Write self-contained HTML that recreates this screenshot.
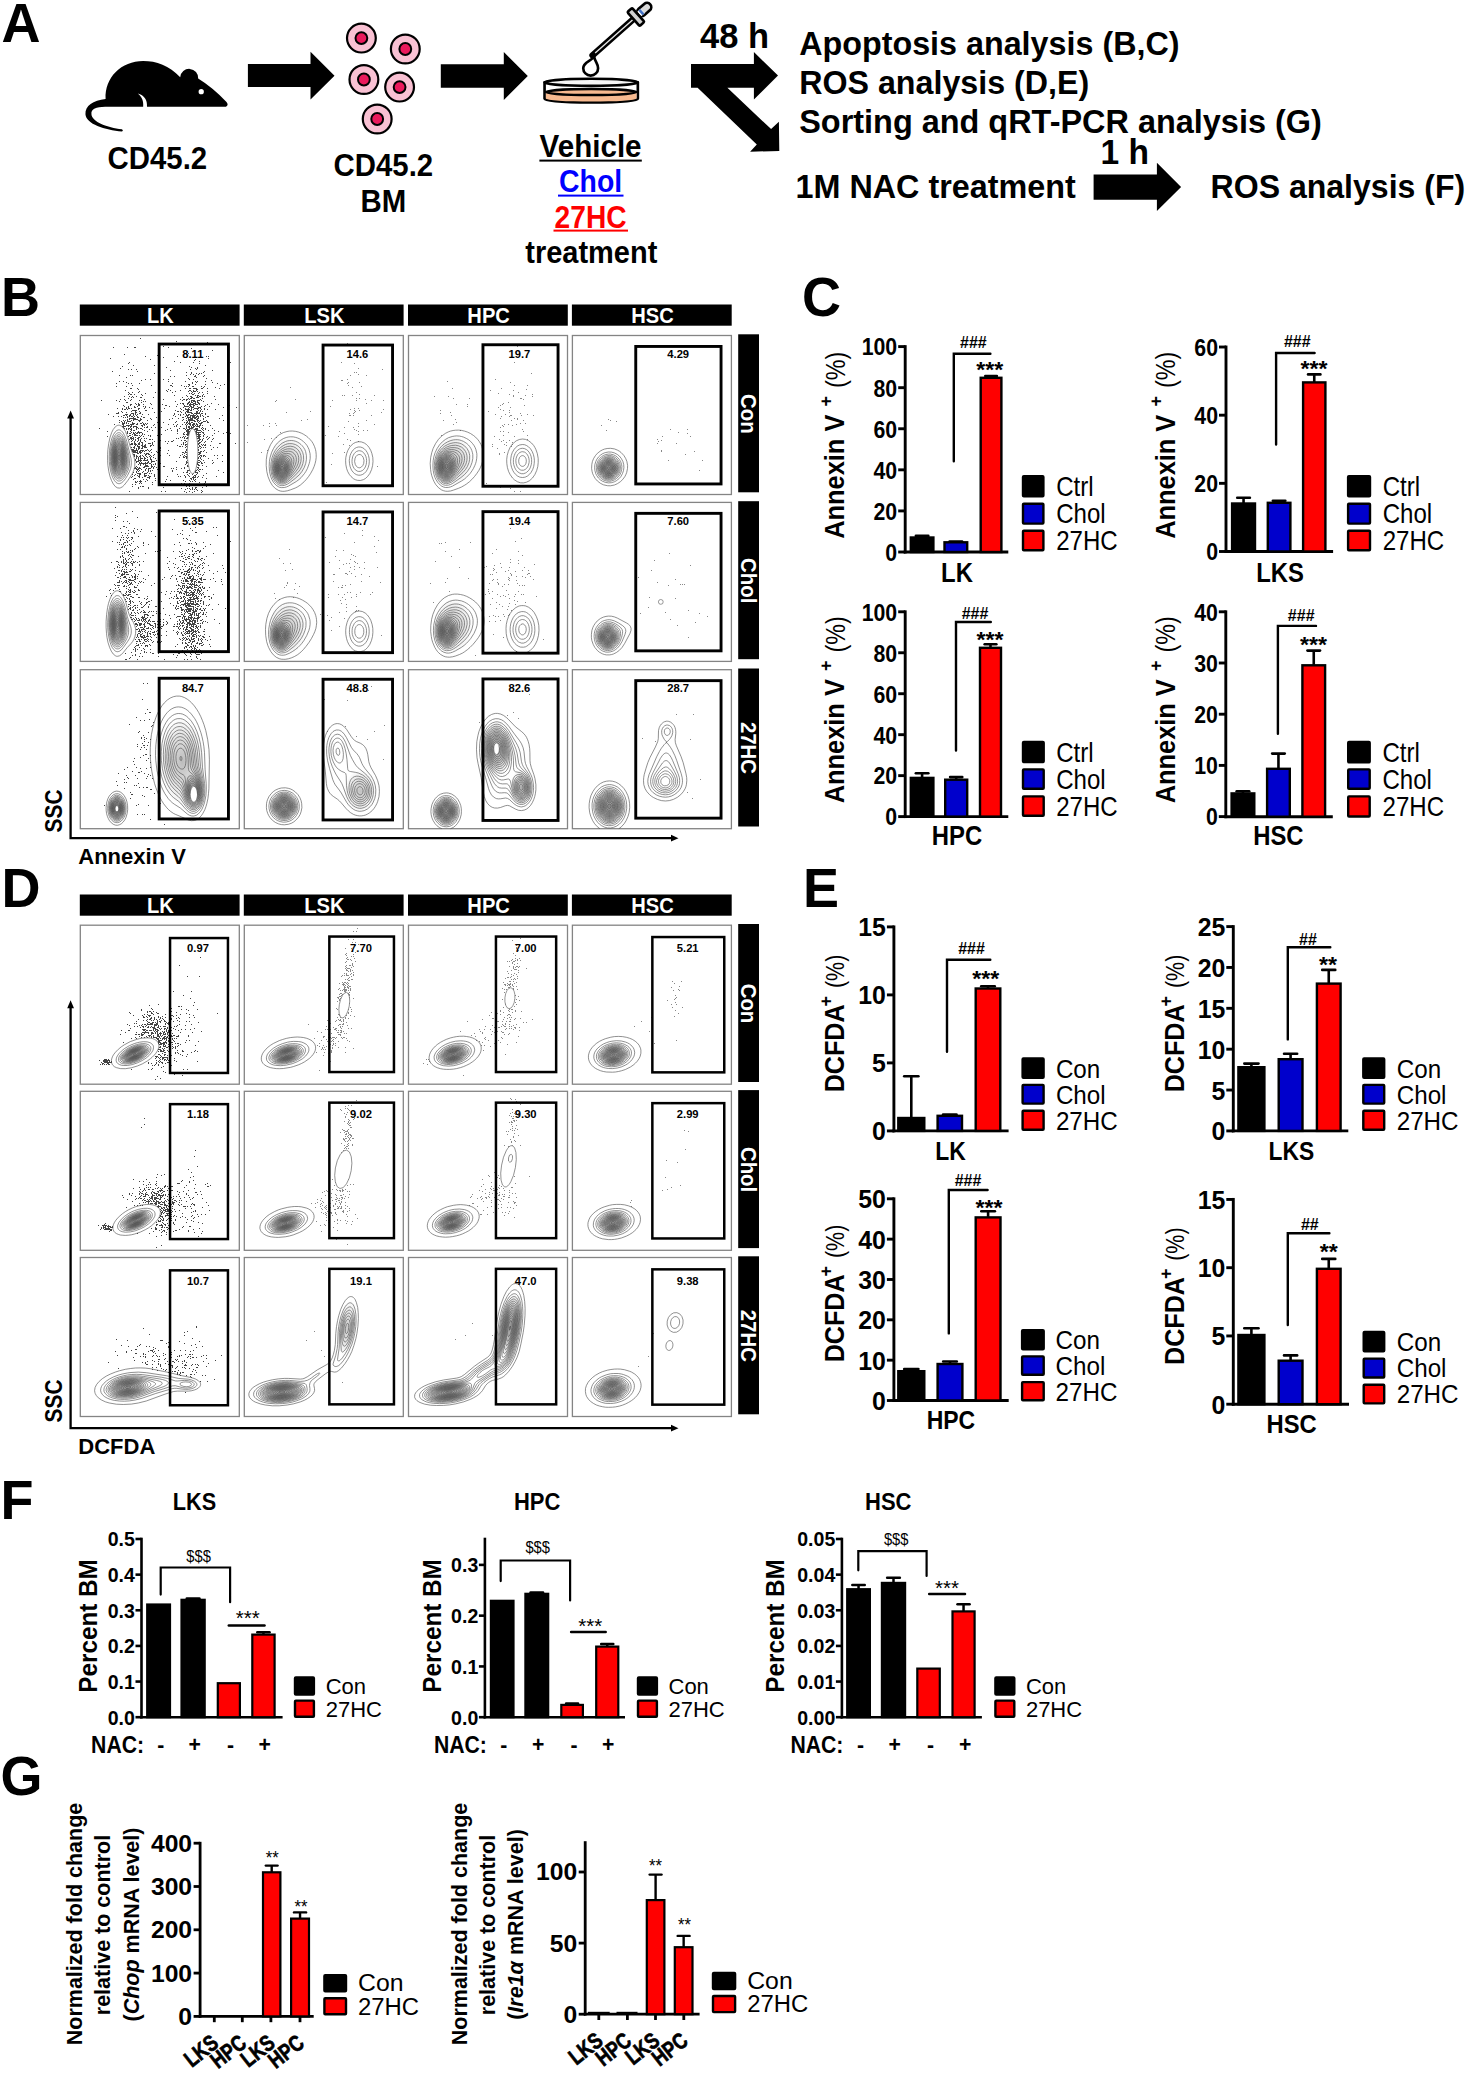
<!DOCTYPE html>
<html><head><meta charset="utf-8"><title>Figure</title>
<style>html,body{margin:0;padding:0;background:#fff}svg{display:block}text{font-family:"Liberation Sans",sans-serif}</style></head>
<body><svg width="1469" height="2074" viewBox="0 0 1469 2074">
<defs><radialGradient id="cg"><stop offset="0" stop-color="#333" stop-opacity=".6"/><stop offset=".55" stop-color="#444" stop-opacity=".32"/><stop offset="1" stop-color="#555" stop-opacity="0"/></radialGradient></defs>
<rect width="1469" height="2074" fill="#fff"/>
<text x="1.4" y="41.7" font-size="56.16" font-weight="bold" textLength="39" lengthAdjust="spacingAndGlyphs">A</text>
<g transform="translate(80 50) scale(0.10892)"><path d="M1340 522 Q1368 505 1345 478 Q1220 345 1085 262 A80 80 0 1 0 920 250 C820 140 700 100 580 100 C380 100 225 250 235 450 C120 465 45 510 50 590 C55 680 230 735 385 748 Q402 740 385 728 C250 712 110 660 105 590 C100 540 150 524 230 522 L580 522 C585 470 570 430 530 400 C590 415 620 460 615 522 Z" fill="#000"/><circle cx="1113" cy="383" r="24" fill="#fff"/></g>
<text x="157.4" y="169.4" font-size="31.1" font-weight="bold" text-anchor="middle" textLength="99.6" lengthAdjust="spacingAndGlyphs">CD45.2</text>
<polygon points="247.9,64 310.5,64 310.5,51.7 334.5,75.7 310.5,99.4 310.5,87.1 247.9,87.1" fill="#000"/>
<circle cx="361.4" cy="38.1" r="14.4" fill="#f9c1d3" stroke="#000" stroke-width="2.2"/>
<circle cx="361.4" cy="38.1" r="5.9" fill="#ea1a5c" stroke="#000" stroke-width="2"/>
<circle cx="405.3" cy="49" r="14.4" fill="#f9c1d3" stroke="#000" stroke-width="2.2"/>
<circle cx="405.3" cy="49" r="5.9" fill="#ea1a5c" stroke="#000" stroke-width="2"/>
<circle cx="363.9" cy="79.5" r="14.4" fill="#f9c1d3" stroke="#000" stroke-width="2.2"/>
<circle cx="363.9" cy="79.5" r="5.9" fill="#ea1a5c" stroke="#000" stroke-width="2"/>
<circle cx="399.6" cy="87.1" r="14.4" fill="#f9c1d3" stroke="#000" stroke-width="2.2"/>
<circle cx="399.6" cy="87.1" r="5.9" fill="#ea1a5c" stroke="#000" stroke-width="2"/>
<circle cx="377.2" cy="119" r="14.4" fill="#f9c1d3" stroke="#000" stroke-width="2.2"/>
<circle cx="377.2" cy="119" r="5.9" fill="#ea1a5c" stroke="#000" stroke-width="2"/>
<text x="383.4" y="176.2" font-size="31.1" font-weight="bold" text-anchor="middle" textLength="99.6" lengthAdjust="spacingAndGlyphs">CD45.2</text>
<text x="383.4" y="211.6" font-size="31.1" font-weight="bold" text-anchor="middle" textLength="45.7" lengthAdjust="spacingAndGlyphs">BM</text>
<polygon points="440.8,64.2 503.8,64.2 503.8,52 527.8,76 503.8,100 503.8,87.7 440.8,87.7" fill="#000"/>
<g transform="translate(535 0) scale(0.0885)"><g transform="translate(650 625) rotate(-41.5)"><rect x="690" y="-48" width="180" height="96" rx="48" fill="#d9d9d9" stroke="#000" stroke-width="30"/><rect x="705" y="-34" width="52" height="68" fill="#fff"/><rect x="722" y="-34" width="30" height="68" fill="#4472c4"/><line x1="0" y1="0" x2="620" y2="0" stroke="#000" stroke-width="72" stroke-linecap="round"/><line x1="40" y1="0" x2="620" y2="0" stroke="#e6e6e6" stroke-width="16"/><rect x="618" y="-105" width="72" height="210" rx="14" fill="#d0d0d0" stroke="#000" stroke-width="30"/></g><path d="M668 640 C640 690 545 700 545 770 A84 84 0 0 0 713 770 C713 720 680 700 668 640 Z" fill="#fff" stroke="#000" stroke-width="30" stroke-linejoin="round"/><path d="M108 930 L108 1115 A527 42 0 0 0 1162 1115 L1162 930 Z" fill="#fff" stroke="#000" stroke-width="30" stroke-linejoin="round"/><path d="M123 1040 L123 1113 A512 34 0 0 0 1147 1113 L1147 1040 Z" fill="#f7b98f"/><ellipse cx="635" cy="1040" rx="512" ry="34" fill="#f7b98f" stroke="#000" stroke-width="28"/><ellipse cx="635" cy="930" rx="527" ry="40" fill="#f6f6f6" stroke="#000" stroke-width="30"/></g>
<text x="590.6" y="157.3" font-size="31.1" font-weight="bold" text-anchor="middle" textLength="102" lengthAdjust="spacingAndGlyphs">Vehicle</text>
<rect x="539.4" y="159.6" width="102.4" height="2" fill="#000"/>
<text x="590.6" y="191.7" font-size="31.1" font-weight="bold" text-anchor="middle" fill="#0000ff" textLength="63" lengthAdjust="spacingAndGlyphs">Chol</text>
<rect x="558" y="194.6" width="65.5" height="2" fill="#0000ff"/>
<text x="590.6" y="227.8" font-size="31.1" font-weight="bold" text-anchor="middle" fill="#ff0000" textLength="72" lengthAdjust="spacingAndGlyphs">27HC</text>
<rect x="553.5" y="229.6" width="74.5" height="2" fill="#ff0000"/>
<text x="591.3" y="263.4" font-size="31.1" font-weight="bold" text-anchor="middle" textLength="132" lengthAdjust="spacingAndGlyphs">treatment</text>
<text x="700.1" y="47.6" font-size="34.94" font-weight="bold" textLength="69" lengthAdjust="spacingAndGlyphs">48 h</text>
<polygon points="691,64.1 753.9,64.1 753.9,52.1 778,75.5 753.9,99.6 753.9,87.8 727.4,87.8 771.1,129.1 778.9,121.7 779.3,150.9 750.1,151.8 756.8,144.4 697.6,87.8 691,87.8" fill="#000"/>
<text x="799.2" y="55.3" font-size="33.9" font-weight="bold" textLength="380.3" lengthAdjust="spacingAndGlyphs">Apoptosis analysis (B,C)</text>
<text x="799.2" y="94" font-size="33.9" font-weight="bold" textLength="290" lengthAdjust="spacingAndGlyphs">ROS analysis (D,E)</text>
<text x="799.2" y="132.7" font-size="33.9" font-weight="bold" textLength="522.6" lengthAdjust="spacingAndGlyphs">Sorting and qRT-PCR analysis (G)</text>
<text x="795.5" y="197.6" font-size="33.9" font-weight="bold" textLength="280.3" lengthAdjust="spacingAndGlyphs">1M NAC treatment</text>
<text x="1100.5" y="164.1" font-size="34.94" font-weight="bold" textLength="48.5" lengthAdjust="spacingAndGlyphs">1 h</text>
<polygon points="1093.6,174.6 1156.9,174.6 1156.9,162.7 1181.1,186.9 1156.9,211 1156.9,199.8 1093.6,199.8" fill="#000"/>
<text x="1210.6" y="197.6" font-size="33.9" font-weight="bold" textLength="254.6" lengthAdjust="spacingAndGlyphs">ROS analysis (F)</text>
<text x="1" y="315.9" font-size="56.16" font-weight="bold" textLength="39" lengthAdjust="spacingAndGlyphs">B</text>
<rect x="79.8" y="304.5" width="159.8" height="21.2" fill="#000"/>
<text x="160.4" y="323.05" font-size="22.1" font-weight="bold" text-anchor="middle" fill="#fff" textLength="26.81" lengthAdjust="spacingAndGlyphs">LK</text>
<rect x="243.8" y="304.5" width="159.8" height="21.2" fill="#000"/>
<text x="324.4" y="323.05" font-size="22.1" font-weight="bold" text-anchor="middle" fill="#fff" textLength="40.22" lengthAdjust="spacingAndGlyphs">LSK</text>
<rect x="408" y="304.5" width="159.8" height="21.2" fill="#000"/>
<text x="488.6" y="323.05" font-size="22.1" font-weight="bold" text-anchor="middle" fill="#fff" textLength="42.46" lengthAdjust="spacingAndGlyphs">HPC</text>
<rect x="571.9" y="304.5" width="159.8" height="21.2" fill="#000"/>
<text x="652.5" y="323.05" font-size="22.1" font-weight="bold" text-anchor="middle" fill="#fff" textLength="42.46" lengthAdjust="spacingAndGlyphs">HSC</text>
<rect x="738.2" y="334.3" width="20.8" height="158" fill="#000"/>
<text x="741.1" y="413.8" font-size="21.74" font-weight="bold" text-anchor="middle" fill="#fff" transform="rotate(90 741.1 413.8)" textLength="39.65" lengthAdjust="spacingAndGlyphs">Con</text>
<rect x="738.2" y="501.2" width="20.8" height="158" fill="#000"/>
<text x="741.1" y="580.7" font-size="21.74" font-weight="bold" text-anchor="middle" fill="#fff" transform="rotate(90 741.1 580.7)" textLength="45.32" lengthAdjust="spacingAndGlyphs">Chol</text>
<rect x="738.2" y="668.5" width="20.8" height="158" fill="#000"/>
<text x="741.1" y="748" font-size="21.74" font-weight="bold" text-anchor="middle" fill="#fff" transform="rotate(90 741.1 748)" textLength="52.15" lengthAdjust="spacingAndGlyphs">27HC</text>
<rect x="80.3" y="335.5" width="159" height="159" fill="#fff" stroke="#848484" stroke-width="1.3"/>
<rect x="244.3" y="335.5" width="159" height="159" fill="#fff" stroke="#848484" stroke-width="1.3"/>
<rect x="408.5" y="335.5" width="159" height="159" fill="#fff" stroke="#848484" stroke-width="1.3"/>
<rect x="572.4" y="335.5" width="159" height="159" fill="#fff" stroke="#848484" stroke-width="1.3"/>
<rect x="80.3" y="502.4" width="159" height="159" fill="#fff" stroke="#848484" stroke-width="1.3"/>
<rect x="244.3" y="502.4" width="159" height="159" fill="#fff" stroke="#848484" stroke-width="1.3"/>
<rect x="408.5" y="502.4" width="159" height="159" fill="#fff" stroke="#848484" stroke-width="1.3"/>
<rect x="572.4" y="502.4" width="159" height="159" fill="#fff" stroke="#848484" stroke-width="1.3"/>
<rect x="80.3" y="669.7" width="159" height="159" fill="#fff" stroke="#848484" stroke-width="1.3"/>
<rect x="244.3" y="669.7" width="159" height="159" fill="#fff" stroke="#848484" stroke-width="1.3"/>
<rect x="408.5" y="669.7" width="159" height="159" fill="#fff" stroke="#848484" stroke-width="1.3"/>
<rect x="572.4" y="669.7" width="159" height="159" fill="#fff" stroke="#848484" stroke-width="1.3"/>
<ellipse cx="118.8" cy="456.5" rx="8.36" ry="23.75" fill="url(#cg)" opacity="1" transform="rotate(0 118.8 456.5)"/><ellipse cx="281.3" cy="469.5" rx="9.5" ry="15.2" fill="url(#cg)" opacity="1" transform="rotate(0 281.3 469.5)"/><ellipse cx="288.3" cy="461.5" rx="19" ry="24.7" fill="url(#cg)" opacity="0.5" transform="rotate(0 288.3 461.5)"/><ellipse cx="445.5" cy="467.5" rx="10.45" ry="17.1" fill="url(#cg)" opacity="1" transform="rotate(0 445.5 467.5)"/><ellipse cx="453.5" cy="460.5" rx="19" ry="24.7" fill="url(#cg)" opacity="0.5" transform="rotate(0 453.5 460.5)"/><ellipse cx="608.4" cy="468.5" rx="10.45" ry="11.4" fill="url(#cg)" opacity="1" transform="rotate(0 608.4 468.5)"/><ellipse cx="117.3" cy="623.4" rx="8.36" ry="24.7" fill="url(#cg)" opacity="1" transform="rotate(0 117.3 623.4)"/><ellipse cx="280.8" cy="636.4" rx="9.5" ry="15.2" fill="url(#cg)" opacity="1" transform="rotate(0 280.8 636.4)"/><ellipse cx="287.3" cy="628.4" rx="19" ry="26.6" fill="url(#cg)" opacity="0.5" transform="rotate(0 287.3 628.4)"/><ellipse cx="446.2" cy="632.4" rx="10.45" ry="17.1" fill="url(#cg)" opacity="1" transform="rotate(0 446.2 632.4)"/><ellipse cx="453.5" cy="625.4" rx="19" ry="26.6" fill="url(#cg)" opacity="0.5" transform="rotate(0 453.5 625.4)"/><ellipse cx="607.4" cy="637.4" rx="10.45" ry="12.35" fill="url(#cg)" opacity="1" transform="rotate(0 607.4 637.4)"/><ellipse cx="116.9" cy="808.2" rx="8.17" ry="12.92" fill="url(#cg)" opacity="1" transform="rotate(0 116.9 808.2)"/><ellipse cx="193.8" cy="791.7" rx="10.45" ry="20.9" fill="url(#cg)" opacity="0.9" transform="rotate(0 193.8 791.7)"/><ellipse cx="182.3" cy="761.7" rx="21.85" ry="43.7" fill="url(#cg)" opacity="0.55" transform="rotate(0 182.3 761.7)"/><ellipse cx="284.1" cy="806.3" rx="13.3" ry="13.87" fill="url(#cg)" opacity="1" transform="rotate(0 284.1 806.3)"/><ellipse cx="360.3" cy="791.2" rx="16.15" ry="20.9" fill="url(#cg)" opacity="0.5" transform="rotate(0 360.3 791.2)"/><ellipse cx="446.2" cy="811.2" rx="11.4" ry="13.68" fill="url(#cg)" opacity="1" transform="rotate(0 446.2 811.2)"/><ellipse cx="496.5" cy="748.4" rx="15.2" ry="26.6" fill="url(#cg)" opacity="0.9" transform="rotate(0 496.5 748.4)"/><ellipse cx="521.5" cy="787.7" rx="11.4" ry="18.05" fill="url(#cg)" opacity="0.7" transform="rotate(0 521.5 787.7)"/><ellipse cx="609.4" cy="806.3" rx="15.2" ry="19" fill="url(#cg)" opacity="1" transform="rotate(0 609.4 806.3)"/>
<path transform="translate(0 .5)" d="m140 338h1m35 3h1m30 1h1m-45 4h1m-51 1h1m13 0h1m6 0h1m0 0h1m32 0h1m22 1h1m20 2h1m-25 3h1m-65 1h1m32 1h1m-13 1h1m31 0h1m28 0h1m1 0h1m-46 1h1m-54 1h1m97 0h1m-59 1h1m44 0h1m-2 1h1m-21 1h1m24 0h1m-71 1h1m50 0h1m12 0h1m36 0h1m-103 1h1m70 0h1m-67 2h1m20 0h1m50 0h1m-84 1h1m66 0h1m-24 1h1m24 0h1m5 0h1m-78 1h1m74 0h1m1 0h1m-70 1h1m2 0h1m4 0h1m53 0h1m5 0h1m-27 1h1m41 0h1m-101 1h1m24 0h1m66 0h1m-19 1h1m4 0h1m11 0h1m25 0h1m-76 1h1m36 0h1m4 0h1m2 0h1m1 0h1m-12 1h1m2 0h1m4 0h1m-80 1h1m10 0h1m1 0h1m53 0h1m8 0h1m8 0h1m-35 1h1m3 0h1m19 0h1m0 0h1m7 0h1m-78 1h1m69 0h1m-9 1h1m17 0h1m-62 1h1m4 0h1m7 0h1m4 0h1m4 0h1m20 0h1m3 0h1m-53 1h1m69 0h1m-93 1h1m3 0h1m44 0h1m16 0h1m9 0h1m1 0h1m7 0h1m-80 1h1m65 0h1m3 0h1m15 0h1m-97 1h1m11 0h1m2 0h1m7 0h1m32 0h1m19 0h1m24 0h1m-30 1h1m0 0h1m5 0h1m9 0h1m18 0h1m-93 1h1m18 0h1m18 0h1m0 0h1m9 0h1m7 0h1m30 0h1m-105 1h1m9 0h1m45 0h1m11 0h1m1 0h1m1 0h1m3 0h1m0 0h1m7 0h1m2 0h1m-2 1h1m11 0h1m-86 1h1m0 0h1m5 0h1m47 0h1m3 0h1m0 0h1m2 0h1m0 0h1m0 0h1m0 0h1m4 0h1m0 0h1m4 0h1m11 0h1m-82 1h1m29 0h1m27 0h1m0 0h1m-73 1h1m40 0h1m3 0h1m9 0h1m8 0h1m0 0h1m2 0h1m2 0h1m31 0h1m-90 1h1m27 0h1m7 0h1m12 0h1m2 0h1m1 0h1m0 0h1m0 0h1m1 0h1m9 0h1m-80 1h1m3 0h1m5 0h1m16 0h1m16 0h1m19 0h1m6 0h1m2 0h1m-74 1h1m15 0h1m43 0h1m1 0h1m2 0h1m3 0h1m8 0h1m-80 1h1m1 0h1m0 0h1m2 0h1m6 0h1m50 0h1m0 0h1m9 0h1m-62 1h1m31 0h1m11 0h1m8 0h1m1 0h1m0 0h1m3 0h1m-79 1h1m4 0h1m2 0h1m3 0h1m50 0h1m2 0h1m0 0h1m5 0h1m1 0h1m0 0h1m1 0h1m1 0h1m9 0h1m-84 1h1m1 0h1m6 0h1m0 0h1m11 0h1m28 0h1m8 0h1m0 0h1m3 0h1m0 0h1m0 0h1m-71 1h1m59 0h1m1 0h1m0 0h1m1 0h1m0 0h1m7 0h1m-83 1h1m3 0h1m6 0h1m12 0h1m18 0h1m16 0h1m2 0h1m0 0h1m1 0h1m0 0h1m1 0h1m10 0h1m14 0h1m-115 1h1m14 0h1m8 0h1m4 0h1m8 0h1m1 0h1m40 0h1m3 0h1m4 0h1m0 0h1m0 0h1m0 0h1m2 0h1m0 0h1m0 0h1m1 0h1m-83 1h1m23 0h1m1 0h1m29 0h1m13 0h1m1 0h1m1 0h1m0 0h1m0 0h1m1 0h1m5 0h1m-78 1h1m0 0h1m13 0h1m46 0h1m0 0h1m1 0h1m0 0h1m2 0h1m1 0h1m0 0h1m-64 1h1m2 0h1m11 0h1m29 0h1m1 0h1m0 0h1m3 0h1m0 0h1m1 0h1m2 0h1m0 0h1m0 0h1m2 0h1m0 0h1m11 0h1m-82 1h1m0 0h1m4 0h1m1 0h1m0 0h1m3 0h1m7 0h1m10 0h1m14 0h1m5 0h1m3 0h1m1 0h1m0 0h1m0 0h1m0 0h1m0 0h1m1 0h1m0 0h1m0 0h1m1 0h1m7 0h1m10 0h1m-96 1h1m6 0h1m7 0h1m0 0h1m25 0h1m0 0h1m17 0h1m4 0h1m0 0h1m2 0h1m0 0h1m10 0h1m23 0h1m-106 1h1m3 0h1m5 0h1m2 0h1m5 0h1m1 0h1m12 0h1m10 0h1m6 0h1m7 0h1m0 0h1m0 0h1m0 0h1m0 0h1m1 0h1m0 0h1m1 0h1m3 0h1m3 0h1m2 0h1m4 0h1m-84 1h1m1 0h1m5 0h1m0 0h1m9 0h1m3 0h1m33 0h1m5 0h1m1 0h1m0 0h1m0 0h1m4 0h1m0 0h1m0 0h1m22 0h1m12 0h1m-120 1h1m4 0h1m3 0h1m1 0h1m0 0h1m1 0h1m6 0h1m0 0h1m4 0h1m7 0h1m11 0h1m15 0h1m4 0h1m2 0h1m2 0h1m2 0h1m0 0h1m0 0h1m0 0h1m0 0h1m1 0h1m3 0h1m-83 1h1m1 0h1m0 0h1m1 0h1m10 0h1m42 0h1m3 0h1m0 0h1m0 0h1m0 0h1m0 0h1m1 0h1m1 0h1m3 0h1m3 0h1m2 0h1m2 0h1m7 0h1m-84 1h1m0 0h1m0 0h1m0 0h1m0 0h1m8 0h1m0 0h1m28 0h1m7 0h1m3 0h1m0 0h1m1 0h1m0 0h1m6 0h1m1 0h1m-80 1h1m9 0h1m3 0h1m3 0h1m21 0h1m15 0h1m0 0h1m1 0h1m5 0h1m0 0h1m0 0h1m7 0h1m0 0h1m2 0h1m1 0h1m-85 1h1m3 0h1m3 0h1m8 0h1m0 0h1m3 0h1m13 0h1m26 0h1m3 0h1m1 0h1m0 0h1m0 0h1m0 0h1m0 0h1m4 0h1m0 0h1m1 0h1m-84 1h1m0 0h1m0 0h1m12 0h1m0 0h1m0 0h1m1 0h1m3 0h1m0 0h1m33 0h1m10 0h1m5 0h1m0 0h1m1 0h1m0 0h1m0 0h1m0 0h1m0 0h1m0 0h1m1 0h1m0 0h1m2 0h1m-98 1h1m16 0h1m0 0h1m0 0h1m2 0h1m2 0h1m1 0h1m1 0h1m4 0h1m5 0h1m25 0h1m3 0h1m1 0h1m2 0h1m2 0h1m1 0h1m0 0h1m3 0h1m2 0h1m3 0h1m4 0h1m-83 1h1m0 0h1m1 0h1m2 0h1m0 0h1m2 0h1m2 0h1m36 0h1m6 0h1m5 0h1m0 0h1m0 0h1m1 0h1m0 0h1m0 0h1m0 0h1m0 0h1m0 0h1m1 0h1m2 0h1m1 0h1m19 0h1m4 0h1m-115 1h1m4 0h1m2 0h1m5 0h1m1 0h1m1 0h1m0 0h1m1 0h1m2 0h1m3 0h1m33 0h1m9 0h1m1 0h1m2 0h1m1 0h1m0 0h1m0 0h1m1 0h1m0 0h1m0 0h1m1 0h1m2 0h1m3 0h1m0 0h1m-86 1h1m1 0h1m1 0h1m5 0h1m3 0h1m0 0h1m4 0h1m0 0h1m11 0h1m25 0h1m0 0h1m3 0h1m0 0h1m0 0h1m0 0h1m1 0h1m0 0h1m0 0h1m0 0h1m0 0h1m1 0h1m6 0h1m-77 1h1m0 0h1m0 0h1m0 0h1m0 0h1m0 0h1m0 0h1m4 0h1m9 0h1m21 0h1m5 0h1m7 0h1m1 0h1m1 0h1m0 0h1m0 0h1m1 0h1m0 0h1m1 0h1m0 0h1m4 0h1m15 0h1m-93 1h1m1 0h1m3 0h1m0 0h1m0 0h1m0 0h1m0 0h1m2 0h1m0 0h1m9 0h1m17 0h1m13 0h1m4 0h1m0 0h1m0 0h1m0 0h1m0 0h1m3 0h1m0 0h1m5 0h1m-85 1h1m3 0h1m1 0h1m1 0h1m3 0h1m1 0h1m4 0h1m0 0h1m0 0h1m6 0h1m34 0h1m3 0h1m1 0h1m0 0h1m0 0h1m0 0h1m0 0h1m0 0h1m0 0h1m2 0h1m0 0h1m1 0h1m5 0h1m16 0h1m-103 1h1m2 0h1m2 0h1m0 0h1m0 0h1m0 0h1m8 0h1m18 0h1m17 0h1m10 0h1m1 0h1m4 0h1m0 0h1m1 0h1m1 0h1m3 0h1m0 0h1m0 0h1m1 0h1m-89 1h1m2 0h1m1 0h1m1 0h1m5 0h1m9 0h1m14 0h1m5 0h1m11 0h1m8 0h1m1 0h1m0 0h1m1 0h1m1 0h1m0 0h1m5 0h1m2 0h1m0 0h1m4 0h1m0 0h1m-87 1h1m0 0h1m0 0h1m1 0h1m1 0h1m3 0h1m0 0h1m0 0h1m2 0h1m2 0h1m0 0h1m1 0h1m1 0h1m1 0h1m38 0h1m1 0h1m0 0h1m0 0h1m2 0h1m0 0h1m1 0h1m2 0h1m0 0h1m0 0h1m-88 1h1m7 0h1m0 0h1m6 0h1m0 0h1m0 0h1m0 0h1m2 0h1m0 0h1m5 0h1m0 0h1m1 0h1m7 0h1m13 0h1m4 0h1m3 0h1m4 0h1m2 0h1m1 0h1m1 0h1m0 0h1m1 0h1m0 0h1m0 0h1m1 0h1m0 0h1m2 0h1m-78 1h1m2 0h1m0 0h1m0 0h1m0 0h1m1 0h1m9 0h1m0 0h1m1 0h1m8 0h1m22 0h1m9 0h1m3 0h1m1 0h1m0 0h1m1 0h1m1 0h1m1 0h1m0 0h1m1 0h1m7 0h1m-89 1h1m0 0h1m0 0h1m0 0h1m2 0h1m1 0h1m0 0h1m1 0h1m0 0h1m0 0h1m0 0h1m5 0h1m4 0h1m26 0h1m1 0h1m3 0h1m5 0h1m1 0h1m0 0h1m1 0h1m1 0h1m0 0h1m1 0h1m0 0h1m0 0h1m0 0h1m-77 1h1m6 0h1m2 0h1m2 0h1m0 0h1m6 0h1m1 0h1m0 0h1m3 0h1m3 0h1m5 0h1m24 0h1m1 0h1m0 0h1m1 0h1m0 0h1m0 0h1m5 0h1m2 0h1m-104 1h1m24 0h1m1 0h1m1 0h1m0 0h1m1 0h1m4 0h1m1 0h1m1 0h1m0 0h1m28 0h1m8 0h1m3 0h1m0 0h1m1 0h1m2 0h1m0 0h1m0 0h1m0 0h1m2 0h1m0 0h1m0 0h1m3 0h1m1 0h1m1 0h1m6 0h1m-87 1h1m1 0h1m1 0h1m0 0h1m4 0h1m5 0h1m6 0h1m17 0h1m9 0h1m7 0h1m1 0h1m0 0h1m0 0h1m2 0h1m0 0h1m0 0h1m0 0h1m0 0h1m0 0h1m4 0h1m2 0h1m-75 1h1m1 0h1m0 0h1m9 0h1m7 0h1m6 0h1m5 0h1m5 0h1m5 0h1m8 0h1m0 0h1m0 0h1m1 0h1m0 0h1m0 0h1m0 0h1m0 0h1m1 0h1m0 0h1m0 0h1m0 0h1m0 0h1m2 0h1m4 0h1m5 0h1m12 0h1m-121 1h1m19 0h1m2 0h1m7 0h1m8 0h1m29 0h1m8 0h1m0 0h1m0 0h1m0 0h1m0 0h1m0 0h1m0 0h1m1 0h1m0 0h1m0 0h1m4 0h1m16 0h1m-92 1h1m3 0h1m1 0h1m1 0h1m1 0h1m0 0h1m0 0h1m0 0h1m0 0h1m42 0h1m2 0h1m0 0h1m0 0h1m4 0h1m0 0h1m0 0h1m0 0h1m0 0h1m0 0h1m0 0h1m1 0h1m0 0h1m22 0h1m-100 1h1m1 0h1m0 0h1m2 0h1m0 0h1m1 0h1m0 0h1m1 0h1m2 0h1m15 0h1m18 0h1m5 0h1m3 0h1m0 0h1m0 0h1m0 0h1m0 0h1m1 0h1m1 0h1m0 0h1m1 0h1m4 0h1m10 0h1m8 0h1m6 0h1m-99 1h1m1 0h1m0 0h1m6 0h1m1 0h1m16 0h1m21 0h1m0 0h1m1 0h1m0 0h1m0 0h1m1 0h1m0 0h1m0 0h1m1 0h1m0 0h1m0 0h1m0 0h1m0 0h1m0 0h1m0 0h1m3 0h1m-76 1h1m0 0h1m3 0h1m0 0h1m0 0h1m0 0h1m1 0h1m1 0h1m6 0h1m1 0h1m6 0h1m29 0h1m0 0h1m0 0h1m4 0h1m0 0h1m0 0h1m1 0h1m0 0h1m3 0h1m8 0h1m-106 1h1m20 0h1m3 0h1m7 0h1m2 0h1m6 0h1m32 0h1m1 0h1m3 0h1m1 0h1m0 0h1m0 0h1m0 0h1m0 0h1m0 0h1m0 0h1m0 0h1m0 0h1m0 0h1m2 0h1m3 0h1m-78 1h1m0 0h1m1 0h1m1 0h1m2 0h1m0 0h1m40 0h1m1 0h1m1 0h1m2 0h1m0 0h1m1 0h1m0 0h1m0 0h1m0 0h1m0 0h1m0 0h1m0 0h1m1 0h1m0 0h1m6 0h1m2 0h1m-80 1h1m0 0h1m0 0h1m0 0h1m3 0h1m0 0h1m2 0h1m2 0h1m1 0h1m29 0h1m1 0h1m5 0h1m1 0h1m0 0h1m1 0h1m0 0h1m0 0h1m0 0h1m2 0h1m0 0h1m0 0h1m0 0h1m0 0h1m3 0h1m4 0h1m4 0h1m-85 1h1m1 0h1m1 0h1m1 0h1m2 0h1m1 0h1m8 0h1m0 0h1m1 0h1m35 0h1m0 0h1m1 0h1m0 0h1m0 0h1m0 0h1m1 0h1m2 0h1m0 0h1m1 0h1m4 0h1m4 0h1m-81 1h1m2 0h1m2 0h1m1 0h1m3 0h1m15 0h1m12 0h1m7 0h1m2 0h1m0 0h1m3 0h1m1 0h1m1 0h1m0 0h1m0 0h1m0 0h1m1 0h1m0 0h1m2 0h1m-72 1h1m2 0h1m2 0h1m2 0h1m4 0h1m8 0h1m10 0h1m2 0h1m2 0h1m0 0h1m13 0h1m1 0h1m1 0h1m1 0h1m0 0h1m0 0h1m0 0h1m0 0h1m0 0h1m0 0h1m2 0h1m3 0h1m5 0h1m-78 1h1m4 0h1m1 0h1m0 0h1m9 0h1m30 0h1m1 0h1m2 0h1m1 0h1m0 0h1m0 0h1m0 0h1m0 0h1m0 0h1m0 0h1m0 0h1m1 0h1m0 0h1m3 0h1m-74 1h1m0 0h1m1 0h1m0 0h1m2 0h1m0 0h1m2 0h1m5 0h1m0 0h1m0 0h1m1 0h1m14 0h1m15 0h1m3 0h1m0 0h1m1 0h1m0 0h1m0 0h1m0 0h1m0 0h1m0 0h1m0 0h1m1 0h1m0 0h1m19 0h1m0 0h1m14 0h1m-106 1h1m0 0h1m0 0h1m1 0h1m0 0h1m0 0h1m1 0h1m0 0h1m2 0h1m2 0h1m6 0h1m28 0h1m1 0h1m1 0h1m0 0h1m0 0h1m1 0h1m0 0h1m0 0h1m0 0h1m0 0h1m0 0h1m1 0h1m0 0h1m0 0h1m2 0h1m1 0h1m1 0h1m-71 1h1m1 0h1m3 0h1m0 0h1m1 0h1m0 0h1m4 0h1m0 0h1m1 0h1m23 0h1m7 0h1m2 0h1m0 0h1m1 0h1m1 0h1m0 0h1m1 0h1m2 0h1m2 0h1m1 0h1m0 0h1m4 0h1m-77 1h1m2 0h1m0 0h1m0 0h1m2 0h1m0 0h1m0 0h1m0 0h1m4 0h1m28 0h1m0 0h1m1 0h1m3 0h1m0 0h1m1 0h1m1 0h1m1 0h1m0 0h1m0 0h1m1 0h1m1 0h1m0 0h1m-70 1h1m1 0h1m0 0h1m3 0h1m0 0h1m2 0h1m1 0h1m0 0h1m0 0h1m13 0h1m24 0h1m1 0h1m1 0h1m0 0h1m2 0h1m0 0h1m2 0h1m0 0h1m2 0h1m1 0h1m1 0h1m7 0h1m3 0h1m-84 1h1m1 0h1m1 0h1m0 0h1m1 0h1m0 0h1m17 0h1m28 0h1m0 0h1m0 0h1m0 0h1m0 0h1m1 0h1m1 0h1m2 0h1m-70 1h1m0 0h1m0 0h1m2 0h1m1 0h1m8 0h1m3 0h1m34 0h1m1 0h1m0 0h1m1 0h1m1 0h1m0 0h1m0 0h1m0 0h1m1 0h1m12 0h1m-80 1h1m0 0h1m0 0h1m0 0h1m0 0h1m0 0h1m2 0h1m0 0h1m0 0h1m0 0h1m1 0h1m0 0h1m1 0h1m1 0h1m7 0h1m1 0h1m7 0h1m17 0h1m3 0h1m0 0h1m1 0h1m3 0h1m0 0h1m5 0h1m-73 1h1m0 0h1m0 0h1m0 0h1m1 0h1m1 0h1m0 0h1m1 0h1m1 0h1m4 0h1m6 0h1m28 0h1m2 0h1m2 0h1m0 0h1m2 0h1m0 0h1m3 0h1m0 0h1m1 0h1m-71 1h1m0 0h1m0 0h1m0 0h1m0 0h1m1 0h1m0 0h1m0 0h1m9 0h1m5 0h1m24 0h1m0 0h1m1 0h1m0 0h1m0 0h1m1 0h1m0 0h1m1 0h1m0 0h1m2 0h1m1 0h1m0 0h1m0 0h1m5 0h1m-70 1h1m0 0h1m1 0h1m3 0h1m1 0h1m0 0h1m0 0h1m18 0h1m16 0h1m2 0h1m1 0h1m0 0h1m1 0h1m1 0h1m0 0h1m0 0h1m2 0h1m0 0h1m-68 1h1m0 0h1m10 0h1m0 0h1m1 0h1m0 0h1m4 0h1m27 0h1m3 0h1m2 0h1m1 0h1m1 0h1m0 0h1m0 0h1m0 0h1m1 0h1m0 0h1m-66 1h1m1 0h1m3 0h1m1 0h1m2 0h1m4 0h1m2 0h1m5 0h1m0 0h1m8 0h1m10 0h1m3 0h1m2 0h1m1 0h1m0 0h1m1 0h1m0 0h1m0 0h1m0 0h1m1 0h1m2 0h1m0 0h1m1 0h1m0 0h1m9 0h1m2 0h1m4 0h1m-89 1h1m1 0h1m0 0h1m1 0h1m0 0h1m2 0h1m2 0h1m2 0h1m1 0h1m31 0h1m1 0h1m0 0h1m0 0h1m1 0h1m0 0h1m0 0h1m1 0h1m0 0h1m0 0h1m0 0h1m2 0h1m1 0h1m1 0h1m1 0h1m-70 1h1m1 0h1m1 0h1m3 0h1m2 0h1m2 0h1m2 0h1m25 0h1m3 0h1m0 0h1m1 0h1m0 0h1m0 0h1m3 0h1m0 0h1m1 0h1m0 0h1m1 0h1m1 0h1m-65 1h1m1 0h1m1 0h1m0 0h1m0 0h1m1 0h1m0 0h1m4 0h1m4 0h1m30 0h1m3 0h1m0 0h1m1 0h1m3 0h1m0 0h1m1 0h1m7 0h1m8 0h1m-83 1h1m2 0h1m1 0h1m3 0h1m2 0h1m2 0h1m0 0h1m37 0h1m0 0h1m2 0h1m1 0h1m1 0h1m3 0h1m-67 1h1m2 0h1m0 0h1m0 0h1m0 0h1m1 0h1m0 0h1m0 0h1m0 0h1m0 0h1m3 0h1m4 0h1m30 0h1m3 0h1m0 0h1m1 0h1m3 0h1m0 0h1m3 0h1m8 0h1m-77 1h1m0 0h1m0 0h1m1 0h1m7 0h1m2 0h1m0 0h1m0 0h1m0 0h1m21 0h1m9 0h1m2 0h1m3 0h1m2 0h1m0 0h1m2 0h1m21 0h1m5 0h1m-93 1h1m2 0h1m1 0h1m3 0h1m1 0h1m0 0h1m2 0h1m34 0h1m0 0h1m2 0h1m0 0h1m3 0h1m0 0h1m0 0h1m0 0h1m0 0h1m1 0h1m2 0h1m8 0h1m-75 1h1m0 0h1m0 0h1m0 0h1m0 0h1m0 0h1m0 0h1m0 0h1m0 0h1m1 0h1m0 0h1m4 0h1m4 0h1m25 0h1m1 0h1m0 0h1m0 0h1m0 0h1m2 0h1m1 0h1m0 0h1m3 0h1m0 0h1m9 0h1m-75 1h1m1 0h1m2 0h1m1 0h1m5 0h1m1 0h1m1 0h1m29 0h1m7 0h1m1 0h1m0 0h1m0 0h1m0 0h1m-59 1h1m4 0h1m0 0h1m0 0h1m3 0h1m35 0h1m2 0h1m0 0h1m0 0h1m0 0h1m1 0h1m2 0h1m0 0h1m2 0h1m-67 1h1m7 0h1m0 0h1m0 0h1m0 0h1m0 0h1m2 0h1m0 0h1m1 0h1m8 0h1m0 0h1m22 0h1m0 0h1m3 0h1m2 0h1m0 0h1m9 0h1m-72 1h1m1 0h1m1 0h1m3 0h1m0 0h1m6 0h1m1 0h1m2 0h1m19 0h1m7 0h1m4 0h1m2 0h1m4 0h1m0 0h1m-65 1h1m0 0h1m0 0h1m1 0h1m0 0h1m0 0h1m5 0h1m1 0h1m0 0h1m0 0h1m2 0h1m5 0h1m11 0h1m1 0h1m7 0h1m2 0h1m5 0h1m0 0h1m1 0h1m1 0h1m2 0h1m-63 1h1m0 0h1m0 0h1m2 0h1m3 0h1m2 0h1m8 0h1m1 0h1m16 0h1m12 0h1m0 0h1m1 0h1m4 0h1m1 0h1m0 0h1m1 0h1m-66 1h1m1 0h1m5 0h1m2 0h1m1 0h1m1 0h1m19 0h1m14 0h1m0 0h1m0 0h1m1 0h1m0 0h1m2 0h1m0 0h1m1 0h1m19 0h1m-83 1h1m1 0h1m4 0h1m4 0h1m1 0h1m7 0h1m13 0h1m14 0h1m4 0h1m0 0h1m0 0h1m0 0h1m3 0h1m-67 1h1m2 0h1m5 0h1m4 0h1m35 0h1m2 0h1m0 0h1m7 0h1m0 0h1m0 0h1m25 0h1m-87 1h1m0 0h1m0 0h1m0 0h1m3 0h1m0 0h1m0 0h1m2 0h1m1 0h1m37 0h1m3 0h1m3 0h1m8 0h1m-75 1h1m2 0h1m3 0h1m0 0h1m3 0h1m9 0h1m22 0h1m9 0h1m4 0h1m3 0h1m-63 1h1m2 0h1m1 0h1m4 0h1m0 0h1m0 0h1m1 0h1m5 0h1m3 0h1m25 0h1m3 0h1m5 0h1m0 0h1m7 0h1m-72 1h1m5 0h1m0 0h1m4 0h1m0 0h1m3 0h1m0 0h1m3 0h1m12 0h1m10 0h1m1 0h1m4 0h1m3 0h1m3 0h1m1 0h1m2 0h1m17 0h1m-86 1h1m7 0h1m2 0h1m4 0h1m0 0h1m0 0h1m35 0h1m6 0h1m0 0h1m0 0h1m0 0h1m1 0h1m4 0h1m-69 1h1m0 0h1m13 0h1m5 0h1m2 0h1m31 0h1m0 0h1m1 0h1m12 0h1m-74 1h1m9 0h1m2 0h1m19 0h1m24 0h1m1 0h1m1 0h1m-56 1h1m6 0h1m7 0h1m14 0h1m12 0h1m5 0h1m4 0h1m-60 1h1m1 0h1m1 0h1m0 0h1m0 0h1m3 0h1m12 0h1m6 0h1m19 0h1m4 0h1m1 0h1m2 0h1m9 0h1m-71 1h1m0 0h1m3 0h1m11 0h1m46 0h1m5 0h1m-67 1h1m1 0h1m39 0h1m2 0h1m4 0h1m14 0h1m-73 1h1m2 0h1m16 0h1m37 0h1m1 0h1m0 0h1m-15 1h1m10 0h1m-59 1h1m7 0h1m1 0h1m0 0h1m42 0h1m2 0h1m16 0h1m-69 1h1m9 0h1m14 0h1m28 0h1m2 0h1m0 0h1m5 0h1m-65 1h1m9 0h1m32 0h1m5 0h1m1 0h1m2 0h1m2 0h1m-11 1h1m4 0h1m1 0h1m1 0h1m1 0h1m0 1h1m3 0h1m-73 1h1m31 0h1m3 0h1m18 0h1m4 0h1m4 0h1m7 0h1m-17 1h1m5 0h1m8 0h1m-87 15h1m16 4h1m23 1h1m-31 1h1m-12 2h1m1 1h1m-3 1h1m21 0h1m36 2h1m-60 1h1m70 0h1m1 0h1m-66 1h1m3 0h1m64 0h1m6 0h1m-71 2h1m-7 3h1m0 0h1m1 1h1m68 0h1m17 0h1m2 0h1m-105 1h1m7 0h1m13 0h1m55 0h1m-54 1h1m3 0h1m30 0h1m-45 1h1m4 0h1m48 0h1m9 0h1m-60 1h1m6 0h1m10 0h1m54 0h1m-86 1h1m9 0h1m2 0h1m60 0h1m0 0h1m-72 1h1m2 0h1m5 0h1m45 0h1m-4 1h1m4 0h1m-61 1h1m4 0h1m61 0h1m27 0h1m-101 1h1m20 0h1m16 0h1m-35 1h1m1 0h1m2 0h1m1 0h1m2 0h1m0 0h1m-6 1h1m4 0h1m50 0h1m2 0h1m-67 1h1m2 0h1m7 0h1m55 0h1m-68 1h1m5 0h1m2 0h1m60 0h1m-79 1h1m14 0h1m5 0h1m96 0h1m-114 1h1m1 0h1m4 0h1m0 0h1m1 0h1m15 0h1m35 0h1m15 0h1m7 0h1m-81 1h1m7 0h1m11 0h1m44 0h1m0 0h1m1 0h1m4 0h1m-78 1h1m1 0h1m1 0h1m5 0h1m18 0h1m25 0h1m21 0h1m13 0h1m-86 1h1m1 0h1m2 0h1m12 0h1m36 0h1m-59 1h1m1 0h1m12 0h1m67 0h1m-85 1h1m0 0h1m1 0h1m13 0h1m53 0h1m-67 1h1m8 0h1m58 0h1m8 0h1m-87 1h1m2 0h1m5 0h1m7 0h1m53 0h1m-59 1h1m1 0h1m27 0h1m25 0h1m5 0h1m4 0h1m0 0h1m1 0h1m-79 1h1m3 0h1m1 0h1m3 0h1m22 0h1m1 0h1m15 0h1m5 0h1m2 0h1m9 0h1m2 0h1m0 0h1m2 0h1m0 0h1m-77 1h1m2 0h1m0 0h1m1 0h1m49 0h1m18 0h1m-78 1h1m1 0h1m20 0h1m36 0h1m2 0h1m8 0h1m1 0h1m16 0h1m-85 1h1m1 0h1m49 0h1m7 0h1m2 0h1m0 0h1m-72 1h1m5 0h1m3 0h1m0 0h1m50 0h1m8 0h1m-74 1h1m1 0h1m7 0h1m7 0h1m40 0h1m1 0h1m0 0h1m5 0h1m0 0h1m2 0h1m6 0h1m6 0h1m-87 1h1m2 0h1m7 0h1m35 0h1m17 0h1m1 0h1m5 0h1m-69 1h1m3 0h1m45 0h1m7 0h1m4 0h1m0 0h1m7 0h1m0 0h1m2 0h1m0 0h1m-80 1h1m1 0h1m2 0h1m3 0h1m52 0h1m0 0h1m4 0h1m6 0h1m1 0h1m3 0h1m-82 1h1m2 0h1m53 0h1m13 0h1m6 0h1m-86 1h1m0 0h1m3 0h1m1 0h1m2 0h1m4 0h1m1 0h1m1 0h1m3 0h1m3 0h1m25 0h1m12 0h1m0 0h1m11 0h1m1 0h1m-87 1h1m6 0h1m2 0h1m1 0h1m1 0h1m1 0h1m0 0h1m1 0h1m2 0h1m0 0h1m2 0h1m20 0h1m25 0h1m4 0h1m1 0h1m11 0h1m-81 1h1m0 0h1m1 0h1m4 0h1m0 0h1m34 0h1m5 0h1m18 0h1m9 0h1m1 0h1m-87 1h1m6 0h1m0 0h1m5 0h1m6 0h1m35 0h1m8 0h1m1 0h1m3 0h1m1 0h1m7 0h1m-82 1h1m5 0h1m2 0h1m3 0h1m6 0h1m54 0h1m0 0h1m3 0h1m2 0h1m5 0h1m13 0h1m-106 1h1m5 0h1m1 0h1m56 0h1m2 0h1m3 0h1m8 0h1m-82 1h1m1 0h1m2 0h1m3 0h1m8 0h1m32 0h1m5 0h1m3 0h1m12 0h1m0 0h1m2 0h1m1 0h1m1 0h1m3 0h1m-90 1h1m62 0h1m11 0h1m1 0h1m5 0h1m4 0h1m20 0h1m-102 1h1m1 0h1m1 0h1m3 0h1m1 0h1m36 0h1m10 0h1m2 0h1m4 0h1m0 0h1m1 0h1m1 0h1m-76 1h1m0 0h1m1 0h1m9 0h1m3 0h1m51 0h1m0 0h1m1 0h1m2 0h1m1 0h1m3 0h1m9 0h1m-89 1h1m1 0h1m0 0h1m1 0h1m2 0h1m0 0h1m8 0h1m1 0h1m36 0h1m0 0h1m4 0h1m0 0h1m0 0h1m0 0h1m1 0h1m7 0h1m1 0h1m17 0h1m-102 1h1m7 0h1m0 0h1m0 0h1m0 0h1m53 0h1m0 0h1m4 0h1m0 0h1m0 0h1m8 0h1m5 0h1m20 0h1m-107 1h1m2 0h1m1 0h1m9 0h1m46 0h1m2 0h1m1 0h1m7 0h1m2 0h1m15 0h1m-93 1h1m0 0h1m0 0h1m0 0h1m1 0h1m0 0h1m0 0h1m6 0h1m2 0h1m44 0h1m0 0h1m1 0h1m1 0h1m0 0h1m8 0h1m1 0h1m2 0h1m-89 1h1m5 0h1m0 0h1m8 0h1m3 0h1m12 0h1m23 0h1m2 0h1m9 0h1m2 0h1m3 0h1m3 0h1m5 0h1m-83 1h1m3 0h1m0 0h1m6 0h1m1 0h1m0 0h1m1 0h1m33 0h1m7 0h1m0 0h1m8 0h1m0 0h1m0 0h1m1 0h1m4 0h1m-82 1h1m0 0h1m4 0h1m0 0h1m0 0h1m3 0h1m2 0h1m1 0h1m0 0h1m28 0h1m19 0h1m2 0h1m1 0h1m0 0h1m2 0h1m7 0h1m-82 1h1m5 0h1m8 0h1m1 0h1m5 0h1m26 0h1m5 0h1m5 0h1m1 0h1m2 0h1m0 0h1m0 0h1m0 0h1m1 0h1m0 0h1m5 0h1m0 0h1m0 0h1m11 0h1m-86 1h1m0 0h1m0 0h1m3 0h1m0 0h1m9 0h1m16 0h1m13 0h1m8 0h1m0 0h1m4 0h1m0 0h1m0 0h1m0 0h1m0 0h1m1 0h1m2 0h1m0 0h1m1 0h1m0 0h1m0 0h1m4 0h1m10 0h1m-103 1h1m5 0h1m0 0h1m2 0h1m0 0h1m0 0h1m0 0h1m0 0h1m47 0h1m1 0h1m1 0h1m0 0h1m0 0h1m2 0h1m0 0h1m0 0h1m3 0h1m4 0h1m-83 1h1m1 0h1m2 0h1m1 0h1m1 0h1m5 0h1m4 0h1m1 0h1m35 0h1m5 0h1m1 0h1m0 0h1m0 0h1m0 0h1m2 0h1m0 0h1m1 0h1m0 0h1m2 0h1m0 0h1m15 0h1m5 0h1m-105 1h1m0 0h1m0 0h1m3 0h1m1 0h1m0 0h1m2 0h1m1 0h1m3 0h1m4 0h1m2 0h1m37 0h1m9 0h1m2 0h1m1 0h1m1 0h1m0 0h1m0 0h1m0 0h1m0 0h1m-81 1h1m4 0h1m2 0h1m0 0h1m6 0h1m15 0h1m27 0h1m0 0h1m0 0h1m2 0h1m0 0h1m1 0h1m1 0h1m1 0h1m-81 1h1m14 0h1m0 0h1m1 0h1m26 0h1m18 0h1m10 0h1m0 0h1m0 0h1m0 0h1m0 0h1m0 0h1m1 0h1m3 0h1m21 0h1m-108 1h1m1 0h1m0 0h1m0 0h1m4 0h1m3 0h1m8 0h1m13 0h1m24 0h1m1 0h1m0 0h1m2 0h1m0 0h1m0 0h1m1 0h1m4 0h1m2 0h1m0 0h1m0 0h1m0 0h1m1 0h1m-77 1h1m0 0h1m1 0h1m7 0h1m45 0h1m1 0h1m1 0h1m2 0h1m1 0h1m0 0h1m1 0h1m1 0h1m3 0h1m3 0h1m-85 1h1m10 0h1m4 0h1m0 0h1m0 0h1m45 0h1m1 0h1m1 0h1m0 0h1m0 0h1m0 0h1m0 0h1m0 0h1m2 0h1m0 0h1m0 0h1m2 0h1m0 0h1m1 0h1m1 0h1m4 0h1m-95 1h1m10 0h1m51 0h1m1 0h1m0 0h1m1 0h1m3 0h1m0 0h1m2 0h1m0 0h1m5 0h1m1 0h1m2 0h1m0 0h1m-95 1h1m8 0h1m8 0h1m1 0h1m7 0h1m38 0h1m3 0h1m4 0h1m7 0h1m0 0h1m1 0h1m0 0h1m2 0h1m-93 1h1m3 0h1m15 0h1m0 0h1m3 0h1m3 0h1m0 0h1m42 0h1m3 0h1m2 0h1m0 0h1m2 0h1m1 0h1m1 0h1m0 0h1m0 0h1m1 0h1m5 0h1m-89 1h1m0 0h1m5 0h1m1 0h1m1 0h1m1 0h1m2 0h1m30 0h1m4 0h1m2 0h1m2 0h1m0 0h1m1 0h1m3 0h1m0 0h1m0 0h1m4 0h1m2 0h1m2 0h1m1 0h1m0 0h1m-75 1h1m2 0h1m0 0h1m2 0h1m0 0h1m26 0h1m17 0h1m0 0h1m0 0h1m3 0h1m0 0h1m0 0h1m0 0h1m1 0h1m0 0h1m0 0h1m0 0h1m0 0h1m2 0h1m1 0h1m3 0h1m-94 1h1m14 0h1m44 0h1m8 0h1m1 0h1m1 0h1m0 0h1m1 0h1m2 0h1m2 0h1m0 0h1m2 0h1m1 0h1m1 0h1m1 0h1m-80 1h1m2 0h1m1 0h1m0 0h1m0 0h1m5 0h1m0 0h1m27 0h1m10 0h1m7 0h1m1 0h1m1 0h1m1 0h1m0 0h1m0 0h1m0 0h1m0 0h1m4 0h1m1 0h1m1 0h1m9 0h1m-103 1h1m11 0h1m0 0h1m0 0h1m1 0h1m0 0h1m30 0h1m16 0h1m9 0h1m0 0h1m0 0h1m0 0h1m0 0h1m1 0h1m0 0h1m1 0h1m0 0h1m4 0h1m-96 1h1m23 0h1m0 0h1m15 0h1m26 0h1m1 0h1m3 0h1m2 0h1m0 0h1m7 0h1m1 0h1m1 0h1m1 0h1m5 0h1m0 0h1m2 0h1m0 0h1m-84 1h1m5 0h1m0 0h1m4 0h1m0 0h1m19 0h1m11 0h1m5 0h1m3 0h1m1 0h1m1 0h1m3 0h1m0 0h1m0 0h1m1 0h1m2 0h1m0 0h1m6 0h1m6 0h1m-85 1h1m1 0h1m14 0h1m2 0h1m21 0h1m3 0h1m2 0h1m0 0h1m0 0h1m1 0h1m0 0h1m2 0h1m2 0h1m2 0h1m2 0h1m0 0h1m0 0h1m0 0h1m0 0h1m0 0h1m2 0h1m9 0h1m-87 1h1m3 0h1m16 0h1m37 0h1m3 0h1m0 0h1m0 0h1m0 0h1m0 0h1m0 0h1m0 0h1m2 0h1m11 0h1m-80 1h1m20 0h1m27 0h1m3 0h1m1 0h1m1 0h1m0 0h1m0 0h1m0 0h1m4 0h1m2 0h1m1 0h1m0 0h1m-76 1h1m2 0h1m0 0h1m1 0h1m6 0h1m8 0h1m0 0h1m11 0h1m15 0h1m3 0h1m0 0h1m0 0h1m1 0h1m2 0h1m1 0h1m0 0h1m0 0h1m0 0h1m1 0h1m1 0h1m0 0h1m1 0h1m2 0h1m-74 1h1m2 0h1m7 0h1m4 0h1m0 0h1m29 0h1m2 0h1m4 0h1m1 0h1m2 0h1m2 0h1m1 0h1m7 0h1m-74 1h1m9 0h1m5 0h1m23 0h1m6 0h1m0 0h1m5 0h1m0 0h1m0 0h1m0 0h1m0 0h1m0 0h1m0 0h1m0 0h1m0 0h1m0 0h1m2 0h1m0 0h1m2 0h1m2 0h1m-76 1h1m0 0h1m11 0h1m3 0h1m3 0h1m31 0h1m0 0h1m0 0h1m0 0h1m0 0h1m1 0h1m0 0h1m0 0h1m1 0h1m0 0h1m0 0h1m0 0h1m0 0h1m0 0h1m0 0h1m0 0h1m4 0h1m5 0h1m8 0h1m-89 1h1m3 0h1m0 0h1m1 0h1m6 0h1m28 0h1m2 0h1m3 0h1m2 0h1m1 0h1m0 0h1m0 0h1m0 0h1m0 0h1m0 0h1m4 0h1m3 0h1m6 0h1m1 0h1m-81 1h1m4 0h1m9 0h1m4 0h1m6 0h1m0 0h1m2 0h1m16 0h1m1 0h1m6 0h1m0 0h1m1 0h1m0 0h1m0 0h1m0 0h1m0 0h1m0 0h1m3 0h1m0 0h1m2 0h1m-72 1h1m1 0h1m2 0h1m1 0h1m3 0h1m0 0h1m5 0h1m26 0h1m4 0h1m0 0h1m4 0h1m0 0h1m5 0h1m1 0h1m-67 1h1m0 0h1m4 0h1m27 0h1m11 0h1m1 0h1m0 0h1m2 0h1m5 0h1m0 0h1m0 0h1m0 0h1m0 0h1m1 0h1m2 0h1m0 0h1m2 0h1m2 0h1m1 0h1m19 0h1m-98 1h1m1 0h1m2 0h1m5 0h1m36 0h1m4 0h1m0 0h1m0 0h1m1 0h1m0 0h1m0 0h1m0 0h1m0 0h1m0 0h1m0 0h1m1 0h1m1 0h1m1 0h1m1 0h1m0 0h1m3 0h1m7 0h1m-81 1h1m0 0h1m3 0h1m5 0h1m15 0h1m21 0h1m0 0h1m1 0h1m1 0h1m1 0h1m0 0h1m0 0h1m1 0h1m0 0h1m1 0h1m0 0h1m4 0h1m0 0h1m1 0h1m-64 1h1m2 0h1m4 0h1m1 0h1m1 0h1m2 0h1m2 0h1m24 0h1m1 0h1m0 0h1m0 0h1m0 0h1m0 0h1m2 0h1m0 0h1m0 0h1m0 0h1m-66 1h1m2 0h1m2 0h1m2 0h1m2 0h1m0 0h1m0 0h1m2 0h1m32 0h1m3 0h1m1 0h1m4 0h1m0 0h1m0 0h1m5 0h1m2 0h1m2 0h1m-76 1h1m3 0h1m2 0h1m17 0h1m3 0h1m23 0h1m3 0h1m0 0h1m0 0h1m1 0h1m1 0h1m1 0h1m1 0h1m0 0h1m3 0h1m-74 1h1m13 0h1m0 0h1m0 0h1m0 0h1m17 0h1m8 0h1m6 0h1m0 0h1m1 0h1m5 0h1m0 0h1m0 0h1m1 0h1m1 0h1m1 0h1m3 0h1m0 0h1m1 0h1m-75 1h1m0 0h1m0 0h1m1 0h1m8 0h1m2 0h1m0 0h1m3 0h1m0 0h1m15 0h1m13 0h1m5 0h1m0 0h1m0 0h1m2 0h1m1 0h1m0 0h1m0 0h1m-57 1h1m1 0h1m32 0h1m0 0h1m0 0h1m0 0h1m2 0h1m0 0h1m0 0h1m2 0h1m2 0h1m6 0h1m1 0h1m5 0h1m-77 1h1m0 0h1m3 0h1m5 0h1m0 0h1m0 0h1m0 0h1m2 0h1m2 0h1m25 0h1m5 0h1m1 0h1m3 0h1m0 0h1m0 0h1m0 0h1m0 0h1m1 0h1m2 0h1m0 0h1m0 0h1m-67 1h1m2 0h1m1 0h1m3 0h1m0 0h1m1 0h1m0 0h1m23 0h1m11 0h1m1 0h1m1 0h1m1 0h1m1 0h1m0 0h1m1 0h1m0 0h1m0 0h1m0 0h1m0 0h1m0 0h1m-68 1h1m0 0h1m1 0h1m1 0h1m2 0h1m1 0h1m1 0h1m0 0h1m0 0h1m3 0h1m10 0h1m2 0h1m15 0h1m4 0h1m0 0h1m0 0h1m0 0h1m0 0h1m0 0h1m1 0h1m1 0h1m3 0h1m4 0h1m11 0h1m-80 1h1m1 0h1m0 0h1m0 0h1m1 0h1m1 0h1m1 0h1m2 0h1m0 0h1m29 0h1m2 0h1m0 0h1m1 0h1m0 0h1m2 0h1m0 0h1m1 0h1m0 0h1m0 0h1m0 0h1m1 0h1m2 0h1m0 0h1m-68 1h1m7 0h1m1 0h1m1 0h1m1 0h1m1 0h1m1 0h1m0 0h1m0 0h1m2 0h1m2 0h1m5 0h1m10 0h1m2 0h1m2 0h1m2 0h1m2 0h1m0 0h1m0 0h1m0 0h1m1 0h1m0 0h1m1 0h1m5 0h1m1 0h1m-68 1h1m6 0h1m1 0h1m15 0h1m3 0h1m12 0h1m1 0h1m0 0h1m3 0h1m0 0h1m0 0h1m2 0h1m1 0h1m0 0h1m6 0h1m4 0h1m-73 1h1m0 0h1m2 0h1m0 0h1m0 0h1m2 0h1m2 0h1m0 0h1m0 0h1m4 0h1m0 0h1m11 0h1m9 0h1m1 0h1m1 0h1m0 0h1m1 0h1m2 0h1m0 0h1m0 0h1m0 0h1m1 0h1m0 0h1m0 0h1m2 0h1m0 0h1m1 0h1m1 0h1m16 0h1m-85 1h1m0 0h1m0 0h1m1 0h1m0 0h1m0 0h1m1 0h1m0 0h1m4 0h1m0 0h1m4 0h1m1 0h1m2 0h1m2 0h1m2 0h1m7 0h1m2 0h1m1 0h1m6 0h1m0 0h1m1 0h1m0 0h1m0 0h1m0 0h1m0 0h1m0 0h1m0 0h1m-59 1h1m1 0h1m0 0h1m3 0h1m5 0h1m0 0h1m0 0h1m2 0h1m2 0h1m4 0h1m16 0h1m1 0h1m0 0h1m3 0h1m1 0h1m1 0h1m1 0h1m2 0h1m3 0h1m-65 1h1m7 0h1m0 0h1m7 0h1m1 0h1m3 0h1m1 0h1m0 0h1m10 0h1m0 0h1m1 0h1m0 0h1m1 0h1m2 0h1m3 0h1m0 0h1m3 0h1m0 0h1m0 0h1m1 0h1m0 0h1m1 0h1m1 0h1m-61 1h1m0 0h1m0 0h1m1 0h1m3 0h1m3 0h1m2 0h1m1 0h1m2 0h1m17 0h1m5 0h1m1 0h1m0 0h1m1 0h1m0 0h1m2 0h1m2 0h1m0 0h1m2 0h1m-63 1h1m4 0h1m2 0h1m0 0h1m0 0h1m1 0h1m2 0h1m7 0h1m16 0h1m1 0h1m2 0h1m2 0h1m3 0h1m0 0h1m3 0h1m1 0h1m-62 1h1m0 0h1m1 0h1m1 0h1m0 0h1m0 0h1m0 0h1m6 0h1m27 0h1m3 0h1m1 0h1m0 0h1m0 0h1m3 0h1m0 0h1m0 0h1m4 0h1m5 0h1m-66 1h1m1 0h1m3 0h1m11 0h1m15 0h1m11 0h1m2 0h1m0 0h1m1 0h1m0 0h1m0 0h1m1 0h1m1 0h1m-60 1h1m0 0h1m0 0h1m1 0h1m1 0h1m3 0h1m1 0h1m3 0h1m1 0h1m9 0h1m10 0h1m5 0h1m2 0h1m0 0h1m0 0h1m0 0h1m0 0h1m0 0h1m1 0h1m0 0h1m0 0h1m0 0h1m1 0h1m4 0h1m0 0h1m-65 1h1m4 0h1m1 0h1m4 0h1m0 0h1m0 0h1m3 0h1m17 0h1m1 0h1m2 0h1m3 0h1m1 0h1m1 0h1m2 0h1m0 0h1m1 0h1m2 0h1m0 0h1m-62 1h1m0 0h1m2 0h1m4 0h1m1 0h1m0 0h1m6 0h1m19 0h1m3 0h1m2 0h1m1 0h1m0 0h1m0 0h1m0 0h1m1 0h1m0 0h1m3 0h1m-60 1h1m2 0h1m0 0h1m5 0h1m2 0h1m2 0h1m1 0h1m1 0h1m19 0h1m4 0h1m2 0h1m5 0h1m1 0h1m0 0h1m0 0h1m8 0h1m-68 1h1m2 0h1m2 0h1m0 0h1m2 0h1m6 0h1m6 0h1m4 0h1m15 0h1m0 0h1m5 0h1m2 0h1m0 0h1m2 0h1m1 0h1m1 0h1m-64 1h1m2 0h1m0 0h1m0 0h1m1 0h1m1 0h1m0 0h1m0 0h1m1 0h1m36 0h1m1 0h1m2 0h1m0 0h1m0 0h1m1 0h1m2 0h1m2 0h1m0 0h1m5 0h1m-74 1h1m1 0h1m2 0h1m0 0h1m0 0h1m0 0h1m0 0h1m5 0h1m4 0h1m26 0h1m1 0h1m5 0h1m4 0h1m6 0h1m0 0h1m-62 1h1m3 0h1m31 0h1m2 0h1m1 0h1m1 0h1m1 0h1m2 0h1m1 0h1m0 0h1m3 0h1m2 0h1m-67 1h1m2 0h1m0 0h1m1 0h1m2 0h1m0 0h1m0 0h1m1 0h1m1 0h1m29 0h1m2 0h1m2 0h1m0 0h1m1 0h1m1 0h1m0 0h1m0 0h1m4 0h1m1 0h1m1 0h1m2 0h1m4 0h1m-72 1h1m4 0h1m2 0h1m3 0h1m30 0h1m2 0h1m3 0h1m0 0h1m3 0h1m3 0h1m2 0h1m5 0h1m-72 1h1m0 0h1m1 0h1m0 0h1m4 0h1m0 0h1m1 0h1m4 0h1m3 0h1m3 0h1m28 0h1m1 0h1m0 0h1m0 0h1m6 0h1m-59 1h1m8 0h1m4 0h1m2 0h1m21 0h1m2 0h1m2 0h1m0 0h1m2 0h1m4 0h1m4 0h1m-67 1h1m3 0h1m1 0h1m1 0h1m37 0h1m2 0h1m0 0h1m4 0h1m4 0h1m0 0h1m1 0h1m0 0h1m0 0h1m-64 1h1m10 0h1m9 0h1m17 0h1m9 0h1m3 0h1m7 0h1m3 0h1m5 0h1m-74 1h1m0 0h1m0 0h1m2 0h1m3 0h1m0 0h1m0 0h1m2 0h1m36 0h1m0 0h1m4 0h1m1 0h1m5 0h1m0 0h1m-68 1h1m9 0h1m1 0h1m27 0h1m9 0h1m0 0h1m3 0h1m0 0h1m1 0h1m1 0h1m14 0h1m-77 1h1m4 0h1m44 0h1m1 0h1m2 0h1m1 0h1m2 0h1m2 0h1m-63 1h1m7 0h1m40 0h1m7 0h1m1 0h1m0 0h1m-63 1h1m1 0h1m1 0h1m6 0h1m5 0h1m36 0h1m3 0h1m2 0h1m1 0h1m2 0h1m-65 1h1m5 0h1m40 0h1m9 0h1m3 0h1m1 0h1m1 0h1m-66 1h1m8 0h1m43 0h1m11 0h1m-70 1h1m12 0h1m1 0h1m3 0h1m25 0h1m11 0h1m1 0h1m8 0h1m-75 1h1m14 0h1m11 0h1m0 0h1m4 0h1m19 0h1m0 0h1m4 0h1m5 0h1m4 0h1m5 0h1m-67 1h1m37 0h1m11 0h1m5 0h1m4 0h1m0 0h1m0 0h1m0 0h1m-68 1h1m2 0h1m41 0h1m8 0h1m-48 1h1m2 0h1m15 0h1m31 0h1m5 0h1m-67 1h1m45 0h1m19 0h1m-68 1h1m67 0h1m-73 1h1m0 0h1m10 0h1m26 0h1m19 0h1m2 0h1m3 0h1m8 0h1m-58 24h1m3 0h1m-6 16h1m4 10h1m1 3h1m0 0h1m-6 1h1m-10 4h1m12 2h1m-10 1h1m3 0h1m8 2h1m-25 2h1m22 1h1m-2 1h1m-13 5h1m-2 1h1m9 0h1m-6 3h1m-3 2h1m2 0h1m-4 1h1m4 0h1m-3 1h1m5 0h1m-7 2h1m3 1h1m-7 1h1m-6 1h1m5 1h1m0 0h1m2 0h1m-11 1h1m3 1h1m2 0h1m-5 2h1m5 0h1m-2 5h1m0 0h1m-4 1h1m6 0h1m-11 2h1m-7 1h1m13 0h1m-3 2h1m-14 1h1m16 1h1m-17 2h1m-8 3h1m8 0h1m13 0h1m-11 1h1m5 0h1m-23 1h1m7 2h1m8 0h1m-4 1h1m0 0h1m-22 1h1m25 0h1m3 1h1m-23 1h1m8 0h1m14 0h1m-4 1h1m-21 1h1m0 1h1m8 0h1m8 0h1m5 0h1m-29 1h1m-9 2h1m7 1h1m1 0h1m11 1h1m-22 2h1m16 0h1m1 0h1m2 2h1m3 0h1m2 0h1m0 0h1m-24 1h1m25 1h1m0 0h1m-22 3h1m23 1h1m-24 1h1m0 0h1m9 1h1m1 1h1m-15 2h1m28 4h1m0 1h1m-23 1h1m-35 1h1m31 0h1m11 0h1m-12 9h1m4 0h1m1 0h1m5 5h1m13 5h1" fill="none" stroke="#222" stroke-opacity=".85" stroke-width="1"/>
<path transform="translate(0 .5)" d="m347 343h1m1 2h1m167 1h1m-177 16h1m172 0h1m-161 1h1m3 5h1m23 1h1m-29 3h1m1 0h1m174 1h1m-174 1h1m-9 1h1m15 0h1m-20 4h1m147 0h1m-155 1h1m0 0h1m104 1h1m-100 1h1m10 0h1m150 0h1m-164 1h1m-25 2h1m24 0h1m165 0h1m12 0h1m-167 1h1m-72 1h1m61 0h1m99 1h1m48 0h1m24 1h1m-37 1h1m22 0h1m-158 2h1m161 0h1m-21 1h1m-140 1h1m149 0h1m22 0h1m-191 1h1m1 0h1m7 0h1m21 0h1m138 0h1m11 0h1m-92 1h1m13 0h1m64 0h1m18 0h1m-177 2h1m2 0h1m93 0h1m15 0h1m50 0h1m0 0h1m-227 1h1m69 0h1m116 0h1m40 0h1m-248 1h1m55 0h1m23 0h1m14 0h1m11 0h1m-109 1h1m232 1h1m-143 1h1m136 0h1m-48 1h1m10 0h1m34 0h1m-3 1h1m23 0h1m-195 1h1m136 0h1m30 1h1m11 0h1m-157 1h1m3 0h1m-9 1h1m32 0h1m116 0h1m-147 1h1m4 0h1m80 0h1m62 0h1m5 0h1m-200 1h1m44 0h1m132 0h1m-203 1h1m67 0h1m26 0h1m68 0h1m58 0h1m-161 1h1m3 0h1m86 0h1m79 0h1m-26 1h1m9 0h1m21 0h1m-179 1h1m0 0h1m2 0h1m17 0h1m79 0h1m58 0h1m0 0h1m9 0h1m11 0h1m-33 1h1m7 0h1m-10 2h1m13 0h1m2 0h1m-211 1h1m147 0h1m61 0h1m90 0h1m-308 1h1m64 0h1m76 0h1m67 0h1m11 0h1m86 0h1m-263 1h1m267 0h1m-161 1h1m-188 1h1m5 0h1m82 0h1m161 0h1m4 0h1m-152 1h1m78 0h1m50 0h1m3 0h1m7 0h1m-270 1h1m15 0h1m12 0h1m225 0h1m9 0h1m88 0h1m-333 1h1m58 0h1m29 0h1m144 0h1m-160 1h1m8 0h1m146 0h1m-147 2h1m167 0h1m147 0h1m16 0h1m-332 1h1m6 0h1m3 0h1m92 0h1m145 0h1m-268 1h1m18 0h1m141 0h1m2 0h1m19 0h1m-244 1h1m227 0h1m169 0h1m-335 1h1m342 0h1m-330 1h1m-34 1h1m115 0h1m61 0h1m23 0h1m-190 1h1m155 0h1m19 0h1m147 0h1m27 0h1m-415 1h1m-6 1h1m-8 1h1m82 0h1m151 0h1m27 0h1m129 0h1m-308 1h1m152 0h1m5 0h1m151 0h1m-304 1h1m142 0h1m156 0h1m-412 1h1m258 0h1m5 0h1m144 1h1m18 0h1m-334 1h1m148 0h1m11 0h1m7 0h1m-164 1h1m156 0h1m-15 1h1m18 0h1m-15 2h1m-231 2h1m393 0h1m-1 1h1m32 0h1m-434 1h1m82 0h1m159 0h1m-173 1h1m166 0h1m-1 1h1m185 0h1m-18 6h1m33 0h1m-372 4h1m45 2h1m321 4h1m-374 12h1m159 1h1m13 4h1m9 1h1m3 3h1m5 0h1m-198 34h1m186 3h1m-149 2h1m-19 3h1m17 2h1m11 1h1m-53 1h1m2 0h1m195 1h1m-144 2h1m136 1h1m-162 1h1m90 0h1m24 0h1m-32 1h1m1 0h1m-68 3h1m-86 3h1m169 0h1m36 0h1m-161 1h1m6 0h1m101 1h1m72 0h1m-143 1h1m115 1h1m176 0h1m-319 1h1m1 1h1m168 0h1m-188 1h1m19 0h1m95 0h1m-173 2h1m70 1h1m159 0h1m-172 1h1m178 0h1m135 0h1m-301 1h1m80 0h1m-107 1h1m25 0h1m8 0h1m145 0h1m-228 1h1m6 0h1m55 0h1m2 0h1m7 0h1m142 0h1m17 0h1m-176 1h1m190 0h1m-41 1h1m195 0h1m-337 1h1m131 0h1m-137 1h1m8 0h1m17 0h1m81 0h1m24 0h1m16 0h1m7 0h1m14 0h1m-186 1h1m24 0h1m128 0h1m-202 1h1m61 0h1m139 0h1m-210 1h1m207 0h1m14 0h1m13 0h1m5 0h1m122 0h1m-303 1h1m155 0h1m9 0h1m-20 1h1m-152 1h1m0 0h1m4 0h1m158 0h1m17 0h1m0 0h1m-197 1h1m0 0h1m12 0h1m13 0h1m128 0h1m1 0h1m18 0h1m15 0h1m-17 1h1m-157 1h1m13 0h1m146 0h1m5 0h1m7 0h1m-23 1h1m16 0h1m112 0h1m-192 1h1m20 0h1m40 0h1m-17 1h1m3 0h1m10 0h1m24 0h1m141 0h1m-184 1h1m16 0h1m6 0h1m-184 1h1m27 0h1m-75 1h1m92 0h1m64 0h1m51 0h1m159 0h1m-371 1h1m7 0h1m134 0h1m58 0h1m8 0h1m18 0h1m-168 1h1m147 0h1m5 0h1m3 0h1m171 0h1m1 0h1m1 0h1m-399 1h1m55 0h1m2 0h1m173 0h1m2 0h1m1 0h1m143 0h1m-370 1h1m202 0h1m-219 1h1m53 0h1m2 0h1m0 0h1m-49 2h1m193 0h1m17 1h1m-58 1h1m38 0h1m3 0h1m25 0h1m-172 1h1m2 0h1m9 0h1m11 0h1m-99 1h1m22 0h1m191 0h1m-162 1h1m9 0h1m5 0h1m11 0h1m13 0h1m114 0h1m11 0h1m10 0h1m6 0h1m5 0h1m1 0h1m-21 1h1m-148 1h1m143 0h1m4 0h1m8 0h1m21 0h1m-244 1h1m34 0h1m13 0h1m8 0h1m297 0h1m-375 1h1m216 0h1m16 0h1m165 0h1m-397 1h1m65 0h1m-6 1h1m173 0h1m2 1h1m-85 1h1m62 0h1m28 0h1m-185 1h1m167 0h1m-164 1h1m143 0h1m8 0h1m15 0h1m-160 2h1m145 0h1m5 0h1m-163 1h1m301 0h1m-153 1h1m10 1h1m-152 1h1m1 0h1m152 0h1m176 0h1m-343 1h1m8 0h1m-17 1h1m325 0h1m-26 1h1m58 0h1m-380 1h1m182 0h1m5 0h1m-183 1h1m165 0h1m14 0h1m126 0h1m-147 1h1m5 0h1m2 0h1m5 0h1m202 0h1m-377 1h1m12 1h1m325 1h1m-342 1h1m170 0h1m-12 1h1m5 0h1m199 1h1m-19 3h1m-339 1h1m-9 4h1m161 4h1m-113 1h1m121 2h1m184 0h1m-146 2h1m-28 12h1m142 0h1m-185 4h1m-105 31h1m-4 4h1m160 4h1m-206 5h1m22 1h1m165 12h1m162 2h1m16 0h1m-187 1h1m10 3h1m-40 4h1m-96 3h1m-40 1h1m-19 5h1m46 0h1m-19 5h1m285 2h1m-276 1h1m322 0h1m-36 2h1m-273 18h1m316 20h1m-14 13h1m4 6h1" fill="none" stroke="#555" stroke-opacity=".7" stroke-width="1"/>
<path d="M117.3 425.5l1-.3 1 0 2 .8 2 1.9 2.2 3.6 1.2 3 1 3 2.6 9.4 3.5 9.6 .8 3 .3 3-.2 4-.7 3-1.1 3-1.1 2-4 6-3.5 4.5-2 1.9-2 1-1 .2-2-.3-2-1.3-2-2.5-1.8-3.5-1.5-4-1.2-5-.9-6-.3-5 0-6 .3-5 .8-6 1.3-6 1.7-5 1.5-3 2.1-2.7 1-.8zM116.8 430.5l1.5-.6 1 0 1 .3 1 .6 1 1 1 1.3 1.3 2.4 1.2 3 1 3 3 12 1.2 5 .4 4-.2 3-.6 3-1.1 3-2 4-1.9 3-2.3 2.9-2 1.6-2 .7-1-.1-1-.3-1.2-.8-1.8-2.1-1.6-2.9-1.1-3-1.1-4-.7-4-.5-5-.1-5 .3-6 .5-4 1-5 .8-3 1.7-4 1.8-2.7zM116.7 433.5l.6-.5 1-.3 1 0 1 .3 1 .7 1 1.1 1.6 2.7 1.6 4 1.4 5 1.9 9 .6 5 .1 3-.6 4-.9 3-1.4 3-1.7 3-1.6 2.1-2 1.8-1 .4-1 .2-1 0-1-.4-1-.7-1.2-1.4-1.7-3-.8-2-1.2-4-.7-4-.3-4-.2-5 .3-5 .4-4 .8-4 .9-3 1.1-3 1.6-2.7zM116.9 435.5l1.4-.7 1 0 1 .4 1 .8 1 1.2 1.3 2.3 1.5 4 1.5 6 1.1 6 .5 4 0 4-.4 3-.8 3-1.3 3-1.7 3-1.7 2-1 .8-1 .5-1 .2-1-.1-1-.4-1-.8-1.7-2.2-1-2-1-3-.7-3-.8-7-.1-4 .2-4 .4-4 .8-4 .9-3 1-2.6 1-1.7zM116.7 437.5l.6-.5 1-.4 1 0 1 .4 1.5 1.5 1.2 2 1.6 4 1.1 4 1.1 6 .4 4 .1 3-.2 3-.6 3-1 3-1.5 3-1.7 2.3-1 .8-1 .6-1 .2-1-.1-1-.5-1-.8-1-1.3-1-1.9-.9-2.3-.8-3-.7-4-.2-3 0-7 1-7 .8-3 .8-2.3 1-2zM117.6 438.5l.7-.3 1 0 1 .4 1 .9 .7 1 1.3 2.5 1.2 3.5 1.1 5 .6 4 .4 4-.1 3-.3 3-.5 2-1.1 3-1 2-1.3 1.7-1 1-1 .5-1 .3-1-.2-1-.5-.9-.8-1.1-1.5-.7-1.5-.8-2-.8-3-.5-3-.3-4 0-4 .3-4 .4-3 .7-3 .7-2.2 1-2.3 1-1.4zM116.9 440.5l.4-.4 1-.5 1 0 1 .5 1 .9 1 1.6 1.2 2.9 1.2 4 .8 5 .4 3 .1 3-.2 3-.6 3-.6 2-.9 2-1.4 2.3-1 1-1 .6-1 .2-1-.1-1-.5-1-1.1-1.4-2.4-1.3-4-.9-6 0-6 .8-6 .7-3 .8-2 1-2zM117.2 441.5l1.1-.6 1 0 1 .5 1 1 1 1.7 1 2.5 .8 2.9 .8 4 .4 4 .1 3-.3 3-.6 3-.6 2-1 2-1.6 2-1 .7-1 .2-1-.1-1-.6-1-1.1-1-1.8-1.4-4.3-.7-6 0-5 .8-6 1.3-4.1 1-1.9zM117.7 442.5l.6-.3 1-.1 1 .6 1 1.1 1 1.8 1.5 4.9 .7 4 .3 3-.1 5-.5 3-.6 2-1.3 2.6-1 1.2-1 .7-1 .3-1-.2-1-.6-1-1.2-.9-1.8-1.2-4-.6-5 .1-6 .8-5 .8-2.5 .7-1.5 .6-1zM118.1 443.5l1.2-.2 1 .6 1 1.2 1 2.1 .8 2.3 .6 3 .6 5-.1 5-.9 4-1 2.2-1 1.4-1 .8-1 .3-1-.2-1-.7-1-1.4-.7-1.4-1.1-4-.5-5 .1-5 1-5 1.2-3.2 1-1.3zM117.1 445.5l1.2-.9 1-.1 1 .6 1 1.4 .9 2 .6 2 .7 3 .3 3 0 5-.8 4-.7 1.8-1 1.6-1 .9-1 .3-1-.2-1-.8-1-1.5-1.1-3.1-.7-4-.1-5 .5-4 1.1-4zM117.3 446.5l1-.8 1 0 1 .7 1 1.4 1.3 3.7 .8 5-.1 5-.9 4-1.1 2.2-1 1-1 .3-1-.2-.4-.3-.6-.6-.9-1.4-1-3-.5-3-.1-4 .3-4 1.1-4zM117.6 447.5l.7-.6 1 0 1 .7 .6 .9 .5 1 .9 2.8 .6 4.2 0 4-.6 3.5-1.1 2.5-.9 1-1 .4-1.2-.4-.8-.8-.6-1.2-1-3-.4-3-.1-4 .4-3 .7-2.7 1-2zM117.9 448.5l.4-.3 1-.1 1 .8 .3 .6 .7 1.3 .5 1.7 .7 4-.1 4-.6 3-.9 2-.6 .8-1 .5-1-.3-1-1.1-1-2.5-.6-3.4 0-4 .4-3 1-3zM118.3 449.5l1-.1 1 .9 1 2.3 .7 3.9 0 3-.5 3-.3 1-.9 1.5-1 .6-1-.3-1-1.4-.8-2.4-.4-3 .1-3 .2-2 .9-2.8zM117.9 451.5l.4-.6 1-.1 .7 .7 .5 1 .9 3 .1 3-.2 2.3-1 2.7-1 .7-1-.3-.8-1.4-.8-3-.1-3 .2-2 .5-2zM119.1 452.5l.2 0 1 1.5 .6 3.5-.1 2-.5 2-1 1.1-1-.4-.3-.7-.7-2-.1-2 .1-2.1 .6-1.9 .4-.8zM118.3 455.5l1-.7 .6 1.7 0 2-.6 1.9-1-.9-.3-2zM287 431.5l2.3-.4 3-.1 3 .3 3 .7 3 1.1 2 1 3 1.9 1.8 1.5 2 2 1.7 2 1.3 2 1.4 3 1 3 .4 2 .3 3 0 3-.4 3-.7 3-1 3-1.3 3-2.2 4-2 3-2.3 2.9-2 2.2-4 3.5-3 1.9-2 1-5 1.9-3 .9-3 .5-2 0-2-.3-2-.7-3-1.8-2.9-3-2.4-4-2-5-1.2-5-.6-6 .1-6 .7-5 .8-3 1-3 1.8-4 2.6-4 3.1-3.4 3-2.4 4-2.1zM355.3 442.5l3-.8 3 .2 3 1.1 2 1.4 1.2 1.1 1.6 2 1.7 3 1.1 3 .9 4 .2 4-.4 4-1 4-1.8 4-2.2 3-2.3 2.1-2 1.1-3 .8-3-.2-2-.6-2-1.1-2.3-2.1-1.7-2.1-1.6-2.9-1.1-3-.8-4-.2-4 .2-3 .9-4 1.1-3 1.7-3 1.6-2 2.2-1.9zM286.2 437.5l2.1-.5 2-.2 3 .1 2 .4 2 .6 2 .8 2 1.2 2.1 1.6 2 2 1.6 2 1.1 2 .9 2 1 4 .2 2 0 3-.5 3-.5 2-1.8 5-1.6 3-1.3 2-3.3 4-2.2 2-2.7 2-8 4.7-2 .8-2 .5-3 .1-2-.4-1-.5-2-1.3-2.7-2.9-1.7-3-1.2-3-1.2-5-.3-5 .2-5 .7-4 1.5-5 1.9-4 1.8-2.9 2-2.5 3-2.6 3-1.9zM356.5 447.5l1.8-.5 2 0 2 .6 2 1.2 1.6 1.7 1.4 2.1 1.2 2.9 .6 3 .2 3-.3 3-.8 3-.9 2-1.2 2-1.8 1.9-2 1.2-2 .6-2 0-2-.6-1.8-1.1-1.2-1.1-1.5-1.9-1-2-.7-2-.6-3-.2-3 .2-2 .6-3 .8-2 1.1-2 1.3-1.7 1.4-1.3zM285.5 441.5l1.8-.6 2-.3 2-.1 2 .2 2 .5 2 .8 2 1.2 1.7 1.3 1.3 1.3 1.3 1.7 1.2 2 .8 2 .8 4 0 4-.7 4-1.5 4-2.3 4-2.6 3.3-4.2 3.7-5.2 4-2.6 1.7-3 1.2-2 .2-1 0-2-.5-1-.5-2-1.5-1.5-1.6-1.8-3-1.1-3-.9-4-.3-3 .1-4 .4-3 .9-4 1.5-4 1.7-3.1 2.1-2.9 2.9-2.9 2-1.5zM356.5 451.5l1.8-.7 1-.1 2 .4 1 .5 1.1 .9 1.5 2 1 2 .5 2 .2 2-.1 2-.3 2-.9 2.5-1 1.7-1 1.1-1 .8-2 .8-2 0-1-.3-2-1.3-1-1.1-1-1.7-.6-1.5-.5-2-.2-2 .1-2 .6-3 .6-1.3 1-1.7 1-1.1zM285.5 444.5l1.8-.6 2-.3 3 .1 3 .8 1.9 1 1.4 1 1.7 1.7 .9 1.3 1.5 3 .8 3 .1 4-.7 4-1.1 3-1.6 3-2.3 3-7.1 7-3.5 2.8-3 1.5-1 .2-2 .1-2-.6-2-1.2-2-2.2-1.5-2.6-1.1-3-.7-3-.2-3 .1-4 .7-4 1-3 1.3-3 1.4-2.3 2-2.5 2-2 3-2.1zM358.9 454.5l1.4 .1 1 .5 1 .9 1 1.6 .7 2.9-.3 3-.9 2-1.5 1.6-1 .5-1 .2-1-.2-1-.5-1-.9-1-1.7-.7-3 .4-3 .9-2 1.4-1.4zM287.5 446.5l2.8-.3 3 .5 1.8 .8 1.2 .8 2 1.8 1.5 2.4 1.1 3 .3 3-.3 3-1.2 4-1.6 3-2.2 3-6.1 7-2.5 2.3-2 1.3-2 .7-2 0-2-.5-2-1.4-2-2.4-1-2-1-3-.6-3-.1-4 .4-3 .7-3 1.1-3 1.5-2.8 2-2.6 2-1.9 2-1.5 3-1.5zM285.2 449.5l2.1-.6 3-.1 2 .4 1 .4 2 1.3 1 1 1 1.4 1 2.2 .4 2 0 3-.6 3-1.3 3-1.8 3-5 7-2.7 2.9-2 1.5-2 .7-2 .2-2-.7-1-.6-2-2-1.2-2-1.1-3-.4-2-.3-3 .2-3 .5-3 .9-3 1-2 1.4-2.2 1-1.3 2-1.8 2-1.4zM285.3 451.5l3-.3 2 .2 2 .7 1.8 1.4 1.4 2 .7 2 .2 2-.2 2-.8 3-1.3 3-3.3 6-2 3-1.8 2-1.7 1.3-2 .9-2 .1-2-.7-1-.6-1.8-2-1.1-2-.7-2-.6-3-.1-2 .1-3 .6-3 .7-2 .9-2 1.3-2 1.7-1.8 2-1.6 2-1zM284.3 453.5l2-.2 2 .2 2 .6 1 .7 1 .9 1.1 1.8 .5 2 0 2-.5 3-1.4 4-1.8 4-1.8 3-1.6 2-1.5 1.3-2 .9-2 .2-2-.7-1-.7-1-1.1-1.2-1.9-.8-2-.6-3-.1-2 .1-3 .7-3 .8-2 1.1-2 1-1.4 1-1 2-1.5zM282.2 455.5l2.1-.5 2 .1 1.4 .4 1.6 .9 1.1 1.1 .7 1 .6 2 .2 2-.4 3-.7 3-1.1 3-1 2-1.4 2.2-1.6 1.8-1.4 .9-2 .7-2-.3-1-.5-1-.8-1-1.2-1-1.8-.7-2-.5-4 .4-4 .6-2 .8-2 1.3-2 1.1-1.2 1-.8zM283.2 456.5l1.1-.1 2 .4 1.3 .7 1.1 1 .7 1 .7 2 .3 2-.1 2-.5 3-.6 2-.8 2-1.1 2-1.6 2-1.4 1.1-1 .4-2 .2-1-.3-1-.5-1-.9-1.3-2-.8-2-.4-2-.2-2 .1-2 .4-2 .6-2 1.6-2.8 2-2 1-.6zM280.8 458.5l1.5-.7 1-.1 2 .2 1.1 .6 1.1 1 .8 1.2 .7 1.8 .2 2 0 2-.5 3-.7 2-.9 2-1.4 2-1.2 1-1.2 .7-1 .2-1 0-1-.3-1-.6-1-1-1-1.6-.5-1.4-.6-3 .1-3.1 .4-1.9 .6-1.8 1.3-2.2 .7-.9zM280.8 459.5l1.5-.6 1-.1 1 .1 1.3 .6 1.1 1 .7 1 .4 1 .5 2 .1 2-.3 2-.4 2-.8 2-1.3 2-.9 1-1.4 .9-1 .2-1 0-1-.3-1-.7-1-1.1-1-2.1-.6-2.9 .1-3 .8-3 .7-1.4 1-1.4zM280.9 460.5l1.4-.6 1 0 1 .2 1 .6 1.4 1.8 .4 1 .4 2 0 2-.3 2-1.1 3-.8 1.3-1 1.1-1 .6-1 .3-1 0-1-.3-1.2-1-1.2-2-.7-3 .1-3 1-3 1-1.7zM280.9 461.5l1.4-.5 1 0 1 .4 1 .8 .8 1.3 .6 2 0 3-.8 3-.6 1.1-1 1.3-1 .8-1 .3-1 0-1-.4-1-.9-1-1.8-.5-2.4 0-2 .5-2.5 1-2 1-1.1zM281 462.5l1.3-.5 1 .1 1 .6 .7 .8 .6 1 .4 2-.2 3-.7 2-.8 1.3-.7 .7-1.3 .6-1 0-1-.5-1-1.1-.5-1-.5-2 0-2 .5-2 .5-1.2 .6-.8zM281.2 463.5l1.1-.3 1.2 .3 1 1 .7 2 .1 2-.5 2-.5 1-.8 1-1.2 .6-1 0-1-.6-1-1.6-.3-1.4 0-2 .3-1.4 1-1.9zM282.1 464.5l1.2 .4 .5 .6 .5 1 .2 1-.2 1.8-.5 1.2-.5 .8-1 .7-1-.1-1-.9-.5-1.5-.1-1 0-1 .6-1.7 1-1.1zM281.4 466.5l.9-.3 1 1.3 0 1.2-.3 .8-.7 .8-1-.2-.4-.6-.2-1 .2-1zM453.1 430.5l2.4-.3 3-.1 3 .3 3 .7 3 1 3 1.4 3 2 2 1.6 2 2.1 1.8 2.3 1.7 3 .8 2 .9 3 .5 3 .2 3-.2 3-.6 3-.9 3-1.3 3-1.6 3-2 3-2.3 3-2.7 3-2.3 2.2-3 2.3-2 1.3-3 1.7-3 1.3-5 1.8-3 .9-3 .3-2-.1-2-.5-2-.8-3-2.2-2.8-3.2-1.7-3-.9-2-1.4-4-.7-3-.4-3-.4-6 .5-6 1.1-5 1.3-4 2.5-5 2.9-4.2 3-3.1 4-2.9 3-1.5 2-.7zM519.3 439.5l3.2-.5 3 .4 3 1.3 3 2.3 2.2 2.5 1.2 2 1 2 1.4 4 .9 5 0 4-.4 4-1.1 4-1.8 4-2.4 3.5-3 2.7-3 1.5-3 .7-3-.1-3-1-3-1.9-2-1.9-2.4-3.5-1.5-3-1.2-4-.6-4-.1-4 .5-4 1.1-4 1.7-4 2.1-3 2.4-2.4 2-1.4zM452.2 436.5l2.3-.4 2-.2 3 .2 2 .4 2 .6 3 1.4 2 1.2 2 1.6 2 2.2 1.5 2 1.1 2 .8 2 .9 4 .1 2-.2 3-.5 3-.6 2-.8 2-1.4 3-1.2 2-2.1 3-3.6 3.8-2 1.7-3 2-9 5.1-2 .8-2 .5-3 .1-2-.5-2-1-1-.7-2.7-2.8-1.9-3-.9-2-1-3-.8-4-.3-5 .3-5 .7-4 1.3-4 1.9-4 2.4-3.6 3-3.2 3-2.3 3-1.7zM522.4 444.5l2.1 .2 2 .8 2 1.3 2 2 1.7 2.7 1.2 3 .7 3 .3 3-.2 3-.5 3-1 3-1.7 3-1.5 1.8-2 1.7-2 1-1 .3-2 .2-2-.2-1-.3-2-1-2-1.7-1.5-1.8-1.2-2-1.2-3-.7-3-.3-3 .2-3 .5-3 1-3 1.7-3 1.5-1.8 2-1.7 2-1zM450.9 440.5l2.6-.6 2-.2 2 0 2 .3 2 .6 2 .8 3.3 2.1 1.7 1.6 1.1 1.4 1.3 2 .9 2 .6 2 .4 2 0 4-.8 4-1.1 3-.9 2-2.7 4-2.7 3-3.6 3-8.5 6-2 1-2 .6-3 .2-2-.5-1-.5-2-1.4-2.1-2.4-1.7-3-1.4-4-.6-3-.4-5 .3-4 .6-3 1.2-4 1.4-3 1.9-3 1.8-2.2 3-2.6 3-1.8zM520.8 448.5l1.7-.2 2 .3 2 1 1.2 .9 1.6 2 1.1 2 .7 2 .5 3 0 3-.3 2-.8 2.6-1 2.1-1 1.4-2 1.8-1 .6-2 .7-2 0-2-.7-2-1.3-1-1.1-1-1.4-1-2.1-.8-2.6-.3-2 0-3 .3-2 .6-2 .8-2 1.3-2 1.1-1.2 2-1.3zM450.2 443.5l3.3-.7 2-.2 2 .2 2 .4 2 .7 3 1.9 2.5 2.7 1.7 3 .6 2 .4 2-.1 4-.6 3-1.6 4-1.9 3-2.6 3-7.8 7-3.6 2.6-3 1.3-2 .3-1-.1-2-.5-2.5-1.6-1.8-2-1.7-3-1.1-3-.6-3-.4-4 .2-4 .5-3 1.3-4 1.5-3 1.6-2.4 2-2.2 2-1.6 3-1.7zM519.8 452.5l1.7-.7 1-.1 2 .4 1 .6 1 .9 1 1.3 .8 1.6 .6 2 .3 2-.1 2-.8 3-.8 1.6-1 1.3-1.3 1.1-1.7 .7-2 0-1-.3-1.9-1.4-1.5-2-1-3-.3-3 .3-2 .4-1.5 1.2-2.5 .9-1zM451.7 445.5l3.8-.3 3 .6 3 1.3 2 1.6 2 2.7 1 2.3 .4 1.8 .2 2-.2 3-.5 2-.7 2-1.7 3-2.3 3-5.6 6-3.2 3-2.4 1.7-2 .8-1 .2-2 .1-2-.6-2-1.3-2-2.3-1.4-2.6-1-3-.7-4-.1-3 .4-4 .7-3 1.2-3 1-2 1.9-2.5 2-1.9 3-1.9 3-1.2zM520.4 456.5l1.1-.7 1-.2 1 .2 1.1 .7 .8 1 .5 1 .3 1 .1 2-.4 2-.5 1-.8 1-1.1 .7-1 .2-1-.2-1-.6-.9-1.1-.5-1-.4-2 .1-2 .7-1.9zM447.5 448.5l3-.8 4-.1 3 .5 2 .9 2 1.5 1 1.2 1 1.6 .8 2.2 .3 3-.2 2-.5 2-1.2 3-1.9 3-3.9 5-2.6 3-2.8 2.6-1 .7-2 1-2 .3-2-.2-2-1-1.5-1.4-1.5-2-.9-2-1-3-.5-3-.1-3 .3-3 .7-3 1.1-3 1.1-2 1.3-1.8 2-2 2-1.3zM446.3 450.5l2.2-.7 3-.3 3 .3 3 1.1 2 1.4 1 1.2 1.1 2 .5 3-.3 3-1 3-1.6 3-3.9 6-2.4 3-2.2 2-2.2 1.2-2 .4-2-.3-1-.4-2-1.6-1-1.3-1.1-2-1.1-3-.4-2-.2-3 .2-3 .3-2 .9-3 1-2 1.2-2 1.2-1.4 2-1.6zM447.4 451.5l2.1-.3 3 .2 2 .6 2 1.1 1.5 1.4 .7 1 .8 2 .2 2-.3 3-1 3-2.5 5-1.8 3-1.6 2.1-2 1.9-2 1.1-2 .5-2-.3-1-.5-2-1.7-1-1.4-1-2.1-.7-2.6-.4-3 0-2 .3-3 .5-2 .7-2 1.1-2 1.5-2 1-1 2-1.3zM445.4 453.5l2.1-.8 2-.1 2 .3 2 .8 2 1.5 1 1.3 .8 2 .3 2-.1 2-.7 3-1.5 4-1.6 3-1.4 2-2 2-1.8 1.2-2 .4-2-.3-1-.5-1-.8-1-1.1-1.1-1.9-.8-2-.6-4 .2-4 .4-2 .9-2.6 1-1.8 1-1.3 1-1zM445.6 454.5l1.9-.6 2 0 1.9 .6 1.1 .6 1.6 1.4 .7 1 .8 2 .3 2-.2 3-.7 3-1.2 3-1.1 2-1.5 2-1.7 1.6-1 .6-2 .5-2-.3-1-.6-1.8-1.8-1.4-3-.5-2-.3-2 .3-4 .4-2 .8-2 1.1-2 .8-1 1.6-1.4zM445.8 455.5l1.7-.4 1 0 2 .5 1.5 .9 1 1 1.1 2 .6 3-.1 2-.6 3-1.6 4-1.3 2-1.6 1.6-1 .7-2 .6-1-.1-1-.3-1-.6-1-1-1-1.5-.6-1.4-.6-2-.2-2 0-2 .2-2 .6-2 .6-1.6 1-1.7 1-1.2 1-.8zM446 456.5l1.5-.3 1 0 1 .3 1.6 1 1 1 1 2 .5 3-.1 2-.4 2-.6 2-1 2-1 1.5-1 1.1-1 .7-1 .5-1 .2-1-.1-1-.3-1-.7-1-1.1-1.3-2.8-.5-2-.1-2 .3-3 1-3 1.6-2.3 1-.9zM446.1 457.5l1.4-.2 1 .1 1 .4 1 .7 1 1.2 .8 1.8 .4 3-.2 2-.5 2-1.3 3-1.2 1.5-1 .8-1 .6-1 .2-1-.1-1-.4-1-.7-.7-.9-.6-1-.7-2-.3-3 .3-3 1-2.7 1-1.5 .8-.8zM446.3 458.5l1.2-.1 1 .2 1.4 .9 .8 1 .5 1 .4 1 .2 2-.3 3-1.1 3-.9 1.3-1 1-1 .6-1 .3-1-.1-1-.5-1-.9-.5-.7-.8-2-.4-3 .4-3 .7-2 .6-.9 1-1.2 1-.6zM444.7 460.5l.8-.6 1-.4 1 0 1 .4 1 .8 .6 .8 .7 2 .1 3-.9 3-.5 1-1 1.2-1 .7-1 .3-1-.1-1-.5-.5-.6-.7-1-.8-2.3-.1-2.7 .4-2 .7-1.5zM445 461.5l.5-.4 1-.4 1 .1 1 .5 1 1.3 .5 1.9 .1 2-.6 2.2-1.1 1.8-.9 .8-1 .3-1-.1-1-.7-1-1.6-.4-1.7 0-2 .4-1.7 .6-1.3zM445.5 462.5l1-.4 1 .2 .3 .2 .9 1 .4 2-.2 2-.4 1.1-1 1.3-1 .4-1-.2-.7-.6-.6-1-.2-1-.1-1 .3-2 .4-1zM445.7 464.5l.8-.5 1 .6 .3 .9 0 1-.2 1-1.1 1-1-.4-.3-.6-.1-1 .1-1zM607.2 448.5l3.2-.2 4 .6 3 1.2 2 1.1 1.7 1.3 2.8 3 1.8 3 1.2 3 .7 4-.1 3-.8 4-.8 2-1 2-2.2 3-2.3 2.2-3 2-3 1.3-4 .8-3-.1-4-.9-3-1.5-3-2.3-2.2-2.5-1.7-3-.9-2-.5-2-.5-3 .2-4 .6-3 1.2-3 1.9-3 1.9-2.2 3-2.3 2-1.1 2-.8zM605.7 452.5l2.7-.5 3 .1 3 .8 3 1.6 2 1.6 1.9 2.4 1.6 3 .8 3 .2 3-.4 3-1 3-1.6 3-1.7 2-2.8 2.2-2 1.1-3 .9-3 .2-3-.5-3-1.2-2-1.3-2-1.9-1.7-2.5-1-2-.8-3-.3-3 .3-3 .9-3 .9-2 1.7-2.4 2-1.9 2-1.4 2-.9zM605.9 454.5l2.5-.4 2 0 3 .7 2 .9 2.3 1.8 1.7 2 1.2 2 1 3 .3 2-.2 3-.8 3-.9 2-1.4 2-2.2 2.1-2 1.3-3 1.1-2 .3-3-.3-2-.6-2-1-2-1.6-1.9-2.3-1.4-3-.6-2-.2-3 .2-2 .4-2 1.3-3 1.5-2 1.7-1.7 2-1.3zM604.5 456.5l1.9-.7 3-.3 2 .2 2 .7 2 1.1 2 1.8 1.5 2.2 .9 2 .5 2 .1 3-.6 3-.8 2-1.3 2-1.3 1.5-2 1.5-2 .9-2 .6-3 0-2-.5-2-.9-2-1.5-1.5-1.6-1.2-2-.7-2-.4-2-.1-3 .4-2 .7-2 1.1-2 1.7-1.9 2-1.5zM605 457.5l2.4-.7 2-.2 2 .3 2 .8 2 1.3 1.5 1.5 1.3 2 .7 2 .4 2-.1 3-.5 2-.9 2-1.4 2-1 1-2 1.4-2 .8-2 .4-2-.1-3-.9-2-1.3-1.3-1.3-1.3-2-.9-2-.4-2-.1-2 .2-2 .7-2 1-2 1.1-1.4 2-1.8zM605 458.5l1.4-.6 2-.3 2 .1 2 .6 2 1.2 1.2 1 1.5 2 .8 2 .5 2 0 2-.3 2-.7 2-1 1.6-1.2 1.4-1.8 1.4-2 .9-2 .4-2 0-1-.2-2-.9-2-1.4-1-1.2-.7-1-.9-2-.5-2-.1-2 .3-2 .7-2 1.1-2 .9-1 1.2-1.1zM608.2 458.5l1.2 0 2 .4 2 .9 1 .8 1 1 1.2 1.9 .8 2 .2 2-.1 2-.5 2-1.6 2.7-1.3 1.3-1.7 1.1-1 .4-2 .5-2-.1-1-.2-2-.9-1.1-.8-1-1-1.3-2-.8-2-.3-2 .1-2 .6-2 .8-1.7 .9-1.3 1.1-1 2-1.3 1-.4zM606.8 459.5l1.6-.3 2 .2 2 .7 1 .6 1 .9 1.4 1.9 .5 1 .5 2 0 3-.6 2-.5 1-1.3 1.8-1 .9-1 .6-2 .8-1 .2-2-.1-2-.6-1-.6-1-.8-1.1-1.2-.6-1-.8-2-.3-2 .1-2 .6-2 .5-1 1.5-2 1.1-.9 1-.6zM606 460.5l1.4-.4 2-.1 2 .4 1 .5 2 1.8 1 1.6 .5 1.2 .3 3-.3 2-.5 1.2-1 1.6-1 1-1 .8-2 .8-1 .2-2 0-2-.7-1-.7-1.3-1.2-.7-1-.9-2-.3-3 .4-2 .4-1 1.4-2.2 1-.9zM605.5 461.5l1.9-.8 2-.1 1 .2 1.6 .7 1.3 1 1.5 2 .4 1 .4 2 0 1-.4 2-.8 1.7-1 1.3-2 1.4-2 .6-2-.1-1-.3-2-1.1-1-1.1-.9-1.4-.4-1-.3-2 .1-2 .3-1 1.2-2.2 1-1zM607.1 461.5l2.3-.2 2 .6 1 .6 1 1 .7 1 .8 2 .1 1-.1 2-.8 2-.7 1.1-1 1-1.6 .9-1.4 .4-2-.1-1-.3-1.6-1-1-1-.6-1-.7-2-.1-2 .1-1 .8-2 .7-1 1.1-1zM606.2 462.5l2.2-.6 2 .3 1 .4 1 .8 1 1.1 .5 1 .5 2-.1 2-.3 1-.6 1.1-1 1.2-1 .8-1 .4-2 .3-2-.4-1.8-1.4-1.3-2-.4-2 0-1 .5-1.8 1-1.7 1-1zM605.8 463.5l1.6-.8 1-.2 2 .4 1 .5 1 .9 .8 1.2 .6 2 0 1-.4 1.8-1 1.6-1 .9-1 .6-2 .3-2-.5-1-.7-.9-1-.5-1-.5-2 .2-2 .7-1.5zM607.1 463.5l1.3-.3 1 .1 1 .3 1.3 .9 .8 1 .5 1 .2 2-.5 2-1.3 1.6-1 .6-1 .3-1 .1-1-.2-1-.4-1.2-1-.6-1-.4-1-.1-2 .7-2 .8-1zM606.6 464.5l.8-.4 1-.2 1 .1 1 .3 1 .8 .9 1.4 .2 1-.1 2-1 1.7-1 .8-1 .4-1 .1-1-.3-1-.5-1.1-1.2-.4-1-.2-2 .7-1.8zM606.5 465.5l.9-.6 1-.3 1 .1 1 .5 1 1.1 .4 1.2 .1 1-.5 1.5-1 1.1-1 .5-1 .1-1-.2-1.3-1-.5-1-.3-1 .1-1 .4-1zM608.4 465.5l1 .1 1 .7 .6 1.2 .1 1-.7 1.5-1 .7-1 .2-1.1-.4-.9-1-.2-1 0-1 .5-1 .7-.6zM607.4 467.5l1-.7 1 .2 .4 .5 .1 1-.5 .9-1 .3-.4-.2-.7-1zM115.1 591.4l1.2-.5 1-.2 1 .2 1 .4 1 .7 1 1 2.2 3.4 1.3 3 1 3 2.5 9.5 1 3 1 2.2 3.1 5.3 1.3 3 .8 3 .2 2-.1 3-.6 3-1.1 3-1.2 2-1.5 2-3.9 4.1-4 5-2 2.1-2 1.3-2 .4-1-.1-1-.5-2-1.6-2-2.9-1.7-3.8-1.6-5-1-5-.5-4-.4-6 0-6 .5-7 1-7 .9-4 1.3-4 1.8-4 1.7-2.4zM115.1 596.4l1.2-.7 1-.1 1 .1 1 .5 1 .8 1 1.2 1.3 2.2 1.3 3 1 3 2.4 10 1 3.4 2.3 6.6 .5 2 .2 2-.1 3-.5 2-1.2 3-1.8 3-4.3 6-2.1 2.5-2 1.4-1 .3-1 .1-1-.2-1-.5-1.7-1.6-1.4-2-1.4-3-1-3-1.1-5-.7-5-.3-4 0-5 .3-5 .7-6 .9-4 1.1-4 1.3-3 1.3-2.2zM115.1 599.4l1.2-.7 1-.2 1 .2 1 .5 1 .9 .9 1.3 1.1 2 1.6 4 1 4 3 13 .8 5-.1 3-.6 3-1.1 3-2.2 4-2.4 3.5-2 2-2 1-1 0-1-.2-1-.6-1-.9-1.3-1.8-1.5-3-1-3-.9-4-.5-4-.3-4-.1-5 .2-4 .6-5 .6-3 1-4 1.2-3 1.1-2 .9-1.3zM115.5 601.4l.8-.5 1-.2 1 .2 1 .6 1.6 1.9 1.4 2.7 1.5 4.3 .9 4 1.9 10 .5 4 0 3-.5 3-.9 3-1.4 3-2 3.2-2 2.2-1 .6-1 .4-1 .1-1-.3-1-.6-1-1-1.1-1.6-1.3-3-1.4-5-.6-4-.4-4 .1-8 .5-4 .6-4 .8-3 1.1-3 1.7-2.9zM115.4 603.4l.9-.6 1-.2 1 .2 1 .6 .9 1 1.2 2 1.2 3 1.4 5 1 5 .9 7 .1 3-.2 3-.7 3-.6 2-1.5 3-1.7 2.5-1.6 1.5-1.4 .7-1 0-1-.3-1-.6-1-1.1-1-1.7-1.3-3-.8-3-.5-3-.5-4 0-7 .3-4 .6-4 .7-3 1-3 1.5-2.8zM116.4 604.4l.9-.2 1 .2 1 .7 1.1 1.3 1.4 3 1 3 1.1 5 1 6 .3 4-.1 3-.4 3-.8 3-.9 2-1.1 2-1.6 2-1 .8-1 .4-1 0-1-.3-1.1-.9-1.5-2-.9-2-.9-3-.6-3-.4-3-.3-4 .3-7 .6-4 .7-3 1-3 1.1-2 1-1.3zM115.6 606.4l.7-.5 1-.3 1 .3 1 .7 .6 .8 1.2 2 1.1 3 .8 3 .9 5 .5 5 .1 3-.2 3-.6 3-.7 2-.9 2-1.3 2-1.5 1.4-1 .4-1 .1-1-.4-.7-.5-1.3-1.6-.7-1.4-.8-2-.8-3-.8-6 0-6 .4-4 .5-3 .8-3 .7-2 .7-1.4zM116.2 607.4l1.1-.4 1.2 .4 .8 .7 .9 1.3 1 2 1 3 .8 4 .6 4 .3 4-.3 5-.6 3-.8 2-.9 1.8-1 1.4-1 .9-1 .5-1 0-1-.4-1-.8-1-1.5-1-2.3-1.1-4.6-.6-6 .2-6 1.1-6 1.4-3.8 1-1.5zM117 608.4l.3-.1 1 .3 1 .8 1 1.6 1 2.4 1.4 6 .5 4 .2 3-.4 5-.7 3-.8 2-1.2 1.9-1 1-1 .5-1 0-1-.4-1-1-1-1.6-.6-1.4-.6-2-.6-3-.5-6 .4-6 1-5 .9-2.3 1-1.6 1-.9zM115.7 610.4l.6-.5 1-.4 1 .3 1 1 1 1.6 1 2.8 .5 2.2 .9 6 .1 5-.3 3-.5 2-.7 1.8-1 1.8-1 1.1-1 .5-1 .1-1-.5-1-1-1-1.8-1.2-4-.5-4-.1-5 .5-5 .4-2 .9-2.7 1-1.8zM116 611.4l.3-.3 1-.3 1 .3 1 1 .7 1.3 1.4 4 .9 6 0 5-.7 4-1.3 3.2-1 1.3-1 .6-1 0-1-.5-1.3-1.6-1.1-3-.9-5-.1-5 .6-5 .8-3.1 1-2.1zM116.3 612.4l1-.4 1 .3 1 1.1 .5 1 .8 2 .7 2.9 .6 5.1-.2 5-.4 2-.6 2-1.4 2.2-1 .7-1 .1-1-.5-1-1.3-.9-2.2-.7-3-.4-4 .1-4 .6-4 .9-3 .4-.8zM116.9 613.4l.4-.2 1 .4 1 1.2 .7 1.6 1 4 .5 5-.3 4-.9 3.3-1 1.7-1 .8-1 .1-1.2-.9-.8-1.2-.7-1.8-.6-3-.3-4 .2-4 .6-3 .8-2.3 1-1.4zM116 615.4l.3-.4 1-.5 1 .4 1 1.4 1 3.1 .6 4 0 4-.6 3.5-1 2.1-1 1-1 .1-1-.7-1-1.7-.7-2.3-.4-3-.1-3 .3-3 .7-3zM116.4 616.4l.9-.6 1 .5 .7 1.1 1 3 .4 3 0 4-.6 3-.5 1.1-1 1.2-1 .1-1-.8-1-2.1-.7-4.5 0-3 .5-3 .2-1zM117.2 617.4l.1-.1 1 .5 1 2.1 .5 2.5 .2 2-.2 3-.5 2.3-1 1.5-1 .2-1-1-.7-2-.4-2-.1-2 .1-2 .3-2 .8-2.3zM117 619.4l.3-.3 1 .6 .9 2.7 .2 2-.1 2.1-.5 1.9-.5 1-1 .3-1-1.3-.5-2-.1-2 .1-2 .4-2zM116.9 622.4l.4-.9 1 1.2 .1 .7-.1 3.1-1 .9-.7-2-.1-1zM284.9 597.4l2.4-.5 3-.2 3 .3 3 .6 3 1 3 1.4 3 1.8 2 1.4 2.4 2.2 1.8 2 1.4 2 1.7 3 1.1 3 .5 2 .3 2 .2 3-.3 3-.5 3-1 3-1.3 3-2.1 4-2.5 4-3 4-2.5 3-2.2 2.3-2 1.7-2 1.5-3 1.7-3 1.3-3 .9-3 .5-2 0-2-.1-2-.5-3-1.4-3-2.5-2.6-3.4-2.1-4-.8-2-1.2-4-.9-6-.2-6 .3-5 1.1-6 1.6-5 2.5-5 3-4 3.3-3.2 2-1.4 2-1.1zM356.8 611.4l2.5-.4 3 .5 3 1.6 2 1.8 1.9 2.5 1.6 3 1.3 4 .7 4 .1 4-.4 4-1 4-1.7 4-2.1 3-2.4 2.3-2 1.2-3 .8-2 0-3-.8-2-1.2-2.4-2.3-2.1-3-1.4-3-.9-3-.7-4-.1-4 .4-4 1-4 1.2-3 1.8-3 2.2-2.5 2-1.4zM285.4 603.4l1.9-.4 2-.2 3 .1 2 .4 2 .6 3 1.4 2 1.2 2 1.6 3 3.3 1.4 2 .9 2 1.2 4 .3 2 0 3-.4 3-.8 3-2.1 5-2.8 5-2.2 3-1.8 2-2 2-2.7 2.2-3 2-3 1.7-4 1.6-2 .3-2 0-2-.4-2-.9-1-.7-2.8-2.8-1.9-3-1.6-4-1.1-5-.4-4 .2-5 .8-5 1-4 1.6-4 2.2-4.1 2.1-2.9 2.9-2.8 3-2zM356.1 617.4l2.2-.7 2 0 2 .6 2 1.3 1.6 1.8 1.4 2.2 1.1 2.8 .6 3 .2 3-.2 3-.6 3-1.2 3-1.3 2-1.6 1.8-2 1.3-2 .6-2 0-2-.6-1.7-1.1-1.3-1.2-1.3-1.8-1.1-2-1-3-.3-2-.2-2 .1-3 .4-3 .6-2 .9-2 1.3-2 1.6-1.8zM285.4 607.4l1.9-.5 2-.2 2 .1 2 .3 2 .7 2 .9 3 2.1 2.4 2.6 1.3 2 .9 2 .7 2 .4 2 0 4-.2 2-.8 3-1.5 4-2.2 4-3.1 4-4.1 4-5.8 4.5-2 1.1-2 .7-3 .3-1-.1-2-.7-2-1.3-2-2.2-1.5-2.3-1.3-3-1-4-.4-4 .1-4 .5-4 1.1-4 1.6-4 1.9-3.4 2-2.8 3-3 2-1.4zM356.6 621.4l1.7-.7 1-.1 2 .4 1 .6 1 .8 1.5 2 .9 2 .6 2 .2 2-.1 3-.4 2-.7 2-1 1.8-1 1.2-1.3 1-1.7 .7-2 0-1-.3-2-1.4-1-1.2-1-1.8-1-3-.2-2 0-2 .2-2 .6-2 1.5-3 .9-1zM286.1 610.4l3.2-.5 2 .1 2 .5 3 1.4 2 1.5 1 1 2 3 1.2 3 .5 3-.2 4-1.1 4-1.8 4-2.6 4-3.5 4-4 4-3.5 2.7-2 .9-1 .2-2 .2-1-.1-2-.8-2-1.4-1.5-1.7-1.7-3-1.1-3-.6-3-.2-4 .3-4 .5-3 1-3 1.3-3 2-3.4 2-2.4 3-2.8 2-1.3zM357.1 625.4l1.2-.7 1-.1 1 .1 1 .6 1 1 .7 1.1 .7 2 .1 3-.5 2.3-1 1.8-1 1-1 .6-1 .1-1-.1-1.2-.7-.8-.9-.7-1.1-.7-2-.1-3 .4-2 1-2zM285.5 613.4l2.8-.6 3 .2 3 1.1 2 1.5 2 2.4 1.2 2.4 .7 3 .1 2-.2 2-.7 3-1.7 4-2.5 4-4.6 6-2.3 2.5-2 1.6-1 .6-2 .8-2 .2-2-.4-2-1.2-2-2.1-1.2-2-1.2-3-.4-2-.5-4 .1-3 .5-3 .8-3 1.3-3 1.6-2.7 2-2.5 2-1.9 2-1.4zM284.1 616.4l2.2-.7 3-.2 2 .4 1 .4 1.7 1.1 1.9 2 1 2 .6 2 .2 3-.5 3-1.4 4-2.8 5-3.2 5-2.5 2.9-2 1.5-2 .9-2 .3-1-.2-2-.8-1.9-1.6-1.4-2-.9-2-.9-3-.4-3 0-3 .4-3 .8-3 .8-2 1.5-2.7 1-1.3 2-2.1 2-1.5zM284.5 618.4l2.8-.3 2 .2 2 .8 1.7 1.3 1.3 2 .7 2 .2 2-.2 2-.7 3-1.5 4-1.9 4-2.4 4-1.7 2-1.5 1.3-2 1-2 .3-2-.5-1-.5-1.7-1.6-1.3-2-.9-2-.7-3-.3-3 .2-3 .3-2 .9-3 1-2 1.5-2.3 1-1.1 2-1.7 2-1.2zM283.9 620.4l1.4-.1 2 .2 2 .7 1.5 1.2 .8 1 .8 2 .3 2 0 2-.5 3-1.2 4-1.2 3-1.7 3-1.5 2-1.3 1.2-2 1.1-2 .4-2-.5-1-.6-1.6-1.6-1.2-2-.8-2-.4-2-.3-2 .1-3 .5-3 .6-2 .9-2 1.2-1.8 1-1.2 2-1.6 2-1zM281.9 622.4l1.4-.4 2 .1 2 .7 1 .6 1 1.1 1 1.9 .5 2 .1 2-.3 3-.7 3-1.1 3-1 2-1.5 2.1-2 1.8-1 .5-2 .4-2-.5-1-.7-1-1-1-1.4-.9-2.2-.6-2-.2-4 .6-4 .8-2 1-2 1.3-1.7 1-.9 1-.7zM280.1 624.4l1.2-.6 2-.4 2 .3 1 .5 1 .8 1.1 1.4 .8 2 .3 2 .1 2-.4 3-.5 2-1.2 3-1.3 2-1.9 2-1 .5-2 .5-1-.2-1-.4-1-.7-1-1.1-1.3-2.6-.6-2-.3-2 0-2 .3-2 .8-3 1-2 .7-1 1.4-1.4zM280.3 625.4l1-.5 2-.2 2 .6 1 .8 1 1.2 .5 1.1 .6 2 .2 2-.1 2-.6 3-.7 2-.9 1.7-1 1.3-1 1-1 .7-1 .3-1 .1-1-.1-1-.5-1-.8-1-1.2-1.1-2.5-.5-3 0-2 .2-2 1-3 1.4-2.3 1-1zM280.4 626.4l1.9-.6 1 .1 1 .3 1 .6 1 1.2 .8 1.4 .6 3 0 2-.3 2-.6 2-.9 2-1.5 2-1.1 .8-1 .4-1 .1-1-.1-1-.5-1.6-1.7-.9-2-.6-3 .1-3 .8-3 1.2-2.1 1-1.1zM280.5 627.4l.8-.4 1-.1 1 .1 1 .5 1 .9 1.1 2 .6 3-.1 2-.4 2-1.2 2.7-1 1.4-1 .8-1 .5-1 .1-1-.2-1-.5-1-1.1-1-1.9-.6-2.8 .1-3 .5-2 1-2 1-1.2zM280.6 628.4l.7-.3 1-.1 1 .2 1 .7 1.1 1.5 .4 1 .4 2-.2 3-.6 2-.5 1-.6 1-1 1-1 .5-1 .2-1-.2-.8-.5-.9-1-1-2-.4-2 .1-2.4 .7-2.6 1.3-2.1zM280.7 629.4l.6-.3 1 0 1 .3 1 .9 1 2.1 .2 2-.2 2.1-1 2.6-1 1.3-1 .6-1 .2-1-.3-1-.7-1-1.8-.5-2 0-2 .5-2.1 1-1.8zM281 630.4l1.3-.1 1 .5 1.1 1.6 .3 2-.1 2-.8 2-.5 .8-1 .8-1 .2-1-.3-1-1-.6-1.5-.3-2 .3-2 .6-1.5 1-1.1zM280.1 632.4l1.2-.9 1 .1 1 1 .6 1.8-.2 2-.4 1.2-1 1.1-1 .3-1.2-.6-.6-1-.3-1 0-2zM281.2 633.4l.1-.1 1 .4 .3 .7 .1 1-.4 1.4-1 .6-1-1-.1-1 .1-1zM452.3 594.4l2.2-.3 3 0 3 .4 3 .7 3 1.1 3 1.5 3 1.9 3 2.3 2.3 2.4 1.6 2 1.3 2 1.5 3 .8 2 .7 3 .4 3 0 3-.4 3-.8 3-1.1 3-1.5 3-1.8 3-2.2 3-3.3 4-3 3-2.5 2.2-3 2.2-2 1.3-3 1.4-4 1.5-3 .8-3 .4-2-.1-2-.3-2-.7-3-1.7-2-1.8-1.1-1.2-1.4-2-1.2-2-2.1-5-.9-3-.5-3-.6-5 .1-6 .8-6 1.3-5 2-5 2.9-5 3.4-4 3.3-2.7 4-2.2zM518.1 606.4l1.4-.5 2-.3 2 0 2 .3 3 1.3 3 2.2 2.6 3 2.2 4 1.5 4 1 5 .2 5-.5 5-1.3 5-1.9 4-2 3-3 3-2.8 1.7-2 .8-2 .3-3-.1-3-1-3-1.8-2-1.9-2.3-3-2-4-1.3-4-.7-4-.2-5 .3-4 .9-4 1.4-4 1.6-3 2.3-3 3-2.6zM452.8 600.4l2.7-.3 2 .1 4 .7 3 1.2 2 1.1 2 1.3 2.2 1.9 1.9 2 1.5 2 1.2 2 .8 2 1.1 4 .2 2-.1 3-.3 2-.8 3-2.2 5-3.2 5-2.3 2.8-2 2.1-2.4 2.1-2.6 1.9-6 3.5-3 1.4-2 .6-2 .3-2-.1-3-.9-2-1.2-1-.8-2.4-2.7-2.2-4-1.1-3-1.1-5-.3-5 .3-5 1-5 1.2-4 1.9-4 2.7-4 3-3.2 3-2.3 3-1.5zM518.7 612.4l2.8-.8 2 0 2 .4 1 .5 2 1.3 2.5 2.6 1.8 3 1.1 3 .8 4 .2 4-.3 3-1 4-1.3 3-1.8 2.6-2 2-2 1.3-1 .5-2 .4-3-.1-2-.8-2-1.3-1.7-1.6-1.5-2-1.5-3-1-3-.5-3-.2-3 .2-3 .5-3 1-3 1.5-3 1.5-2 1.7-1.7zM452.1 604.4l2.4-.4 2 0 2 .2 2 .6 2 .7 2 1.1 3 2.4 1.4 1.4 1.5 2 1.1 2 .8 2 .5 2 .3 2-.1 4-.9 4-1.7 4-2.5 4-3.4 4-5 4.3-3.6 2.7-2.4 1.5-2 1-2 .6-3 .2-2-.5-1-.4-2-1.4-1.1-1-1.6-2-1.6-3-1.4-4-.7-4-.2-4 .3-4 .7-4 1-3 1.8-4 1.9-3 1.9-2.3 3-2.6 3-1.8zM519.5 616.4l2-.7 2 0 2 .7 2 1.3 1.5 1.7 1.2 2 .8 2 .8 3 .2 3-.2 3-.8 3-.8 2-1.2 2-1.5 1.7-2 1.3-2 .7-2 0-2-.7-1-.5-1.7-1.5-1.3-1.7-1-1.9-.8-2.4-.5-2-.2-2 .1-3 .6-3 .6-2 1-2 1.2-1.6 1.4-1.4zM452.2 607.4l3.3-.3 2 .2 2 .5 3 1.4 2.9 2.2 2.3 3 1.4 3 .7 3 0 4-.9 4-1.2 3-2.2 3.6-2.8 3.4-5.1 5-4.1 3.4-2 1.2-2 .7-2 .3-1 0-1-.2-2-.8-2-1.5-1.8-2.1-1.7-3-1-3-.8-4-.2-3 .2-4 .7-4 1-3 1.6-3.4 2-2.9 2-2.2 3-2.2 3-1.5zM519.6 620.4l1.9-.8 1-.1 2 .4 1 .6 1 .8 1 1.3 .9 1.8 .6 2 .3 2 0 2-.3 2-.6 2-.9 1.8-1 1.3-1.1 .9-1.9 .8-2 0-1-.3-1-.6-1-.8-1.5-2.1-1-3-.3-2 0-2 .5-3 1.3-2.8 1-1.3zM450.1 610.4l3.4-.6 3 .1 3 .9 3 1.9 2 2.1 1.5 2.6 .9 3 .2 2 0 2-.9 4-1.3 3-2.6 4-4.2 5-2.8 3-2.8 2.3-3 1.5-2 .4-1-.1-2-.5-2-1.2-2-2.1-1.4-2.3-1.2-3-.7-3-.3-3 .1-4 .7-4 1-3 1.4-3 1.4-2 2-2.3 2-1.6 2-1.1zM521 624.4l1.5-.5 1 .2 1 .7 1.2 1.6 .5 2 0 2-.7 2.3-1 1.3-1 .7-1 .2-1-.2-1-.7-.5-.6-.7-1-.5-2 0-2 .5-2 .7-1zM450.4 612.4l3.1-.3 3 .5 3 1.3 1.9 1.5 1.5 2 1.3 3 .3 2-.1 3-.7 3-1.9 4-2.6 4-3.8 5-2.9 2.9-2 1.2-2 .7-2 .1-2-.5-2-1.3-1.8-2.1-1.1-2-1.1-3-.6-3-.2-3 .1-3 .5-3 1-3 1.2-2.6 1.6-2.4 1.4-1.5 2-1.6 2-1zM449.3 614.4l2.2-.2 3 .3 2 .7 2 1.2 1.9 2 1 2 .5 2 .1 3-.7 3-1.1 3-2.1 4-3.3 5-2.3 2.5-2 1.4-2 .8-2 .1-2-.5-1-.6-1.8-1.7-1.3-2-.9-2-.8-3-.3-3 0-3 .5-3 .5-2 1.1-2.8 1.3-2.2 1.7-1.9 2-1.6 2-1zM447.3 616.4l2.2-.5 3 .2 2 .7 2 1.2 1.4 1.4 1.2 2 .5 2 .1 2-.4 3-1.3 4-1.8 4-1.9 3-1.8 2.2-2 1.6-2 .9-2 .1-2-.6-1-.6-1.6-1.6-1.2-2-.8-2-.5-2-.3-2-.1-3 .2-2 .6-3 .7-2 1-1.9 1.5-2.1 1.5-1.4 1-.7zM448.8 617.4l1.7 0 2 .5 2 1.1 1 .9 1.1 1.5 .8 2 .4 2 0 2-.5 3-1.3 4-1.5 3-1.3 2-1.7 1.9-1.5 1.1-1.5 .7-2 .2-2-.7-1-.7-1.4-1.5-1.1-2-.8-2-.4-2-.2-2 .1-3 .8-4 .8-2 1.2-2 1-1.3 2-1.6 2-.9zM446 619.4l1.5-.6 2-.1 2 .4 1 .5 1 .8 1.7 2 .8 2 .3 2 0 2-.4 3-.9 3-1.5 3-1.3 2-1.7 1.7-1 .6-2 .7-2-.3-1-.4-1-.8-1-1.2-1-1.7-.6-1.6-.5-2-.2-2 .2-4 .4-2 .8-2 .9-1.7 1-1.3 1-1zM446.3 620.4l1.2-.4 2-.1 1.5 .5 1.5 1 1 1.1 1 1.9 .7 3 0 2-.3 2-.8 3-.9 2-1.2 2-1.5 1.6-1 .7-2 .8-1 0-1-.3-1-.5-1.4-1.3-.7-1-.9-2-.5-2-.3-2 0-2 .3-2 .9-3 1.6-2.8 1-1.1zM446.4 621.4l1.1-.3 2 .1 1 .4 1.2 .8 .9 1 .9 1.7 .4 1.3 .3 2-.1 2-.3 2-.6 2-.9 2-1.3 2-1 1-1.5 .9-1 .3-1 0-1-.3-1-.6-1-.9-1.4-2.4-.6-2-.2-2 .2-3.6 1-3.3 1-1.7 1-1.1zM446.6 622.4l1.9-.3 1 .3 1 .5 1 1 1 1.5 .4 1 .4 3-.1 2-.4 2-1.3 3-1 1.4-1 .9-1 .6-1 .3-1 .1-1-.3-1-.7-1-1.1-1.1-2.2-.5-3 .1-3 .8-3 .7-1.3 1-1.3 1-.9zM446.9 623.4l1.6-.1 1 .4 1 .7 1 1.3 .7 1.7 .3 3-.5 3-.8 2-.7 1.1-1 1.2-1 .7-1 .3-1 0-1-.3-1-.8-1-1.3-.7-1.9-.4-3 .4-3 .8-2 1.5-2zM447.4 624.4l1.1 .1 1 .5 1.2 1.4 .8 2 .1 3-.8 3-1.2 2-1.3 1-.8 .3-1 0-1-.3-1-.9-.6-1.1-.7-2-.1-3 .4-2.1 1-2 1-1.1 1-.6zM445.6 626.4l.9-.6 1-.2 1 .2 1 .8 .6 .8 .6 2-.1 3-.7 2-1.4 1.7-1 .5-1 0-1-.4-1-1.3-.6-1.5-.2-2 .3-2 .5-1.5zM446.2 627.4l1.3-.4 1 .4 .8 1 .4 1 .1 2-.3 1.6-1 1.7-1 .6-1 0-1-.6-.7-1.3-.2-1-.1-1.3 .3-1.7 .7-1.3zM446.3 629.4l.2-.2 1-.2 .5 .4 .5 .8 0 1.7-.2 .5-.8 1.1-1 0-.7-1.1-.2-1 .2-1zM606 616.4l2.4-.3 3 .1 3 .7 3 1.2 9 4.8 2 1.3 1.3 1.2 .7 1 .7 2-.1 2-1 3-5.3 10-2.6 4-2.7 2.9-3 2.2-3 1.5-2 .6-2 .3-3 0-2-.4-2-.7-3-1.6-2-1.7-2.6-3.1-1.6-3-1.4-4-.4-3 0-3 .5-4 1-3 1-2 1.3-2 2.2-2.6 3-2.3 3-1.4zM604.7 620.4l2.7-.6 2-.1 2 .3 3 .9 4 2 3.9 2.5 2.3 2 .6 1 .4 1 .2 2-.8 3-2.9 7-2.4 4-2.3 2.7-2 1.6-2 1.2-3 1-3 .3-2-.2-3-1.1-2-1.3-2-1.8-1.8-2.4-1.4-3-.8-3-.3-3 .2-3 .7-3 1.3-3 2.1-2.9 2-1.9 2-1.3zM605 622.4l2.4-.5 3 0 3 .9 2 .9 2.7 1.7 2.4 2 1.5 2 .6 2-.1 2-.9 4-1.6 4-1.7 3-1.9 2.3-2 1.7-3 1.6-2 .4-2 .2-3-.6-2-.9-2-1.5-1.2-1.2-1.4-2-1-2-.9-3-.3-3 .3-3 .8-3 1-2 1.4-2 1.3-1.4 2-1.5zM607.2 623.4l2.2 0 2 .3 3 1.2 2 1.3 1.4 1.2 1.7 2 .9 2 .2 2-.4 3-.5 2-1.1 3-1.8 3-1.4 1.6-2 1.6-2 1.1-3 .6-2 0-2-.5-2-1.1-2-1.6-1.3-1.7-1.1-2-1-3-.2-2 .1-3 .4-2 .8-2 1.3-2.3 1.5-1.7 1.5-1.2 2-1.1zM604.3 625.4l2.1-.7 2-.2 3 .5 2 .8 2 1.3 1.4 1.3 1.5 2 .7 2 .2 2-.4 3-.9 3-1 2-1.4 2-1.1 1.2-2 1.5-2 .9-2 .3-2 0-2-.6-1-.5-2-1.4-1.2-1.4-1.2-2-.8-2-.4-2-.1-3 .3-2 .7-2 1-2 1.7-2 1.2-1zM604.4 626.4l2-.7 2-.2 2 .3 2 .7 2 1.2 1.8 1.7 .7 1 .8 2 .4 2-.3 3-.9 3-1 2-1.5 2-1.1 1-1.9 1.3-2 .6-2 .2-2-.3-1.8-.8-1.2-.8-1.2-1.2-1.4-2-1.1-3-.2-2 0-2 .4-2 .7-2 .8-1.4 1.2-1.6 1.8-1.5zM604.3 627.4l2.1-.8 2-.2 2 .3 1.8 .7 1.6 1 1.6 1.6 .9 1.4 .7 2 .1 2-.1 2-.6 2-.8 2-1.2 1.8-1.1 1.2-1.9 1.4-2 .7-1 .2-2-.1-2-.6-1-.6-1.2-1-1.6-2-1.1-3-.3-2 0-2 .8-3 1-2 .8-1 1-1zM606.5 627.4l1.9-.2 1 .1 2 .6 1 .6 1.2 .9 1.7 2 .5 1 .5 2 0 2-.3 2-.7 2-1.1 2-1.8 1.9-1 .7-2 .8-1 .2-2-.1-1-.3-2-1.1-1-.9-1-1.2-1-2-.6-3 .2-3 .7-2 .7-1.3 1-1.3 1-.9 2-1.2zM605.8 628.4l1.6-.4 1 0 1 .1 2 .7 2 1.5 .9 1.1 .6 1 .6 2 .1 2-.3 2-1.2 3-1.7 2-1 .8-1 .6-2 .5-2-.1-1-.3-2-1.2-1-1-.9-1.3-.4-1-.6-2 0-3 .5-2 .4-1 1-1.6 1-1 1-.8zM605.2 629.4l2.2-.7 2 .1 1 .3 2.1 1.3 .9 1 1.1 2 .3 1 .1 2-.2 2-.8 2-1.5 2.2-1 .8-2 1-1 .3-2-.1-2-.9-1-.8-1-1.2-1.1-2.3-.3-3 .6-3 .8-1.5 1-1.2zM608.4 629.4l2 .5 1 .6 1.1 .9 1.3 2 .3 1 .2 2-.3 2-.3 1-1.3 2.2-1 1.1-1 .6-1 .5-2 .3-1-.2-1.3-.5-1.3-1-.9-1-1-2-.2-1-.2-2 .4-2 .3-1 1.4-2 1.8-1.4 1-.4zM606.2 630.4l1.2-.3 1 0 2 .6 1 .6 1 1 .6 1.1 .6 2 .1 1-.3 2-1 2.2-1 1.2-1 .8-2 .8-2-.1-1-.4-1-.7-1.4-1.8-.8-2-.1-1 .1-2 .7-2 1.5-2zM605.6 631.4l1.8-.6 2 .2 1 .4 1 .8 .9 1.2 .4 1 .4 2-.3 2-.4 1-1.4 2-1.6 1-2 .4-1-.2-1-.4-1-.8-1.3-2-.5-2 .2-2 .3-1 1.2-2zM605.2 632.4l1.2-.7 1-.2 1 0 1 .2 1.2 .7 .9 1 .5 1 .4 2-.2 2-1.1 2-1.7 1.3-1 .4-1 0-1-.2-1-.5-1-.9-.7-1.1-.5-2 .2-2 .9-2zM606.7 632.4l1.7-.2 1 .3 1.2 .9 .7 1 .4 1 0 2-.7 2-.8 1-.8 .6-1 .4-1 0-1-.2-1-.6-1-1.3-.6-1.9 .2-2 .4-1 1-1.2zM606.3 633.4l1.1-.4 1 0 1 .4 1 1 .5 1 .2 1-.4 2-.6 1-.7 .7-1 .5-1 0-1-.2-1-.8-.7-1.2-.2-1 0-1 .2-1 .7-1.2zM606.4 634.4l1-.4 1 0 1 .6 .6 .8 .3 1-.1 1-.8 1.6-1 .6-1 .1-1-.3-1-1.5-.1-1.5 .1-.5zM607.1 635.4l.3-.2 1 .1 .7 1.1-.1 1-.6 .9-1 .2-1-1 0-1.1zM173.4 696.7l2.9-.6 3 0 2 .3 3 1.1 3 1.7 2 1.5 2.2 2 2.8 3.2 2.7 3.8 1.8 3 2 4 1.7 4 1.5 4 1.8 6 1.9 9 1.3 10 .4 10-.5 29-.4 5-.6 5-1.1 5-.9 3-1.1 3-2.1 4-1.4 2-2 2.2-2 1.4-2 1-1 .2-3 .2-3-.7-7-3.2-6-2.5-2-1-3-2.1-2-1.8-2-2.2-2.7-3.5-1.9-3-2.1-4-1.8-4-1.9-5-1.3-4-1.5-6-1.2-6-.9-6-.5-6-.3-6 .1-6 .4-7 .7-6 1.2-6 1.2-5 2-6 1.6-4 2.1-4 2.5-4 2.3-2.8 3-2.9 3-2zM114.2 791.7l2.1-.6 2 .2 2 .7 2.3 1.7 1.6 2 1.7 3 1 3 .7 4 .1 4-.6 4-1.2 4-1 2-1.6 2.2-2 1.9-2 1-2 .5-2-.2-2-.8-2-1.5-1.8-2.1-1.1-2-.9-2-.9-3-.4-3-.1-3 .4-4 .4-2 1-3 1-2 1.4-2 2-1.9zM174 707.7l2.3-.6 2-.2 3 .3 2 .7 2 .9 2 1.4 2 1.7 2 2.1 3.5 4.7 1.7 3 1.9 4 2.5 7 1.1 4 1.1 5 .8 5 .6 6 .6 17 1.1 14 .1 6-.4 6-1.4 7-1.4 4-1.4 3-1.4 2.1-2 2.1-2 1.4-2 .6-1 .2-2-.2-2-.7-2-1.2-7-6-6-3.8-2-1.5-2-1.8-2-2.2-3.4-5-2.1-4-1.3-3-2.7-8-1.8-8-1.2-10-.3-5 .1-6 .3-5 .7-6 .9-5 1-4 1.3-4 1.6-4 1.9-3.7 2-3.1 2-2.4 2-2 2-1.4zM116.9 793.7l1.4 .1 2 .9 1.3 1 1.6 2 1.2 2 .7 2 .8 3 .2 3-.1 3-.3 2-.9 3-.9 2-1.4 2-1.2 1.3-2 1.2-2 .5-2-.2-2-.9-1.1-.9-1.7-2-1.1-2-.7-2-.8-3-.2-3 .1-3 .6-3 .6-2 1.3-2.6 1-1.4 2-1.9 2-.9zM176.7 713.7l1.6-.2 2 .1 2 .4 2 .9 2 1.2 2 1.7 3 3.3 3 4.7 2.7 5.9 2 6 1.6 7 1 8 .9 15 2.1 16 .3 5-.2 5-.5 4-.6 3-.9 3-1.9 4-1.5 2.2-1.8 1.8-1.2 .8-2 .8-1 .1-2-.3-2-.9-1-.7-3-2.8-5-5.9-2-1.7-5-3.7-2-1.9-2-2.4-3-4.7-2.6-5.7-2-6-1.7-8-1.1-9-.2-5 .2-5 .3-4 .6-5 .8-4 1-4 1.4-4 1.3-3 1.6-3 2-3 2.4-2.6 2-1.5 2-1.1zM114.7 795.7l1.6-.5 2 .2 2 1 1 .8 1.2 1.5 1.1 2 1 3 .4 2 .1 3-.1 2-.4 2-1 3-1.3 2.3-1.6 1.7-1.4 .9-2 .6-2-.2-1-.5-1-.6-1.2-1.2-1.4-2-.9-2-1-4-.1-2 .1-3 1-4 .9-2 1.4-2 1.2-1.2zM177.2 718.7l3.1-.1 2 .4 2 .9 3 2.2 3 3.3 2.2 3.3 2.4 5 2.1 6 1.4 6 1 7 1.1 14 2.3 12 .7 5 .3 5 0 4-.4 3-.7 4-.9 3-1.3 3-1.3 2-1.9 2.1-1 .7-2 .8-2 0-1-.3-2-1-1-.8-2.3-2.5-5.7-8.1-2-2-5-4.1-3-3.4-2.7-4.4-1.8-4-2-6-1.4-6-1-8-.2-5 .1-4 .7-8 .8-4 1-4 1-3 1.5-3.6 1.3-2.4 1.7-2.5 2-2.2 2-1.6 2-1.1zM115.2 796.7l1.1-.3 2 .2 2 1.1 1 .9 1.4 2.1 .8 2 .6 2 .2 2 .1 2-.3 3-.6 2-.8 2-1.4 2-1 1-1 .7-2 .6-1 0-2-.7-2-1.8-1.7-2.8-.6-2-.5-3 .1-4 .4-2 .6-2 1.1-2 .8-1 1-1zM175.4 723.7l2.9-.9 3 .1 3 1.2 3 2.4 2.7 3.2 2.3 4 2.1 5 1.8 6 1.2 7 .9 11 .5 4 2.9 12 .9 5 .3 4 .1 4-.4 4-.6 3-.8 3-.9 2-1.1 2-1.9 2.3-2 1.3-1 .3-1 .1-2-.4-2-1.1-1-.9-1.4-1.6-1.4-2-3.2-5.8-2-3-2-2.1-4-3.5-3-3.5-2-3.2-1.8-3.9-1.4-4-1.3-5-1.1-7-.4-8 .4-7 1.2-7 1.9-6 1.3-3 1.2-2 1.4-2 1.6-1.8 1.4-1.2zM115.2 797.7l1.1-.3 1 0 2 .6 1 .8 1.6 1.9 .9 2 .6 2 .3 2 .1 2-.2 2-.4 2-.9 2.2-1 1.6-1 1.1-1 .8-2 .6-1 0-2-.7-1.7-1.6-.7-1-.9-2-.6-2-.3-2 0-3 .3-2 .6-2 .9-2 .7-1 1.7-1.6zM177.9 726.7l2.4-.2 2 .5 1 .4 3 2.1 2 2.1 2 3.1 2 4 1.4 4 1.3 5 .7 5 1.4 13 .9 4 2.5 8 .9 4 .6 4 .3 5-.2 3-.4 3-.7 3-1.2 3-1.1 2-1.4 1.8-1 .8-2 .9-2 0-1-.3-1.8-1.2-1.2-1.2-1.4-1.8-1.2-2-3.4-7.1-2-3.3-2-2.1-3.9-3.5-2.1-2.6-2-3.3-1.4-3.1-1.4-4-1.2-5-1-7-.1-7 .6-7 1.3-6 1.8-5 2.4-4.1 1.6-1.9 1.4-1.3 2-1.2zM115 798.7l1.3-.5 1 0 1 .2 1 .5 1 .9 1 1.2 .9 1.7 .6 2 .4 2 0 2-.2 2-.4 2-.9 2-1.4 1.9-1 .9-1 .5-1 .2-1 0-1-.3-1-.6-1.6-1.6-.6-1-.8-2-.7-3 0-2 .2-2 .8-3 .7-1.4 1-1.3zM176.7 730.7l1.6-.6 1-.1 2 .1 2 .8 1 .6 2 1.6 2 2.5 2 3.5 1.5 3.6 1.4 5 .9 5 1.4 13 1.1 4 2.7 7.3 1.1 3.7 .8 4 .4 5-.1 3-.5 4-.8 3-.8 2-1.1 2-1 1.3-1 .9-2 1-2 0-2-1-1.3-1.2-1.6-2-1.6-3-3.5-8.5-1-1.9-2-2.6-3-2.7-2-2.1-2.2-3.2-2.3-5-1.5-5-1.1-6-.4-6 .3-6 1-6 1.5-5 2-4 1.4-2 1.3-1.4zM114.7 799.7l1.6-.7 1 0 1 .2 1 .6 1 .9 1 1.4 .7 1.6 .5 2 .2 2 0 2-.4 2-.7 2-1.3 2-1 .9-1 .6-1 .2-1 0-1-.3-1-.6-1-1-1.5-2.8-.7-3 0-3 .7-3 1.5-2.8zM177.9 733.7l1.4-.4 2 .2 2 .7 1 .7 2 1.8 1 1.3 2.1 3.7 1.5 4 1.3 5 .6 4 .8 9 .6 3 .9 3 3.6 8 1.5 5 .6 4 .2 4-.3 4-.6 3-1 3-1.1 2-1.7 2-1 .6-1 .4-1 .1-2-.5-2-1.6-1.5-2-2-4-2.5-7.7-1.4-3.3-1.6-2.4-4.9-4.6-2.1-3-2-4.1-1.5-4.9-.9-5-.4-6 .2-5 .8-5 1.5-5 2.1-4 2.2-2.5 1-.7zM114.4 800.7l.9-.6 1-.4 1 0 1 .3 1 .6 1 1 .7 1.1 1 3 .3 2-.1 2-.7 3-1.1 2-1 1-1.1 .7-1 .3-1 0-1-.4-1-.7-1.5-1.9-1-3-.3-3 .5-3 .8-2zM179.3 736.7l1-.1 2 .5 2 1.2 2.2 2.4 1.2 2 1 2 1.3 4 .9 4 1.1 11 .7 4 1.3 3 3.8 7 1.1 3 .8 3 .5 3 .2 4-.2 3-.5 3-.9 3-1.5 2.6-1.3 1.4-1.7 .9-1 .1-1-.2-1-.4-1.7-1.4-1.4-2-1.1-2-1.1-3-2.7-9.9-1-2.5-1-1.5-1-1-4-3.6-1.8-2.5-2-4-1.5-5-.7-5-.2-5 .5-5 .8-4 1.5-4 1.8-3 1.6-1.6 1-.7zM115.6 800.7l.7-.3 1 0 1 .3 1 .7 1 1.1 .6 1.2 .9 3 0 3-.9 3-.6 1.2-1 1.1-1 .7-1 .3-1 0-1-.4-1.1-.9-1.3-2-.9-3 0-3 .9-3 1.3-2zM177.9 740.7l1.4-.5 1-.2 2 .5 1 .6 1.7 1.6 1.9 3 1.4 3.4 1 4.1 .6 4.5 .5 8 .7 3 .9 2 3.3 4.5 1.5 2.5 1.4 3 .9 3 .5 3 .3 4-.2 3-.6 3-.8 2.4-1 1.9-1 1.3-1 .7-1 .5-1 .1-1-.2-1-.5-1.4-1.2-1.4-2-1.4-3-.9-3-1.9-9.8-1-3.4-1.2-1.8-3.8-3.1-2-2.2-2-3.4-1.5-4.3-.6-3-.4-4 .1-4 .5-4 .9-3.4 1.1-2.6 1.9-2.7zM115.1 801.7l1.2-.6 1 0 1 .3 1 .8 1.1 1.5 .9 3 0 3-.9 3-1.1 1.5-1 .8-1 .3-1 0-1-.4-1-.9-1-1.5-.8-2.8 0-3 .5-2 1-2zM177.9 744.7l1.4-.8 1-.1 1 .1 1 .4 1 .7 1 1 1.1 1.7 .9 1.8 .7 2.2 .9 4 .3 4 .1 8 .3 2 .3 1 .6 1 3.8 3.2 2 2.2 2 3.4 1.2 3.2 .6 3 .2 3-.1 3-.4 3-.6 2-.9 2-1 1.4-1 .8-1 .5-1 .1-1-.2-1.1-.6-.9-.8-1-1.3-1.4-2.9-1-3-.8-4-.8-10.5-.5-2.5-.6-1-.9-.8-4-2.3-1.9-1.9-1.8-3-1-3-.6-3-.3-3 0-3 .3-3 .8-3 .8-2 1.3-2zM114.8 802.7l.5-.5 1-.4 1 0 1 .3 1 .9 .5 .7 .9 2 .3 3-.7 3-1 1.7-1 .9-1 .3-1 0-1-.4-.5-.5-.8-1-.9-2-.3-2 .3-3 .9-2zM179.1 748.7l1.2-.5 1 .1 1 .5 1 1 1 1.6 .6 1.3 .7 3 .3 2 .1 3-.3 3-.4 2-1 2.2-1 .9-1 .3-1-.1-1-.3-1-.7-1-1.2-1.2-2.1-.6-2-.4-2-.2-4 .4-3.1 1-2.8 1-1.5zM188.5 776.7l.8-.6 1-.3 1 .1 1 .3 2 1.4 1 1.1 1.3 2 .9 2 .8 2.9 .3 2.1 .2 3-.2 3-.4 2-.9 2.5-.9 1.5-1.1 1.1-1 .5-1 .2-1-.2-1-.6-1-1-1.7-3-1-3-.8-5-.1-5 .6-4.3 .6-1.7zM115.8 802.7l.5-.2 1-.1 1 .4 1 1 .5 .9 .6 2 0 3-.6 2-.5 .9-1 1-1 .4-1-.1-1-.5-.7-.7-.6-1-.6-2-.2-2 .4-2 .7-1.6 1-1.1zM180.3 756.7l1-.1 .5 1.1 .1 1-.2 1-.4 .9-1-.5-.2-.4-.1-2zM189.9 778.7l.4-.4 1-.3 1 .1 1 .3 1 .8 1 1.1 1 1.5 1 2.4 .6 2.5 .4 3-.1 2-.6 4-1.3 2.8-1 1.2-1 .5-1 .2-1-.2-1-.7-.7-.8-1.3-2.1-1.2-3.9-.6-5 .3-4 .7-3 .8-1.4zM115.4 803.7l.9-.5 1-.1 1 .5 1 1.2 .7 1.9 .1 2-.4 2-.5 1-.8 1-1.1 .6-1-.1-1-.6-1-1.4-.5-1.5-.1-1 .1-2 .5-1.5zM190.2 780.7l1.1-.8 1-.1 1 .2 1 .7 1 1.1 1 1.7 1 3.2 .4 4-.4 3.6-1 2.8-1 1.3-1 .7-1 .2-1-.3-1-.7-1-1.4-.6-1.2-.9-3-.5-4 .1-3 .7-3zM115.3 804.7l1-.8 1 0 1.2 .8 .6 1 .4 1 .1 2-.3 1.6-1 1.7-1 .5-1 0-1-.7-1-2.1-.1-1 .1-2zM191.6 781.7l.7-.3 1 .2 1 .6 1 1.2 1.1 2.3 .6 3 .1 3-.3 2-.5 1.6-1 1.8-1 .8-1 .2-1.1-.4-.9-.8-.8-1.2-.8-2-.6-3 0-3 .5-3 .7-1.8zM115.3 805.7l1-.9 1-.1 1 .7 .6 1.3 .2 1-.2 2-.6 1.3-1 .7-1-.1-1-.9-.4-1-.2-2zM191.4 783.7l.9-.5 1 0 1 .6 1.2 1.9 .8 3 .1 3-.1 1-.6 2-.4 .8-1 1-1 .3-1-.4-1-1.1-.8-1.6-.5-2-.2-3 .3-2 .6-2zM115.7 806.7l.6-.9 1-.1 1 1.3 .2 .7-.2 1.7-1 1.3-1-.1-.6-.9-.4-1 0-1zM191.7 785.7l.6-.6 1-.1 1 .7 1 2 .2 1 .2 2-.4 2.5-1 1.7-1 .3-1.1-.5-.9-1.5-.4-1.5-.2-3 .5-2zM116.9 807.7l.4 0 0 1.1-.4-.1zM192.7 787.7l.6-.3 .3 .3 .7 .9 .2 1.1 .1 1-.3 1.4-1 .9-1-.9-.3-1.4 .1-2 .2-.7zM336 723.7l1.3-.1 2 .2 2 .8 2 1.3 1.8 1.8 1.7 2 4.5 7 2 2.5 1 1 2 1.3 4 1.7 2 1.2 1 .8 1.4 1.5 1.3 2 1.1 3 .7 3 1 7 .9 3 1.3 3 4.6 8 2.1 5 1.3 5 .3 3 .1 3-.4 5-1.4 5-.8 2-1.6 3-1.4 2-1.5 1.8-3 2.5-2 1.2-2 .9-2 .5-2 .3-2 0-2-.3-2-.5-2-.8-3-1.8-2-1.7-2-2-5-5.9-2-2.1-2-1.7-4-2.7-2.1-1.7-.9-1-1.4-2-1.4-3-.6-2-.5-3-1.1-12.6-1.9-14.4-.3-7 .5-6 .9-5 .9-3 1.2-3 1.7-3 2-2.7 2-1.7 2-1.1zM278.6 788.7l2.7-.7 4-.2 3 .5 2 .6 2 .9 3 2.1 2.7 2.8 1.9 3 1.2 3 .6 3 .2 4-.8 4-1.1 3-1.9 3-2.8 3-2 1.5-2 1.1-3 1-4 .5-3-.2-3-.8-3-1.4-3-2.2-2.2-2.5-1.3-2-1-2-1-3-.4-3 .1-4 .4-2 .6-2 1.4-3 2.2-3 2.2-2.1 2-1.4zM334.4 730.7l1.9-.7 2 0 1 .2 2 1 1 .8 2 2.2 2.2 3.5 4.8 9.6 2 2.7 3.6 3.7 1.5 2 1.2 2 2.4 6 1.1 2 2 3 5.8 7 1.8 3 1.4 3 1.2 4 .5 4-.2 5-.9 4-1.7 4-1.2 2-1.5 1.8-3 2.6-3 1.5-3 .6-2 .1-2-.4-2-.6-2-1.1-3-2.4-1.9-2.1-1.5-2-5.6-9.7-2-2.9-4-5.2-1.2-2.2-1.3-3-3.2-11-2-8-.9-6-.1-6 .2-3 .5-3 .5-2 1-3 1-2 1.5-2.3 1.6-1.7zM281.5 790.7l2.8-.3 3 .4 2 .6 3 1.5 2.2 1.8 2.4 3 1.4 3 .8 3 .2 3-.3 3-1 3-1.7 3-2 2.4-3 2.2-2 .9-3 .8-3 .2-3-.6-3-1.1-2-1.3-2-1.7-2.1-2.8-1.4-3-.7-3-.2-3 .6-4 1.2-3 1.3-2 2.3-2.5 2-1.5 3-1.5zM335.4 734.7l1.9-.5 2 .4 2 1.3 1.6 1.8 1.4 2.2 1.4 2.8 4.6 12.6 2 4 2.5 4.4 1.4 2 1.7 2 6.4 5.2 3 2.8 2.5 3 2.1 4 1.2 4 .4 4-.3 4-.7 3-1.2 3-2 3-2 2-3 1.8-3 .8-2 0-2-.4-2-.8-2-1.3-1.4-1.1-1.8-2-1.9-3-1.5-3-3.4-9.6-1.4-3.4-1.6-2.7-4-6.1-2-3.8-2-4.4-1.8-5-1.1-5-.5-5 .1-4 .9-5 1.4-3.7 1-1.6 1-1.2 1-.9zM280.1 792.7l3.2-.6 3 .1 3 .9 2 1.1 2 1.6 1.7 1.9 1.7 3 .6 2 .5 3-.2 3-.9 3-.9 2-1.5 2-2 2-2 1.3-3 1.2-2 .3-3-.1-2-.4-3-1.4-2-1.4-2.2-2.5-1.2-2-1.1-3-.3-2 0-3 .4-2 1.1-3 1.3-2.1 2-2.2 2-1.4zM335.4 738.7l.9-.4 1-.2 1 .1 1 .3 1 .7 1 1 1 1.4 1.5 3.1 1.3 4 1.1 5 .8 6 .7 9 .2 1 .4 .9 1 .6 1 .3 5 .8 3 .7 4 1.8 3 2.1 1.8 1.8 1.5 2 1.6 3 1 3 .4 3 0 3-.5 3-1 3-1.8 3-2 2-2 1.3-3 .9-2 0-2-.4-1.7-.8-1.3-.8-1.3-1.2-1.8-2-1.2-2-1-2-1.1-3-.7-3-.7-5-.3-10-.4-2-1-1-3.5-1.5-3-2-2-2.1-1-1.4-2-3.7-1.2-3.3-.8-3-.4-4 .1-3 .4-3 .9-3 1.1-2 .9-1.1zM281 793.7l2.3-.4 2 0 3 .7 2 1 2.2 1.7 1.7 2 1.6 3 .5 2 .3 2-.2 3-.9 3-1.1 2-1.7 2-1.4 1.2-2 1.2-3 1-3 .2-2-.3-2-.7-2-1.1-1.8-1.5-1.7-2-1.1-2-.9-3-.2-3 .3-2 .5-2 1-2 1.3-2 1.6-1.6 2-1.3zM335.9 742.7l1.4-.6 1 .1 1 .5 1 1 1 1.5 .7 1.5 .8 3 .5 3 .1 2-.3 4-.7 2-.6 1-.5 .6-1 .6-1 .1-1-.3-1-.6-1-1-1-1.4-1-2-.9-3-.4-4 .3-3 1-3.1 1-1.4zM354.3 776.7l2-.5 2 0 3 .8 2 1 2 1.6 1.8 2.1 1.2 2 1.2 3 .5 3 0 3-.6 3-.7 2-1.2 2-1.2 1.4-2 1.6-2 .9-2 .2-2-.2-2-.8-1.6-1.1-1.4-1.3-1.2-1.7-1.1-2-1.2-3-.6-3-.2-3 .2-3 .4-2 .7-2 1-1.7 1.3-1.3zM281.2 794.7l2.1-.4 3 .2 2 .6 2 1.1 1.8 1.5 1.6 2 1 2 .6 2 .3 2-.2 3-.6 2-1 2-1.5 2-2 1.7-2 1.1-2 .6-3 .2-2-.4-2-.7-2-1.2-1.4-1.3-1.5-2-1-2-.6-2-.2-3 .3-2 .6-2 1-2 1.6-2 1.2-1.1 2-1.2zM336.8 748.7l.5-.6 1 .1 1 1.3 .3 1.2 .2 2-.2 1-.3 1-1 .7-1-.5-1.1-2.2-.1-2 .2-1.2zM355.2 779.7l1.1-.5 2-.3 2 .2 2 .7 2 1.4 1.4 1.5 1.3 2 .9 2 .4 2 .2 3-.2 2-.6 2-.9 2-1.5 1.9-1.3 1.1-1.7 .8-1 .3-2 0-2-.6-1-.6-1.2-.9-1.7-2-1.1-2-.7-2-.7-4 .1-2 .3-2.2 .6-1.8 1.1-2 .9-1zM281 795.7l2.3-.5 2 .1 2 .4 2 .9 2 1.5 1.4 1.6 1.1 2 .7 2 .2 2-.2 3-.6 2-1.1 2-1.5 1.8-1 .8-2 1.2-2 .7-2 .2-2-.1-2-.6-2-1.1-1.2-.9-1.7-2-1.1-2-.6-2-.2-2 .1-2 .4-2 .9-2 1.4-2 1.1-1 1.9-1.3zM356.9 781.7l1.4-.4 2 .1 1.1 .3 1.8 1 1.1 1 1 1.4 .9 1.6 .6 2 .2 2-.1 2-.9 3-.7 1.2-1 1.2-1 .8-2 .8-2 .1-1-.3-2-1.2-1-1-1-1.4-1.2-3.2-.4-2 0-2 .7-3 .9-1.8 1-1.2zM280.5 796.7l1.8-.5 2-.2 2 .2 2 .8 2 1.3 1 .9 1.1 1.5 1 2 .5 2 .1 2-.3 2-.7 2-1.2 2-.8 1-1.7 1.4-2 1-2 .4-2 .1-2-.4-2-.9-2-1.5-.9-1.1-.7-1-.9-2-.5-2-.1-2 .3-2 .8-2 1-1.7 1.1-1.3 1.9-1.4zM359.1 783.7l1.2 0 1 .4 1 .5 1 .9 1.4 2.2 .6 3-.2 2-.2 1-1.1 2-1.5 1.4-1 .4-1 .2-1-.1-1-.4-1-.6-1-1-1.1-1.9-.6-3 .3-3 .9-2 1.5-1.4zM280.1 797.7l1.2-.5 2-.4 2 0 2 .5 2 1.1 1 .9 1.2 1.4 1.1 2 .7 3-.1 2-.5 2-1 2-1.4 1.6-1 .9-2 1.1-2 .5-2 0-2-.4-1-.4-2-1.3-1-1-1-1.4-.8-1.6-.5-2-.1-2 .7-3 .7-1.4 1.2-1.6 1-1zM359.3 786.7l1 0 1 .5 .6 .5 .7 1 .5 2-.3 2-.5 1-1 .9-1 .3-1-.2-1-.6-1-1.4-.3-1-.1-2 .4-1.3 1-1.2zM282.1 797.7l1.2-.2 2 0 2 .6 1.2 .6 1.8 1.6 1 1.3 .6 1.1 .6 2 .1 2-.3 2-.8 2-.7 1-.8 1-1.7 1.3-1 .5-2 .6-2 0-1-.1-2-.8-1-.6-1.1-.9-1.5-2-.4-1-.6-2 0-3 .6-1.9 .5-1.1 1.5-1.9 1-.8 1-.6zM281.2 798.7l1.1-.4 2-.2 2 .3 1 .4 1.4 .9 1.1 1 .8 1 .9 2 .3 1 .1 2-.3 2-.4 1-.9 1.6-1 1.1-1 .8-2 1-1 .2-2 0-2-.5-1-.4-2.1-1.8-.9-1.3-.7-1.7-.2-1-.1-2 .4-2 .4-1 1.3-2 1.1-1zM280.7 799.7l1.6-.7 1-.2 2 .1 1 .2 1.2 .6 1.4 1 1.5 2 .5 1 .4 2-.1 2-.3 1-.6 1.4-1 1.4-2 1.5-2 .7-2 .1-1-.2-2-.9-1-.8-1-1.1-.6-1.1-.4-1-.4-2 .2-2 .2-1 1.1-2 .9-1zM282.4 799.7l1.9-.2 1 .1 2 .7 1 .7 1 1.1 .9 1.6 .3 1 .1 1-.1 2-.7 2-.7 1-1 1-1.7 1-1.1 .3-2 .1-1-.2-2-1-1-.9-.9-1.3-.7-2-.1-2 .1-1 .8-2 .8-1.1 1-.9zM281.6 800.7l1.7-.5 1-.1 2 .5 1 .5 1 .9 1.2 1.7 .5 2-.1 2-.3 1-1.3 2-2 1.3-1 .3-2 .1-2-.7-1.3-1-.8-1-.6-1-.3-1.2-.1-1.8 .5-2 .6-1 .8-1zM281.2 801.7l2.1-.8 2 .1 1 .3 1 .7 1.4 1.7 .6 2-.1 2-1 2-.9 1-1 .6-2 .5-2-.3-1-.6-1-.8-.9-1.4-.5-2 .2-2 1-2zM283 801.7l1.3-.1 1 .1 1 .4 1 .8 1.1 1.8 .2 2-.6 2-.7 1-1 .8-1 .4-2 .1-1-.3-1.4-1-.7-1-.4-1-.2-2 .7-2 1-1.1zM282.6 802.7l1.7-.3 1 .2 1 .5 .6 .6 .7 1 .2 1 .1 1-.3 1-.5 1-.8 .8-1 .5-1 .2-1-.1-1-.3-1-.9-.7-1.2-.3-1 .1-1 .3-1 .6-1.1zM282.7 803.7l.6-.3 1-.1 1 .3 1.2 1.1 .4 1 0 1-.6 1.5-1 .8-1 .3-1-.1-1-.6-.7-.9-.4-1 .1-1 .4-1zM283.8 804.7l.7 0 .8 .6 .3 .4 0 1-.3 .7-1 .5-1-.1-.7-1.1 0-1 .7-.8zM494 713.7l1.5-.3 2 0 3 .6 3 1.4 3 2.2 2.2 2.1 6.8 7.1 6.2 4.9 2.2 2 1.6 2 1 1.6 1.1 2.4 .7 2 .8 3 .6 4 .2 4 .1 8 .3 3 1.1 4 2.5 7 1.1 4 .9 6 0 5-.5 4-.7 3-1 3-1.4 3-1.8 2.8-2 2.1-2 1.5-2 .9-3 .6-3-.3-3-1.2-6-3.3-2-.4-2 .3-5 1.8-3 .6-3-.1-2-.6-1.4-.7-1.5-1-2.1-2.3-1.7-2.7-1.5-4-1.3-6-1.8-13-3.1-14-1.1-6-.5-8 .3-8 1.1-6 1-4 1.9-5 2.1-4 2.6-3.5 3-2.9 3-1.8zM441.8 828.7l-2.3-1.1-2.6-1.9-1.8-2-1.9-3-1.3-3-.7-3-.3-3 .2-3 .8-4 1.3-3 1.9-3 1.4-1.6 2-1.7 2-1.2 3-1 3-.3 2 .2 3 .9 3 1.9 2 1.8 1.6 2 1.6 3 1.1 3 .5 3 .1 3-.2 3-1.1 4-.9 2-1.9 3-1.8 2-2 1.6-2.9 1.4M495.5 718.7l3 .1 3 1 2 1.2 3.1 2.7 2.5 3 5.4 7.4 5.1 6.6 1.9 3.1 1.6 3.9 .9 4 .9 9 .6 2.8 1.2 3.2 4.2 8 1.2 3 1.1 5 .4 5-.2 3-.4 3-.9 3-1.2 3-1.4 2.2-2 2.3-2 1.5-2 .8-2 .4-1-.1-2-.4-2-.9-2.6-1.8-4.4-4.1-2-1.2-2-.4-5 .8-2 .1-2-.3-1-.4-2-1.2-2-2.1-1.8-3.2-1.1-3-3.1-11.3-3.6-11.7-1.2-5-.7-4-.4-4-.1-4 .2-5 .7-5 1.3-5 1.6-4 1.6-3 2.1-3 2.5-2.4 3-1.8zM444.5 795.7l2-.1 3 .4 3 1.5 2 1.6 1.4 1.6 1.7 3 1.1 3 .5 3 0 3-.5 3-1.1 3-1.7 3-2.4 2.5-2 1.3-2 .9-3 .4-3-.3-2-.7-2-1.2-2-1.8-1.7-2.1-1.1-2-1-3-.5-3 0-3 .5-3 1-3 1.1-2 1.7-2.1 2-1.8 3-1.6zM492.7 722.7l2.8-.8 2-.1 2 .5 2 .8 2 1.4 2 1.8 3.4 4.4 7.2 12 1.6 3 1.3 3 1.2 4 1.3 9 .9 3 1 2 5 7 1.9 4 1.2 4 .6 4-.1 4-.6 4-1.4 4-1.8 3-1.7 1.8-1 .7-2 1-2 .3-2-.2-1-.3-2-1-2.6-2.3-5.4-6.5-1-.8-1-.5-2-.2-3 .2-2 0-2-.6-2-1.2-2-2.3-1.7-3.1-6-15-2.6-8-1.5-7-.4-7 .1-3 .4-4 1.4-6 1.1-3 1.4-3 1.3-2 1.6-2 1.9-1.7zM443 797.7l2.5-.5 2 0 3 .9 2 1.3 2 1.9 1.6 2.4 .9 2 .7 3 .2 3-.4 3-.5 2-1.5 3-1.5 2-1.5 1.3-2 1.3-3 .9-2 0-2-.3-2-.8-2-1.4-1.9-2-1.3-2-1.2-3-.4-2-.2-3 .2-2 .4-2 1.2-3 1.3-2 1.9-2 2-1.4zM493.9 724.7l1.6-.4 2-.1 2 .5 2 1 3 2.4 2 2.4 1.5 2.2 1.8 3 2.5 5 2.7 6 1.1 3 1.1 4 1.4 9 1 3 1.2 2 3.7 3.6 2 2.3 1.4 2.1 1.5 3 .9 3 .6 4 0 4-.7 4-1.1 3-1.6 2.6-2 2-2 1.1-2 .4-2-.3-2-.9-1.3-.9-1.1-1-1.6-2-4-6.5-1-1.4-1-.9-1-.5-1-.3-4 0-2-.3-2-1-1-.8-2-2.3-2-3.4-4-8.1-2.4-5.5-1-3-1.2-4-1-6-.2-6 .5-6 .6-3 1-3 1.2-3 1.1-2 1.4-2 2-2 2-1.4zM443.8 798.7l1.7-.3 2 0 2 .6 2 1 1.9 1.7 1.5 2 1 2 .8 3 .2 2-.2 3-.8 3-1 2-1.5 2-1.9 1.7-2 1-2 .6-2 0-2-.4-2-.9-1.4-1-1.9-2-1.2-2-.8-2-.5-2-.2-3 .2-2 .5-2 .8-2 1.2-2 1.9-2 1.4-1zM494 726.7l1.5-.4 2 0 1 .1 2 .8 2 1.3 1 .9 2 2.3 1.4 2 3.1 6 2 5 1.7 5 1.4 6 1 9 .5 2 .5 1 1.4 1.6 4 2.6 3 2.6 1.6 2.2 1.5 3 .9 3 .5 3-.1 4-.5 3-1.1 3-1.1 2-1.7 1.9-2 1.2-2 .5-2-.3-2-1-1.5-1.3-1.7-2-1.2-2-3.6-8.3-1-1.5-1-.8-1-.3-4 .1-2-.3-2-.8-2-1.6-2-2.4-3-4.7-2.4-4.4-2.3-5-1.9-6-.9-6-.2-6 .6-5 1.4-5 1.2-3 1.2-2 1.3-1.7 1.2-1.3 1.8-1.3zM443.9 799.7l1.6-.3 2 .1 2 .5 2 1.2 1.6 1.5 1.3 2 .9 2 .6 2 .2 2-.2 3-.6 2-.9 2-1.3 2-1.6 1.5-2 1.2-2 .5-2 .1-2-.4-1-.4-2-1.3-1.2-1.2-1.4-2-.8-2-.5-2-.3-2 .3-3 .5-2 .8-2 1.4-2 1.2-1.2 2-1.3zM493.5 728.7l1-.4 2-.3 2 .2 1 .3 1 .5 2 1.5 1.2 1.2 1.8 2.3 1.6 2.7 1.9 4 1.8 5 1.4 5 1 6 .3 4 0 7 .3 2 .4 1 1.2 1 5.1 1.1 3 1.6 2.3 2.3 1.8 3 1 3 .5 3 .1 3-.5 3-.9 3-1.2 2-1.1 1.3-2 1.4-2 .5-2-.3-2-1.1-1-.9-1.5-1.9-1.1-2-1.3-3-.8-3-1.3-6.2-1-2-1-.5-1 .1-4 .8-2 .1-2-.6-1-.5-2-1.6-3-3.4-3-4.5-2.4-4.7-1.8-5-1.1-5-.4-6 .3-5 1.1-5 1.7-4 1.2-2 1.4-1.8 1.4-1.2zM443.6 800.7l1.9-.4 2 0 2 .7 1 .5 1.5 1.2 1.6 2 .9 2 .6 2 .2 2-.2 3-.6 2-.9 2-1.1 1.4-1.8 1.6-1.2 .7-2 .7-2 0-1-.1-2-.8-1-.6-1.1-.9-1.6-2-.9-2-.6-2-.2-2 0-2 .4-2 .8-2 1.2-2 1-1.1 2-1.4zM495.4 729.7l2.1-.1 2 .6 1 .5 2 1.6 2 2.4 1.8 3 1.8 4 1.9 6 1 5 .5 5 0 4-.5 4-.9 4-.9 2-1.7 2.3-2.4 1.7-2.6 .8-2-.1-1-.3-2-1.1-2-1.6-3-3.5-2.1-3.2-1.9-4-1.4-4-.9-4-.5-4 .1-4 .5-4 1-4 1.3-3 1.9-2.9 2-1.8 1-.6zM517.4 774.7l1.1-.2 2 .1 2 .8 1 .6 1.7 1.7 1.3 1.9 .9 2.1 .6 2 .3 2 .1 3-.3 2-.6 2.3-.8 1.7-1.2 1.8-1.3 1.2-1.7 .8-2 .1-1-.3-1-.5-1.4-1.1-.8-1-1.3-2-.9-2-.9-3-.3-2-.2-3 .1-3 .5-2 1.2-2.2 1-.9zM443.2 801.7l1.3-.5 2-.2 2 .4 2 1 1 .9 1.2 1.4 1.1 2 .6 2 .3 2-.1 2-.4 2-.9 2-1.4 2-1.4 1.3-1 .6-2 .7-2 0-1-.1-2-.8-1-.7-1-1-1.4-2-1.1-3-.3-2 .1-2 .8-3 .9-1.7 1-1.3 1-1zM494 731.7l1.5-.5 1-.2 2 .3 2 1 2 1.7 2 2.6 1.6 3.1 1.6 4 1.3 5 .6 4 .3 4-.1 4-.7 4-.9 3-1.7 2.9-2 1.8-2 .9-2 .1-2-.5-1-.5-2-1.5-2-2-2-2.7-1.9-3.5-1.2-3-1.2-4-.5-4-.1-4 .4-4 .6-3 1.1-3 1.8-3 1.9-2zM517.6 776.7l.9-.4 2-.1 2 .6 1 .7 1 .9 1 1.3 1.1 2 .6 2 .3 2 .1 3-.3 2-.6 2-1 2-.8 1-1.4 1.2-1 .4-1 .2-2-.4-1.9-1.4-1.1-1.3-1-1.7-1-3-.6-4 0-2 .3-2 .7-2 .5-1 1.1-1.3zM442.8 802.7l1.7-.7 2-.2 2 .4 1 .4 1 .7 1.4 1.4 .7 1 .9 2 .5 2 .1 2-.3 2-.7 2-1.2 2-.9 1-1.5 1.1-1 .4-1 .3-2 .1-2-.5-1-.6-2-1.8-1-1.6-.6-1.4-.5-2-.1-2 .6-3 .6-1.4 1-1.6 1-1.1zM495.1 732.7l1.4-.2 1 0 2 .7 2 1.4 1.8 2.1 1.7 3 1.3 3 .9 3 .9 4 .4 4 .1 3-.4 4-.7 3-1 2.6-1.6 2.4-1.4 1.2-2 .8-2 .1-2-.7-2-1.3-2-2-2-2.7-1.8-3.4-1.1-3-.9-4-.3-4 0-3 .6-4 .9-3 .9-2 1.7-2.5 2-1.8zM519.4 777.7l1.1-.1 1 .2 1.8 .9 1 1 1.2 1.8 .5 1.2 .8 3 .1 2-.2 2-.9 3-1.3 2-1 .9-1 .5-1 .2-1-.1-1-.4-1-.6-1-1.1-1.4-2.4-.7-2-.4-2-.1-2 .2-2 .9-3 .6-1 .9-1 1-.7zM444.5 802.7l1-.2 2 .1 2 .8 1 .7 1 1.1 .9 1.5 1 3 0 3-1 3-.9 1.5-1 1.1-1 .7-2 .8-2 .1-1-.2-2-1-1.2-1-1.4-2-.9-3 0-3 .9-3 1.6-2.2 1-.8zM493.8 734.7l1.7-.7 2-.1 2 .7 2 1.6 1.9 2.5 1.1 2.1 1.1 2.9 1.1 4 .5 3 .2 4-.3 4-.6 3-1.2 3-1.5 2-1.3 1.1-2 .7-1 0-2-.5-2-1.2-2-1.9-1.6-2.2-1.4-2.6-1-2.4-.8-3-.4-3-.2-3 .2-3 .6-3 1-3 1-2 1.6-2zM518.5 779.7l1-.5 1-.2 1 .1 1 .5 1 .7 1 1.2 1 2.1 .3 1.1 .3 3-.4 3-1.2 2.5-1 1-1 .6-1 .3-1-.1-1-.5-1-.7-1.4-2.1-.8-2-.4-3 .2-3 .7-2 .7-1.1zM443.7 803.7l1.8-.5 1-.1 2 .5 1 .6 1 .8 1 1.2 1.1 2.5 .3 2-.1 2-.5 2-.5 1-1.6 2-1.5 1-1.2 .4-2 .1-1-.2-2-1.1-1-.9-.9-1.3-.8-2-.3-3 .6-3 1.4-2.3 1-.9zM494.6 735.7l1.9-.5 2 .3 1.9 1.2 1 1 1.5 2 1 2 1.1 3 .8 3 .4 3 .1 3-.1 3-.6 3-1.1 2.9-1 1.6-1 1.1-1 .6-1 .4-1 .2-2-.4-2-1.1-2-1.9-1.6-2.4-1-2-.8-2-.8-3-.3-3-.1-3 .4-3 .4-2 .8-2.1 1-1.9 1.6-2zM519.7 780.7l.8-.2 1 .1 1 .4 .8 .7 1.2 1.8 .6 2.2 .1 3-.7 2.5-1 1.5-1 .8-1 .3-1-.1-1-.6-1-.9-1-1.9-.6-2.6 0-2 .6-2.7 1-1.5zM443.2 804.7l1.3-.6 1-.3 2 .1 1 .4 1 .6 1 1 1 1.5 .5 1.3 .4 3-.4 2-.3 1-1.2 1.8-1 1-2 1-2 .1-2-.7-1-.8-1-1.1-1.1-2.3-.4-3 .4-2 1.1-2.3zM495.7 736.7l1.8-.1 1 .3 1.3 .8 1.7 1.7 1 1.6 1.2 2.7 .7 2 .6 3 .3 3-.1 3-.4 3-.6 2-.7 1.6-1 1.4-1.1 1-.9 .5-1 .3-1 0-2-.6-2-1.5-1-1.1-1.1-1.6-1.4-3-.6-2-.6-3-.1-3 .1-2 .5-3 .7-2 .5-1.1 1.3-1.9 1.7-1.5zM519.4 782.7l1.1-.6 1 0 1 .6 1 1.2 .7 1.8 .2 2-.4 2-.5 1.1-.8 .9-1.2 .6-1-.2-1-.6-1-1.5-.4-1.3-.2-2 0-1 .6-1.9zM444.7 804.7l1.8-.3 1 .2 2 1.1 .9 1 .6 1 .7 2 .1 1-.1 2-.7 2-.6 1-.9 1-1 .7-1 .4-2 .1-2-.8-1-.8-1-1.4-.8-2.2-.1-2 .1-1 .7-2 .6-1 .9-1zM494.5 738.7l1-.5 1-.2 1 0 1 .4 1 .6 1 .9 1.3 1.8 1 2 .9 3 .4 2 .2 3-.1 3-.4 2-.6 2-1.1 2-1.6 1.5-1 .4-1 .1-2-.5-2-1.5-1-1.2-1-1.7-.9-2.1-.6-2-.5-3 0-2 .5-4 .6-2 .9-1.9 1-1.3zM519.9 784.7l.6-.5 1 0 1 .8 .3 .7 .3 2-.2 1-.4 1-1 .6-1-.2-1.1-1.4-.2-2 .1-1zM444 805.7l1.5-.5 2 .1 1 .4 1 .9 .9 1.1 .4 1 .5 2-.2 2-.3 1-.4 1-.9 1.1-1 .9-1 .4-2 .1-1.5-.5-1.5-1.3-1-1.9-.4-1.8 0-1 .5-2 .9-1.7zM495.4 739.7l1.1-.3 1 .1 1 .4 1 .7 1 1.1 1.6 3 1 4 .2 4-.2 2-.6 2.2-.9 1.8-.8 1-1.3 .9-1 .3-1-.1-1-.3-1-.7-1.1-1.1-.9-1.2-1-2-1-3.8-.1-4 .3-2 .5-2 1.3-2.4 1-1zM443.7 806.7l.8-.5 1-.4 1 0 1 .2 1.2 .7 .8 .8 .7 1.2 .5 2-.2 2.2-1 2-1 1-1 .5-1 .2-1 0-1-.4-1-.6-1.3-1.9-.5-2 .2-2 .6-1.6zM495 741.7l.5-.4 1-.3 1 .1 1.2 .6 .8 .7 1 1.3 .9 2 .5 2 .3 2 .1 2-.2 2-.6 2-1.1 2-.9 .8-1 .4-1 .1-1-.4-1-.6-1-1.1-1.2-2.2-.8-2.6-.3-3.4 .4-3 .9-2.2 1-1.4zM445.1 806.7l1.4-.2 1 .3 1 .6 1 1.3 .6 2-.2 2-.4 1.1-1 1.2-1 .6-1 .3-1.4-.2-1.5-1-.7-1-.6-2 .2-2 .4-1 .7-1zM495.1 743.7l.4-.4 1-.4 1 0 1 .6 1.1 1.2 .9 1.9 .3 1.1 .3 3-.4 3-.9 2-1.3 1-1 .2-.7-.2-1.3-.9-1-1.4-1-2.7-.2-2 .2-2.8 .8-2.2zM444.8 807.7l.7-.3 1-.1 1 .3 1 .8 .7 1.3 .2 1 0 1-.2 1-.7 1.3-1 .8-1 .3-1-.1-.7-.3-1.1-1-.5-1-.2-2 .2-1 .5-1zM495.9 745.7l.6-.4 1 .1 .5 .3 .8 1 .8 2 .1 2-.2 1.2-1 1.9-1 .5-1-.3-1-1.1-.7-2.2-.1-2 .1-1 .7-1.6zM444.9 808.7l.6-.4 1 0 1 .3 .8 1.1 .3 1 0 1-.3 1-.8 1.1-1 .3-1 0-1-.7-.4-.7-.3-1 0-1 .3-1zM445.5 809.7l1-.2 1.1 1.2-.1 1.2-1 1-1-.2-.6-1 0-1zM664.6 721.7l1.8-.5 1 0 1 .1 2 .7 2 1.5 1 1.1 .8 1.1 .9 2 .5 2 .2 2 0 2-.7 6 .3 3 1 3.1 4.7 10.9 2.1 6 2.8 11 .7 4 .1 3-.4 4-.5 2-.8 2-1.8 3-2.6 3-3.3 2.6-4 2.1-4 1.2-4 .4-4-.4-4-1.2-4-1.9-2-1.3-1.8-1.5-2.7-3-1.8-3-1.3-4-.3-4 .2-3 .5-3 1.7-6 1.9-6 2.1-5 5.5-10.7 2.3-5.3 .6-3 .2-8 .7-3 1-2 1.2-1.7 2-1.7zM599.9 828.7l-2.6-2-2.7-3-1.9-3-1.8-4-1.2-4-.6-5 .1-4 .6-4 1.1-4 1.9-4 2-3 2.6-2.9 3-2.3 3-1.5 3-.8 3-.3 3 .3 3 .8 3 1.5 3 2.3 2.7 2.9 1.9 3 1.9 4 1.1 4 .6 4 .1 4-.6 5-1.2 4-1.8 4-1.9 3-2.7 3-2.6 2M664.8 725.7l1.6-.6 1-.1 2 .5 1 .7 1 1.1 .8 1.4 .3 1 .2 1 0 2-.8 3-1.5 2.5-1 1.3-2 2-.8 .2-.2 1 1 .5 3 4 2 3.3 2.5 5.2 1.9 5 4.4 13 1 4 .3 3-.1 2-.4 2-1 3-1.6 2.5-2 2.2-3 2.2-3 1.5-3 .8-3 .3-3-.3-3-.7-3-1.3-3.2-2.2-2-2-1.9-3-1.1-3-.4-3 .2-3 1-4 7.7-18 2.6-5 2.1-3.5 3-3.8 1-1 1-.7-.1-1-.9-.9-1-1.3-1.6-2.8-.8-2-.3-2 0-2 .6-2 1.1-1.8zM607.8 784.7l1.6-.1 2 .1 3 .8 3 1.5 3.2 2.7 2.3 3 2.1 4 1.2 4 .5 4 0 4-1 5-1.5 4-1.8 3-1.6 2-1.4 1.4-3 2.1-3 1.2-3 .6-3-.1-3-.8-3-1.5-2-1.5-1.4-1.4-2.3-3-2-4-1.1-4-.5-4 0-4 .7-4 1-3 2.1-4 2.5-3.2 3-2.5 3-1.5zM665.5 728.7l.9-.5 1-.2 1 .3 .6 .4 .8 1 .4 1 0 1-.1 1-.7 1.4-1 1-1 .3-1-.1-1-.7-.6-.9-.4-1 0-2 .3-1zM664.2 753.7l1.2-.6 1-.1 1 .3 1 .6 1 .9 1.9 2.9 1.4 3 5.4 13 1.3 4 .3 3-.2 3-.5 2-1.6 2.9-1.8 2.1-2.2 1.7-3 1.5-2 .6-3 .3-3-.3-3-.9-3-1.6-1.7-1.3-1.8-2-1.2-2-.7-2-.4-3 .1-2 .4-2 .6-2 1.3-3 7.4-14.3 2-3zM604.8 787.7l1.6-.5 2-.4 3 .2 3 .8 3 1.8 2.3 2.1 2.2 3 1.9 4 .9 4 .3 4-.4 4-.8 3-1.7 4-2.2 3-2.5 2.3-3 1.8-3 .8-3 .1-3-.6-2-.8-3-2.1-2-2.1-1.7-2.4-1.7-4-.8-3-.4-3 .1-4 .8-4 1.1-3 1.7-3 1.9-2.4 3-2.4zM665.3 760.7l1.1-.1 1 .4 1 .7 1 1.2 2 3.1 3.2 5.7 1.9 4 .8 3 .3 3-.3 2-.6 2-1.1 2-1.8 2-2.4 1.6-2 .9-2 .5-2 .2-3-.3-2-.6-2-1-1.8-1.3-1.9-2-1.1-2-.6-2-.2-2 .1-2 .5-2 .7-2 1.3-2.4 7-10.3 2-1.9zM607.3 788.7l3.1-.2 3 .7 3 1.6 2 1.7 1.8 2.2 1.7 3 1 3 .7 4 0 3-.6 4-1 3-1.7 3-1.9 2.4-3 2.4-2 .9-3 .7-3-.2-3-.9-2-1.2-2.4-2.1-1.6-2.1-1.6-2.9-1-3-.6-4 0-3 .4-3 .9-3 1.4-3 2.3-3 2.2-1.9 2-1.2zM663.6 767.7l1.8-.7 1 0 1 .3 2 1.5 2 2.2 2 3 1.3 2.7 .9 3 .1 2-.3 2-.8 2-1.2 1.8-1.2 1.2-1.8 1.2-2 .8-2 .4-2 .1-2-.4-2-.7-2-1.2-1.3-1.2-1.4-2-.4-1-.5-2 .1-3 .5-2 1-2 1.2-2 1.8-2.2 2-2.1zM605.3 790.7l3.1-.8 3 .2 3 1 2 1.3 2 1.9 1.7 2.4 1.3 3 .8 3 .3 4-.2 3-.8 3-1.3 3-1.8 2.6-2 1.9-2 1.3-3 1-3 .2-2-.4-2-.8-2-1.3-2-1.9-1.8-2.6-.9-2-1-3-.4-3 0-3 .5-3 .9-3 1.7-3 1.6-2 2.4-2zM662.9 771.7l1.5-.7 1-.1 2 .3 1 .5 2 1.7 1 1.2 1.3 2.1 .8 2 .3 2 0 2-.4 1.3-.8 1.7-.8 1-1.4 1.3-1.3 .7-1.7 .6-3 .2-2-.4-1.1-.4-1.6-1-1.1-1-1.2-1.7-.5-1.3-.3-1 0-2 .9-3 1.9-3 2-2zM606 791.7l2.4-.6 2 0 3 .8 2 1.2 1.9 1.6 1.5 2 1.6 3 .8 3 .4 3-.2 3-.6 3-1.3 3-1.2 2-1.9 2-2 1.5-3 1.1-3 .2-2-.5-2-.8-2-1.5-1.9-2-1.2-2-1.3-3-.5-2-.3-3 .2-3 .7-3 .8-2 1.1-2 1.5-2 1.9-1.6zM662.6 774.7l1.8-.8 1-.1 2 .4 1 .5 1.2 1 .8 1 1 1.8 .6 2.2-.1 2-.3 1-1.3 2-1.9 1.4-1.7 .6-1.3 .2-1.7-.2-1.3-.4-1.1-.6-1.2-1-.8-1-.4-1-.4-2 0-1 .6-2 1.3-2.1 1-1zM606.4 792.7l2-.5 3 .2 2 .7 2 1.2 2 2 1.5 2.4 .9 2 .7 3 .2 3-.3 3-.9 3-1 2-1.5 2-2.2 2-2.4 1.2-2 .5-2 0-2-.5-2-.9-2-1.6-1.4-1.7-1.2-2-.8-2-.7-3-.2-3 .2-2 .7-3 .9-2 1.2-2 1.3-1.5 2-1.5zM664.3 776.7l1.1-.2 1 .2 1 .4 1 .8 .6 .8 .5 1 .3 1-.2 2-.4 1-.8 1-2 1-2 .1-1-.3-1.3-.8-.8-1-.4-1-.1-2 .6-1.6 1.1-1.4zM606.6 793.7l1.8-.4 2 0 2 .5 2 1 2 1.8 1.5 2.1 1 2 .8 3 .2 2-.2 3-.8 3-.9 2-1.6 2.3-1.9 1.7-2.1 1.1-2 .5-2 0-2-.5-2-1-1.4-1.1-1.6-2-1-1.7-.9-2.3-.4-2-.2-3 .2-2 .5-2 .8-2.1 1.1-1.9 1.8-2 1.3-1zM606.6 794.7l1.8-.5 2 0 2 .6 2 1.1 1.8 1.8 1.2 1.8 1 2.2 .5 2 .2 2-.2 3-.8 3-1 2-1.6 2-1.1 1-2 1.1-2 .6-2 0-2-.6-2-1.1-1-.9-1-1.1-1.2-2-.8-2-.5-2-.2-3 .2-2 .5-2 .9-2 1.1-1.8 1.1-1.2 1.9-1.4zM606.5 795.7l1.9-.5 2 0 1.9 .5 1.1 .6 1.7 1.4 1.3 1.6 1.2 2.4 .5 2 .2 2-.2 3-.5 2-.9 2-1.3 1.9-1.1 1.1-1.9 1.1-2 .6-2 0-1-.2-2-.9-1-.7-1-1-1.3-1.9-.9-2-.5-2-.2-2 0-2 .4-2 .7-2 .8-1.4 1.3-1.6 1.7-1.4zM606.5 796.7l1.9-.6 2 0 1.9 .6 1.1 .6 1 .8 1.3 1.6 1.1 2 .6 2 .2 2-.1 2-.3 2-.8 2-1 1.6-1.3 1.4-1.7 1.2-2 .6-2 0-1-.2-1.3-.6-1.4-1-1.3-1.4-1-1.6-1-3-.2-2 .1-2 .7-3 1.1-2 .8-1 1.5-1.4zM606.4 797.7l1-.4 2-.4 2 .4 1 .4 1 .7 1.3 1.3 1.2 2 .7 2 .3 2-.1 2-.4 2-.9 2-1.1 1.6-1 .9-1 .7-2 .7-2 0-1-.3-2-1.1-1-.9-1.1-1.6-1.1-3-.3-3 .6-3 .9-2 .7-1 1.3-1.3zM606.4 798.7l1-.5 2-.4 2 .4 1 .5 1 .8 1.1 1.2 .9 1.7 .4 1.3 .3 2 0 2-.9 3-.8 1.3-1 1.1-1 .8-2 .8-2 0-1-.3-2-1.3-1-1.1-.8-1.3-.7-2-.2-3 .6-3 1.1-2.1 1-1.1zM606.6 799.7l1.8-.8 1-.1 2 .4 1 .6 1 .9 1 1.5 .6 1.5 .4 3-.7 3-1.1 2-1.1 1-1.1 .7-1 .3-2 0-2-.9-1-.9-.9-1.2-.8-2-.3-3 .4-2 .9-2 .7-1zM606.8 800.7l1.6-.8 1-.1 1 .1 1 .4 1.7 1.4 1.1 2 .2 1 .2 2-.2 1.3-.6 1.7-1.4 1.9-1 .7-1 .4-2 0-1.9-1-1.1-1.3-.8-1.7-.4-2 .2-2.2 1-2.3zM607.2 801.7l1.2-.6 1-.2 1 .2 1 .4 1 .9 1 1.9 .3 2.4-.4 2-.6 1-.8 1-1.5 .8-1 .2-1-.2-1-.4-1.3-1.4-.7-1.4-.3-1.6 .2-2 .9-2zM607.9 802.7l.5-.3 1-.2 1 .2 1 .7 1 1.6 .2 2-.2 1.2-1 1.6-1 .7-1 .2-1-.2-.8-.5-.8-1-.5-1-.1-2 .2-1 .5-1zM608.2 804.7l.2-.3 1-.3 1 .3 .2 .3 .5 1 0 1-.7 1.4-1 .5-1-.5-.4-.4-.3-1 0-1z" fill="none" stroke="#4a4a4a" stroke-width="0.62"/>
<ellipse cx="192.6" cy="451.2" rx="5.3" ry="22.5" fill="#fff"/>
<ellipse cx="192.6" cy="451.2" rx="5.3" ry="22.5" fill="#fff" stroke="#555" stroke-width="0.6" transform="rotate(0 192.6 451.2)"/>
<ellipse cx="660.8" cy="601.9" rx="2.4" ry="2.4" fill="#fff" stroke="#555" stroke-width="0.6" transform="rotate(0 660.8 601.9)"/>
<ellipse cx="193.8" cy="794.2" rx="3.2" ry="7.5" fill="#fff"/>
<ellipse cx="116.9" cy="808.7" rx="1.4" ry="2.6" fill="#fff"/>
<ellipse cx="496.5" cy="748.7" rx="2.3" ry="5.5" fill="#fff"/>
<rect x="159.15" y="344.05" width="69.3" height="140.7" fill="none" stroke="#000" stroke-width="2.9"/>
<text x="192.8" y="357.7" font-size="11.65" font-weight="bold" text-anchor="middle" textLength="21.18" lengthAdjust="spacingAndGlyphs">8.11</text>
<rect x="323.05" y="345.05" width="69.5" height="140.7" fill="none" stroke="#000" stroke-width="2.9"/>
<text x="357.4" y="357.7" font-size="11.65" font-weight="bold" text-anchor="middle" textLength="21.8" lengthAdjust="spacingAndGlyphs">14.6</text>
<rect x="482.95" y="344.75" width="75.1" height="141.5" fill="none" stroke="#000" stroke-width="2.9"/>
<text x="519.4" y="357.7" font-size="11.65" font-weight="bold" text-anchor="middle" textLength="21.8" lengthAdjust="spacingAndGlyphs">19.7</text>
<rect x="635.75" y="346.45" width="85.3" height="137.5" fill="none" stroke="#000" stroke-width="2.9"/>
<text x="678.2" y="358.2" font-size="11.65" font-weight="bold" text-anchor="middle" textLength="21.8" lengthAdjust="spacingAndGlyphs">4.29</text>
<rect x="159.15" y="510.95" width="69.3" height="140.7" fill="none" stroke="#000" stroke-width="2.9"/>
<text x="192.8" y="524.6" font-size="11.65" font-weight="bold" text-anchor="middle" textLength="21.8" lengthAdjust="spacingAndGlyphs">5.35</text>
<rect x="323.05" y="511.95" width="69.5" height="140.7" fill="none" stroke="#000" stroke-width="2.9"/>
<text x="357.4" y="524.6" font-size="11.65" font-weight="bold" text-anchor="middle" textLength="21.8" lengthAdjust="spacingAndGlyphs">14.7</text>
<rect x="482.95" y="511.65" width="75.1" height="141.5" fill="none" stroke="#000" stroke-width="2.9"/>
<text x="519.4" y="524.6" font-size="11.65" font-weight="bold" text-anchor="middle" textLength="21.8" lengthAdjust="spacingAndGlyphs">19.4</text>
<rect x="635.75" y="513.35" width="85.3" height="137.5" fill="none" stroke="#000" stroke-width="2.9"/>
<text x="678.2" y="525.1" font-size="11.65" font-weight="bold" text-anchor="middle" textLength="21.8" lengthAdjust="spacingAndGlyphs">7.60</text>
<rect x="159.15" y="678.25" width="69.3" height="140.7" fill="none" stroke="#000" stroke-width="2.9"/>
<text x="192.8" y="691.9" font-size="11.65" font-weight="bold" text-anchor="middle" textLength="21.8" lengthAdjust="spacingAndGlyphs">84.7</text>
<rect x="323.05" y="679.25" width="69.5" height="140.7" fill="none" stroke="#000" stroke-width="2.9"/>
<text x="357.4" y="691.9" font-size="11.65" font-weight="bold" text-anchor="middle" textLength="21.8" lengthAdjust="spacingAndGlyphs">48.8</text>
<rect x="482.95" y="678.95" width="75.1" height="141.5" fill="none" stroke="#000" stroke-width="2.9"/>
<text x="519.4" y="691.9" font-size="11.65" font-weight="bold" text-anchor="middle" textLength="21.8" lengthAdjust="spacingAndGlyphs">82.6</text>
<rect x="635.75" y="680.65" width="85.3" height="137.5" fill="none" stroke="#000" stroke-width="2.9"/>
<text x="678.2" y="692.4" font-size="11.65" font-weight="bold" text-anchor="middle" textLength="21.8" lengthAdjust="spacingAndGlyphs">28.7</text>
<path d="M70.6 417.5 V838.2 H672" fill="none" stroke="#000" stroke-width="2.3"/>
<polygon points="70.6,410.5 67.2,418.5 74,418.5" fill="#000"/>
<polygon points="678.5,838.2 671,834.8 671,841.6" fill="#000"/>
<text x="61.8" y="832.4" font-size="23.82" font-weight="bold" transform="rotate(-90 61.8 832.4)" textLength="43" lengthAdjust="spacingAndGlyphs">SSC</text>
<text x="78.3" y="864.2" font-size="22.88" font-weight="bold" textLength="107.57" lengthAdjust="spacingAndGlyphs">Annexin V</text>
<text x="1.4" y="907.1" font-size="56.16" font-weight="bold" textLength="39" lengthAdjust="spacingAndGlyphs">D</text>
<rect x="79.8" y="894.5" width="159.8" height="21.2" fill="#000"/>
<text x="160.4" y="913.05" font-size="22.1" font-weight="bold" text-anchor="middle" fill="#fff" textLength="26.81" lengthAdjust="spacingAndGlyphs">LK</text>
<rect x="243.8" y="894.5" width="159.8" height="21.2" fill="#000"/>
<text x="324.4" y="913.05" font-size="22.1" font-weight="bold" text-anchor="middle" fill="#fff" textLength="40.22" lengthAdjust="spacingAndGlyphs">LSK</text>
<rect x="408" y="894.5" width="159.8" height="21.2" fill="#000"/>
<text x="488.6" y="913.05" font-size="22.1" font-weight="bold" text-anchor="middle" fill="#fff" textLength="42.46" lengthAdjust="spacingAndGlyphs">HPC</text>
<rect x="571.9" y="894.5" width="159.8" height="21.2" fill="#000"/>
<text x="652.5" y="913.05" font-size="22.1" font-weight="bold" text-anchor="middle" fill="#fff" textLength="42.46" lengthAdjust="spacingAndGlyphs">HSC</text>
<rect x="738.2" y="924" width="20.8" height="158" fill="#000"/>
<text x="741.1" y="1003.5" font-size="21.74" font-weight="bold" text-anchor="middle" fill="#fff" transform="rotate(90 741.1 1003.5)" textLength="39.65" lengthAdjust="spacingAndGlyphs">Con</text>
<rect x="738.2" y="1090.1" width="20.8" height="158" fill="#000"/>
<text x="741.1" y="1169.6" font-size="21.74" font-weight="bold" text-anchor="middle" fill="#fff" transform="rotate(90 741.1 1169.6)" textLength="45.32" lengthAdjust="spacingAndGlyphs">Chol</text>
<rect x="738.2" y="1256.3" width="20.8" height="158" fill="#000"/>
<text x="741.1" y="1335.8" font-size="21.74" font-weight="bold" text-anchor="middle" fill="#fff" transform="rotate(90 741.1 1335.8)" textLength="52.15" lengthAdjust="spacingAndGlyphs">27HC</text>
<rect x="80.3" y="925.2" width="159" height="159" fill="#fff" stroke="#848484" stroke-width="1.3"/>
<rect x="244.3" y="925.2" width="159" height="159" fill="#fff" stroke="#848484" stroke-width="1.3"/>
<rect x="408.5" y="925.2" width="159" height="159" fill="#fff" stroke="#848484" stroke-width="1.3"/>
<rect x="572.4" y="925.2" width="159" height="159" fill="#fff" stroke="#848484" stroke-width="1.3"/>
<rect x="80.3" y="1091.3" width="159" height="159" fill="#fff" stroke="#848484" stroke-width="1.3"/>
<rect x="244.3" y="1091.3" width="159" height="159" fill="#fff" stroke="#848484" stroke-width="1.3"/>
<rect x="408.5" y="1091.3" width="159" height="159" fill="#fff" stroke="#848484" stroke-width="1.3"/>
<rect x="572.4" y="1091.3" width="159" height="159" fill="#fff" stroke="#848484" stroke-width="1.3"/>
<rect x="80.3" y="1257.5" width="159" height="159" fill="#fff" stroke="#848484" stroke-width="1.3"/>
<rect x="244.3" y="1257.5" width="159" height="159" fill="#fff" stroke="#848484" stroke-width="1.3"/>
<rect x="408.5" y="1257.5" width="159" height="159" fill="#fff" stroke="#848484" stroke-width="1.3"/>
<rect x="572.4" y="1257.5" width="159" height="159" fill="#fff" stroke="#848484" stroke-width="1.3"/>
<ellipse cx="134.3" cy="1054.2" rx="14.25" ry="6.27" fill="url(#cg)" opacity="1" transform="rotate(-24 134.3 1054.2)"/><ellipse cx="286.3" cy="1054.7" rx="15.2" ry="7.22" fill="url(#cg)" opacity="1" transform="rotate(-15 286.3 1054.7)"/><ellipse cx="453" cy="1054.7" rx="14.25" ry="7.6" fill="url(#cg)" opacity="1" transform="rotate(-15 453 1054.7)"/><ellipse cx="613.4" cy="1055.2" rx="14.25" ry="9.5" fill="url(#cg)" opacity="1" transform="rotate(-10 613.4 1055.2)"/><ellipse cx="135.8" cy="1220.8" rx="14.25" ry="6.27" fill="url(#cg)" opacity="1" transform="rotate(-24 135.8 1220.8)"/><ellipse cx="285.3" cy="1223.3" rx="15.2" ry="7.22" fill="url(#cg)" opacity="1" transform="rotate(-15 285.3 1223.3)"/><ellipse cx="451.5" cy="1222.3" rx="14.25" ry="7.6" fill="url(#cg)" opacity="1" transform="rotate(-15 451.5 1222.3)"/><ellipse cx="612.9" cy="1222.8" rx="14.25" ry="9.5" fill="url(#cg)" opacity="1" transform="rotate(-10 612.9 1222.8)"/><ellipse cx="127.3" cy="1387.5" rx="20.9" ry="9.88" fill="url(#cg)" opacity="1" transform="rotate(-8 127.3 1387.5)"/><ellipse cx="281.7" cy="1392.1" rx="24.7" ry="10.07" fill="url(#cg)" opacity="1" transform="rotate(-5 281.7 1392.1)"/><ellipse cx="347" cy="1328.2" rx="9.12" ry="27.55" fill="url(#cg)" opacity="0.45" transform="rotate(8 347 1328.2)"/><ellipse cx="448.5" cy="1392.1" rx="25.65" ry="9.5" fill="url(#cg)" opacity="1" transform="rotate(-8 448.5 1392.1)"/><ellipse cx="510.3" cy="1325.5" rx="10.45" ry="32.3" fill="url(#cg)" opacity="0.9" transform="rotate(8 510.3 1325.5)"/><ellipse cx="611.9" cy="1389" rx="15.2" ry="10.45" fill="url(#cg)" opacity="1" transform="rotate(-10 611.9 1389)"/>
<path transform="translate(0 .5)" d="m200 957h1m-22 8h1m7 11h1m11 0h1m-27 15h1m17 0h1m-9 4h1m6 3h1m3 4h1m-37 2h1m-10 1h1m43 0h1m-16 1h1m0 0h1m1 0h1m-12 1h1m-20 1h1m19 0h1m-31 1h1m10 0h1m28 0h1m4 0h1m10 0h1m-57 1h1m27 0h1m18 0h1m-42 1h1m1 0h1m0 0h1m2 0h1m17 0h1m-43 1h1m17 0h1m3 0h1m4 0h1m19 0h1m-47 1h1m20 0h1m0 0h1m4 0h1m0 0h1m27 0h1m30 0h1m-74 1h1m2 0h1m5 0h1m11 0h1m14 0h1m8 0h1m-57 1h1m8 0h1m5 0h1m0 0h1m0 0h1m20 0h1m0 0h1m3 0h1m16 0h1m-51 1h1m2 0h1m2 0h1m8 0h1m3 0h1m10 0h1m-31 1h1m0 0h1m2 0h1m3 0h1m2 0h1m3 0h1m1 0h1m4 0h1m12 0h1m10 0h1m4 0h1m-45 1h1m0 0h1m2 0h1m5 0h1m1 0h1m8 0h1m4 0h1m2 0h1m-42 1h1m8 0h1m1 0h1m0 0h1m3 0h1m1 0h1m2 0h1m3 0h1m5 0h1m1 0h1m-29 1h1m2 0h1m4 0h1m1 0h1m3 0h1m3 0h1m2 0h1m12 0h1m-42 1h1m10 0h1m9 0h1m1 0h1m0 0h1m3 0h1m0 0h1m7 0h1m5 0h1m6 0h1m2 0h1m-42 1h1m0 0h1m2 0h1m0 0h1m1 0h1m1 0h1m2 0h1m5 0h1m1 0h1m0 0h1m28 0h1m-65 1h1m1 0h1m10 0h1m2 0h1m0 0h1m0 0h1m3 0h1m0 0h1m7 0h1m1 0h1m0 0h1m1 0h1m-44 1h1m14 0h1m1 0h1m0 0h1m1 0h1m0 0h1m0 0h1m0 0h1m0 0h1m0 0h1m1 0h1m0 0h1m0 0h1m0 0h1m7 0h1m2 0h1m10 0h1m11 0h1m-63 1h1m9 0h1m1 0h1m4 0h1m7 0h1m0 0h1m0 0h1m1 0h1m18 0h1m7 0h1m-52 1h1m2 0h1m4 0h1m0 0h1m1 0h1m2 0h1m2 0h1m2 0h1m3 0h1m1 0h1m2 0h1m0 0h1m0 0h1m8 0h1m1 0h1m-37 1h1m2 0h1m3 0h1m0 0h1m1 0h1m1 0h1m0 0h1m0 0h1m2 0h1m0 0h1m8 0h1m1 0h1m0 0h1m0 0h1m-42 1h1m22 0h1m0 0h1m0 0h1m3 0h1m1 0h1m2 0h1m0 0h1m1 0h1m5 0h1m20 0h1m-53 1h1m0 0h1m0 0h1m0 0h1m7 0h1m1 0h1m0 0h1m0 0h1m2 0h1m3 0h1m1 0h1m8 0h1m5 0h1m3 0h1m4 0h1m-70 1h1m6 0h1m0 0h1m13 0h1m0 0h1m1 0h1m0 0h1m1 0h1m0 0h1m0 0h1m1 0h1m1 0h1m1 0h1m0 0h1m7 0h1m1 0h1m2 0h1m6 0h1m-34 1h1m8 0h1m1 0h1m0 0h1m4 0h1m1 0h1m1 0h1m1 0h1m32 0h1m-77 1h1m10 0h1m5 0h1m0 0h1m0 0h1m0 0h1m0 0h1m0 0h1m0 0h1m2 0h1m0 0h1m2 0h1m1 0h1m2 0h1m2 0h1m0 0h1m2 0h1m0 0h1m11 0h1m11 0h1m-52 1h1m2 0h1m3 0h1m2 0h1m0 0h1m0 0h1m1 0h1m1 0h1m1 0h1m0 0h1m0 0h1m1 0h1m1 0h1m1 0h1m4 0h1m-53 1h1m14 0h1m0 0h1m1 0h1m0 0h1m1 0h1m0 0h1m0 0h1m7 0h1m5 0h1m0 0h1m1 0h1m2 0h1m0 0h1m0 0h1m1 0h1m-27 1h1m0 0h1m5 0h1m0 0h1m0 0h1m2 0h1m3 0h1m0 0h1m1 0h1m1 0h1m5 0h1m0 0h1m1 0h1m1 0h1m0 0h1m3 0h1m9 0h1m-50 1h1m6 0h1m2 0h1m1 0h1m1 0h1m3 0h1m0 0h1m0 0h1m1 0h1m2 0h1m0 0h1m1 0h1m3 0h1m0 0h1m3 0h1m0 0h1m0 0h1m9 0h1m-54 1h1m5 0h1m2 0h1m2 0h1m3 0h1m1 0h1m0 0h1m0 0h1m0 0h1m2 0h1m3 0h1m0 0h1m1 0h1m0 0h1m-37 1h1m4 0h1m19 0h1m0 0h1m0 0h1m1 0h1m1 0h1m0 0h1m0 0h1m0 0h1m0 0h1m1 0h1m3 0h1m1 0h1m1 0h1m-20 1h1m0 0h1m3 0h1m1 0h1m1 0h1m5 0h1m-15 1h1m0 0h1m0 0h1m0 0h1m4 0h1m1 0h1m0 0h1m0 0h1m2 0h1m12 0h1m2 0h1m-32 1h1m0 0h1m5 0h1m2 0h1m5 0h1m23 0h1m-76 1h1m34 0h1m0 0h1m0 0h1m2 0h1m0 0h1m0 0h1m0 0h1m4 0h1m0 0h1m12 0h1m-28 1h1m1 0h1m0 0h1m0 0h1m0 0h1m0 0h1m1 0h1m2 0h1m5 0h1m1 0h1m0 0h1m-20 1h1m0 0h1m0 0h1m1 0h1m0 0h1m3 0h1m0 0h1m0 0h1m1 0h1m7 0h1m-18 1h1m1 0h1m12 0h1m16 0h1m-36 1h1m2 0h1m0 0h1m0 0h1m2 0h1m1 0h1m1 0h1m2 0h1m1 0h1m-19 1h1m0 0h1m5 0h1m0 0h1m5 0h1m1 0h1m-14 1h1m1 0h1m7 0h1m2 0h1m-18 1h1m0 0h1m0 0h1m2 0h1m5 0h1m-10 1h1m0 0h1m1 0h1m0 0h1m2 0h1m2 0h1m6 0h1m4 0h1m12 0h1m-38 1h1m1 0h1m0 0h1m0 0h1m0 0h1m4 0h1m13 0h1m0 0h1m10 0h1m2 0h1m-34 1h1m0 0h1m3 0h1m5 0h1m1 0h1m13 0h1m-30 1h1m12 0h1m2 0h1m-21 1h1m0 0h1m4 0h1m0 0h1m14 0h1m6 0h1m-28 1h1m3 0h1m2 0h1m3 0h1m10 0h1m-28 1h1m0 0h1m0 0h1m3 0h1m24 0h1m-31 1h1m1 0h1m1 0h1m1 0h1m0 0h1m0 0h1m0 0h1m0 0h1m0 0h1m-13 1h1m3 0h1m2 0h1m0 0h1m3 0h1m6 0h1m-71 1h1m0 0h1m0 0h1m1 0h1m51 0h1m1 0h1m1 0h1m0 0h1m1 0h1m-69 1h1m3 0h1m0 0h1m0 0h1m0 0h1m0 0h1m0 0h1m0 0h1m46 0h1m2 0h1m4 0h1m1 0h1m1 0h1m5 0h1m-72 1h1m0 0h1m0 0h1m0 0h1m0 0h1m1 0h1m1 0h1m46 0h1m1 0h1m8 0h1m0 0h1m5 0h1m20 0h1m-97 1h1m2 0h1m0 0h1m0 0h1m0 0h1m0 0h1m0 0h1m0 0h1m0 0h1m36 0h1m7 0h1m2 0h1m1 0h1m0 0h1m4 0h1m0 0h1m0 0h1m-68 1h1m0 0h1m3 0h1m0 0h1m39 0h1m2 0h1m4 0h1m5 0h1m2 0h1m-66 1h1m1 0h1m1 0h1m1 0h1m1 0h1m0 0h1m45 0h1m2 0h1m11 0h1m-19 1h1m1 0h1m3 0h1m10 0h1m1 0h1m-9 1h1m5 0h1m-9 1h1m-10 1h1m-22 1h1m16 0h1m2 0h1m31 0h1m3 0h1m-25 2h1m1 1h1m8 2h1m7 1h1m-26 1h1m2 2h1m-6 1h1m-12 39h1m-1 6h1m-4 3h1m53 23h1m-2 6h1m2 10h1m-10 3h1m2 3h1m-35 2h1m6 0h1m-4 1h1m31 1h1m-38 1h1m33 0h1m-58 2h1m12 0h1m35 1h1m10 0h1m-55 1h1m3 0h1m12 0h1m24 0h1m7 0h1m-41 1h1m39 0h1m-34 1h1m20 0h1m0 0h1m0 0h1m27 0h1m-65 1h1m4 0h1m1 0h1m4 0h1m39 0h1m9 0h1m-60 1h1m9 0h1m8 0h1m20 0h1m23 0h1m-47 1h1m0 0h1m1 0h1m3 0h1m0 0h1m34 0h1m0 0h1m-70 1h1m6 0h1m1 0h1m1 0h1m7 0h1m5 0h1m19 0h1m-52 1h1m10 0h1m10 0h1m1 0h1m2 0h1m1 0h1m5 0h1m25 0h1m-55 1h1m3 0h1m3 0h1m0 0h1m2 0h1m0 0h1m7 0h1m-19 1h1m1 0h1m13 0h1m0 0h1m0 0h1m0 0h1m4 0h1m3 0h1m0 0h1m15 0h1m-50 1h1m2 0h1m9 0h1m4 0h1m0 0h1m1 0h1m2 0h1m0 0h1m12 0h1m5 0h1m16 0h1m-61 1h1m5 0h1m4 0h1m1 0h1m0 0h1m3 0h1m3 0h1m6 0h1m9 0h1m15 0h1m0 0h1m-68 1h1m2 0h1m6 0h1m1 0h1m0 0h1m2 0h1m5 0h1m2 0h1m0 0h1m0 0h1m0 0h1m3 0h1m24 0h1m-58 1h1m9 0h1m3 0h1m1 0h1m0 0h1m0 0h1m4 0h1m3 0h1m1 0h1m0 0h1m3 0h1m1 0h1m2 0h1m9 0h1m7 0h1m10 0h1m3 0h1m-80 1h1m8 0h1m9 0h1m3 0h1m2 0h1m3 0h1m0 0h1m0 0h1m1 0h1m1 0h1m0 0h1m0 0h1m0 0h1m0 0h1m0 0h1m1 0h1m22 0h1m-54 1h1m4 0h1m2 0h1m0 0h1m0 0h1m5 0h1m0 0h1m4 0h1m2 0h1m1 0h1m4 0h1m5 0h1m2 0h1m2 0h1m-57 1h1m15 0h1m9 0h1m1 0h1m0 0h1m1 0h1m0 0h1m0 0h1m3 0h1m0 0h1m9 0h1m12 0h1m4 0h1m3 0h1m-58 1h1m1 0h1m1 0h1m0 0h1m2 0h1m5 0h1m0 0h1m0 0h1m1 0h1m0 0h1m0 0h1m0 0h1m0 0h1m1 0h1m3 0h1m8 0h1m6 0h1m11 0h1m9 0h1m-76 1h1m7 0h1m7 0h1m3 0h1m1 0h1m2 0h1m1 0h1m0 0h1m3 0h1m0 0h1m6 0h1m1 0h1m2 0h1m17 0h1m-49 1h1m1 0h1m0 0h1m2 0h1m1 0h1m2 0h1m2 0h1m8 0h1m2 0h1m5 0h1m0 0h1m3 0h1m1 0h1m-50 1h1m13 0h1m0 0h1m0 0h1m0 0h1m1 0h1m1 0h1m0 0h1m1 0h1m0 0h1m0 0h1m2 0h1m2 0h1m1 0h1m5 0h1m3 0h1m9 0h1m-44 1h1m1 0h1m2 0h1m6 0h1m0 0h1m1 0h1m0 0h1m0 0h1m1 0h1m0 0h1m0 0h1m7 0h1m0 0h1m0 0h1m4 0h1m26 0h1m-68 1h1m8 0h1m1 0h1m0 0h1m0 0h1m1 0h1m0 0h1m0 0h1m1 0h1m0 0h1m4 0h1m3 0h1m0 0h1m0 0h1m1 0h1m0 0h1m18 0h1m-38 1h1m0 0h1m3 0h1m0 0h1m0 0h1m1 0h1m0 0h1m5 0h1m1 0h1m4 0h1m2 0h1m9 0h1m1 0h1m0 0h1m-61 1h1m2 0h1m2 0h1m1 0h1m15 0h1m5 0h1m0 0h1m0 0h1m0 0h1m1 0h1m9 0h1m14 0h1m13 0h1m-52 1h1m0 0h1m0 0h1m0 0h1m5 0h1m1 0h1m1 0h1m1 0h1m10 0h1m0 0h1m0 0h1m1 0h1m2 0h1m-65 1h1m31 0h1m2 0h1m1 0h1m0 0h1m1 0h1m35 0h1m-42 1h1m0 0h1m1 0h1m2 0h1m2 0h1m1 0h1m12 0h1m5 0h1m-32 1h1m2 0h1m1 0h1m0 0h1m0 0h1m0 0h1m5 0h1m-14 1h1m1 0h1m0 0h1m0 0h1m1 0h1m0 0h1m1 0h1m0 0h1m7 0h1m15 0h1m13 0h1m-50 1h1m1 0h1m2 0h1m0 0h1m0 0h1m0 0h1m3 0h1m2 0h1m17 0h1m1 0h1m-35 1h1m0 0h1m1 0h1m6 0h1m19 0h1m-31 1h1m1 0h1m2 0h1m0 0h1m0 0h1m1 0h1m11 0h1m-22 1h1m5 0h1m3 0h1m25 0h1m3 0h1m3 0h1m-46 1h1m4 0h1m0 0h1m0 0h1m0 0h1m5 0h1m17 0h1m-33 1h1m0 0h1m0 0h1m2 0h1m5 0h1m1 0h1m2 0h1m5 0h1m8 0h1m6 0h1m-40 1h1m2 0h1m6 0h1m0 0h1m9 0h1m4 0h1m8 0h1m-35 1h1m2 0h1m4 0h1m2 0h1m21 0h1m-33 1h1m1 0h1m3 0h1m7 0h1m11 0h1m-30 1h1m1 0h1m1 0h1m0 0h1m2 0h1m2 0h1m1 0h1m3 0h1m15 0h1m-34 1h1m0 0h1m0 0h1m8 0h1m0 0h1m22 0h1m-38 1h1m5 0h1m10 0h1m12 0h1m11 0h1m-94 1h1m57 0h1m3 0h1m1 0h1m3 0h1m28 0h1m-99 1h1m51 0h1m0 0h1m3 0h1m2 0h1m0 0h1m8 0h1m-77 1h1m3 0h1m0 0h1m0 0h1m0 0h1m0 0h1m1 0h1m47 0h1m2 0h1m0 0h1m0 0h1m0 0h1m2 0h1m2 0h1m0 0h1m-67 1h1m1 0h1m1 0h1m0 0h1m0 0h1m0 0h1m1 0h1m49 0h1m20 0h1m5 0h1m0 0h1m-90 1h1m1 0h1m0 0h1m0 0h1m2 0h1m1 0h1m0 0h1m0 0h1m42 0h1m5 0h1m0 0h1m1 0h1m1 0h1m0 0h1m1 0h1m12 0h1m-82 1h1m1 0h1m1 0h1m0 0h1m0 0h1m0 0h1m0 0h1m41 0h1m3 0h1m0 0h1m11 0h1m30 0h1m-100 1h1m3 0h1m0 0h1m0 0h1m0 0h1m0 0h1m0 0h1m0 0h1m0 0h1m43 0h1m0 0h1m4 0h1m5 0h1m1 0h1m9 0h1m13 0h1m-84 1h1m0 0h1m47 0h1m3 0h1m0 0h1m10 0h1m0 0h1m11 0h1m-80 1h1m43 0h1m8 0h1m1 0h1m8 0h1m14 0h1m13 0h1m-42 1h1m4 0h1m27 0h1m-58 1h1m11 0h1m51 0h1m-36 1h1m-6 1h1m-6 1h1m41 0h1m-38 9h1m-6 2h1m39 79h1m-1 1h1m-54 1h1m43 3h1m-4 1h1m-36 2h1m34 1h1m7 3h1m-77 1h1m10 1h1m32 0h1m0 0h1m0 0h1m16 1h1m19 0h1m-32 1h1m-3 1h1m2 0h1m14 0h1m-45 1h1m29 0h1m24 0h1m-75 1h1m17 0h1m51 0h1m-64 1h1m8 0h1m8 0h1m2 0h1m18 0h1m33 0h1m-50 1h1m14 0h1m27 0h1m-42 1h1m-21 1h1m0 0h1m16 0h1m-23 1h1m18 0h1m0 0h1m0 0h1m5 0h1m11 0h1m3 0h1m5 0h1m4 0h1m7 0h1m-79 1h1m10 0h1m21 0h1m3 0h1m1 0h1m35 0h1m-65 1h1m26 0h1m17 0h1m-37 1h1m0 0h1m6 0h1m11 0h1m7 0h1m-21 1h1m1 0h1m19 0h1m5 0h1m13 0h1m3 0h1m0 0h1m1 0h1m-76 1h1m35 0h1m2 0h1m6 0h1m6 0h1m8 0h1m1 0h1m21 0h1m2 0h1m14 0h1m-82 1h1m2 0h1m1 0h1m6 0h1m4 0h1m1 0h1m17 0h1m1 0h1m8 0h1m1 0h1m10 0h1m-69 1h1m11 0h1m25 0h1m15 0h1m4 0h1m0 0h1m2 0h1m-32 1h1m3 0h1m20 0h1m15 0h1m-49 1h1m0 0h1m4 0h1m10 0h1m1 0h1m-44 1h1m17 0h1m23 0h1m7 0h1m30 0h1m-69 1h1m6 0h1m3 0h1m8 0h1m4 0h1m0 0h1m4 0h1m3 0h1m1 0h1m18 0h1m-96 1h1m33 0h1m2 0h1m28 0h1m11 0h1m-42 1h1m12 0h1m6 0h1m4 0h1m11 0h1m25 0h1m-63 1h1m0 0h1m4 0h1m5 0h1m1 0h1m7 0h1m16 0h1m6 0h1m2 0h1m1 0h1m-38 1h1m10 0h1m0 0h1m11 0h1m0 0h1m0 0h1m4 0h1m6 0h1m-39 1h1m11 0h1m4 0h1m28 0h1m-55 1h1m3 0h1m15 0h1m3 0h1m5 0h1m1 0h1m11 0h1m0 0h1m-80 1h1m42 0h1m13 0h1m9 0h1m3 0h1m-38 1h1m10 0h1m2 0h1m26 0h1m-37 1h1m7 0h1m3 0h1m8 0h1m16 0h1m-24 1h1m1 0h1m0 0h1m16 0h1m-25 1h1m8 0h1m2 0h1m1 0h1m0 0h1m12 0h1m-20 1h1m2 0h1m-4 1h1m1 0h1m10 0h1m0 0h1m2 0h1m-15 1h1m5 0h1m15 0h1m2 0h1m-16 1h1m0 1h1m22 2h1m-15 2h1m6 0h1m20 7h1m-44 4h1" fill="none" stroke="#222" stroke-opacity=".85" stroke-width="1"/>
<path transform="translate(0 .5)" d="m357 928h1m-5 3h1m2 0h1m163 7h1m-173 1h1m4 0h1m158 1h1m-161 2h1m2 0h1m2 2h1m-4 1h1m160 0h1m2 0h1m-4 2h1m-172 1h1m5 0h1m164 0h1m1 2h1m-168 1h1m3 1h1m-10 1h1m166 0h1m-169 1h1m7 0h1m-8 1h1m168 0h1m-165 1h1m1 0h1m-7 1h1m-2 1h1m7 0h1m160 0h1m3 0h1m-173 1h1m0 0h1m1 0h1m161 0h1m4 0h1m-167 1h1m159 0h1m3 0h1m1 0h1m2 0h1m-175 1h1m8 0h1m151 0h1m1 0h1m3 0h1m0 0h1m-170 1h1m166 0h1m-161 1h1m159 0h1m4 0h1m-166 1h1m161 0h1m-169 1h1m2 0h1m0 0h1m1 0h1m-8 1h1m7 0h1m155 0h1m3 0h1m2 0h1m0 0h1m1 0h1m-174 1h1m4 0h1m161 0h1m1 0h1m2 0h1m-174 1h1m1 0h1m0 0h1m0 0h1m163 0h1m12 0h1m-181 1h1m3 0h1m163 0h1m0 0h1m0 0h1m-171 1h1m0 0h1m2 0h1m1 0h1m158 0h1m6 0h1m-171 1h1m1 0h1m156 0h1m-155 1h1m164 0h1m-175 1h1m1 0h1m4 0h1m156 0h1m5 0h1m-169 1h1m3 0h1m2 0h1m157 0h1m4 0h1m-175 1h1m1 0h1m1 0h1m0 0h1m0 0h1m4 0h1m159 0h1m-173 1h1m9 0h1m159 0h1m5 0h1m-169 1h1m157 0h1m0 0h1m1 0h1m-163 1h1m156 0h1m8 0h1m2 0h1m-173 1h1m1 0h1m3 0h1m0 0h1m158 0h1m1 0h1m1 0h1m-168 1h1m0 0h1m159 1h1m0 0h1m2 0h1m158 0h1m8 0h1m-340 1h1m1 0h1m0 0h1m1 0h1m155 0h1m12 0h1m-178 1h1m3 0h1m2 0h1m1 0h1m158 0h1m2 0h1m3 0h1m159 0h1m-333 1h1m0 0h1m0 0h1m2 0h1m156 0h1m0 0h1m2 0h1m0 0h1m0 0h1m1 0h1m-170 1h1m1 0h1m2 0h1m156 0h1m1 0h1m1 0h1m2 0h1m-169 1h1m2 0h1m1 0h1m0 0h1m159 0h1m2 0h1m2 0h1m162 0h1m-336 1h1m0 0h1m1 0h1m0 0h1m159 0h1m0 0h1m161 0h1m-333 1h1m4 0h1m3 0h1m1 0h1m151 0h1m7 0h1m2 0h1m-176 1h1m4 0h1m0 0h1m0 0h1m0 0h1m3 0h1m153 0h1m1 0h1m2 0h1m3 0h1m3 0h1m160 0h1m-339 1h1m1 0h1m1 0h1m0 0h1m0 0h1m1 0h1m1 0h1m158 0h1m163 0h1m5 0h1m-336 1h1m0 0h1m-1 1h1m3 0h1m154 0h1m5 0h1m-171 1h1m0 0h1m2 0h1m2 0h1m0 0h1m159 0h1m1 0h1m1 0h1m-174 1h1m2 0h1m2 0h1m1 0h1m0 0h1m0 0h1m-9 1h1m4 0h1m0 0h1m1 0h1m157 0h1m3 0h1m0 0h1m0 0h1m1 0h1m159 0h1m-337 1h1m0 0h1m3 0h1m1 0h1m1 0h1m161 0h1m3 0h1m3 0h1m-182 1h1m0 0h1m5 0h1m4 0h1m156 0h1m1 0h1m167 0h1m-339 1h1m1 0h1m4 0h1m7 0h1m158 0h1m162 0h1m-337 1h1m3 0h1m1 0h1m156 0h1m11 0h1m1 0h1m157 0h1m-336 1h1m165 0h1m13 0h1m147 0h1m-331 1h1m5 0h1m1 0h1m163 0h1m0 0h1m-170 1h1m165 0h1m7 0h1m159 0h1m-332 1h1m2 0h1m1 0h1m155 0h1m5 0h1m-172 1h1m2 0h1m161 0h1m10 0h1m154 0h1m4 0h1m-337 1h1m7 0h1m158 0h1m-162 1h1m1 0h1m161 0h1m3 0h1m-176 1h1m1 0h1m3 0h1m4 0h1m152 0h1m3 0h1m1 0h1m162 0h1m9 0h1m-347 1h1m2 0h1m0 0h1m1 0h1m3 0h1m0 0h1m-11 1h1m1 0h1m2 0h1m5 0h1m2 0h1m157 0h1m1 0h1m0 0h1m-174 1h1m4 0h1m0 0h1m154 0h1m7 0h1m6 0h1m159 0h1m-337 1h1m0 0h1m2 0h1m1 0h1m5 0h1m148 0h1m8 0h1m5 0h1m5 0h1m-182 1h1m3 0h1m3 0h1m142 0h1m11 0h1m8 0h1m-172 1h1m0 0h1m1 0h1m0 0h1m2 0h1m148 0h1m180 0h1m-341 1h1m0 0h1m0 0h1m1 0h1m157 0h1m7 0h1m0 0h1m-171 1h1m6 0h1m3 0h1m138 0h1m17 0h1m2 0h1m-168 1h1m10 0h1m319 0h1m-338 1h1m2 0h1m4 0h1m158 0h1m4 0h1m1 0h1m139 0h1m-307 1h1m2 0h1m143 0h1m0 0h1m1 0h1m11 0h1m7 0h1m4 0h1m-183 1h1m1 0h1m2 0h1m138 0h1m20 0h1m6 0h1m3 0h1m17 0h1m-206 1h1m8 0h1m2 0h1m0 0h1m2 0h1m-9 1h1m5 0h1m1 0h1m123 0h1m29 0h1m0 0h1m3 0h1m3 0h1m2 0h1m0 0h1m130 0h1m-296 1h1m176 0h1m2 0h1m-197 1h1m12 0h1m161 0h1m-198 1h1m30 0h1m0 0h1m1 0h1m0 0h1m158 0h1m2 0h1m3 0h1m6 0h1m-179 1h1m8 0h1m144 0h1m2 0h1m7 0h1m9 0h1m-188 1h1m13 0h1m1 0h1m142 0h1m15 0h1m2 0h1m0 0h1m3 0h1m1 0h1m122 0h1m-302 1h1m6 0h1m153 0h1m3 0h1m0 0h1m14 0h1m0 0h1m3 0h1m-185 1h1m0 0h1m4 0h1m6 0h1m2 0h1m154 0h1m2 0h1m1 0h1m3 0h1m-191 1h1m1 0h1m2 0h1m3 0h1m0 0h1m143 0h1m4 0h1m5 0h1m14 0h1m7 0h1m-178 1h1m1 0h1m1 0h1m0 0h1m177 0h1m-203 1h1m23 0h1m1 0h1m116 0h1m19 0h1m11 0h1m4 0h1m3 0h1m147 0h1m-329 1h1m15 0h1m0 0h1m1 0h1m0 0h1m140 0h1m11 0h1m7 0h1m0 0h1m-173 1h1m12 0h1m1 0h1m127 0h1m7 0h1m26 0h1m-182 1h1m9 0h1m0 0h1m0 0h1m150 0h1m12 0h1m3 0h1m-169 1h1m130 0h1m-149 1h1m0 0h1m150 0h1m42 0h1m-196 1h1m4 0h1m1 0h1m1 0h1m0 0h1m0 0h1m1 0h1m4 0h1m1 0h1m0 0h1m140 0h1m15 0h1m-188 1h1m16 0h1m3 0h1m6 0h1m3 0h1m137 0h1m17 0h1m-177 1h1m6 0h1m151 0h1m-165 1h1m10 0h1m14 0h1m128 0h1m11 0h1m9 0h1m177 0h1m-350 1h1m3 0h1m1 0h1m4 0h1m10 0h1m129 0h1m2 1h1m12 0h1m4 0h1m15 0h1m-198 1h1m13 0h1m1 0h1m158 0h1m159 0h1m-325 1h1m2 0h1m173 0h1m-191 1h1m5 0h1m5 0h1m2 0h1m2 0h1m145 0h1m2 0h1m-166 1h1m6 0h1m2 0h1m160 0h1m-169 1h1m1 0h1m7 0h1m5 0h1m6 0h1m-24 1h1m6 0h1m2 0h1m20 0h1m-33 1h1m1 0h1m1 0h1m5 1h1m151 0h1m-153 1h1m-16 1h1m7 0h1m6 0h1m13 0h1m-18 1h1m176 1h1m-183 1h1m5 0h1m96 4h1m1 0h1m-99 2h1m98 0h1m-7 2h1m3 1h1m-109 6h1m143 5h1m46 23h1m0 1h1m3 0h1m-160 1h1m159 1h1m-163 1h1m165 2h1m-173 1h1m2 0h1m-7 1h1m-1 2h1m1 0h1m-8 1h1m7 0h1m163 0h1m-172 1h1m7 0h1m-3 2h1m164 0h1m-169 1h1m165 0h1m3 0h1m3 0h1m-173 1h1m168 0h1m-161 1h1m153 0h1m8 0h1m-174 1h1m165 0h1m1 0h1m-169 1h1m8 1h1m157 0h1m0 0h1m-166 1h1m4 0h1m-5 1h1m163 0h1m0 0h1m1 0h1m-173 1h1m3 0h1m162 0h1m2 0h1m-167 1h1m1 0h1m158 0h1m1 0h1m0 0h1m-166 1h1m1 0h1m-2 1h1m162 0h1m-163 1h1m0 0h1m165 0h1m-5 1h1m-163 1h1m0 0h1m160 1h1m2 0h1m-174 1h1m5 0h1m161 0h1m6 0h1m-175 1h1m0 0h1m2 0h1m164 0h1m1 0h1m169 0h1m-340 1h1m0 0h1m0 0h1m158 0h1m1 0h1m179 0h1m-349 1h1m3 0h1m3 0h1m-3 1h1m1 0h1m165 0h1m-170 1h1m0 0h1m2 0h1m0 0h1m156 0h1m-160 1h1m1 0h1m0 0h1m166 0h1m-174 1h1m1 0h1m3 0h1m161 0h1m-166 1h1m1 0h1m162 0h1m-171 1h1m1 0h1m0 0h1m2 0h1m2 0h1m0 0h1m-11 1h1m0 0h1m4 0h1m160 0h1m-167 1h1m3 0h1m1 0h1m163 0h1m-170 1h1m1 0h1m163 0h1m3 0h1m-5 1h1m-171 1h1m6 0h1m-2 1h1m4 0h1m-9 1h1m3 0h1m3 0h1m151 0h1m7 0h1m7 0h1m-175 1h1m0 0h1m160 0h1m0 0h1m3 0h1m-169 1h1m-2 1h1m1 0h1m1 0h1m160 1h1m175 0h1m-343 1h1m167 0h1m-165 1h1m-7 1h1m5 1h1m0 0h1m-8 2h1m4 1h1m-8 1h1m5 0h1m-3 1h1m-2 1h1m-1 1h1m323 0h1m10 2h1m-332 1h1m-10 3h1m-1 1h1m5 0h1m152 2h1m13 0h1m-163 1h1m145 2h1m14 0h1m-7 1h1m-3 1h1m3 0h1m-18 1h1m9 0h1m5 0h1m-16 1h1m24 0h1m14 0h1m-33 1h1m167 0h1m-167 1h1m4 0h1m-173 1h1m15 0h1m133 0h1m22 1h1m-171 2h1m155 0h1m3 1h1m19 0h1m-178 1h1m0 0h1m10 0h1m2 0h1m129 0h1m-150 1h1m4 0h1m3 0h1m0 0h1m2 0h1m151 0h1m4 0h1m175 0h1m-200 1h1m9 0h1m9 0h1m-173 1h1m168 0h1m12 0h1m0 0h1m158 0h1m-182 1h1m2 0h1m2 0h1m2 0h1m3 0h1m-172 1h1m3 0h1m5 0h1m2 0h1m139 0h1m5 0h1m5 0h1m169 0h1m-342 1h1m10 0h1m1 0h1m0 0h1m1 0h1m0 0h1m135 0h1m13 0h1m0 0h1m9 0h1m4 0h1m152 0h1m-339 1h1m2 0h1m12 0h1m1 0h1m4 0h1m1 0h1m132 0h1m-161 1h1m166 0h1m9 0h1m9 0h1m-179 1h1m153 0h1m6 0h1m4 0h1m14 0h1m2 0h1m-181 1h1m7 0h1m5 0h1m122 0h1m16 0h1m9 0h1m2 0h1m1 0h1m-180 1h1m10 0h1m3 0h1m0 0h1m156 0h1m0 0h1m9 0h1m-165 1h1m125 0h1m9 0h1m6 0h1m14 0h1m0 0h1m-174 1h1m4 0h1m4 0h1m0 0h1m5 0h1m121 0h1m9 0h1m4 0h1m0 0h1m2 0h1m4 0h1m13 0h1m0 0h1m6 0h1m-196 1h1m15 0h1m1 0h1m2 0h1m1 0h1m132 0h1m4 0h1m3 0h1m14 0h1m-185 1h1m17 0h1m0 0h1m4 0h1m139 0h1m15 0h1m0 0h1m4 0h1m-184 1h1m11 0h1m5 0h1m0 0h1m151 0h1m7 0h1m131 0h1m-310 1h1m13 0h1m4 0h1m141 0h1m16 0h1m12 0h1m-197 1h1m5 0h1m15 0h1m1 0h1m3 0h1m145 0h1m16 0h1m5 0h1m0 0h1m114 0h1m-320 1h1m3 0h1m5 0h1m7 0h1m0 0h1m4 0h1m4 0h1m131 0h1m0 0h1m40 0h1m-195 1h1m14 0h1m4 0h1m157 0h1m2 0h1m-180 1h1m3 0h1m2 0h1m3 0h1m11 0h1m123 0h1m25 0h1m20 0h1m-197 1h1m4 0h1m7 0h1m3 0h1m1 0h1m1 0h1m5 0h1m129 0h1m13 0h1m139 0h1m-317 1h1m8 0h1m1 0h1m3 0h1m7 0h1m2 0h1m145 0h1m13 0h1m5 0h1m2 0h1m-190 1h1m3 0h1m11 0h1m0 0h1m1 0h1m0 0h1m3 0h1m3 0h1m148 0h1m14 0h1m-192 1h1m3 0h1m7 0h1m0 0h1m-7 1h1m13 0h1m5 0h1m133 0h1m-157 1h1m14 0h1m0 0h1m3 0h1m161 0h1m-189 1h1m3 0h1m4 0h1m0 0h1m3 0h1m7 0h1m149 0h1m8 0h1m2 0h1m-183 1h1m2 0h1m2 0h1m1 0h1m3 0h1m172 0h1m-184 1h1m10 0h1m9 0h1m8 0h1m124 0h1m0 0h1m5 0h1m-162 1h1m2 0h1m2 0h1m171 0h1m-177 1h1m0 0h1m17 0h1m-22 1h1m187 0h1m-158 1h1m-21 1h1m-12 1h1m1 0h1m8 0h1m2 0h1m4 0h1m-30 1h1m17 0h1m12 0h1m4 0h1m-25 1h1m8 1h1m8 0h1m-23 1h1m26 0h1m-32 1h1m4 0h1m7 2h1m3 3h1m-17 1h1m14 8h1m10 5h1m124 79h1m-159 8h1m338 2h1m-189 2h1m26 0h1m-38 4h1m-150 1h1m14 10h1m2 6h1m323 0h1m-11 10h1m-297 16h1" fill="none" stroke="#555" stroke-opacity=".7" stroke-width="1"/>
<path d="M142.1 1038.2l5.2-.4 3 .3 2 .4 2 .8 1.6 .9 1.2 1 .8 1 .5 1 .5 2-.1 2-.6 2-1 2-1.3 2-1.7 2-2 2-1.9 1.6-3 2.2-5 2.9-5 2.1-6 1.8-6 .9-5-.1-4-1-2-1-1.5-1.4-.7-1-.6-2-.1-2 .5-2 .8-2 1.2-2 1.6-2 2.8-2.9 3-2.5 3-2 6-3.2 6-2.1 3-.8zM139.5 1042.2l3.8-.5 4 .2 3 .9 2 1.5 .7 .9 .4 1 .1 1-.2 2-.3 1-1.1 2-2.6 3.1-3 2.6-4 2.6-5 2.4-5 1.7-5 .9-4 0-2-.3-2-.7-1.9-1.3-.8-1-.3-1-.2-1 .3-2 .3-1 1.1-2 1.5-2 2-2 3-2.5 5-3 5-2.1 3-.9zM138.3 1044.2l4-.6 3 .1 3 .9 1 .7 .9 .9 .5 1 .2 1-.3 2-1 2-.7 1-1.8 2-2.8 2.3-3 2-4 2-4 1.4-4 .9-4 .2-3-.4-1-.4-1.6-1-.8-1-.3-1 0-2 .3-1 1.1-2 2.6-3 2.7-2.2 4-2.5 4-1.8 3-1zM138.9 1045.2l3.4-.4 3 .4 2 .8 1.2 1.2 .5 1 .1 1-.5 2-1.3 2-2 2.2-3 2.4-3 1.7-5 2.2-3 .8-3 .4-3 0-2.8-.7-1.5-1-.6-1-.3-1 .3-2 1.1-2 2.7-3 3.1-2.4 4-2.2 5-1.9zM137.9 1046.2l3.4-.4 3 .3 2 .8 1 1.1 .4 1.2-.1 1-.3 1-1.1 2-1.9 2.1-2 1.6-3 1.9-4 1.8-4 1.2-3 .3-3-.1-2-.6-1.4-1.2-.4-1-.1-1 .6-2 1.4-2 2-2 2.9-2.1 3-1.7 4-1.6zM136.3 1047.2l2-.5 3-.2 2 .2 2 .9 .7 .6 .3 .6 .3 1.4-.7 2-1.5 2-2.1 1.9-2 1.4-4 2.1-3 1.1-3 .6-3 .2-2-.3-1-.4-1-.6-.7-1-.2-1 .2-1 .9-2 1.7-2 2.1-1.8 3-1.8 4-1.8zM139.5 1047.2l2.8 .1 2 .7 1.1 1.2 .2 1-.2 1-1 2-1.1 1.3-1.9 1.7-2.1 1.4-2 1.1-3 1.2-3 .8-3 .2-2-.2-1.4-.5-1.1-1-.4-1 0-1 .4-1 1.3-2 2.2-2.1 2-1.4 4-2 3-1zM136.4 1048.2l2.9-.5 2 .1 1.6 .4 1.4 1 .4 1-.1 1-.3 1-.6 1-1.9 2-2.5 1.9-2 1.1-3 1.2-2 .6-2 .3-2 .1-2-.4-1.4-.8-.6-1 0-1 .2-1 .6-1 1.7-2 1.5-1.3 3-1.8 3-1.3zM134.5 1049.2l2.8-.8 2-.2 2 .2 1.8 .8 .7 1 0 1-.2 1-1.4 2-2.9 2.4-2 1.1-3 1.3-3 .7-2 .2-2-.2-1.2-.5-.9-1-.2-1 .2-1 1.3-2 1.8-1.7 1.9-1.3 2.1-1.1zM135.9 1049.2l2.4-.4 2 0 1.4 .4 1.2 1 .2 1-.2 1-1.4 2-1 1-2.2 1.6-2 1-2 .8-2 .5-2 .3-2-.1-1-.3-1.2-.8-.3-1 .1-1 .5-1 1.7-2 3.2-2.2 2-1zM133.9 1050.2l2.4-.7 2-.3 2 .2 1 .3 .6 .5 .4 1-.1 1-.5 1-.8 1-1.6 1.4-2 1.3-2 .9-2 .7-2 .4-2 0-1-.1-1.1-.6-.7-1 .1-1 .4-1 .7-1 2.6-2.2zM135 1050.2l3.3-.5 1 0 1.5 .5 .8 1-.1 1-.4 1-.8 1-2.5 2-3.5 1.6-3 .7-2-.1-1-.3-1-.9 0-1 .3-1 .7-1 1.1-1 1.9-1.4 2-1zM136.8 1050.2l2.5 .1 1 .5 .4 .4 .1 1-.3 1-.8 1-1.1 1-1.5 1-1.8 .9-3 .9-2 .1-1-.2-1.1-.7-.3-1 .3-1 .7-1 1.1-1 1.4-1 1.9-1 2-.7zM134.3 1051.2l3-.6 1 .1 1 .2 .4 .3 .4 1-.3 1-.7 1-1.2 1-1.5 1-2.1 .9-3 .5-1-.1-1-.3-.6-1 .2-1 .7-1 1-1 1.5-1zM135.9 1051.2l1.4-.1 1 .1 1 1-.2 1-.7 1-1.1 1-2 1.1-3 .8-1 .1-1-.3-.8-.7 .1-1 .6-1 1.1-1 2-1.2zM133.9 1052.2l2.4-.5 1 0 1 .5 .1 1-.7 1-1.2 1-2.2 1-2 .4-1-.1-.7-.3-.3-1 .6-1 1.2-1zM133 1053.2l2.3-.9 1-.1 1 .6 .2 .4-.6 1-1.4 1-2.2 .7-1 0-1-.7 .5-1zM134.8 1053.2l.9 0 0 1-1.4 .7-1 .2-.3-.9zM294 1037.2l3.3-.2 3 .2 3 .3 3 .7 2 .7 2.7 1.3 1.4 1 1.8 2 .6 1 .7 2 .1 2-.3 2-.8 2-1.2 2-1.6 2-2.4 2.3-2.3 1.7-2.7 1.8-3 1.6-3 1.3-5 1.7-3 .8-7 1.1-4 .2-3-.1-3-.4-3-.6-2-.7-2-.9-2-1.3-1.5-1.5-1.1-2-.4-2 .1-2 .5-2 .9-2 1.4-2 1.7-2 2.1-2 2.3-1.8 3-1.9 6-2.9 3-1 4-1.2 4-.8zM287.5 1042.2l2.8-.5 3-.3 5 .1 3 .5 2 .7 3 1.6 1 1 1.2 1.9 .3 1 .1 2-.2 1-.9 2-2.3 3-3.2 2.7-5 2.8-5 2-6 1.4-3 .4-3 .2-5-.4-2-.4-2-.7-1.9-1-1.3-1-1.4-2-.2-1-.1-2 .3-1 .8-2 2.4-3 3.4-2.9 4-2.5 5-2.1zM288.1 1044.2l4.2-.5 3 0 2 .2 3 .7 2 .8 1.1 .8 1 1 .7 1 .3 1 0 2-.7 2-.6 1-1.7 2-3.1 2.5-4 2.2-5 1.8-5 1.1-5 .4-4-.3-3-.9-1.6-.8-1.3-1-.8-1-.5-1-.2-2 .7-2 .5-1 2.2-2.6 2-1.7 2-1.3 3-1.6 4-1.6zM290.4 1045.2l3.9-.1 3 .4 3 1 1 .7 1.1 1 .6 1 .3 1-.2 2-.4 1-1.3 2-2.1 2-2 1.4-4 2.1-4 1.3-5 1-4 .2-4-.5-3-1.2-1.6-1.3-.7-1-.3-1 .2-2 1-2 1.4-1.7 1.4-1.3 3.6-2.4 3-1.4 5-1.6zM289.9 1046.2l3.4-.1 2 .2 2 .4 2 .9 .9 .6 .9 1 .4 1 .2 1-.5 2-1.3 2-2.1 2-2.5 1.6-4 1.8-4 1.2-4 .6-4-.1-3-.5-2-.9-.9-.7-.8-1-.4-1-.1-1 .5-2 1.4-2 2.3-2 3-1.9 4-1.7 3-.8zM288 1047.2l3.3-.3 3 .1 3 .8 2 1.3 .7 1.1 .3 1 0 1-.8 2-1.8 2-2.4 1.8-3 1.5-4 1.4-4 .8-3 .1-3-.3-2-.6-1-.5-1.4-1.2-.5-1-.2-1 .2-1 .9-2 1.9-2 2.1-1.5 4-2 3-1zM286 1048.2l3.3-.6 3-.1 3 .5 2 .9 1.4 1.3 .4 1 .1 1-.3 1-1.2 2-2.3 2-2.1 1.2-3 1.4-4 1-4 .4-3-.2-2.6-.8-1.5-1-.7-1-.2-1 0-1 .4-1 1.5-2 2.1-1.8 2-1.1 3-1.3zM289.3 1048.2l3 0 2 .3 1.9 .7 1.3 1 .5 1 .2 1-.2 1-1.3 2-1.4 1.3-2 1.3-3 1.4-3 .9-3 .5-3 .1-2.8-.5-2-1-.9-1-.4-1 0-1 .4-1 1.5-2 1.2-1 2-1.3 3-1.4 3-.9zM286.1 1049.2l3.2-.5 3 0 2.1 .5 1.8 1 .8 1 .2 1-.1 1-.5 1-1.3 1.6-1.9 1.4-2.1 1.1-3 1.1-3 .7-3 .1-2-.2-2.5-.8-1.2-1-.5-1 0-1 .3-1 .6-1 .9-1 1.4-1.1 2-1.2 3-1.2zM289.1 1049.2l2.2 0 2 .3 1.6 .7 1.1 1 .3 1-.1 1-.4 1-.7 1-1.1 1-1.7 1.1-2 1-2 .7-3 .6-3 .2-2-.3-1.1-.3-1.6-1-.6-1-.1-1 .3-1 .6-1 1.5-1.5 2-1.3 2-.9 3-.9zM285.7 1050.2l2.6-.5 2-.1 2 .3 2 .8 .6 .5 .5 1 0 1-.4 1-.7 1-1.1 1-1.9 1.2-2 .8-3 .9-2 .2-2 0-2-.3-1.6-.8-.8-1-.2-1 .2-1 .7-1 .9-1 1.8-1.2 2-1zM287.9 1050.2l2.4-.1 2 .4 1.5 .7 .5 .6 .2 .4 .1 1-.3 1-.8 1-1.2 1-2 1.2-2 .8-2 .5-2 .2-3-.2-1.4-.5-1.1-1-.3-1 .2-1 .6-1 1-1 1.5-1 2.1-1 2.4-.7zM285.1 1051.2l3.2-.6 3 .2 1.2 .4 .8 .6 .3 .4 .2 1-.3 1-.8 1-1.2 1-2.2 1.2-2 .6-2 .4-2 .1-1.8-.3-1.8-1-.4-1 .1-1 .6-1 1.3-1.1 2-1.2zM286.9 1051.2l1.4-.2 2 .1 1 .3 1 .5 .3 .3 .4 1-.3 1-.7 1-1.3 1-1.4 .7-3 .9-3 .2-1-.2-1.5-.6-.7-1 .1-1 .6-1 1.1-1 1.8-1zM284.8 1052.2l2.5-.6 2-.1 1 .2 1.1 .5 .7 1-.2 1-.8 1-1.4 1-2.4 1-3 .4-2-.3-1.3-1.1 0-1 .6-1 1.2-1zM286.6 1052.2l1.7-.2 1 .1 1 .4 .8 .7-.1 1-.8 1-1.9 1.1-3 .7-2-.1-1.2-.7-.2-1 .6-1 1.3-1zM285.1 1053.2l1.2-.3 2-.2 1.5 .5 .2 1-.8 1-1.9 .9-2 .4-1-.1-.6-.2-.7-1 .5-1zM285 1054.2l1.3-.5 1-.1 1 .3 .2 .3-.9 1-1.3 .3-1 0-.8-.3zM453.5 1037.2l3-.6 3-.3 4-.1 3 .3 3 .5 3 .9 2 .9 2.3 1.4 1.7 1.5 1.2 1.5 1 2 .5 2 0 2-.3 2-.7 2-1.8 3-1.7 2-2.1 2-2.1 1.6-3 2-3 1.5-3 1.3-3 1-4 1-3 .5-4 .3-3 0-3-.2-3-.5-3-.9-2-.9-2-1.2-1.7-1.5-.9-1-1.1-2-.6-2-.1-2 .6-3 .9-2 1.2-2 1.6-2 2.1-2.2 2.2-1.8 2.8-1.9 3-1.6 3-1.4 4-1.4zM455.5 1041.2l5-.4 3 .2 2 .3 2 .5 2 .8 2 1.3 1 .9 1.1 1.4 .5 1 .5 2 .1 1-.8 3-1.1 2-1.6 2-1.7 1.6-1.8 1.4-4.2 2.4-5 1.9-5 1.2-5 .4-5-.4-4-1.2-2-1.1-1-.8-1.3-1.4-.5-1-.4-1-.2-2 .1-1 .7-2 1.1-2 1.6-2 1.9-1.8 2-1.6 4-2.4 5-2zM452.2 1044.2l4.3-.8 4-.1 4 .6 3.2 1.3 1.4 1 1 1 1 2 .2 1-.2 2-.3 1-1.1 2-1.6 2-1.1 1-3.5 2.4-4 1.9-4 1.2-5 .8-4 0-4-.8-2-.8-1.1-.7-1.2-1-.8-1-.7-2 0-2 .3-1 .9-2 2.6-3 3-2.3 4-2.1zM454 1045.2l3.5-.4 4 .2 3 .7 2.6 1.5 1 1 .6 1 .4 2-.3 2-1 2-.8 1-2.5 2.3-3 1.9-3 1.3-4 1.2-4 .6-4-.1-3-.6-2-.9-1.1-.7-1-1-.7-1-.4-2 .1-1 .6-2 1.4-2 3.1-2.7 3-1.8 4-1.6zM453.9 1046.2l3.6-.4 3 .2 3 .7 2.4 1.5 .9 1 .5 1 .2 2-.6 2-1.4 2-3 2.6-3 1.6-3 1.2-4 .9-4 .2-3-.4-2-.6-1.1-.5-1.4-1-.8-1-.4-1-.2-2 .8-2 1.4-2 1.7-1.5 3-2 4-1.7zM452.8 1047.2l3.7-.5 3 0 3 .8 1.5 .7 1.2 1 .7 1 .3 1-.1 2-1 2-1.8 2-2.8 1.9-3 1.4-3 .9-4 .6-3-.1-3-.7-1.9-1-1.1-1.1-.5-.9-.3-1 .3-2 1.1-2 2-2 2.4-1.6 4-1.8zM451.4 1048.2l3.1-.7 3-.2 2 .2 2.5 .7 1.7 1 .9 1 .4 1 .2 1-.5 2-1.4 2-1.8 1.5-3 1.8-3 1.1-3 .6-3 .2-3-.3-2-.7-1.8-1.2-.7-1-.3-1 0-1 .7-2 1.6-2 1.5-1.2 3-1.7zM453.9 1048.2l2.6-.3 3 .3 2 .6 1.9 1.4 .6 1 .2 1-.1 1-.9 2-.9 1-1.8 1.5-2 1.2-3 1.2-3 .6-3 .2-2-.2-2-.6-1.6-.9-.9-1-.4-1 0-1 .2-1 1.1-2 2.3-2 2.3-1.3 3-1.2zM451.7 1049.2l2.8-.6 2-.1 2 .1 2 .6 1.7 1 .8 1 .3 1-.1 1-.3 1-1.4 2-1.2 1-1.8 1.1-3 1.3-3 .6-3 .2-2-.3-2-.7-1.5-1.2-.5-1-.1-1 .2-1 .4-1 1.5-1.7 1.7-1.3 2.3-1.2zM453.9 1049.2l2.6-.2 2 .2 2 .7 1 .8 .5 .5 .4 1 0 1-.3 1-1.5 2-1.2 1-1.9 1.1-2 .8-3 .7-2 .1-2-.1-2-.6-1.5-1-.7-1-.2-1 .2-1 .5-1 .7-1 2-1.6 2-1.1 2-.8zM451.5 1050.2l2-.5 2-.2 2 .1 2 .6 1.5 1 .5 1 .1 1-.2 1-.6 1-1.3 1.3-2 1.3-2 .9-2 .5-2 .3-2-.1-2-.4-1.5-.8-.8-1-.3-1 .1-1 .5-1 .8-1 1.2-1 2-1.2zM453.4 1050.2l2.1-.2 2 .1 1 .3 1.4 .8 .8 1 .2 1-.3 1-.6 1-.9 1-1.6 1.1-2 .9-2 .6-2 .2-2 0-2-.6-1-.7-.5-.5-.3-1 .1-1 .4-1 .9-1 1.2-1 1.8-1zM451.3 1051.2l3.2-.7 3 .2 1.2 .5 1.1 1 .3 1-.2 1-.6 1-1 1-2.8 1.5-2 .6-2 .3-2-.1-1-.3-1.6-1-.5-1 .1-1 .4-1 .9-1 1.7-1.2zM452.9 1051.2l1.6-.2 2 0 1 .3 1 .6 .3 .3 .5 1-.2 1-.6 1-1 1-1 .6-1 .5-2 .6-3 .2-1-.2-1.6-.7-.7-1 0-1 .5-1 .9-1 1.5-1zM451.2 1052.2l1.3-.4 2-.3 2 .2 1.2 .5 .7 1-.1 1-.6 1-1.1 1-2.1 1-3 .4-2-.3-1.4-1.1-.1-1 .5-1 .9-1zM452.8 1052.2l1.7-.2 1 .1 1 .3 .9 .8 .1 1-.6 1-1.4 1-3 .9-2-.1-1.3-.8-.3-1 .4-1 1.2-1.1zM451.7 1053.2l1.8-.5 2 .2 .7 .3 .3 1-.7 1-1.3 .8-1 .3-2 .1-1-.2-.6-1 .4-1zM451.7 1054.2l1.8-.6 1 .1 .5 .5-.7 1-1.8 .4-1.1-.4zM610.8 1037.2l3.6-.6 4-.2 4 .2 4 .7 3 .9 3 1.2 2.8 1.8 2.3 2 1.6 2 1.4 3 .4 2 0 3-.7 3-.9 2-2 3-1.9 2-2.3 2-2.7 1.8-5 2.5-4 1.3-3 .7-3 .5-3 .2-6-.2-3-.5-3-.8-3-1.3-2-1.1-2-1.4-1.7-1.7-1.5-2-1-2-.6-2-.2-2 .1-2 .5-2 .7-2 1.2-2 1.5-2 2-2.1 2.3-1.9 2.7-1.8 3-1.5 3-1.2zM611.9 1041.2l4.5-.5 5 .3 4 1 2 .8 2 1.1 2.7 2.3 .8 1 1.1 2 .7 3-.2 2-.5 2-1.7 3-1.6 2-1.3 1.2-2 1.5-2 1.2-4 1.8-4 1.1-5 .6-4-.1-3-.5-2-.5-2-.8-2.7-1.5-1.3-1-1.8-2-1.1-2-.6-2-.1-2 .3-2 .7-2 1.2-2 1.7-2 2.7-2.3 3-1.9 3-1.3 3-1zM612.3 1043.2l4.1-.4 4 .4 2 .4 2 .7 3 1.6 1.6 1.3 .8 1 1.2 2 .3 1 .2 2-.6 3-1.7 3-2.8 2.7-3 2-4 1.7-4 .9-4 .3-4-.3-3-.7-2-.9-2-1.2-1.7-1.5-.8-1-1.1-2-.2-1-.2-2 .3-2 .9-2 1.3-2 1.5-1.6 2-1.5 2-1.3 3-1.3 3-.9zM609.5 1045.2l3.9-.8 3-.2 2 .2 2 .3 2 .5 3 1.5 1.9 1.5 .8 1 .6 1 .6 2 .1 1-.2 2-.3 1-1.1 2-2.4 2.7-3 2-4 1.7-3 .7-4 .3-4-.4-3-.9-3-1.7-1.4-1.4-.7-1-.9-2-.2-2 .3-2 .4-1 1.2-2 .8-1 2.3-2 3.2-1.9zM609.7 1046.2l3.7-.8 4-.1 2 .3 2 .6 3 1.4 2 1.9 .5 .7 .9 2 .1 1-.2 2-.8 2-.6 1-1.9 2-3 2.1-3 1.3-3 .7-4 .4-3-.3-3-.8-2.5-1.4-2.1-2-1-2-.2-1 .1-2 .6-2 1.3-2 2.1-2 2.7-1.7zM614.2 1046.2l3.2 0 3 .6 2 .9 2.2 1.5 1.5 2 .5 2-.1 2-.8 2-1.6 2-1.7 1.4-3 1.7-3 1-3 .5-3 0-3-.5-3-1.3-1.2-.8-1-1-.7-1-.7-2 0-2 .3-1 1-2 2.3-2.4 3-1.9 3-1.1zM612.1 1047.2l3.3-.3 2 .1 2 .4 3 1.3 1.7 1.5 1.2 2 .2 1-.1 2-.8 2-.7 1-1.5 1.4-2 1.4-3 1.3-2 .6-3 .3-3-.2-2-.5-2-.8-2-1.6-1.3-1.9-.4-2 .4-2 1.1-2 2-2 2.2-1.4 2-.9zM610.6 1048.2l1.8-.4 2-.2 3 .1 3 .8 2 1.3 1.3 1.4 .6 1 .3 2-.5 2-1.3 2-2.4 2-2 1.1-2 .7-3 .5-3 0-2-.4-2-.7-1.8-1.2-.9-1-.9-2-.1-2 .8-2 1.6-2 1.3-1 2-1.2zM614 1048.2l2.4 0 2 .4 2 .8 2 1.5 .9 1.3 .4 2-.5 2-.5 1-1.3 1.4-2 1.5-2 .9-3 .8-3 .2-2-.3-2-.6-1.6-.9-1.1-1-.7-1-.4-1 0-2 .8-2 1.7-2 2.3-1.5 3-1.1zM611.3 1049.2l2.1-.4 3 0 2 .4 2.1 1 1.2 1 .7 1 .3 1 0 2-.9 2-1.4 1.5-2 1.3-2 .8-2 .5-2 .1-2-.1-2-.5-2-1.1-1.5-1.5-.4-1-.2-1 .4-2 1.3-2 1.1-1 2.3-1.3zM610.1 1050.2l2.3-.7 3-.2 2 .3 2 .8 1.2 .8 .9 1 .4 1 .2 1-.2 1-.3 1-.6 1-1.6 1.5-1 .6-2 .9-2 .5-2 .2-2-.2-2-.5-1.6-1-1-1-.5-1-.2-1 0-1 .9-2 .9-1 1.5-1.2zM611.8 1050.2l2.6-.4 2 .2 2 .6 1.1 .6 1 1 .6 1 .2 1-.1 1-.4 1-.7 1-1 1-1.7 1-2 .8-2 .3-3-.1-2-.7-1-.7-1-1.1-.5-1.5 0-1 .3-1 .6-1 1.6-1.5 2-1.1zM610.5 1051.2l1.9-.6 2-.2 2 .2 1.8 .6 1.4 1 .6 1 .3 1-.1 1-.4 1-.7 1-1.2 1-2.7 1.2-3 .4-2-.2-1.2-.4-1.5-1-.7-1-.4-1 .1-1 .3-1 .7-1 1-1zM612.2 1051.2l1.2-.2 2 0 2 .5 1.1 .7 .8 1 .3 1-.2 1.5-1 1.5-2 1.3-3 .8-2-.1-1-.2-1-.4-1-.8-.6-.6-.4-1 0-1 .4-1 .7-1 1.3-1zM611 1052.2l1.4-.5 2-.2 1 .1 1.8 .6 1.2 1 .4 1-.1 1-.4 1-.9 1-1 .6-2 .8-2 .1-2.2-.5-1.4-1-.5-1 0-1 .4-1 .7-.9zM613.2 1052.2l1.8 0 1.4 .4 1 .8 .4 .8 0 1-.5 1-.9 .9-1 .5-2 .5-2-.2-1.4-.7-.7-1-.1-1 .4-1 1-1 .8-.4zM612.2 1053.2l2.2-.3 1.2 .3 1.1 1 .1 1-.6 1-1.8 1-2 .1-1-.3-1-.8-.2-1 .5-1zM612.5 1054.2l.9-.2 1 0 .4 .2 .5 1-1.2 1-.7 .1-1-.1-.7-1zM140.8 1205.3l2.5-.5 3-.3 3-.1 3 .4 2 .5 2 .8 1.8 1.2 1 1 .6 1 .6 2 .1 1-.2 2-.7 2-1 2-1.4 2-1.8 2-4 3.6-3 2.1-3 1.7-5 2.4-6 2-3 .7-3 .4-3 .2-3-.2-2-.2-2-.6-2-.9-1.6-1.2-.8-1-.9-2-.1-1 .1-2 .5-2 1-2 1.3-2 2.5-3 4-3.5 3-2.1 3-1.8 4-1.9 3-1.2zM138.7 1209.3l4.6-.9 4-.1 3 .5 2 .9 1 .7 .9 .9 .5 1 .3 1 0 2-.3 1-1 2-2.3 3-3.1 2.8-4 2.8-4 2-5 1.9-5 1.1-5 .3-3-.5-2-.8-1-.7-.9-.9-.5-1-.3-1 .1-2 1.3-3 2.3-3 3-2.8 4-2.8 3-1.7 3-1.3zM143.1 1210.3l3.2 0 3 .7 1 .5 1 .8 .7 1 .3 1-.1 2-.8 2-1.4 2-3.1 3-3.6 2.5-4 2.1-3 1.1-4 1.1-4 .5-3-.1-2-.5-1-.4-1.6-1.3-.5-1-.2-1 0-1 .6-2 2-3 2.7-2.6 4-2.8 4-2 3-1.2 3-.8zM138 1212.3l3.3-.7 4-.1 2 .4 1 .4 1.4 1 .6 1 .3 1-.1 1-.6 2-2.3 3-3.3 2.7-3 1.9-4 1.8-3 1-4 .8-3 .1-2-.3-2.2-1-1-1-.4-1-.1-1 .5-2 .5-1 1.5-2 3.2-2.8 3-2 4-2zM137.3 1213.3l3-.7 4-.2 2 .4 1.2 .5 .8 .6 .8 1.4 .1 1-.2 1-.9 2-1.7 2-2.3 2-2.8 1.8-3 1.5-4 1.4-3 .6-3 .2-2.8-.5-1.7-1-.7-1-.2-1 0-1 .8-2 1.6-2 3-2.7 3-1.9 4-1.8zM140.2 1213.3l3.1-.2 2 .3 1.7 .9 .8 1 .3 1-.1 1-.3 1-1.3 2-2 2-2.1 1.5-3 1.7-3 1.3-3 .9-3 .4-3-.2-1.8-.6-1.1-1-.4-1-.1-1 .8-2 1.5-2 2.1-1.9 3-2 3-1.5 3-1zM137.9 1214.3l2.4-.5 3 0 2 .5 1.3 1 .4 1 .1 1-.3 1-1.2 2-1 1-2.3 1.9-2 1.3-3 1.4-3 1-3 .6-2 0-2-.3-1.7-.9-.6-1-.1-1 .2-1 .4-1 1.5-2 2.3-2 2-1.3 3-1.5zM136.1 1215.3l2.2-.6 3-.4 2 .1 1 .3 1 .6 .8 1 .1 1-.2 1-.5 1-1.6 2-1.6 1.4-3 1.8-3 1.4-2 .6-3 .5-2 0-2-.5-1-.8-.3-.4-.3-1 .1-1 1.1-2 .8-1 1.6-1.4 2-1.4 3-1.5zM137.6 1215.3l2.7-.5 2 .1 1.5 .4 1.3 1 .3 1-.1 1-.5 1-1.6 2-1.9 1.6-2 1.2-2 .9-3 1-2 .4-2 .1-2-.4-1.3-.8-.5-1 .1-1 .3-1 1.5-2 1.9-1.6 2-1.3 3-1.4zM135.7 1216.3l2.6-.7 2-.3 2 .2 1 .3 .7 .5 .6 1 0 1-.4 1-.7 1-1.2 1.2-2.4 1.8-2.6 1.3-2 .8-2 .5-2 .2-2-.3-1.2-.5-.8-1 0-1 .3-1 .6-1 1.1-1.2 2-1.6 2-1.2zM136.9 1216.3l1.4-.3 2-.2 2 .3 1 .6 .5 .6 .1 1-.4 1-1.6 2-1.6 1.3-2 1.2-2 .9-2 .6-2 .3-2-.1-1-.3-1-.8-.3-1.1 .2-1 1.5-2 1.6-1.3 2-1.3zM138.9 1216.3l2.4 .1 1 .4 .6 .5 .2 1-.2 1-.6 1-1 1-3 2.1-2 .9-2 .6-3 .2-1-.2-1.2-.6-.4-1 .2-1 .5-1 1.9-1.9 2-1.3 2-.9 2-.6zM136.1 1217.3l3.2-.6 2 .3 .5 .3 .6 1-.2 1-.5 1-2.3 2-3.1 1.6-3 .8-2-.1-1.1-.3-.8-1 .1-1 .5-1 .9-1 1.4-1.1 2-1.2zM137.6 1217.3l1.7-.1 1 .1 1 .6 .3 .4 0 1-.6 1-.9 1-2.8 1.8-3 1-2 .2-1-.3-1-.7-.1-1 .4-1 .9-1 1.3-1 1.5-.9zM135.5 1218.3l2.8-.6 1 0 1 .4 .3 .2 .2 1-.4 1-1 1-1.1 .8-2.5 1.2-2.5 .5-1-.1-1-.4-.4-1 .4-1 .9-1 1.1-.9zM137 1218.3l1.3-.1 .9 .1 .8 1-.3 1-1 1-1.5 1-1.9 .7-2 .3-1-.4-.5-.6 .2-1 .9-1 1.4-1zM135.4 1219.3l1.9-.5 1 .1 .6 .4-.1 1-.9 1-1.9 1-1.7 .3-1.3-.3-.1-1 .8-1zM134.9 1220.3l1.4-.5 1 .1 .3 .4-1 1-1.3 .4-1-.2-.2-.2zM287.8 1207.3l3.5-.5 3-.3 4 0 3 .3 5 1.2 2 .8 2.4 1.5 1.6 1.5 1 1.5 .7 2 .1 2-.4 2-.8 2-1.3 2-1.7 2-2.2 2-2.4 1.8-3 1.9-3 1.5-6 2.4-4 1.1-4 .8-7 .6-3-.1-4-.4-3-.7-2-.7-2.2-1.2-1.8-1.4-1.3-1.6-.5-1-.6-2 .1-2 .5-2 1-2 1.4-2 1.8-2 2.2-2 2.4-1.8 5-2.8 4-1.8 3-1zM286.6 1211.3l2.7-.5 3-.2 5 .1 4 .8 2 .9 1.5 .9 1.2 1 .7 1 .5 1 .4 2-.1 1-.7 2-2 3-3.5 3-4 2.5-5 2.1-3 1-4 .9-6 .5-5-.3-4-1-1.5-.7-1.5-1.1-.9-.9-.7-1-.4-1-.1-2 .5-2 .5-1 .6-1 1.7-2 2.8-2.5 3-1.9 2-1.1 5-2.1zM286.2 1213.3l4.1-.6 5 0 4 .9 1.7 .7 1.3 .9 1.1 1.1 .5 1 .4 2-.5 2-.5 1-2 2.5-1.7 1.5-2.3 1.6-4 2-5 1.7-4 .9-5 .4-4-.3-3-.8-2-1.1-1-.8-1.2-1.6-.3-1 .1-2 .9-2 .6-1 1.9-2 3-2.3 4-2.2 3-1.2zM287.2 1214.3l4.1-.4 4 .3 3 .8 2.2 1.3 .9 1 .5 1 .2 2-.3 1-1.1 2-1.9 2-3.5 2.5-4 1.9-4 1.2-4 .8-4 .2-3-.3-3-.8-2.3-1.5-.9-1-.4-1 0-2 .8-2 1.8-2.2 3-2.4 4-2.1 5-1.7zM286.5 1215.3l3.8-.5 4 .3 3 .8 2.1 1.4 .7 1 .4 1 0 1-.2 1-1.1 2-1.9 2-2 1.5-4 2-4 1.3-4 .8-4 .2-3-.4-3-1.1-1.5-1.3-.6-1-.2-1 0-1 .3-1 1.3-2 1.7-1.7 3-2.1 3-1.4 3-1.1zM285 1216.3l3.3-.6 4 0 3 .5 2 .9 1.3 1.2 .5 1 .1 1-.1 1-.4 1-1.5 2-1.9 1.6-3 1.8-3 1.2-4 1.1-4 .4-3-.1-3-.8-2-1.2-.8-1-.3-1 0-1 .8-2 1.3-1.6 1.6-1.4 2.4-1.5 4-1.8zM289.1 1216.3l3.2 .1 2 .4 2 .9 .8 .6 .7 1 .3 1-.1 1-.4 1-1.5 2-1.8 1.5-3 1.7-3 1.2-3 .7-3 .4-3 0-2-.4-2-.7-1.6-1.4-.4-1-.1-1 .3-1 1.2-2 2.3-2 2.3-1.4 3-1.2 3-.9zM285.6 1217.3l2.7-.4 3 0 2.3 .4 2.1 1 .9 1 .4 1 0 1-.3 1-1.5 2-1.9 1.5-3 1.6-3 1.1-3 .6-3 .2-3-.3-2-.6-1.4-1.1-.6-1-.2-1 .3-1 .4-1 1.5-1.7 1.7-1.3 2.3-1.3 3-1.1zM283.5 1218.3l2.8-.7 2-.2 2 0 2 .2 1.9 .7 1.1 .8 .7 1.2 .1 1-.3 1-1.5 2-2 1.5-3 1.5-3 1-3 .5-3 0-2-.3-2-1-1.1-1.2-.2-1 .2-1 .5-1 1.6-1.8 1.7-1.2 2.3-1.2zM285.2 1218.3l2.1-.4 3 0 2.2 .4 1.8 .9 .8 1.1 .1 1-.2 1-.6 1-.9 1-2.2 1.6-2 1-2 .7-3 .6-3 .2-2-.3-2-.7-1-1-.4-1.1 .1-1 .5-1 .8-1 1.1-1 1.9-1.2 2-.9zM283.2 1219.3l2.1-.6 2-.3 2-.1 2 .3 1.8 .7 1 1 .3 1-.2 1-.6 1-1.3 1.3-2 1.3-2 .9-3 .9-2 .2-2 0-2-.3-1-.4-1.2-.9-.4-1 .1-1 .4-1 .8-1 1.3-1.1 2-1.1zM284.6 1219.3l3.7-.5 2 .1 1.4 .4 1.4 1 .5 1-.2 1-.5 1-1 1-1.6 1.1-2 1-3 .9-2 .2-2 0-2-.5-1.2-.7-.6-1 0-1 .5-1 .8-1 2.5-1.7zM286.9 1219.3l1.4-.1 2 .3 1.8 .8 .6 1-.1 1-.5 1-1 1-1.4 1-2.4 1-2 .5-2 .3-2-.1-1-.3-1-.4-.9-1-.1-1 .4-1 .9-1 1.3-1 2.4-1.2zM284.1 1220.3l3.2-.6 2 .1 1 .3 .5 .2 1 1 0 1-.5 1-1 1-2 1.2-2 .7-2 .4-3-.1-1-.4-1-.8-.2-1 .4-1 .8-1 1-.7zM286 1220.3l1.3-.1 1.6 .1 1.4 .6 .5 .4 .2 1-.5 1-1 1-2.2 1.1-3 .7-2 0-1-.3-.9-.5-.4-1 .3-1 .9-1 2.1-1.2zM284 1221.3l2.3-.5 2 0 1.2 .5 .5 1-.4 1-1.1 1-1.2 .6-1 .4-2 .3-2-.1-.5-.2-.9-1 .3-1 .9-1zM283.2 1222.3l2.1-.8 1-.2 1 0 1 .4 .6 .6-.3 1-1.3 1-2 .6-1 .1-1-.1-1.2-.6 .1-1zM285.2 1222.3l1.6 0 .3 1-1.8 .8-1 0-.6-.8zM453.5 1205.3l3-.4 4-.3 3 .2 3 .4 3 .7 2 .7 2 1 2.4 1.7 1 1 1.4 2 .7 2 .2 2-.2 2-1 3-1.1 2-1.6 2-2 2-2.4 2-2.4 1.6-3 1.6-3 1.4-3 1.1-3 .8-4 .8-3 .4-4 .2-3-.2-3-.4-3-.7-2-.8-2-1-2-1.5-1.3-1.3-1.2-2-.6-2-.1-2 .3-2 .7-2 1-2 1.5-2 1.8-2 2.3-2 2.6-1.9 3-1.7 4-1.9 3-1.1zM454.4 1209.3l5.1-.3 5 .6 2 .7 2 .9 1.6 1.1 1 1 .7 1 .8 2 .2 1-.2 2-.6 2-.6 1-2.4 3-3.5 2.9-3 1.7-2 1-5 1.7-5 1-5 .2-2-.1-3-.6-3-1-1.5-.8-1.3-1-1.6-2-.4-1-.3-2 .3-2 .3-1 1.1-2 1.6-2 1.8-1.8 2-1.5 4-2.4 5-2 3-.8zM455.7 1211.3l3.8 0 2 .2 2 .5 3 1.4 1.1 .9 .9 1 .9 2 .1 1-.2 2-.4 1-1.2 2-1.8 2-3.4 2.6-4 2-3 1-5 1.1-4 .2-4-.4-3-.9-2-1.2-1-.9-1.1-1.5-.3-1-.1-2 .2-1 .9-2 .6-1 1.8-2 3-2.3 4-2.2 3-1.1 3-.8zM451 1213.3l3.5-.6 4-.1 3 .5 3 1.3 1.3 .9 .8 1 .5 1 .3 1-.1 2-.3 1-1.2 2-2.3 2.4-3 2-4 1.8-4 1.1-4 .5-4-.1-2-.4-2-.7-2-1.3-1.1-1.3-.5-1-.2-2 .5-2 1.3-2 1-1.1 2-1.7 3-1.9 4-1.6zM450.7 1214.3l2.8-.6 4-.1 3 .5 2 .7 1 .6 1.1 .9 .8 1 .4 1 .1 1-.4 2-1.1 2-2 2-2.9 1.9-3 1.5-4 1.1-4 .5-3-.1-3-.6-2.5-1.3-1.1-1-.6-1-.3-1 0-1 .6-2 1.3-2 2.1-2 2.5-1.6 4-1.8zM449.7 1215.3l2.8-.7 3-.2 3 .2 2.6 .7 1.8 1 1 1 .5 1 .2 1-.3 2-1.1 2-2.1 2-2.6 1.7-4 1.6-4 .9-3 .2-3-.4-2-.6-2-1.3-.9-1.1-.4-1-.1-1 .5-2 1.4-2 2.5-2.2 3-1.6zM452.5 1215.3l3-.3 3 .3 2 .7 2 1.3 .7 1 .3 1 0 1-.7 2-1.3 1.7-1.5 1.3-2.5 1.5-3 1.3-3 .7-3 .3-3-.2-2-.6-2-1.2-1-1.3-.4-1.5 .5-2 1.4-2 1.5-1.3 3-1.9 3-1.1zM450.4 1216.3l3.1-.6 3 0 2 .3 2 .9 1.6 1.4 .4 1 .1 1-.7 2-1.6 2-1.8 1.3-2 1.1-3 1.1-3 .6-3 .1-2-.3-2.5-.9-1.2-1-.6-1-.2-1 .1-1 .9-2 1.5-1.5 2-1.5 3-1.4zM453.1 1216.3l2.4-.1 2 .2 2 .7 1.5 1.2 .6 1 .1 1-.2 1-.4 1-1.6 1.9-2 1.4-2 1-3 1-2 .3-2 .1-2-.1-2-.6-1.6-1-.8-1-.3-1 .1-1 .3-1 .7-1 .8-1 1.8-1.4 2-1.1 3-1zM450.3 1217.3l2.2-.5 2-.1 2 .1 2 .6 1.4 .9 .7 1 .3 1-.1 1-.5 1-.8 1.1-2 1.7-2 1-2 .8-3 .6-2 .1-2-.3-2-.7-1.5-1.3-.4-1 .1-1 .3-1 1.5-1.9 1.4-1.1 2.6-1.4zM452.6 1217.3l1.9-.1 2 .2 2 .7 1 .9 .6 1.3-.1 1-.4 1-1.1 1.3-1 .9-2 1.1-2 .8-3 .6-2 .1-2-.3-1.3-.5-1.3-1-.5-1 0-1 .3-1 .7-1 .9-1 1.4-1 1.8-.9 2-.7zM450.1 1218.3l3.4-.6 3 .3 1 .3 1.3 1 .4 1 0 1-.4 1-.7 1-1.6 1.3-2 1-2 .7-2 .3-2 0-2-.4-1.6-.9-.7-1-.1-1 .3-1 .7-1 1.4-1.3 2-1.1zM451.9 1218.3l1.6-.2 2 .2 1 .3 1.3 .7 .6 1 .1 1-.4 1-.8 1-1.2 1-1.6 .8-3 .9-3 .2-1-.2-1.6-.7-.8-1-.2-1 .3-1 .6-1 1.2-1 1.5-.9zM449.8 1219.3l2.7-.6 2 0 1 .1 1.1 .5 .9 .9 .2 1.1-.4 1-.8 1-1.3 1-1.7 .8-3 .6-2-.1-1-.2-1.5-1.1-.3-1 .2-1 .7-1 .9-.8zM451.4 1219.3l1.1-.2 2 .1 1 .3 1 .7 .4 1.1-.3 1-.9 1-2.2 1.3-3 .7-2-.2-1.5-.8-.5-1 .2-1 .7-1 1.4-1zM449.9 1220.3l1.6-.5 2-.1 1 .2 .9 .4 .6 1-.5 1.2-.8 .8-1.2 .7-2 .6-2 .1-1.3-.4-.8-1 .1-1 .8-1zM452.2 1220.3l1.3 0 1 .6 .4 .4-.2 1-1.1 1-2.1 .7-1 .1-1-.2-1-.6 0-1 .9-1 1.1-.5zM451.3 1221.3l1.6 0 .3 1-1.7 .9-1-.1-.5-.8zM609.5 1205.3l2.9-.6 4-.3 4 0 4 .4 4 1 3 1.2 3 1.7 2 1.6 1.8 2 1.2 2 .8 2 .3 3-.4 3-.7 2-1.6 3-1.6 2-1.8 1.7-2 1.7-3 1.9-3 1.5-5 1.9-4 .9-3 .5-3 .2-3 0-6-.8-3-.9-3-1.3-2-1.1-2-1.5-1.6-1.7-1.4-2-.9-2-.5-2-.1-2 .2-2 1-3 1-2 1.5-2 1.9-2 1.9-1.6 3-2.1 3-1.6 3-1.2zM609.7 1209.3l2.7-.5 3-.3 3 0 3 .3 3 .7 3 1.2 2 1.2 1.7 1.4 1.3 1.5 .9 1.5 .7 2 .2 2-.3 2-.6 2-1.2 2-1.6 2-3.5 3-2.6 1.5-2 1-4 1.3-5 .9-5 0-2-.2-3-.7-4-1.6-3-2.2-1-1.1-1.2-1.9-.5-1-.4-2 .2-3 1.1-3 2.2-3 1.6-1.6 2-1.5 4-2.2 3-1.1zM609.8 1211.3l4.6-.7 5 .1 3 .7 2 .7 2 1.1 1.5 1.1 1 1 1.4 2 .4 1 .3 2-.1 2-.7 2-1.2 2-.8 1-2.8 2.6-3 1.8-3 1.2-2 .6-4 .7-4 .1-4-.6-2-.6-2-.9-2.7-1.9-1.7-2-.5-1-.5-2-.1-1 .2-2 .7-2 .6-1 2-2.5 3-2.4 3-1.6zM611.3 1212.3l2.1-.3 3-.1 4 .5 2 .6 2 1 1.8 1.3 1 1 .7 1 .9 2 .1 1-.1 2-.6 2-.6 1-1.2 1.7-1.4 1.3-1.6 1.3-2 1.1-3 1.3-3 .8-4 .4-4-.3-3-.8-3-1.6-2-1.8-1.4-2.4-.3-2 .2-2 .7-2 .7-1 2.1-2.4 3-2.2 4-1.7zM611.3 1213.3l2.1-.3 3-.1 4 .7 3 1.3 1.8 1.4 .9 1 .6 1 .7 2 0 1-.3 2-1 2-.7 1-2 1.9-2 1.4-3 1.4-3 .8-4 .4-3-.1-3-.8-3-1.5-1.7-1.5-1.2-2-.5-2 .1-1 .5-2 1.1-2 1.9-2 2.8-1.9 3-1.3zM610.6 1214.3l3.8-.5 3 .1 3 .7 2 .9 1.1 .8 1.1 1 .7 1 .5 1 .4 2-.4 2-1 2-.7 1-2.3 2-2.4 1.4-3 1.1-3 .5-3 .1-3-.4-3-1.1-2-1.4-1.1-1.2-.6-1-.5-2 .2-2 .9-2 1.6-2 2.5-1.9 3-1.5zM609.6 1215.3l2.8-.6 4-.1 3 .6 2 .8 1 .6 1.7 1.7 .9 2 .1 1-.3 2-1.1 2-1.9 2-2.4 1.6-2 .8-3 .8-3 .3-2-.1-3-.8-2-.9-1.9-1.7-1.1-2-.2-2 .6-2 1.3-2 1.3-1.3 2-1.4zM612.6 1215.3l2.8-.1 2 .2 2 .5 2 1.1 1.5 1.3 1.1 2 .1 1-.3 2-1.1 2-1.3 1.4-2 1.4-3 1.3-2 .5-3 .3-3-.4-2-.6-2-1.2-1.6-1.7-.6-2-.1-1 .6-2 1.4-2 2.3-1.9 3-1.4zM610.6 1216.3l2.8-.5 3 .1 3 .8 2 1.2 1.2 1.4 .4 1 .2 1-.3 2-1.1 2-1.4 1.4-2 1.3-2 .8-3 .7-3 0-2-.3-2-.7-1.7-1.2-.9-1-.5-1-.3-1 0-1 .6-2 1.5-2 1.1-1 2.2-1.2zM609.3 1217.3l2.1-.6 3-.4 3 .4 2 .7 1.3 .9 .9 1 .5 1 .3 1 0 1-.8 2-1.2 1.5-2 1.5-2 .9-2 .6-2 .2-2 0-2-.4-2-.9-1.6-1.4-.7-1-.3-1 .2-2 1-2 1-1 1.4-1zM611.1 1217.3l2.3-.4 3 .2 2 .6 1.1 .6 .9 .8 .9 1.2 .2 1 .1 1-.8 2-.8 1-1.6 1.3-2 1.1-2 .5-2 .3-2-.1-2-.4-1.4-.7-1.3-1-.7-1-.4-1 0-1 .1-1 .5-1 .7-1 1.5-1.3 2-1.1zM609.7 1218.3l2.7-.8 2-.1 2 .3 1.8 .6 1.4 1 .8 1 .3 1 .1 1-.3 1-.5 1-1.6 1.6-1 .7-2 .8-2 .5-2 .1-2-.3-1.1-.4-1.6-1-.9-1-.4-1-.1-1 .2-1 .5-1 .7-1 1.2-1zM611.4 1218.3l2-.3 2 0 2 .6 1.2 .7 .9 1 .4 1 .1 1-.2 1-.6 1-.9 1-1.5 1-1.4 .6-2 .5-3-.1-1-.2-1.6-.8-1.1-1-.5-1-.1-1 .2-1 .5-1 1.6-1.6 1-.6zM610.2 1219.3l2.2-.7 2-.1 2 .4 .9 .4 1.2 1 .6 1 .1 1-.2 1-.6 1-1 .9-2 1.1-3 .6-2-.2-1.3-.4-1.4-1-.6-1-.2-1 .1-1 .6-1 .9-1zM611.9 1219.3l1.5-.2 2 .1 1 .4 1.1 .7 .7 1 .2 1-.3 1-.6 1-1.1 .9-1 .5-2 .6-2.1 0-.9-.2-1.6-.8-.9-1-.2-1 .2-1 .5-1 1-.9 1-.6zM610.9 1220.3l2.5-.6 1 .1 1.8 .5 1 1 .3 1-.3 1-.8 1-2 1.1-2 .3-2.2-.4-1.2-1-.4-1 .2-1 .6-1zM610.7 1221.3l1.7-.7 1-.2 1 .1 1.5 .8 .5 1-.3 1-1 1-1.7 .6-2-.1-1.1-.5-.6-1 .1-1zM611.3 1222.3l1.1-.7 1-.2 1 .4 .5 .5-.3 1-.2 .1-1 .5-1 0-1.2-.6zM130.6 1368.5l4.7-.5 5-.1 5 .2 5 .6 20 4.1 10.6 2.7 10.4 2.1 4 1.3 3 1.7 1.8 1.9 .4 1 .1 1-.2 1-.5 1-1.6 1.6-2 1.2-2 .7-3 .8-3 .3-11 0-3.6 .4-3.6 1-6 2-17.8 6.5-8 2-7 1.1-8 .4-7-.3-7-1.2-4-1.2-4-1.9-3-2.1-2-2.3-1.1-2-.3-1-.3-2 .5-3 1.5-3 2.5-3 3.2-2.8 4-2.6 4-2 5-2 4-1.3 6-1.5zM131 1372.5l7.3-.4 8 .6 20 3 12 2.7 10 .8 3 .7 3 1.2 1.8 1.4 .6 1 .2 1-.2 1-.8 1-.6 .5-2 1.1-2 .7-3 .5-3 0-3-.2-6-.8-2 0-2 .3-16.6 4.9-13.4 4.7-7 1.8-6 .9-5 .3-5-.2-5-.6-4-1-3-1.2-2.9-1.7-2.1-2-1.2-2-.5-2 .2-2 .7-2 .6-1 1.6-2 2.6-2.4 3-2 4-2.1 5-1.9 4-1.1 5-1zM131.7 1374.5l4.6-.2 6 .3 19 2.6 6 1.2 8 2.5 2 .1 7-.6 4 .3 3 .8 1.8 1 .9 1 .2 1-.3 1-1.6 1.3-2 .8-3 .4-2 0-3-.4-7-1.9-3 .2-9 3-9 2.7-14 5.2-4 1.1-4 .8-4 .5-4 .2-4-.1-4-.4-4-1-3-1.2-2-1.2-2.1-2-1.1-2-.2-2 .4-2 1.1-2 1.7-2 2.5-2 2.7-1.7 4-1.9 3-1 4-1.1 4-.8zM126.4 1376.5l5.9-.7 7 .1 4 .5 16 2.5 3.1 .6 3.3 1 1.8 1 .8 1-.1 1-.8 1-1.5 1-2 1-11.6 4-9 3.7-6 2.1-4 1-6 .8-5 .1-5-.5-3-.7-3-1.1-2-1.1-1.5-1.3-.8-1-.8-2-.1-1 .5-2 1.1-2 .8-1 2.3-2 2.5-1.6 3-1.5 3-1.2 4-1.1zM181.5 1382.5l1.8-.4 2-.2 3 .2 1.4 .4 1.5 1 .4 1-.6 1-2.2 1-2.5 .2-2.4-.2-2.8-1-1.1-1 0-1zM126.6 1377.5l3.7-.5 4-.1 4 .1 5 .7 13.5 2.8 2.5 .7 1 .3 1.6 1 .3 1-.6 1-1.5 1-2.1 1-6.7 2.8-9 4.1-5 1.8-4 1.1-6 .8-5 .1-4-.4-3-.6-2-.7-1.9-1-1.4-1-.9-1-1-2-.1-1 .4-2 .4-1 1.6-2 2.5-2 2.4-1.4 5-2.1 3-.9zM125.8 1378.5l4.5-.6 4-.1 4 .2 4 .7 5 1.2 5 1.6 2.2 1 1 1-.1 1-1 1-1.4 1-7.1 4-4.6 2.3-5 1.8-5 1.2-4 .5-5 .1-4-.5-3-.8-1.5-.6-1.8-1-1.1-1-.7-1-.5-1-.2-1 .4-2 1.2-2 .9-1 3.3-2.4 2-1 3-1.2zM124.5 1379.5l3.8-.7 4-.2 4 .1 4 .6 4 1 3.2 1.2 1.9 1 1.1 1 .3 1-.4 1-.9 1-4.1 3-4.1 2.3-5 2-4 1.1-5 .7-4 .1-4-.4-2-.4-2-.7-1.3-.7-1.4-1-.9-1-.5-1-.3-1 .1-1 .3-1 .5-1 1.5-1.8 3-2.2 4-1.8zM128.5 1379.5l3.8-.2 3 .1 3 .4 3.2 .7 2.8 1 1.8 1 1.1 1 .5 1-.1 1-.6 1-.9 1-1.1 1-2.7 1.8-4 2-4 1.4-5 1.1-4 .3-4-.2-4-.8-1.4-.6-1.7-1-1.1-1-.6-1-.3-1 0-1 .3-1 .8-1.4 1.5-1.6 1.4-1 3.1-1.6 5-1.7zM126 1380.5l3.3-.5 4-.1 3 .3 3 .6 2.2 .7 2.1 1 1.2 1 .6 1 0 1-.4 1-.7 1-2.4 2-3.5 2-4.1 1.6-4 .9-4 .5-4-.1-3-.5-3-1.1-1.8-1.3-.7-1-.3-1-.1-1 .3-1 1.3-2 2.6-2 3.7-1.7zM124.1 1381.5l3.2-.6 4-.4 3 .1 3 .5 3 .9 2 1.2 1.2 1.3 .1 1-.3 1-.6 1-2.3 2-3.1 1.8-3 1.2-3 .8-4 .6-4 0-2.7-.4-3.1-1-1.5-1-.9-1-.5-1 0-1 .2-1 .5-1 .9-1 2.1-1.6 2.8-1.4zM126.8 1381.5l3.5-.4 3 .1 2.5 .3 2.5 .7 2.6 1.3 .8 1 .3 1-.2 1-.5 1-2.3 2-2.7 1.5-4 1.5-3 .6-4 .3-3-.2-2.9-.7-2.1-1.1-1-.9-.5-1-.1-1 .2-1 .5-1 1.9-1.8 2-1.2 3-1.2zM124.7 1382.5l2.6-.5 3-.3 3 .1 3 .5 2.7 1.2 1.1 1 .4 1-.1 1-.5 1-.9 1-1.3 1-2.4 1.3-3 1.1-3 .6-3 .3-3-.1-2-.3-2.3-.9-1.4-1-.7-1-.1-1 .2-1 .5-1 .8-.8 1.5-1.2 2.5-1.2zM127.5 1382.5l2.8-.2 2 0 2 .3 2 .6 1 .4 1.2 .9 .6 1 0 1-.5 1-.9 1-1.4 1-2 1.1-2.7 .9-3.3 .6-3 .2-2-.2-2.5-.6-1.8-1-.9-1-.2-1 .1-1 .6-1 1.7-1.5 2-1.1 2-.7zM125.3 1383.5l3-.5 2-.1 2 .1 2 .3 1 .3 1.6 .9 .7 1 .1 1-.4 1-.9 1-1.5 1-2.6 1.2-3 .7-2 .3-4-.2-2.8-1-1.1-1-.4-1 .2-1 .6-1 1-1 1.7-1zM128.9 1383.5l3.4 .1 2 .6 1 .5 .8 .8 .3 1-.4 1-1 1-1.6 1-2.1 .8-4 .8-2 0-2-.3-1-.3-1.5-1-.6-1 .1-1 .7-1 1.2-1 3.1-1.4zM126.4 1384.5l2.9-.4 3 .3 1 .4 1.1 .7 .5 1-.4 1-1 1-2.2 1.1-2 .6-2 .3-3-.3-2-.8-.7-.9 0-1 .7-1 1.4-1zM125.8 1385.5l2.5-.5 2 0 2 .5 .9 1-.3 1-1.2 1-1.4 .6-2 .5-3 0-1-.4-1-.7-.1-1 .7-1zM126.3 1386.5l2-.4 1 0 1.3 .4 0 1-1.9 1-2.4 0-1-1zM348.3 1297.5l1-.6 1-.3 1 0 1 .2 1 .6 1 1 .8 1.1 1.3 3 1.3 5 .5 5 .2 6-.5 8-1 7-1 5-2 7-2.1 6-1.9 4-2.2 4-2.6 4-3.8 4.7-3 2.6-2 1.1-2 .2-3-.7-1 0-2 .6-3 1.9-7.3 5.6-2.3 2-1.5 2-.3 1 0 1 .6 3 .1 2-.7 2-1.3 2-2.1 2-3.2 2.2-3 1.6-4 1.6-7 2-6 1.1-8 .8-7 0-7-.8-5-1.1-5-1.8-2-1.1-2-1.5-1.7-2-.7-2 0-2 .7-2 1.4-2 2.1-2 2.2-1.5 4-2.2 4-1.6 4-1.2 5-1.2 6-.9 6-.5 4 0 12 .7 2-.2 1.7-.4 3.3-1.7 10-6.9 9.6-5.4 2.4-1.9 1.6-2.1 1.4-2.8 1-3 1.1-4.2 .9-6 .5-11 .7-7 1.1-6 1.2-5 1.9-6 2.2-5 2.4-4 1-1.2zM348.2 1303.5l1.1-.6 1-.1 1 .3 1 .6 1 1.2 .8 1.6 1 3 .8 5 .2 6-.3 6-1.1 7-1.1 5-1.8 6-3 7-2.6 5-2.9 4.3-3 3.5-2 1.5-1 .4-1 .3-1 0-1-.4-.8-.6-.4-1 .1-1 2.5-8 1.5-7 .4-4 .5-13 .6-5 .9-5 1.6-6 2.1-5.5 2-3.5 1-1.4zM317.7 1373.5l1.6-.5 .6 .5-.8 1-2.4 2-4.4 3.3-1 .9-1.1 1.8-.4 1-.3 2 .4 3 0 2-.2 1-1.1 2-1.8 2-2.8 2-2.7 1.5-5 1.9-4 1.2-4 .8-6 .7-7 .2-6-.4-3-.5-3-.7-4.5-1.7-3-2-1-1-1.1-2-.1-1 .2-2 1.1-2 .9-1 1.5-1.4 2.4-1.6 2.6-1.4 3-1.2 3-1 4-1 5-.9 4-.4 4-.2 4 0 11 1 4-.3 3-.8 2-1 2-1.2 3.2-2.6zM347.9 1307.5l1.4-.6 1 0 1 .6 1 1.1 .5 .9 1 3 .7 4 .2 5-.3 5-.7 5-1 5-1.2 4-1.9 5-1.9 4-2.4 4.2-3 4.3-2 2.1-1 .7-1 .2-.5-.5-.3-1 1.6-11 .2-4 .1-12 .4-4 .6-4 1.4-6 1.8-5 1-2 1.3-2 1.4-1.6zM275.5 1382.5l5.8-.8 7-.1 4 .3 12 1.5 1 .4 .7 .7 .5 1 .6 3 0 2-.2 1-1.1 2-.9 1-1.6 1.4-2 1.3-4 1.9-6 1.9-7 1.3-7 .3-7-.4-5-1-4.4-1.7-1.6-1-1.2-1-.8-1-.6-1-.2-1 .2-2 .4-1 1.2-1.6 1.5-1.4 2.5-1.6 2-1.1 5-1.9zM348.1 1310.5l1.2-.4 1.1 .4 1 1 .9 1.8 .4 1.2 .5 3 .3 4-.1 4-.5 4-1.4 7-1.2 3.6-1.4 3.4-1.6 3.1-2 3-2 2.1-1 .4-.6-.6-.4-1-.7-10-.1-7 .5-6 1.2-6 1.6-5 1.5-3 1-1.5 1-1zM284.2 1382.5l5.1 .1 4 .4 8 1.5 2.2 1 .9 1 .6 2 0 2-.2 1-1.1 2-.9 1-2.5 1.9-2 1.1-4 1.6-3 1-4 .8-6 .7-6 .1-6-.7-5-1.4-2.3-1.1-1.4-1-1-1-.6-1-.3-1-.1-1 .2-1 .5-1 1.6-2 3.4-2.4 4-1.7 5-1.5 5-1zM347.8 1313.5l.5-.3 1 0 1 .6 1 1.6 .4 1.1 .4 2 .3 3-.2 6-1.1 6-1.8 5.9-1 2.2-2 3.2-1 1-1 .4-1.1-.7-.7-2-.4-2-.6-6 .3-6 1-6 1.5-5 1-2.1 1-1.6 1-1zM280.2 1383.5l4.1-.3 5 .2 5 .7 5.9 1.4 1.8 1 .8 1 .6 2-.3 2-1.2 2-1 1-2.8 2-3.8 1.8-6 1.7-6 .8-6 .2-6-.7-4-1-1.8-.8-1.7-1-1.2-1-.7-1-.4-1-.1-1 .2-1 1.1-2 1.6-1.4 2-1.4 4-1.8 6-1.7zM347.3 1316.5l1-.5 1 .3 1 1.2 .6 2 .4 2 0 5-.7 5-1.3 4.6-1 2.4-1 1.7-1 1.2-1 .6-1-.4-1-2.1-.6-4 0-5 .6-4.8 1-3.9 1-2.5 1-1.7zM277.5 1384.5l4.8-.6 5 0 4 .4 5.6 1.2 2.7 1 1.3 1 .6 1 .3 1-.2 2-1.2 2-1 1-2.1 1.5-4 1.8-4 1.2-5 1-6 .3-5-.3-5-1-3.5-1.5-1.3-1-.9-1-.5-1-.1-1 .1-1 .5-1 1.8-2 1.4-1 2.5-1.4 4-1.4zM347.3 1319.5l1-.3 1 .8 .2 .5 .7 3-.1 4-.8 4.7-1 2.9-1 1.9-1 1-1 0-1-1.5-.4-2-.2-3 .2-3 .4-2.4 1-3.5 1-2zM283.5 1384.5l4.8 .1 4 .6 4.8 1.3 2.2 1.3 .6 .7 .5 1 0 1-.2 1-.5 1-1.8 2-3.2 2-3.4 1.3-5 1.3-5 .6-5 0-4-.5-4-1-1.6-.7-1.6-1-1-1-.5-1-.2-1 .1-1 .5-1 .8-1 1-1 2.5-1.5 3-1.3 4-1.2 4-.7zM347.1 1323.5l.2-.2 1 .4 .4 1.8 0 2-.4 2.9-.4 1.1-.6 1.4-1 .7-.8-1.1-.2-.6 0-3.4 1-3.9zM278.5 1385.5l3.8-.4 4-.1 4 .5 4 .9 2.8 1.1 1.3 1 .6 1 .1 1-.2 1-.4 1-.8 1-2.6 2-2.8 1.3-4 1.3-4 .7-5 .4-5-.3-4-.8-3-1.3-1.7-1.3-.6-1-.3-1 .1-1 .5-1 .8-1 1.1-1 3.1-1.7 4-1.4zM276 1386.5l4.3-.7 4-.3 4 .3 3 .5 3.9 1.2 1.6 1 .8 1 .3 1-.2 1-.4 1-.9 1-2.1 1.6-2.8 1.4-3.2 1-4 .8-4 .3-4 0-4-.6-3-1-2.3-1.5-.7-1-.3-1 .1-1 .4-1 .9-1 1.9-1.5 3-1.4zM278.6 1386.5l3.7-.4 3 0 3 .2 3 .6 2 .6 2 1.1 .9 .9 .4 1-.1 1-.4 1-.8 .9-1.3 1.1-2.7 1.4-4 1.3-4 .7-4 .3-4-.3-3-.6-3-1.2-.9-.6-.8-1-.4-1 .1-1 .4-1 1.6-1.6 2.4-1.4 3.6-1.3zM276.2 1387.5l3.1-.6 4-.4 3 .1 3 .4 2 .5 2.3 1 1.2 1 .6 1 0 1-.5 1-.6 .7-1.6 1.3-2.4 1.2-3 1-3 .6-4 .4-3-.1-3-.4-2.5-.7-1.9-1-1.1-1-.4-1 0-1 .5-1 .9-1 1.4-1 2.1-1zM278.6 1387.5l2.7-.4 3-.1 3 .3 2 .3 2.6 .9 1.5 1 .7 1 .1 1-.5 1-.9 1-1.4 1-2.1 1-3 .9-3 .5-3 .3-3-.1-3.4-.6-2.5-1-1.3-1-.5-1 0-1 .5-1 .9-1 2.3-1.4 2-.8zM276.5 1388.5l2.8-.6 3-.3 3 0 2 .2 2.7 .7 1.9 1 .9 1 .2 1-.5 1-.9 1-1.5 1-2.8 1.1-5 1-3 .1-3-.3-3-.8-1.8-1.1-.7-1 0-1 .4-1 1-1 1.7-1zM278.8 1388.5l4.5-.5 2 .1 2.4 .4 2.6 1 1.1 1 .3 1-.4 1-1 1-1.7 1-2.9 1-2.4 .4-3 .3-3-.2-2-.4-2.4-1.1-.8-1-.1-1 .4-1 1.1-1 1.8-1zM277.2 1389.5l4.1-.8 4 0 3.2 .8 1.5 1 .4 1-.4 1-1.1 1-2.6 1.2-4 .8-4.2 0-1.8-.4-1.7-.6-1.1-1-.2-1 .4-1 1.3-1zM279.6 1389.5l3.7-.3 2.7 .3 2.3 1 .6 1-.4 1-1.2 1-2.5 1-3.5 .5-2 0-2-.3-1-.4-1.3-.8-.3-1 .5-1 1.4-1zM278.7 1390.5l2.6-.5 3 0 1.8 .5 1 1-.3 1-1.5 1-3 .7-3 0-2.3-.7-.7-1 .6-1zM279.3 1391.5l2-.5 1-.1 1 .1 1.3 .5-.1 1-1.2 .5-2 .3-1-.1-1.6-.7zM512.5 1284.5l1-.6 2-.4 2 .4 1 .6 1 1 1.5 2 1 2 1 3 .8 3 .9 6 .4 7-.1 7-.8 10-1 7-2.2 11-1.8 8-2.2 6-1.9 4-2.8 5-3.8 5.2-3 3.2-2 1.7-2 1.2-3 1.2-6 1.4-2 .9-1.8 1.2-1.3 1-1.8 2-3.1 5-1.6 2-2.2 2-2.2 1.6-3 1.7-3 1.5-7 2.6-8 2-6 1-6 .5-7 .1-6-.3-6-1.1-4.5-1.6-1.8-1-1.4-1-1-1-1.1-2-.1-1 .2-2 1.1-2 .8-1 2.1-2 2.7-1.9 3-1.7 4-1.7 7-2.4 8-1.8 13-1.9 2.6-.6 2.4-1 3-2 10-8.3 4-2.9 8.8-5.8 2.2-2 1-1.4 1-2 1-3.1 1-4.4 1-5.4 2.3-16.7 1.1-6 1.1-5 1.9-7 3-8 2.5-5 3.1-4.4 2-1.9zM512.4 1290.5l1.1-.5 1-.2 1 .1 1 .3 1 .7 1 1 1 1.6 1 2.2 1.3 4.8 .8 6 .3 6-.2 6-.6 7-1 7-2.1 10-2.1 8-1.7 5-2.2 5-3 5-2.3 3-3.2 3.3-3 2.1-2 .9-7 2.2-2.9 1.5-3 2-2.6 2-2 2-1.5 2-2.4 4-2.8 3-1.8 1.4-3 1.9-3 1.4-4 1.6-7 2-6 1.1-5 .5-6 .2-6-.3-4-.6-3-.8-2-.8-2.8-1.6-1.1-1-.6-1-.4-1 0-2 .4-1 1.4-2 2.1-1.9 2-1.4 2-1.1 4-1.8 7-2.3 6-1.3 14-1.9 2-.4 2.4-.9 3.2-2 6.8-6 4.6-3.6 4-2.8 6-3.7 2-1.6 1.4-1.3 .8-1 1.1-2 .7-1.6 1-3.4 2-9.9 2.7-19.1 1.5-7 1.4-5 2.1-6 2.9-6 2.4-3.5 2-1.9zM511.9 1294.5l1.6-.7 1-.1 1 .2 1 .5 1 1 .7 1.1 1.3 2.7 1.1 4.3 .7 5 .2 6-.2 6-.6 6-1.5 9-2.1 9-2 7-1.4 4-1.9 4-1.7 3-2.8 4-2.8 2.9-3 2.1-2 1-5 1.6-3 1.3-3.5 2.1-4.4 3-2.5 2-2 2-3 5-2.4 3-2.2 1.8-1.8 1.2-5.2 2.6-5 1.7-6 1.4-6 .9-6 .3-6-.2-5-.8-4-1.4-2.4-1.5-.9-1-.5-1-.2-1 .1-1 .3-1 1.3-2 1.1-1 3.2-2.3 5-2.3 7-2.2 8-1.5 11-1.2 2.3-.5 2.8-1 3.2-2 5.7-5.3 4-3.3 4-2.9 7.2-4.5 2.8-2.3 1.3-1.7 1.1-2 .8-2 .9-3 1.9-9.3 2.4-16.7 .8-5 1.1-5 1.4-5 1.8-5 2.5-5 2-2.9 1-1zM511.5 1297.5l1-.6 1-.3 1 0 1 .4 1 .8 1 1.3 1.1 2.4 1.1 4 .6 4 .2 6-.2 6-.7 6-1.4 8-2.2 9-1.7 6-1.4 4-1.8 4-2.3 4-2.3 3-2 2.1-3 2.2-2 .9-5.5 1.8-2.5 1.1-11.9 7.9-2.1 1.9-.9 1.1-2.6 5-1.4 2-1 1-2.1 1.7-2 1.3-5 2.3-6 1.9-5 1-5 .6-5 .2-5-.2-4-.6-3.7-1.2-2.3-1.4-.7-.6-.7-1-.3-1 0-1 .2-1 1.4-2 1-1 3-2 5.1-2.3 3-1 4-1.1 6-1 13-1.4 3-.7 2-.8 1.3-.7 1.7-1.3 5.8-5.7 3.2-2.7 4-2.8 7-4.3 1.5-1.2 1.5-1.5 1-1.3 1.2-2.2 .8-2 1-3.5 2-10 2.6-18.5 1-5 1.6-6 1.4-4 2.3-5 2.1-3.1zM512 1299.5l1.5-.5 1 .2 1 .5 1.5 1.8 1.2 3 .9 4 .4 4 .1 5-.3 6-.9 7-1.2 6-1.2 5-2.1 7-1.7 5-1.7 4-1.6 3-2.4 3.4-2 2.1-3 2.2-2 1-6 1.7-2 1-7 4.6-8 5-1.1 1-.7 1-1.9 5-1.1 2-.8 1-1.4 1.4-2.2 1.6-4.8 2.5-5 1.7-5 1.2-6 .7-4 .2-5-.2-4-.7-3-.9-2.5-1.5-.9-1-.4-1-.1-1 .2-1 1.3-2 1.1-1 3.1-2 5.2-2.2 6-1.6 6-1 13-1.2 3-.5 3-1 2-1.1 1-.8 4.9-5.6 3.4-3 3.7-2.5 6-3.5 2-1.5 1-1 1.8-2.5 1.2-2.4 1-2.7 1-3.8 2-10.7 2.4-17.4 1.1-5 1.3-5 1.9-5 2-4 2.3-2.9zM512.1 1301.5l1.4-.3 1 .2 1 .8 1 1.3 .9 2 .8 3 .4 3 .3 4 0 4-.9 9-1.8 9-3.1 11-1.4 4-1.7 4-1.6 3-1.9 2.8-2 2.3-2 1.6-3 1.5-7 1.4-2 1-4.5 3.4-3.5 2.3-3 1.3-1 .3-1-.1-.4-.8 .4-1 .6-1 1.9-2 2.5-2 1.6-1 5.4-2.7 2-1.5 2-2.3 2-3.5 1.5-4 1.5-5.9 2-11.6 1.8-13.5 .7-4 1.2-5 1.7-5 1.8-4 1.8-2.8 1-1.1zM460.7 1383.5l6.8-.5 2 .1 1.2 .4 .7 1 .1 2-.4 2-.4 1-1.3 2-1 1-2.9 2.2-2 1-3 1.3-5 1.6-5 .9-5 .6-5 0-4-.4-4-1-2.5-1.2-1-1-.6-1-.2-1 .2-1 .5-1 .8-1 2.8-2.2 2-1 3-1.3 4-1.2 5-1.1 6-.7zM511.8 1303.5l.7-.3 1 0 1 .4 1 .9 1 1.8 .4 1.2 .6 2.2 .4 2.8 .3 5-.2 6-1 7-1.2 6-1.9 7-2.3 7-2 5-2.2 4-2.2 3-2.7 2.3-1 .6-2 .8-2 .2-1-.2-1.2-.7-.2-1 .4-2 2.4-7 1.1-5 1.8-10 2.1-16 1.2-6 1.5-5 1.9-4.7 2-3.3 1-1.1zM453.5 1384.5l7-.3 5 .1 2 .3 1.5 .9 .6 1 .1 1-.1 1-.8 2-1.7 2-1.3 1-3.4 2-3.9 1.6-5 1.3-5 .9-5 .3-5-.3-4-.8-2.5-1-1.3-1-.8-1-.2-1 .1-1 .5-1 .8-1 2.4-1.8 2.1-1.2 3.9-1.5 4-1.1 5-.9zM511.3 1305.5l1.2-.5 1 .1 1 .5 1 1.3 .7 1.6 1 4 .4 5-.2 5-.5 5-1 6-1.8 7-2.2 7-2.3 6-1.9 4-2.2 3.2-2 2-1 .7-2 .9-1 .2-1-.2-1-.8-.2-1 .1-1 1.8-8 .9-5 1.5-9 1.6-13 1.1-6 1.3-5 1.9-4.9 2-3.4 1-1.1zM448.5 1385.5l4-.4 4-.2 5 0 3 .3 2 .7 .9 .6 .6 1 .1 1-.2 1-1.2 2-2.2 2-3 1.7-4 1.6-5 1.3-5 .8-5 .1-4-.3-4-1-2.2-1.2-.9-1-.3-1 .1-1 .4-1 .8-1 1.2-1 1.5-1 2.4-1.2 5-1.6zM510.9 1307.5l.6-.5 1-.3 1 .2 1 .8 1 1.7 .9 3.1 .5 4 0 5-.4 5-.8 5-1.1 5-1.7 6-2.4 6.9-2 4.8-2 3.6-2 2.5-2 1.6-1 .4-1 .1-1-.5-.3-.4-.2-2 2.7-17 2.6-19 1.2-5.3 1.5-4.7 1.5-3.1 1-1.5zM454.4 1385.5l4.5 0 3.6 .3 2.4 .7 1.3 1 .4 1 0 1-.4 1-.7 1-2.2 2-3.8 2-4 1.4-4 .9-5 .6-4 .1-4-.4-3-.8-2-1.2-.6-.6-.5-1 0-1 .5-1 .8-1 1.8-1.4 3.1-1.6 3.9-1.3 4-.9 4-.6zM512.2 1308.5l1.3 .3 1 1 1 2.4 .6 3.3 .2 4-.1 4-.4 4-.9 5-1.2 5-1.2 4.2-2 5.7-2 4.9-2 3.7-2 2.6-1 .9-1 .5-1 .1-.6-.6-.4-1 0-2 3.6-28 1-6 1.4-5.6 2-4.8 1-1.6 1-1.1 1-.7zM448.2 1386.5l3.3-.4 4-.1 3 .1 3 .3 2 .7 .8 .4 .8 1 .1 1-.3 1-.6 1-1.8 1.7-2.2 1.3-3.8 1.6-4 1-5 .8-4 .1-4-.3-3-.8-1-.5-1.2-.9-.6-1 0-1 .4-1 .8-1 1.2-1 3.4-1.8 4-1.3zM511.2 1310.5l.3-.2 1-.1 1 .5 1 1.5 .9 3.3 .3 3 0 4-.3 4-.6 4-1.1 5-1.2 4.2-2 5.8-2 4.8-2 3.8-1 1.4-1 1.1-1 .6-1-.1-.5-1.6 .1-5 2.3-20 .8-6 1.2-5 1.3-4 1.8-3.4 1-1.1zM454.2 1386.5l3.3 .1 3 .4 1.6 .5 1.4 1.1 .4 .9-.2 1-.6 1-.9 1-1.4 1-3.3 1.7-3 1-4 .8-4 .5-3 0-3-.3-3-.7-1.7-1-.8-1-.1-1 .3-1 .8-1 1.5-1.1 3-1.5 3-1 3-.7 4-.5zM510.6 1312.5l.9-.5 1 0 1 .8 1 2.3 .4 2.4 .2 3-.1 4-.4 4-.8 4-1 4-2.3 7-3 6.6-2 2.9-1 .7-1-.7-.2-1.5 0-3 1.2-14.1 .9-7.9 1-5 1.1-3.6 1.6-3.4zM447.6 1387.5l5.9-.5 3 .1 2.9 .4 2.3 1 .7 1 0 1-.5 1-.9 1-1.4 1-2.1 1.1-3 1.1-3.5 .8-3.5 .5-4 0-3-.3-3-1.1-1-.9-.4-1.2 .3-1 .8-1 1.3-1 2-1 3-1.1zM510.3 1314.5l1.2-.8 1 .2 1 1.3 .4 1.3 .4 2 .2 3-.4 6-.6 3.7-1 4.2-2 6-2 4.5-1 1.8-1 1.3-1 .7-.8-1.2-.3-3 .4-7 .9-10 .8-4.7 1-3.8 1-2.7 1-1.8zM452.9 1387.5l2.6 .1 3 .5 1.3 .4 1.2 1 .1 1-.4 1-.9 1-1.3 .9-2 1-3 1.1-2 .4-3 .5-3 .2-3-.2-2-.4-1.5-.5-1.3-1-.4-1 .3-1 .9-1.1 1.3-.9 1.7-.8 2-.8 3-.7 3-.5zM510.2 1316.5l.3-.4 1-.4 1 .4 1 2.4 .4 4-.4 5-1 5.4-2 6.3-2 4.3-1 1.4-1 .6-.6-1-.3-1-.1-2 .2-6 .6-7 .7-4 .8-3 .7-2.2 1-2zM447.3 1388.5l5.2-.5 4 .3 1 .3 1.8 .9 .5 1-.4 1-.9 1-2 1.3-3 1.1-3 .7-3 .4-3 0-2-.2-1.4-.3-1.9-1-.6-1 .2-1 .8-1 1.9-1.2 2-.8zM510.2 1318.5l.3-.3 1-.3 .6 .6 .5 1 .4 2 .1 2-.3 4-1 5-1.3 4.3-1 2.2-1 1.6-1 .6-.5-.7-.3-1-.2-2 .1-4 .4-5 .5-3.1 1-3.8 1-2.2zM445.2 1389.5l4.3-.8 4-.1 2 .3 1.9 .6 .9 1-.2 1-.9 1-1.6 1-2.1 .8-2 .6-3 .5-4 .1-2-.4-1.6-.6-.9-1 .1-1 .9-1 1.5-1zM509.9 1321.5l.6-.8 1 .3 .6 2.5 0 3-.6 3.9-1 3.4-1 2-1 .9-.6-1.2-.2-1-.1-2 .2-3 .7-4.7 1-2.8zM447.7 1389.5l3.8-.3 3.3 .3 1.8 1 0 1-.9 1-1.7 1-3.2 1-4.3 .4-3-.3-1-.4-.9-.7-.1-1 .9-1 1.8-1zM510.1 1326.5l.4-.5 0 2.1-1 2.1-.1-1.7 .1-1.4zM446.3 1390.5l3.2-.6 3 .1 1.8 .5 .5 1-.8 1-2.5 1.1-3 .6-3-.1-1.9-.6-.3-1 .8-1zM446.6 1391.5l2.9-.6 2 .2 .8 .4-.8 1-2 .6-2 .1-1-.2-.8-.5zM610.9 1369.5l3.5-.4 3-.1 3 .1 4 .6 5 1.5 2 .8 3 1.8 2.1 1.7 1.8 2 1.3 2 .8 2 .5 2 .2 2-.2 2-.8 3-1 2-2 3-1.8 2-1.9 1.7-2 1.5-3 1.8-3 1.5-3 1.2-3 .9-4 .8-3 .3-4 .1-3-.1-3-.5-3-.7-3-1-3-1.6-3-2.1-2-2.1-1.8-2.7-.7-2-.5-3 .1-3 .9-3 1.6-3 1.5-2 2.9-2.9 3-2.3 4-2.3 3-1.3 5-1.5zM613.6 1373.5l4.8 0 3 .5 2 .5 4 1.6 2 1.2 1.4 1.2 1 1 1.4 2 .8 2 .4 2-.1 2-.4 2-1.3 3-2.3 3-1.9 1.7-2 1.5-2 1.2-3 1.4-5 1.5-3 .5-3 .2-5-.2-4-1-4-1.7-2-1.4-1.7-1.7-1.4-2-.9-2-.4-2 0-2 .8-3 .9-2 1.4-2 2.3-2.3 3-2.3 2-1.1 5-2 4-1zM608.2 1376.5l2.2-.5 3-.3 5 .1 2 .4 3 .9 2 1 2 1.4 1.1 1 1.5 2 .8 2 .3 2-.1 2-.6 2-1.1 2-1.5 2-2.4 2.2-2 1.3-2 1.1-2 .8-3 1-4 .6-4 .1-4-.5-4-1.5-2-1.1-1.2-1-1-1-1.4-2-.8-2-.2-1 .2-3 1.1-3 2.2-3 3.1-2.6 4-2.1zM610.2 1377.5l2.2-.3 3-.1 2 .2 3 .6 2 .7 2 1.1 2 1.6 1.1 1.2 .6 1 .7 2 .2 2-.4 2-.8 2-1.4 2-2 2-2 1.4-4 2-3 .9-4 .5-4-.1-3-.6-3-1.1-1.6-1-1.3-1-1.6-2-.9-2-.2-1-.1-2 .2-1 .7-2 1.2-2 2.6-2.7 3-2 4-1.6zM610.8 1378.5l3.6-.3 3 .2 3 .8 3 1.5 2.1 1.8 1.3 2 .5 2-.1 2-.2 1-.8 2-.7 1-1.8 2-2.3 1.7-3 1.6-3 .9-3 .5-4 .1-3-.5-2-.7-2-1-2-1.6-.8-1-.7-1-.6-2-.2-1 .2-2 .7-2 1.4-2 1-1.1 2-1.7 2-1.1 2-.9 2-.7zM610.2 1379.5l4.2-.4 4 .5 2 .7 2 1.1 1.4 1.1 .9 1 .6 1 .6 2 .1 1-.3 2-.9 2-.7 1-.8 1-1.9 1.6-3 1.7-3 1.1-3 .5-3 .1-3-.4-3-1.1-2-1.2-1.4-1.3-1.2-2-.4-2 .1-2 .4-1 1-2 1.8-2 2.7-1.9 3-1.4zM609.3 1380.5l2.1-.4 2-.2 2 .1 2 .3 2 .6 1.3 .6 1.5 1 1.1 1 1.2 2 .3 1 0 2-.6 2-.5 1-1.7 2-1.6 1.3-3 1.6-3 .9-3 .4-3-.1-3-.6-2-.9-2-1.6-1.4-2-.5-2 .1-2 .8-2 1.6-2 2.4-1.9 3-1.5zM608.3 1381.5l3.1-.7 4-.1 3 .7 2.3 1.1 1.2 1 .9 1 .9 2 .1 2-.6 2-.6 1-1.8 2-2.4 1.6-2 .9-3 .8-3 .3-2-.2-3-.8-2-1-1.7-1.6-1.1-2-.2-2 .5-2 1.3-2 1.2-1.3 2-1.4zM611.1 1381.5l2.3-.2 3 .3 2 .6 2 1.1 1.3 1.2 1 2 .2 1-.3 2-1 2-1.2 1.4-2 1.5-2 .9-2 .7-2 .3-3 .1-2-.3-1.7-.6-1.3-.7-1.6-1.3-.8-1-.4-1-.2-1 .1-2 .9-2 2-2.2 3-1.8 2-.7zM609.3 1382.5l2.1-.5 3-.1 3 .7 2 .9 1.1 1 .8 1 .7 2-.2 2-1.1 2-1.3 1.3-2 1.4-2 .9-3 .6-2 .1-2-.2-2-.5-2-1.2-1.4-1.4-.8-2 0-1 .5-2 1.4-2 1.2-1 2.1-1.3zM608.3 1383.5l2.1-.7 3-.3 3 .4 2 .9 1 .7 .9 1 .6 1 .2 2-.6 2-1.1 1.4-2 1.6-2 .9-2 .6-2 .2-2 0-2-.5-2-.9-1.4-1.3-.6-1-.3-1 .1-2 1-2 .9-1 1.3-1zM610.1 1383.5l2.3-.4 2 .1 2 .4 2 1 1 1 .5 .9 .4 1 0 1-.2 1-.5 1-.7 1-1.1 1-1.7 1-1.7 .7-2 .4-2 .1-2-.3-2-.8-1-.7-1.1-1.4-.4-1-.1-1 .6-2 .7-1 1.3-1.3 2-1.1zM609 1384.5l2.4-.7 2-.1 2 .3 2 .8 1 .9 .6 .8 .4 1 0 1.2-.7 1.8-.8 1-1.2 1-1.3 .7-2 .6-2 .3-2-.1-1.6-.5-1.4-.7-1.2-1.3-.4-1-.2-1 .2-1 .4-1 .8-1 1.4-1.2zM611 1384.5l2.4-.2 2 .4 1.7 .8 .9 1 .5 1 .1 1-.2 .9-.6 1.1-.9 1-1.4 1-1.1 .4-3 .6-2-.2-1-.3-1.1-.5-1.1-1-.6-1-.1-1 .1-1 .5-1 .8-1 1.4-1zM609.8 1385.5l1.6-.5 2 0 2 .4 1 .6 1 1.2 .3 1.3-.2 1-.6 1-1.5 1.3-1.6 .7-1.4 .3-2 0-1-.1-1-.4-1-.7-.8-1.1-.3-1 .2-1 .5-1 1-1zM609.3 1386.5l2.1-.8 2 0 1 .2 1.3 .6 .8 1 .2 1-.2 1-1.1 1.4-.9 .6-1.1 .4-2 .3-2-.3-1-.6-.8-.8-.3-1 .2-1 .6-1zM611.4 1386.5l2.1 0 .9 .4 .8 .6 .4 1-.2 .9-.9 1.1-1.1 .6-2 .3-1-.1-1.4-.8-.6-1 .2-1 .8-1.1zM612.2 1387.5l1.2 .3 .6 .7-.3 1-1.3 .7-1 .1-1-.5-.3-.3 .1-1 1.2-.8z" fill="none" stroke="#4a4a4a" stroke-width="0.62"/>
<ellipse cx="344.3" cy="1005.2" rx="5" ry="13" fill="#fff" stroke="#555" stroke-width="0.6" transform="rotate(10 344.3 1005.2)"/>
<ellipse cx="509.9" cy="998.2" rx="5" ry="10.5" fill="#fff" stroke="#555" stroke-width="0.6" transform="rotate(5 509.9 998.2)"/>
<ellipse cx="343.3" cy="1169.3" rx="8" ry="19.5" fill="#fff" stroke="#555" stroke-width="0.6" transform="rotate(10 343.3 1169.3)"/>
<ellipse cx="508.5" cy="1166.3" rx="7" ry="21" fill="#fff" stroke="#555" stroke-width="0.6" transform="rotate(10 508.5 1166.3)"/>
<ellipse cx="510.5" cy="1158.3" rx="2" ry="4" fill="#fff" stroke="#555" stroke-width="0.6" transform="rotate(10 510.5 1158.3)"/>
<ellipse cx="675.1" cy="1322.5" rx="8" ry="10" fill="#fff" stroke="#555" stroke-width="0.6" transform="rotate(10 675.1 1322.5)"/>
<ellipse cx="675.1" cy="1322.5" rx="4.5" ry="6" fill="#fff" stroke="#555" stroke-width="0.6" transform="rotate(10 675.1 1322.5)"/>
<ellipse cx="669.4" cy="1345.5" rx="3.5" ry="5" fill="#fff" stroke="#555" stroke-width="0.6" transform="rotate(10 669.4 1345.5)"/>
<rect x="170.05" y="938.05" width="57.9" height="134.9" fill="none" stroke="#000" stroke-width="2.5"/>
<text x="198" y="952.2" font-size="11.65" font-weight="bold" text-anchor="middle" textLength="21.8" lengthAdjust="spacingAndGlyphs">0.97</text>
<rect x="329.35" y="936.55" width="64.6" height="135.5" fill="none" stroke="#000" stroke-width="2.5"/>
<text x="361" y="952.2" font-size="11.65" font-weight="bold" text-anchor="middle" textLength="21.8" lengthAdjust="spacingAndGlyphs">7.70</text>
<rect x="495.95" y="936.55" width="60.2" height="135.5" fill="none" stroke="#000" stroke-width="2.5"/>
<text x="525.7" y="952.2" font-size="11.65" font-weight="bold" text-anchor="middle" textLength="21.8" lengthAdjust="spacingAndGlyphs">7.00</text>
<rect x="652.35" y="937.05" width="71.9" height="135.3" fill="none" stroke="#000" stroke-width="2.5"/>
<text x="687.7" y="952.2" font-size="11.65" font-weight="bold" text-anchor="middle" textLength="21.8" lengthAdjust="spacingAndGlyphs">5.21</text>
<rect x="170.05" y="1104.15" width="57.9" height="134.9" fill="none" stroke="#000" stroke-width="2.5"/>
<text x="198" y="1118.3" font-size="11.65" font-weight="bold" text-anchor="middle" textLength="21.8" lengthAdjust="spacingAndGlyphs">1.18</text>
<rect x="329.35" y="1102.65" width="64.6" height="135.5" fill="none" stroke="#000" stroke-width="2.5"/>
<text x="361" y="1118.3" font-size="11.65" font-weight="bold" text-anchor="middle" textLength="21.8" lengthAdjust="spacingAndGlyphs">9.02</text>
<rect x="495.95" y="1102.65" width="60.2" height="135.5" fill="none" stroke="#000" stroke-width="2.5"/>
<text x="525.7" y="1118.3" font-size="11.65" font-weight="bold" text-anchor="middle" textLength="21.8" lengthAdjust="spacingAndGlyphs">9.30</text>
<rect x="652.35" y="1103.15" width="71.9" height="135.3" fill="none" stroke="#000" stroke-width="2.5"/>
<text x="687.7" y="1118.3" font-size="11.65" font-weight="bold" text-anchor="middle" textLength="21.8" lengthAdjust="spacingAndGlyphs">2.99</text>
<rect x="170.05" y="1270.35" width="57.9" height="134.9" fill="none" stroke="#000" stroke-width="2.5"/>
<text x="198" y="1284.5" font-size="11.65" font-weight="bold" text-anchor="middle" textLength="21.8" lengthAdjust="spacingAndGlyphs">10.7</text>
<rect x="329.35" y="1268.85" width="64.6" height="135.5" fill="none" stroke="#000" stroke-width="2.5"/>
<text x="361" y="1284.5" font-size="11.65" font-weight="bold" text-anchor="middle" textLength="21.8" lengthAdjust="spacingAndGlyphs">19.1</text>
<rect x="495.95" y="1268.85" width="60.2" height="135.5" fill="none" stroke="#000" stroke-width="2.5"/>
<text x="525.7" y="1284.5" font-size="11.65" font-weight="bold" text-anchor="middle" textLength="21.8" lengthAdjust="spacingAndGlyphs">47.0</text>
<rect x="652.35" y="1269.35" width="71.9" height="135.3" fill="none" stroke="#000" stroke-width="2.5"/>
<text x="687.7" y="1284.5" font-size="11.65" font-weight="bold" text-anchor="middle" textLength="21.8" lengthAdjust="spacingAndGlyphs">9.38</text>
<path d="M70.6 1007.2 V1428.2 H672" fill="none" stroke="#000" stroke-width="2.3"/>
<polygon points="70.6,1000.2 67.2,1008.2 74,1008.2" fill="#000"/>
<polygon points="678.5,1428.2 671,1424.8 671,1431.6" fill="#000"/>
<text x="61.8" y="1422.4" font-size="23.82" font-weight="bold" transform="rotate(-90 61.8 1422.4)" textLength="43" lengthAdjust="spacingAndGlyphs">SSC</text>
<text x="78.3" y="1454.2" font-size="22.88" font-weight="bold" textLength="76.99" lengthAdjust="spacingAndGlyphs">DCFDA</text>
<text x="802.1" y="316.4" font-size="56.16" font-weight="bold" textLength="39" lengthAdjust="spacingAndGlyphs">C</text>
<path d="M905.2 345.15 L905.2 553.45" fill="none" stroke="#000" stroke-width="2.9" />
<path d="M903.75 552 L1008.3 552" fill="none" stroke="#000" stroke-width="2.9" />
<path d="M898.2 552 L905.2 552" fill="none" stroke="#000" stroke-width="2.9" />
<text x="897.2" y="560.85" font-size="24.6" font-weight="bold" text-anchor="end" textLength="11.83" lengthAdjust="spacingAndGlyphs">0</text>
<path d="M898.2 510.92 L905.2 510.92" fill="none" stroke="#000" stroke-width="2.9" />
<text x="897.2" y="519.77" font-size="24.6" font-weight="bold" text-anchor="end" textLength="23.67" lengthAdjust="spacingAndGlyphs">20</text>
<path d="M898.2 469.84 L905.2 469.84" fill="none" stroke="#000" stroke-width="2.9" />
<text x="897.2" y="478.69" font-size="24.6" font-weight="bold" text-anchor="end" textLength="23.67" lengthAdjust="spacingAndGlyphs">40</text>
<path d="M898.2 428.76 L905.2 428.76" fill="none" stroke="#000" stroke-width="2.9" />
<text x="897.2" y="437.61" font-size="24.6" font-weight="bold" text-anchor="end" textLength="23.67" lengthAdjust="spacingAndGlyphs">60</text>
<path d="M898.2 387.68 L905.2 387.68" fill="none" stroke="#000" stroke-width="2.9" />
<text x="897.2" y="396.53" font-size="24.6" font-weight="bold" text-anchor="end" textLength="23.67" lengthAdjust="spacingAndGlyphs">80</text>
<path d="M898.2 346.6 L905.2 346.6" fill="none" stroke="#000" stroke-width="2.9" />
<text x="897.2" y="355.45" font-size="24.6" font-weight="bold" text-anchor="end" textLength="35.5" lengthAdjust="spacingAndGlyphs">100</text>
<path d="M922.1 537.3 L922.1 535.9" fill="none" stroke="#000" stroke-width="2.6" />
<path d="M915.85 535.9 L928.35 535.9" fill="none" stroke="#000" stroke-width="2.6" stroke-linecap="round"/>
<rect x="910.8" y="537.5" width="22.6" height="14.5" fill="#000" stroke="#000" stroke-width="2.4"/>
<path d="M955.85 542.1 L955.85 541.6" fill="none" stroke="#000" stroke-width="2.6" />
<path d="M949.57 541.6 L962.12 541.6" fill="none" stroke="#000" stroke-width="2.6" stroke-linecap="round"/>
<rect x="944.5" y="542.3" width="22.7" height="9.7" fill="#0000cc" stroke="#000" stroke-width="2.4"/>
<path d="M991.05 377.6 L991.05 376.1" fill="none" stroke="#000" stroke-width="2.6" />
<path d="M985.27 376.1 L996.82 376.1" fill="none" stroke="#000" stroke-width="2.6" stroke-linecap="round"/>
<rect x="980.7" y="377.8" width="20.7" height="174.2" fill="#ff0000" stroke="#000" stroke-width="2.4"/>
<path d="M953.8 461.2 L953.8 353.8 L990.4 353.8" fill="none" stroke="#000" stroke-width="2.4" stroke-linecap="round" stroke-linejoin="miter"/>
<text x="973.4" y="347.9" font-size="16.64" font-weight="bold" text-anchor="middle" textLength="26.7" lengthAdjust="spacingAndGlyphs">###</text>
<text x="989.7" y="377" font-size="21.84" font-weight="bold" text-anchor="middle" textLength="27" lengthAdjust="spacingAndGlyphs">***</text>
<rect x="1023" y="476.3" width="20.4" height="20.1" fill="#000" stroke="#000" stroke-width="2.4" rx=".8"/>
<text x="1056.2" y="496.05" font-size="26.73" textLength="37.41" lengthAdjust="spacingAndGlyphs">Ctrl</text>
<rect x="1023" y="503.8" width="20.4" height="19.8" fill="#0000cc" stroke="#000" stroke-width="2.4" rx=".8"/>
<text x="1056.2" y="523.4" font-size="26.73" textLength="49.47" lengthAdjust="spacingAndGlyphs">Chol</text>
<rect x="1023" y="530.8" width="20.4" height="19.4" fill="#ff0000" stroke="#000" stroke-width="2.4" rx=".8"/>
<text x="1056.2" y="550.2" font-size="26.73" textLength="61.5" lengthAdjust="spacingAndGlyphs">27HC</text>
<text x="957" y="582" font-size="27.56" font-weight="bold" text-anchor="middle" textLength="31.82" lengthAdjust="spacingAndGlyphs">LK</text>
<text x="844.5" y="538.7" font-size="27.3" font-weight="bold" transform="rotate(-90 844.5 538.7)" textLength="124" lengthAdjust="spacingAndGlyphs">Annexin V</text>
<text x="832.3" y="406.4" font-size="18.51" font-weight="bold" transform="rotate(-90 832.3 406.4)" textLength="10.39" lengthAdjust="spacingAndGlyphs">+</text>
<text x="844.6" y="388" font-size="27.04" transform="rotate(-90 844.6 388)" textLength="36.3" lengthAdjust="spacingAndGlyphs">(%)</text>
<path d="M1226 345.55 L1226 552.95" fill="none" stroke="#000" stroke-width="2.9" />
<path d="M1224.55 551.5 L1333.1 551.5" fill="none" stroke="#000" stroke-width="2.9" />
<path d="M1219 551.5 L1226 551.5" fill="none" stroke="#000" stroke-width="2.9" />
<text x="1218" y="560.35" font-size="24.6" font-weight="bold" text-anchor="end" textLength="11.83" lengthAdjust="spacingAndGlyphs">0</text>
<path d="M1219 483.34 L1226 483.34" fill="none" stroke="#000" stroke-width="2.9" />
<text x="1218" y="492.19" font-size="24.6" font-weight="bold" text-anchor="end" textLength="23.67" lengthAdjust="spacingAndGlyphs">20</text>
<path d="M1219 415.18 L1226 415.18" fill="none" stroke="#000" stroke-width="2.9" />
<text x="1218" y="424.03" font-size="24.6" font-weight="bold" text-anchor="end" textLength="23.67" lengthAdjust="spacingAndGlyphs">40</text>
<path d="M1219 347.02 L1226 347.02" fill="none" stroke="#000" stroke-width="2.9" />
<text x="1218" y="355.87" font-size="24.6" font-weight="bold" text-anchor="end" textLength="23.67" lengthAdjust="spacingAndGlyphs">60</text>
<path d="M1243.55 503.3 L1243.55 497.8" fill="none" stroke="#000" stroke-width="2.6" />
<path d="M1237.23 497.8 L1249.88 497.8" fill="none" stroke="#000" stroke-width="2.6" stroke-linecap="round"/>
<rect x="1232.1" y="503.5" width="22.9" height="48" fill="#000" stroke="#000" stroke-width="2.4"/>
<path d="M1279.1 502.6 L1279.1 500.8" fill="none" stroke="#000" stroke-width="2.6" />
<path d="M1272.85 500.8 L1285.35 500.8" fill="none" stroke="#000" stroke-width="2.6" stroke-linecap="round"/>
<rect x="1267.8" y="502.8" width="22.6" height="48.7" fill="#0000cc" stroke="#000" stroke-width="2.4"/>
<path d="M1314.25 382.2 L1314.25 374.4" fill="none" stroke="#000" stroke-width="2.6" />
<path d="M1308.08 374.4 L1320.42 374.4" fill="none" stroke="#000" stroke-width="2.6" stroke-linecap="round"/>
<rect x="1303.1" y="382.4" width="22.3" height="169.1" fill="#ff0000" stroke="#000" stroke-width="2.4"/>
<path d="M1276.1 444.6 L1276.1 353 L1314.6 353" fill="none" stroke="#000" stroke-width="2.4" stroke-linecap="round" stroke-linejoin="miter"/>
<text x="1297.3" y="347.3" font-size="16.64" font-weight="bold" text-anchor="middle" textLength="26.7" lengthAdjust="spacingAndGlyphs">###</text>
<text x="1313.9" y="376" font-size="21.84" font-weight="bold" text-anchor="middle" textLength="27" lengthAdjust="spacingAndGlyphs">***</text>
<rect x="1348.1" y="476.3" width="21.9" height="20.1" fill="#000" stroke="#000" stroke-width="2.4" rx=".8"/>
<text x="1382.7" y="496.05" font-size="26.73" textLength="37.41" lengthAdjust="spacingAndGlyphs">Ctrl</text>
<rect x="1348.1" y="503.8" width="21.9" height="19.8" fill="#0000cc" stroke="#000" stroke-width="2.4" rx=".8"/>
<text x="1382.7" y="523.4" font-size="26.73" textLength="49.47" lengthAdjust="spacingAndGlyphs">Chol</text>
<rect x="1348.1" y="530.8" width="21.9" height="19.4" fill="#ff0000" stroke="#000" stroke-width="2.4" rx=".8"/>
<text x="1382.7" y="550.2" font-size="26.73" textLength="61.5" lengthAdjust="spacingAndGlyphs">27HC</text>
<text x="1280" y="582" font-size="27.56" font-weight="bold" text-anchor="middle" textLength="47.74" lengthAdjust="spacingAndGlyphs">LKS</text>
<text x="1174.6" y="538.7" font-size="27.3" font-weight="bold" transform="rotate(-90 1174.6 538.7)" textLength="124" lengthAdjust="spacingAndGlyphs">Annexin V</text>
<text x="1162.4" y="406.4" font-size="18.51" font-weight="bold" transform="rotate(-90 1162.4 406.4)" textLength="10.39" lengthAdjust="spacingAndGlyphs">+</text>
<text x="1174.7" y="388" font-size="27.04" transform="rotate(-90 1174.7 388)" textLength="36.3" lengthAdjust="spacingAndGlyphs">(%)</text>
<path d="M905.2 610.35 L905.2 818.05" fill="none" stroke="#000" stroke-width="2.9" />
<path d="M903.75 816.6 L1008.3 816.6" fill="none" stroke="#000" stroke-width="2.9" />
<path d="M898.2 816.6 L905.2 816.6" fill="none" stroke="#000" stroke-width="2.9" />
<text x="897.2" y="825.45" font-size="24.6" font-weight="bold" text-anchor="end" textLength="11.83" lengthAdjust="spacingAndGlyphs">0</text>
<path d="M898.2 775.64 L905.2 775.64" fill="none" stroke="#000" stroke-width="2.9" />
<text x="897.2" y="784.49" font-size="24.6" font-weight="bold" text-anchor="end" textLength="23.67" lengthAdjust="spacingAndGlyphs">20</text>
<path d="M898.2 734.68 L905.2 734.68" fill="none" stroke="#000" stroke-width="2.9" />
<text x="897.2" y="743.53" font-size="24.6" font-weight="bold" text-anchor="end" textLength="23.67" lengthAdjust="spacingAndGlyphs">40</text>
<path d="M898.2 693.72 L905.2 693.72" fill="none" stroke="#000" stroke-width="2.9" />
<text x="897.2" y="702.57" font-size="24.6" font-weight="bold" text-anchor="end" textLength="23.67" lengthAdjust="spacingAndGlyphs">60</text>
<path d="M898.2 652.76 L905.2 652.76" fill="none" stroke="#000" stroke-width="2.9" />
<text x="897.2" y="661.61" font-size="24.6" font-weight="bold" text-anchor="end" textLength="23.67" lengthAdjust="spacingAndGlyphs">80</text>
<path d="M898.2 611.8 L905.2 611.8" fill="none" stroke="#000" stroke-width="2.9" />
<text x="897.2" y="620.65" font-size="24.6" font-weight="bold" text-anchor="end" textLength="35.5" lengthAdjust="spacingAndGlyphs">100</text>
<path d="M922.1 777.7 L922.1 773.2" fill="none" stroke="#000" stroke-width="2.6" />
<path d="M915.85 773.2 L928.35 773.2" fill="none" stroke="#000" stroke-width="2.6" stroke-linecap="round"/>
<rect x="910.8" y="777.9" width="22.6" height="38.7" fill="#000" stroke="#000" stroke-width="2.4"/>
<path d="M956.2 779.5 L956.2 777.1" fill="none" stroke="#000" stroke-width="2.6" />
<path d="M950.1 777.1 L962.3 777.1" fill="none" stroke="#000" stroke-width="2.6" stroke-linecap="round"/>
<rect x="945.2" y="779.7" width="22" height="36.9" fill="#0000cc" stroke="#000" stroke-width="2.4"/>
<path d="M990.5 647.6 L990.5 644.2" fill="none" stroke="#000" stroke-width="2.6" />
<path d="M984.65 644.2 L996.35 644.2" fill="none" stroke="#000" stroke-width="2.6" stroke-linecap="round"/>
<rect x="980" y="647.8" width="21" height="168.8" fill="#ff0000" stroke="#000" stroke-width="2.4"/>
<path d="M956 750.6 L956 622 L990.8 622" fill="none" stroke="#000" stroke-width="2.4" stroke-linecap="round" stroke-linejoin="miter"/>
<text x="975" y="619" font-size="16.64" font-weight="bold" text-anchor="middle" textLength="26.7" lengthAdjust="spacingAndGlyphs">###</text>
<text x="990" y="647" font-size="21.84" font-weight="bold" text-anchor="middle" textLength="27" lengthAdjust="spacingAndGlyphs">***</text>
<rect x="1023" y="742" width="20.7" height="20" fill="#000" stroke="#000" stroke-width="2.4" rx=".8"/>
<text x="1056.2" y="761.7" font-size="26.73" textLength="37.41" lengthAdjust="spacingAndGlyphs">Ctrl</text>
<rect x="1023" y="769.4" width="20.7" height="19.4" fill="#0000cc" stroke="#000" stroke-width="2.4" rx=".8"/>
<text x="1056.2" y="788.8" font-size="26.73" textLength="49.47" lengthAdjust="spacingAndGlyphs">Chol</text>
<rect x="1023" y="796.4" width="20.7" height="19.4" fill="#ff0000" stroke="#000" stroke-width="2.4" rx=".8"/>
<text x="1056.2" y="815.8" font-size="26.73" textLength="61.5" lengthAdjust="spacingAndGlyphs">27HC</text>
<text x="957" y="845.4" font-size="27.56" font-weight="bold" text-anchor="middle" textLength="50.39" lengthAdjust="spacingAndGlyphs">HPC</text>
<text x="844.5" y="803.2" font-size="27.3" font-weight="bold" transform="rotate(-90 844.5 803.2)" textLength="124" lengthAdjust="spacingAndGlyphs">Annexin V</text>
<text x="832.3" y="670.9" font-size="18.51" font-weight="bold" transform="rotate(-90 832.3 670.9)" textLength="10.39" lengthAdjust="spacingAndGlyphs">+</text>
<text x="844.6" y="652.5" font-size="27.04" transform="rotate(-90 844.6 652.5)" textLength="36.3" lengthAdjust="spacingAndGlyphs">(%)</text>
<path d="M1225.8 610.35 L1225.8 818.15" fill="none" stroke="#000" stroke-width="2.9" />
<path d="M1224.35 816.7 L1332.8 816.7" fill="none" stroke="#000" stroke-width="2.9" />
<path d="M1218.8 816.6 L1225.8 816.6" fill="none" stroke="#000" stroke-width="2.9" />
<text x="1217.8" y="825.45" font-size="24.6" font-weight="bold" text-anchor="end" textLength="11.83" lengthAdjust="spacingAndGlyphs">0</text>
<path d="M1218.8 765.4 L1225.8 765.4" fill="none" stroke="#000" stroke-width="2.9" />
<text x="1217.8" y="774.25" font-size="24.6" font-weight="bold" text-anchor="end" textLength="23.67" lengthAdjust="spacingAndGlyphs">10</text>
<path d="M1218.8 714.2 L1225.8 714.2" fill="none" stroke="#000" stroke-width="2.9" />
<text x="1217.8" y="723.05" font-size="24.6" font-weight="bold" text-anchor="end" textLength="23.67" lengthAdjust="spacingAndGlyphs">20</text>
<path d="M1218.8 663 L1225.8 663" fill="none" stroke="#000" stroke-width="2.9" />
<text x="1217.8" y="671.85" font-size="24.6" font-weight="bold" text-anchor="end" textLength="23.67" lengthAdjust="spacingAndGlyphs">30</text>
<path d="M1218.8 611.8 L1225.8 611.8" fill="none" stroke="#000" stroke-width="2.9" />
<text x="1217.8" y="620.65" font-size="24.6" font-weight="bold" text-anchor="end" textLength="23.67" lengthAdjust="spacingAndGlyphs">40</text>
<path d="M1242.95 793.2 L1242.95 791.3" fill="none" stroke="#000" stroke-width="2.6" />
<path d="M1236.68 791.3 L1249.22 791.3" fill="none" stroke="#000" stroke-width="2.6" stroke-linecap="round"/>
<rect x="1231.6" y="793.4" width="22.7" height="23.3" fill="#000" stroke="#000" stroke-width="2.4"/>
<path d="M1278.45 768.6 L1278.45 753.6" fill="none" stroke="#000" stroke-width="2.6" />
<path d="M1272.18 753.6 L1284.72 753.6" fill="none" stroke="#000" stroke-width="2.6" stroke-linecap="round"/>
<rect x="1267.1" y="768.8" width="22.7" height="47.9" fill="#0000cc" stroke="#000" stroke-width="2.4"/>
<path d="M1313.75 665.1 L1313.75 650.6" fill="none" stroke="#000" stroke-width="2.6" />
<path d="M1307.47 650.6 L1320.03 650.6" fill="none" stroke="#000" stroke-width="2.6" stroke-linecap="round"/>
<rect x="1302.4" y="665.3" width="22.7" height="151.4" fill="#ff0000" stroke="#000" stroke-width="2.4"/>
<path d="M1277.9 733.8 L1277.9 625.9 L1316 625.9" fill="none" stroke="#000" stroke-width="2.4" stroke-linecap="round" stroke-linejoin="miter"/>
<text x="1301.2" y="620.5" font-size="16.64" font-weight="bold" text-anchor="middle" textLength="26.7" lengthAdjust="spacingAndGlyphs">###</text>
<text x="1313.6" y="652.3" font-size="21.84" font-weight="bold" text-anchor="middle" textLength="27" lengthAdjust="spacingAndGlyphs">***</text>
<rect x="1348.2" y="742" width="21.5" height="20.4" fill="#000" stroke="#000" stroke-width="2.4" rx=".8"/>
<text x="1382.5" y="761.9" font-size="26.73" textLength="37.41" lengthAdjust="spacingAndGlyphs">Ctrl</text>
<rect x="1348.2" y="769.4" width="21.5" height="19.4" fill="#0000cc" stroke="#000" stroke-width="2.4" rx=".8"/>
<text x="1382.5" y="788.8" font-size="26.73" textLength="49.47" lengthAdjust="spacingAndGlyphs">Chol</text>
<rect x="1348.2" y="796.4" width="21.5" height="20.1" fill="#ff0000" stroke="#000" stroke-width="2.4" rx=".8"/>
<text x="1382.5" y="816.15" font-size="26.73" textLength="61.5" lengthAdjust="spacingAndGlyphs">27HC</text>
<text x="1278.4" y="845.4" font-size="27.56" font-weight="bold" text-anchor="middle" textLength="50.39" lengthAdjust="spacingAndGlyphs">HSC</text>
<text x="1174.6" y="803.2" font-size="27.3" font-weight="bold" transform="rotate(-90 1174.6 803.2)" textLength="124" lengthAdjust="spacingAndGlyphs">Annexin V</text>
<text x="1162.4" y="670.9" font-size="18.51" font-weight="bold" transform="rotate(-90 1162.4 670.9)" textLength="10.39" lengthAdjust="spacingAndGlyphs">+</text>
<text x="1174.7" y="652.5" font-size="27.04" transform="rotate(-90 1174.7 652.5)" textLength="36.3" lengthAdjust="spacingAndGlyphs">(%)</text>
<text x="802.9" y="906.9" font-size="56.16" font-weight="bold" textLength="36.02" lengthAdjust="spacingAndGlyphs">E</text>
<path d="M893.9 925.45 L893.9 1132.35" fill="none" stroke="#000" stroke-width="2.9" />
<path d="M892.45 1130.9 L1008.6 1130.9" fill="none" stroke="#000" stroke-width="2.9" />
<path d="M886.9 1130.9 L893.9 1130.9" fill="none" stroke="#000" stroke-width="2.9" />
<text x="885.9" y="1140.41" font-size="26.42" font-weight="bold" text-anchor="end" textLength="13.81" lengthAdjust="spacingAndGlyphs">0</text>
<path d="M886.9 1062.9 L893.9 1062.9" fill="none" stroke="#000" stroke-width="2.9" />
<text x="885.9" y="1072.41" font-size="26.42" font-weight="bold" text-anchor="end" textLength="13.81" lengthAdjust="spacingAndGlyphs">5</text>
<path d="M886.9 994.9 L893.9 994.9" fill="none" stroke="#000" stroke-width="2.9" />
<text x="885.9" y="1004.41" font-size="26.42" font-weight="bold" text-anchor="end" textLength="27.62" lengthAdjust="spacingAndGlyphs">10</text>
<path d="M886.9 926.9 L893.9 926.9" fill="none" stroke="#000" stroke-width="2.9" />
<text x="885.9" y="936.41" font-size="26.42" font-weight="bold" text-anchor="end" textLength="27.62" lengthAdjust="spacingAndGlyphs">15</text>
<path d="M911.3 1117.8 L911.3 1076.2" fill="none" stroke="#000" stroke-width="2.6" />
<path d="M904.2 1076.2 L918.4 1076.2" fill="none" stroke="#000" stroke-width="2.6" stroke-linecap="round"/>
<rect x="898.3" y="1118" width="26" height="12.9" fill="#000" stroke="#000" stroke-width="2.4"/>
<path d="M949.8 1115.6 L949.8 1114.5" fill="none" stroke="#000" stroke-width="2.6" />
<path d="M943.1 1114.5 L956.5 1114.5" fill="none" stroke="#000" stroke-width="2.6" stroke-linecap="round"/>
<rect x="937.6" y="1115.8" width="24.4" height="15.1" fill="#0000cc" stroke="#000" stroke-width="2.4"/>
<path d="M988 988.3 L988 986.3" fill="none" stroke="#000" stroke-width="2.6" />
<path d="M981.25 986.3 L994.75 986.3" fill="none" stroke="#000" stroke-width="2.6" stroke-linecap="round"/>
<rect x="975.7" y="988.5" width="24.6" height="142.4" fill="#ff0000" stroke="#000" stroke-width="2.4"/>
<path d="M947 1051.7 L947 959.7 L990.3 959.7" fill="none" stroke="#000" stroke-width="2.4" stroke-linecap="round" stroke-linejoin="miter"/>
<text x="971.5" y="954" font-size="16.64" font-weight="bold" text-anchor="middle" textLength="26.7" lengthAdjust="spacingAndGlyphs">###</text>
<text x="985.8" y="986.3" font-size="21.84" font-weight="bold" text-anchor="middle" textLength="27" lengthAdjust="spacingAndGlyphs">***</text>
<rect x="1022.6" y="1058.5" width="21" height="19.4" fill="#000" stroke="#000" stroke-width="2.4" rx=".8"/>
<text x="1055.9" y="1077.6" font-size="26.31" textLength="44.41" lengthAdjust="spacingAndGlyphs">Con</text>
<rect x="1022.6" y="1084.9" width="21" height="18.7" fill="#0000cc" stroke="#000" stroke-width="2.4" rx=".8"/>
<text x="1055.9" y="1103.65" font-size="26.31" textLength="49.79" lengthAdjust="spacingAndGlyphs">Chol</text>
<rect x="1022.6" y="1110.8" width="21" height="18.9" fill="#ff0000" stroke="#000" stroke-width="2.4" rx=".8"/>
<text x="1055.9" y="1129.65" font-size="26.31" textLength="61.89" lengthAdjust="spacingAndGlyphs">27HC</text>
<text x="950.5" y="1160.3" font-size="26.42" font-weight="bold" text-anchor="middle" textLength="30.5" lengthAdjust="spacingAndGlyphs">LK</text>
<text x="843.8" y="1092.3" font-size="27.2" font-weight="bold" transform="rotate(-90 843.8 1092.3)" textLength="88" lengthAdjust="spacingAndGlyphs">DCFDA</text>
<text x="831.7" y="1006.4" font-size="18.51" font-weight="bold" transform="rotate(-90 831.7 1006.4)" textLength="10.39" lengthAdjust="spacingAndGlyphs">+</text>
<text x="843.6" y="988.1" font-size="26" transform="rotate(-90 843.6 988.1)" textLength="33.4" lengthAdjust="spacingAndGlyphs">(%)</text>
<path d="M1233.3 925.15 L1233.3 1132.35" fill="none" stroke="#000" stroke-width="2.9" />
<path d="M1231.85 1130.9 L1348.3 1130.9" fill="none" stroke="#000" stroke-width="2.9" />
<path d="M1226.3 1130.9 L1233.3 1130.9" fill="none" stroke="#000" stroke-width="2.9" />
<text x="1225.3" y="1140.41" font-size="26.42" font-weight="bold" text-anchor="end" textLength="13.81" lengthAdjust="spacingAndGlyphs">0</text>
<path d="M1226.3 1090.04 L1233.3 1090.04" fill="none" stroke="#000" stroke-width="2.9" />
<text x="1225.3" y="1099.55" font-size="26.42" font-weight="bold" text-anchor="end" textLength="13.81" lengthAdjust="spacingAndGlyphs">5</text>
<path d="M1226.3 1049.18 L1233.3 1049.18" fill="none" stroke="#000" stroke-width="2.9" />
<text x="1225.3" y="1058.69" font-size="26.42" font-weight="bold" text-anchor="end" textLength="27.62" lengthAdjust="spacingAndGlyphs">10</text>
<path d="M1226.3 1008.32 L1233.3 1008.32" fill="none" stroke="#000" stroke-width="2.9" />
<text x="1225.3" y="1017.83" font-size="26.42" font-weight="bold" text-anchor="end" textLength="27.62" lengthAdjust="spacingAndGlyphs">15</text>
<path d="M1226.3 967.46 L1233.3 967.46" fill="none" stroke="#000" stroke-width="2.9" />
<text x="1225.3" y="976.97" font-size="26.42" font-weight="bold" text-anchor="end" textLength="27.62" lengthAdjust="spacingAndGlyphs">20</text>
<path d="M1226.3 926.6 L1233.3 926.6" fill="none" stroke="#000" stroke-width="2.9" />
<text x="1225.3" y="936.11" font-size="26.42" font-weight="bold" text-anchor="end" textLength="27.62" lengthAdjust="spacingAndGlyphs">25</text>
<path d="M1251.4 1067 L1251.4 1063.6" fill="none" stroke="#000" stroke-width="2.6" />
<path d="M1244.3 1063.6 L1258.5 1063.6" fill="none" stroke="#000" stroke-width="2.6" stroke-linecap="round"/>
<rect x="1238.4" y="1067.2" width="26" height="63.7" fill="#000" stroke="#000" stroke-width="2.4"/>
<path d="M1290.6 1059 L1290.6 1053.8" fill="none" stroke="#000" stroke-width="2.6" />
<path d="M1284.05 1053.8 L1297.15 1053.8" fill="none" stroke="#000" stroke-width="2.6" stroke-linecap="round"/>
<rect x="1278.7" y="1059.2" width="23.8" height="71.7" fill="#0000cc" stroke="#000" stroke-width="2.4"/>
<path d="M1328.75 983.4 L1328.75 969.9" fill="none" stroke="#000" stroke-width="2.6" />
<path d="M1322.22 969.9 L1335.28 969.9" fill="none" stroke="#000" stroke-width="2.6" stroke-linecap="round"/>
<rect x="1316.9" y="983.6" width="23.7" height="147.3" fill="#ff0000" stroke="#000" stroke-width="2.4"/>
<path d="M1287.8 1039.4 L1287.8 947.3 L1330.3 947.3" fill="none" stroke="#000" stroke-width="2.4" stroke-linecap="round" stroke-linejoin="miter"/>
<text x="1308" y="945.3" font-size="16.64" font-weight="bold" text-anchor="middle" textLength="17.8" lengthAdjust="spacingAndGlyphs">##</text>
<text x="1327.9" y="971.5" font-size="21.84" font-weight="bold" text-anchor="middle" textLength="18" lengthAdjust="spacingAndGlyphs">**</text>
<rect x="1363.3" y="1058.5" width="20.9" height="19.4" fill="#000" stroke="#000" stroke-width="2.4" rx=".8"/>
<text x="1396.7" y="1077.6" font-size="26.31" textLength="44.41" lengthAdjust="spacingAndGlyphs">Con</text>
<rect x="1363.3" y="1084.9" width="20.9" height="18.7" fill="#0000cc" stroke="#000" stroke-width="2.4" rx=".8"/>
<text x="1396.7" y="1103.65" font-size="26.31" textLength="49.79" lengthAdjust="spacingAndGlyphs">Chol</text>
<rect x="1363.3" y="1110.8" width="20.9" height="18.9" fill="#ff0000" stroke="#000" stroke-width="2.4" rx=".8"/>
<text x="1396.7" y="1129.65" font-size="26.31" textLength="61.89" lengthAdjust="spacingAndGlyphs">27HC</text>
<text x="1291.3" y="1159.7" font-size="26.42" font-weight="bold" text-anchor="middle" textLength="45.7" lengthAdjust="spacingAndGlyphs">LKS</text>
<text x="1183.9" y="1092.3" font-size="27.2" font-weight="bold" transform="rotate(-90 1183.9 1092.3)" textLength="88" lengthAdjust="spacingAndGlyphs">DCFDA</text>
<text x="1171.8" y="1006.4" font-size="18.51" font-weight="bold" transform="rotate(-90 1171.8 1006.4)" textLength="10.39" lengthAdjust="spacingAndGlyphs">+</text>
<text x="1183.7" y="988.1" font-size="26" transform="rotate(-90 1183.7 988.1)" textLength="33.4" lengthAdjust="spacingAndGlyphs">(%)</text>
<path d="M893.9 1197.35 L893.9 1401.95" fill="none" stroke="#000" stroke-width="2.9" />
<path d="M892.45 1400.5 L1008.7 1400.5" fill="none" stroke="#000" stroke-width="2.9" />
<path d="M886.9 1400.5 L893.9 1400.5" fill="none" stroke="#000" stroke-width="2.9" />
<text x="885.9" y="1410.01" font-size="26.42" font-weight="bold" text-anchor="end" textLength="13.81" lengthAdjust="spacingAndGlyphs">0</text>
<path d="M886.9 1360.16 L893.9 1360.16" fill="none" stroke="#000" stroke-width="2.9" />
<text x="885.9" y="1369.67" font-size="26.42" font-weight="bold" text-anchor="end" textLength="27.62" lengthAdjust="spacingAndGlyphs">10</text>
<path d="M886.9 1319.82 L893.9 1319.82" fill="none" stroke="#000" stroke-width="2.9" />
<text x="885.9" y="1329.33" font-size="26.42" font-weight="bold" text-anchor="end" textLength="27.62" lengthAdjust="spacingAndGlyphs">20</text>
<path d="M886.9 1279.48 L893.9 1279.48" fill="none" stroke="#000" stroke-width="2.9" />
<text x="885.9" y="1288.99" font-size="26.42" font-weight="bold" text-anchor="end" textLength="27.62" lengthAdjust="spacingAndGlyphs">30</text>
<path d="M886.9 1239.14 L893.9 1239.14" fill="none" stroke="#000" stroke-width="2.9" />
<text x="885.9" y="1248.65" font-size="26.42" font-weight="bold" text-anchor="end" textLength="27.62" lengthAdjust="spacingAndGlyphs">40</text>
<path d="M886.9 1198.8 L893.9 1198.8" fill="none" stroke="#000" stroke-width="2.9" />
<text x="885.9" y="1208.31" font-size="26.42" font-weight="bold" text-anchor="end" textLength="27.62" lengthAdjust="spacingAndGlyphs">50</text>
<path d="M911.3 1371 L911.3 1369.1" fill="none" stroke="#000" stroke-width="2.6" />
<path d="M904.2 1369.1 L918.4 1369.1" fill="none" stroke="#000" stroke-width="2.6" stroke-linecap="round"/>
<rect x="898.3" y="1371.2" width="26" height="29.3" fill="#000" stroke="#000" stroke-width="2.4"/>
<path d="M950 1363.8 L950 1361.5" fill="none" stroke="#000" stroke-width="2.6" />
<path d="M943.2 1361.5 L956.8 1361.5" fill="none" stroke="#000" stroke-width="2.6" stroke-linecap="round"/>
<rect x="937.6" y="1364" width="24.8" height="36.5" fill="#0000cc" stroke="#000" stroke-width="2.4"/>
<path d="M988.1 1217.2 L988.1 1211.2" fill="none" stroke="#000" stroke-width="2.6" />
<path d="M981.3 1211.2 L994.9 1211.2" fill="none" stroke="#000" stroke-width="2.6" stroke-linecap="round"/>
<rect x="975.7" y="1217.4" width="24.8" height="183.1" fill="#ff0000" stroke="#000" stroke-width="2.4"/>
<path d="M948.8 1333.4 L948.8 1190 L987.6 1190" fill="none" stroke="#000" stroke-width="2.4" stroke-linecap="round" stroke-linejoin="miter"/>
<text x="968" y="1185.7" font-size="16.64" font-weight="bold" text-anchor="middle" textLength="26.7" lengthAdjust="spacingAndGlyphs">###</text>
<text x="989" y="1215" font-size="21.84" font-weight="bold" text-anchor="middle" textLength="27" lengthAdjust="spacingAndGlyphs">***</text>
<rect x="1022.1" y="1330.2" width="21.6" height="19" fill="#000" stroke="#000" stroke-width="2.4" rx=".8"/>
<text x="1055.5" y="1349.1" font-size="26.31" textLength="44.41" lengthAdjust="spacingAndGlyphs">Con</text>
<rect x="1022.1" y="1356.4" width="21.6" height="18.3" fill="#0000cc" stroke="#000" stroke-width="2.4" rx=".8"/>
<text x="1055.5" y="1374.95" font-size="26.31" textLength="49.79" lengthAdjust="spacingAndGlyphs">Chol</text>
<rect x="1022.1" y="1382.1" width="21.6" height="18.1" fill="#ff0000" stroke="#000" stroke-width="2.4" rx=".8"/>
<text x="1055.5" y="1400.55" font-size="26.31" textLength="61.89" lengthAdjust="spacingAndGlyphs">27HC</text>
<text x="950.9" y="1429.3" font-size="26.42" font-weight="bold" text-anchor="middle" textLength="48.5" lengthAdjust="spacingAndGlyphs">HPC</text>
<text x="843.8" y="1362.3" font-size="27.2" font-weight="bold" transform="rotate(-90 843.8 1362.3)" textLength="88" lengthAdjust="spacingAndGlyphs">DCFDA</text>
<text x="831.7" y="1276.4" font-size="18.51" font-weight="bold" transform="rotate(-90 831.7 1276.4)" textLength="10.39" lengthAdjust="spacingAndGlyphs">+</text>
<text x="843.6" y="1258.1" font-size="26" transform="rotate(-90 843.6 1258.1)" textLength="33.4" lengthAdjust="spacingAndGlyphs">(%)</text>
<path d="M1233.3 1197.95 L1233.3 1405.65" fill="none" stroke="#000" stroke-width="2.9" />
<path d="M1231.85 1404.2 L1349 1404.2" fill="none" stroke="#000" stroke-width="2.9" />
<path d="M1226.3 1404.2 L1233.3 1404.2" fill="none" stroke="#000" stroke-width="2.9" />
<text x="1225.3" y="1413.71" font-size="26.42" font-weight="bold" text-anchor="end" textLength="13.81" lengthAdjust="spacingAndGlyphs">0</text>
<path d="M1226.3 1335.95 L1233.3 1335.95" fill="none" stroke="#000" stroke-width="2.9" />
<text x="1225.3" y="1345.46" font-size="26.42" font-weight="bold" text-anchor="end" textLength="13.81" lengthAdjust="spacingAndGlyphs">5</text>
<path d="M1226.3 1267.7 L1233.3 1267.7" fill="none" stroke="#000" stroke-width="2.9" />
<text x="1225.3" y="1277.21" font-size="26.42" font-weight="bold" text-anchor="end" textLength="27.62" lengthAdjust="spacingAndGlyphs">10</text>
<path d="M1226.3 1199.45 L1233.3 1199.45" fill="none" stroke="#000" stroke-width="2.9" />
<text x="1225.3" y="1208.96" font-size="26.42" font-weight="bold" text-anchor="end" textLength="27.62" lengthAdjust="spacingAndGlyphs">15</text>
<path d="M1251.4 1334.8 L1251.4 1328.2" fill="none" stroke="#000" stroke-width="2.6" />
<path d="M1244.3 1328.2 L1258.5 1328.2" fill="none" stroke="#000" stroke-width="2.6" stroke-linecap="round"/>
<rect x="1238.4" y="1335" width="26" height="69.2" fill="#000" stroke="#000" stroke-width="2.4"/>
<path d="M1290.6 1360.5 L1290.6 1355.4" fill="none" stroke="#000" stroke-width="2.6" />
<path d="M1284.05 1355.4 L1297.15 1355.4" fill="none" stroke="#000" stroke-width="2.6" stroke-linecap="round"/>
<rect x="1278.7" y="1360.7" width="23.8" height="43.5" fill="#0000cc" stroke="#000" stroke-width="2.4"/>
<path d="M1328.75 1268.6 L1328.75 1258.9" fill="none" stroke="#000" stroke-width="2.6" />
<path d="M1322.22 1258.9 L1335.28 1258.9" fill="none" stroke="#000" stroke-width="2.6" stroke-linecap="round"/>
<rect x="1316.9" y="1268.8" width="23.7" height="135.4" fill="#ff0000" stroke="#000" stroke-width="2.4"/>
<path d="M1287.8 1325.1 L1287.8 1233.2 L1329.4 1233.2" fill="none" stroke="#000" stroke-width="2.4" stroke-linecap="round" stroke-linejoin="miter"/>
<text x="1309.8" y="1229.9" font-size="16.64" font-weight="bold" text-anchor="middle" textLength="17.8" lengthAdjust="spacingAndGlyphs">##</text>
<text x="1328.7" y="1258.5" font-size="21.84" font-weight="bold" text-anchor="middle" textLength="18" lengthAdjust="spacingAndGlyphs">**</text>
<rect x="1363.7" y="1332" width="20.5" height="19.4" fill="#000" stroke="#000" stroke-width="2.4" rx=".8"/>
<text x="1396.7" y="1351.1" font-size="26.31" textLength="44.41" lengthAdjust="spacingAndGlyphs">Con</text>
<rect x="1363.7" y="1358.6" width="20.5" height="18.9" fill="#0000cc" stroke="#000" stroke-width="2.4" rx=".8"/>
<text x="1396.7" y="1377.45" font-size="26.31" textLength="49.79" lengthAdjust="spacingAndGlyphs">Chol</text>
<rect x="1363.7" y="1384.7" width="20.5" height="18.7" fill="#ff0000" stroke="#000" stroke-width="2.4" rx=".8"/>
<text x="1396.7" y="1403.45" font-size="26.31" textLength="61.89" lengthAdjust="spacingAndGlyphs">27HC</text>
<text x="1291.7" y="1432.5" font-size="26.42" font-weight="bold" text-anchor="middle" textLength="50.2" lengthAdjust="spacingAndGlyphs">HSC</text>
<text x="1183.9" y="1365" font-size="27.2" font-weight="bold" transform="rotate(-90 1183.9 1365)" textLength="88" lengthAdjust="spacingAndGlyphs">DCFDA</text>
<text x="1171.8" y="1279.1" font-size="18.51" font-weight="bold" transform="rotate(-90 1171.8 1279.1)" textLength="10.39" lengthAdjust="spacingAndGlyphs">+</text>
<text x="1183.7" y="1260.8" font-size="26" transform="rotate(-90 1183.7 1260.8)" textLength="33.4" lengthAdjust="spacingAndGlyphs">(%)</text>
<text x="0.6" y="1519" font-size="56.16" font-weight="bold" textLength="32.99" lengthAdjust="spacingAndGlyphs">F</text>
<path d="M141.5 1537.7 L141.5 1718.5" fill="none" stroke="#000" stroke-width="2.6" />
<path d="M140.2 1717.2 L282.6 1717.2" fill="none" stroke="#000" stroke-width="2.6" />
<path d="M135.5 1717.2 L141.5 1717.2" fill="none" stroke="#000" stroke-width="2.6" />
<text x="134.9" y="1724.69" font-size="20.8" font-weight="bold" text-anchor="end" textLength="27.18" lengthAdjust="spacingAndGlyphs">0.0</text>
<path d="M135.5 1681.56 L141.5 1681.56" fill="none" stroke="#000" stroke-width="2.6" />
<text x="134.9" y="1689.05" font-size="20.8" font-weight="bold" text-anchor="end" textLength="27.18" lengthAdjust="spacingAndGlyphs">0.1</text>
<path d="M135.5 1645.92 L141.5 1645.92" fill="none" stroke="#000" stroke-width="2.6" />
<text x="134.9" y="1653.41" font-size="20.8" font-weight="bold" text-anchor="end" textLength="27.18" lengthAdjust="spacingAndGlyphs">0.2</text>
<path d="M135.5 1610.28 L141.5 1610.28" fill="none" stroke="#000" stroke-width="2.6" />
<text x="134.9" y="1617.77" font-size="20.8" font-weight="bold" text-anchor="end" textLength="27.18" lengthAdjust="spacingAndGlyphs">0.3</text>
<path d="M135.5 1574.64 L141.5 1574.64" fill="none" stroke="#000" stroke-width="2.6" />
<text x="134.9" y="1582.13" font-size="20.8" font-weight="bold" text-anchor="end" textLength="27.18" lengthAdjust="spacingAndGlyphs">0.4</text>
<path d="M135.5 1539 L141.5 1539" fill="none" stroke="#000" stroke-width="2.6" />
<text x="134.9" y="1546.49" font-size="20.8" font-weight="bold" text-anchor="end" textLength="27.18" lengthAdjust="spacingAndGlyphs">0.5</text>
<rect x="147.2" y="1604.5" width="22.8" height="112.7" fill="#000" stroke="#000" stroke-width="2.2"/>
<path d="M193.1 1599.7 L193.1 1598.55" fill="none" stroke="#000" stroke-width="2.5" />
<path d="M186.75 1598.55 L199.45 1598.55" fill="none" stroke="#000" stroke-width="2.5" stroke-linecap="round"/>
<rect x="181.5" y="1599.8" width="23.2" height="117.4" fill="#000" stroke="#000" stroke-width="2.2"/>
<rect x="217.8" y="1683.2" width="22.1" height="34" fill="#ff0000" stroke="#000" stroke-width="2.2"/>
<path d="M263.45 1634.5 L263.45 1632.35" fill="none" stroke="#000" stroke-width="2.5" />
<path d="M257.32 1632.35 L269.57 1632.35" fill="none" stroke="#000" stroke-width="2.5" stroke-linecap="round"/>
<rect x="252.3" y="1634.6" width="22.3" height="82.6" fill="#ff0000" stroke="#000" stroke-width="2.2"/>
<path d="M160.7 1594.6 L160.7 1567.5 L230.1 1567.5 L230.1 1602.2" fill="none" stroke="#000" stroke-width="2.2" stroke-linecap="round"/>
<text x="198.6" y="1562.2" font-size="15.6" text-anchor="middle" textLength="24.5" lengthAdjust="spacingAndGlyphs">$$$</text>
<path d="M228.8 1625.4 L264.5 1625.4" fill="none" stroke="#000" stroke-width="2.5" stroke-linecap="round"/>
<text x="247.7" y="1625.1" font-size="20.49" text-anchor="middle" textLength="24" lengthAdjust="spacingAndGlyphs">***</text>
<rect x="295" y="1677.5" width="18.9" height="17" fill="#000" stroke="#000" stroke-width="2.4" rx=".8"/>
<text x="325.7" y="1693.92" font-size="22.88" textLength="40.36" lengthAdjust="spacingAndGlyphs">Con</text>
<rect x="295" y="1700.6" width="18.9" height="16.1" fill="#ff0000" stroke="#000" stroke-width="2.4" rx=".8"/>
<text x="325.7" y="1716.57" font-size="22.88" textLength="56.25" lengthAdjust="spacingAndGlyphs">27HC</text>
<text x="194.5" y="1510.4" font-size="23.3" font-weight="bold" text-anchor="middle" textLength="43.4" lengthAdjust="spacingAndGlyphs">LKS</text>
<text x="97.1" y="1692.7" font-size="26.31" font-weight="bold" transform="rotate(-90 97.1 1692.7)" textLength="133.5" lengthAdjust="spacingAndGlyphs">Percent BM</text>
<text x="91.1" y="1752.9" font-size="23.71" font-weight="bold" textLength="53" lengthAdjust="spacingAndGlyphs">NAC:</text>
<text x="160.7" y="1752.1" font-size="22.05" font-weight="bold" text-anchor="middle" textLength="7.06" lengthAdjust="spacingAndGlyphs">-</text>
<text x="194.7" y="1752.1" font-size="22.05" font-weight="bold" text-anchor="middle" textLength="12.38" lengthAdjust="spacingAndGlyphs">+</text>
<text x="230.6" y="1752.1" font-size="22.05" font-weight="bold" text-anchor="middle" textLength="7.06" lengthAdjust="spacingAndGlyphs">-</text>
<text x="264.8" y="1752.1" font-size="22.05" font-weight="bold" text-anchor="middle" textLength="12.38" lengthAdjust="spacingAndGlyphs">+</text>
<path d="M484.9 1537.7 L484.9 1718.5" fill="none" stroke="#000" stroke-width="2.6" />
<path d="M483.6 1717.2 L625 1717.2" fill="none" stroke="#000" stroke-width="2.6" />
<path d="M478.9 1717.2 L484.9 1717.2" fill="none" stroke="#000" stroke-width="2.6" />
<text x="478.3" y="1724.69" font-size="20.8" font-weight="bold" text-anchor="end" textLength="27.18" lengthAdjust="spacingAndGlyphs">0.0</text>
<path d="M478.9 1666.43 L484.9 1666.43" fill="none" stroke="#000" stroke-width="2.6" />
<text x="478.3" y="1673.92" font-size="20.8" font-weight="bold" text-anchor="end" textLength="27.18" lengthAdjust="spacingAndGlyphs">0.1</text>
<path d="M478.9 1615.66 L484.9 1615.66" fill="none" stroke="#000" stroke-width="2.6" />
<text x="478.3" y="1623.15" font-size="20.8" font-weight="bold" text-anchor="end" textLength="27.18" lengthAdjust="spacingAndGlyphs">0.2</text>
<path d="M478.9 1564.89 L484.9 1564.89" fill="none" stroke="#000" stroke-width="2.6" />
<text x="478.3" y="1572.38" font-size="20.8" font-weight="bold" text-anchor="end" textLength="27.18" lengthAdjust="spacingAndGlyphs">0.3</text>
<rect x="490.9" y="1600.8" width="22.6" height="116.4" fill="#000" stroke="#000" stroke-width="2.2"/>
<path d="M536.8 1593.7 L536.8 1592.55" fill="none" stroke="#000" stroke-width="2.5" />
<path d="M530.55 1592.55 L543.05 1592.55" fill="none" stroke="#000" stroke-width="2.5" stroke-linecap="round"/>
<rect x="525.4" y="1593.8" width="22.8" height="123.4" fill="#000" stroke="#000" stroke-width="2.2"/>
<path d="M572.1 1704.8 L572.1 1703.45" fill="none" stroke="#000" stroke-width="2.5" />
<path d="M566.15 1703.45 L578.05 1703.45" fill="none" stroke="#000" stroke-width="2.5" stroke-linecap="round"/>
<rect x="561.3" y="1704.9" width="21.6" height="12.3" fill="#ff0000" stroke="#000" stroke-width="2.2"/>
<path d="M607.25 1646.5 L607.25 1643.95" fill="none" stroke="#000" stroke-width="2.5" />
<path d="M601.17 1643.95 L613.33 1643.95" fill="none" stroke="#000" stroke-width="2.5" stroke-linecap="round"/>
<rect x="596.2" y="1646.6" width="22.1" height="70.6" fill="#ff0000" stroke="#000" stroke-width="2.2"/>
<path d="M500.7 1581.1 L500.7 1560.5 L570.1 1560.5 L570.1 1600.4" fill="none" stroke="#000" stroke-width="2.2" stroke-linecap="round"/>
<text x="537.7" y="1553.4" font-size="15.6" text-anchor="middle" textLength="24.5" lengthAdjust="spacingAndGlyphs">$$$</text>
<path d="M571.1 1632.1 L605.7 1632.1" fill="none" stroke="#000" stroke-width="2.5" stroke-linecap="round"/>
<text x="590.3" y="1633.2" font-size="20.49" text-anchor="middle" textLength="24" lengthAdjust="spacingAndGlyphs">***</text>
<rect x="638" y="1677.5" width="18.9" height="17" fill="#000" stroke="#000" stroke-width="2.4" rx=".8"/>
<text x="668.5" y="1693.92" font-size="22.88" textLength="40.36" lengthAdjust="spacingAndGlyphs">Con</text>
<rect x="638" y="1700.6" width="18.9" height="16.1" fill="#ff0000" stroke="#000" stroke-width="2.4" rx=".8"/>
<text x="668.5" y="1716.57" font-size="22.88" textLength="56.25" lengthAdjust="spacingAndGlyphs">27HC</text>
<text x="537.1" y="1510.4" font-size="23.3" font-weight="bold" text-anchor="middle" textLength="46.4" lengthAdjust="spacingAndGlyphs">HPC</text>
<text x="440.6" y="1692.7" font-size="26.31" font-weight="bold" transform="rotate(-90 440.6 1692.7)" textLength="133.5" lengthAdjust="spacingAndGlyphs">Percent BM</text>
<text x="433.9" y="1752.9" font-size="23.71" font-weight="bold" textLength="53" lengthAdjust="spacingAndGlyphs">NAC:</text>
<text x="503.7" y="1752.1" font-size="22.05" font-weight="bold" text-anchor="middle" textLength="7.06" lengthAdjust="spacingAndGlyphs">-</text>
<text x="538.2" y="1752.1" font-size="22.05" font-weight="bold" text-anchor="middle" textLength="12.38" lengthAdjust="spacingAndGlyphs">+</text>
<text x="574" y="1752.1" font-size="22.05" font-weight="bold" text-anchor="middle" textLength="7.06" lengthAdjust="spacingAndGlyphs">-</text>
<text x="608.3" y="1752.1" font-size="22.05" font-weight="bold" text-anchor="middle" textLength="12.38" lengthAdjust="spacingAndGlyphs">+</text>
<path d="M841.9 1537.7 L841.9 1718.5" fill="none" stroke="#000" stroke-width="2.6" />
<path d="M840.6 1717.2 L981.9 1717.2" fill="none" stroke="#000" stroke-width="2.6" />
<path d="M835.9 1717.2 L841.9 1717.2" fill="none" stroke="#000" stroke-width="2.6" />
<text x="835.3" y="1724.69" font-size="20.8" font-weight="bold" text-anchor="end" textLength="38.05" lengthAdjust="spacingAndGlyphs">0.00</text>
<path d="M835.9 1681.56 L841.9 1681.56" fill="none" stroke="#000" stroke-width="2.6" />
<text x="835.3" y="1689.05" font-size="20.8" font-weight="bold" text-anchor="end" textLength="38.05" lengthAdjust="spacingAndGlyphs">0.01</text>
<path d="M835.9 1645.92 L841.9 1645.92" fill="none" stroke="#000" stroke-width="2.6" />
<text x="835.3" y="1653.41" font-size="20.8" font-weight="bold" text-anchor="end" textLength="38.05" lengthAdjust="spacingAndGlyphs">0.02</text>
<path d="M835.9 1610.28 L841.9 1610.28" fill="none" stroke="#000" stroke-width="2.6" />
<text x="835.3" y="1617.77" font-size="20.8" font-weight="bold" text-anchor="end" textLength="38.05" lengthAdjust="spacingAndGlyphs">0.03</text>
<path d="M835.9 1574.64 L841.9 1574.64" fill="none" stroke="#000" stroke-width="2.6" />
<text x="835.3" y="1582.13" font-size="20.8" font-weight="bold" text-anchor="end" textLength="38.05" lengthAdjust="spacingAndGlyphs">0.04</text>
<path d="M835.9 1539 L841.9 1539" fill="none" stroke="#000" stroke-width="2.6" />
<text x="835.3" y="1546.49" font-size="20.8" font-weight="bold" text-anchor="end" textLength="38.05" lengthAdjust="spacingAndGlyphs">0.05</text>
<path d="M858.55 1589.1 L858.55 1584.95" fill="none" stroke="#000" stroke-width="2.5" />
<path d="M852.32 1584.95 L864.77 1584.95" fill="none" stroke="#000" stroke-width="2.5" stroke-linecap="round"/>
<rect x="847.2" y="1589.2" width="22.7" height="128" fill="#000" stroke="#000" stroke-width="2.2"/>
<path d="M893.5 1582.8 L893.5 1577.75" fill="none" stroke="#000" stroke-width="2.5" />
<path d="M887.15 1577.75 L899.85 1577.75" fill="none" stroke="#000" stroke-width="2.5" stroke-linecap="round"/>
<rect x="881.9" y="1582.9" width="23.2" height="134.3" fill="#000" stroke="#000" stroke-width="2.2"/>
<rect x="917.3" y="1668.6" width="22.5" height="48.6" fill="#ff0000" stroke="#000" stroke-width="2.2"/>
<path d="M963.55 1611.3 L963.55 1604.35" fill="none" stroke="#000" stroke-width="2.5" />
<path d="M957.47 1604.35 L969.62 1604.35" fill="none" stroke="#000" stroke-width="2.5" stroke-linecap="round"/>
<rect x="952.5" y="1611.4" width="22.1" height="105.8" fill="#ff0000" stroke="#000" stroke-width="2.2"/>
<path d="M858.3 1570.3 L858.3 1551.1 L926.6 1551.1 L926.6 1576" fill="none" stroke="#000" stroke-width="2.2" stroke-linecap="round"/>
<text x="896.2" y="1544.9" font-size="15.6" text-anchor="middle" textLength="24.5" lengthAdjust="spacingAndGlyphs">$$$</text>
<path d="M929.2 1594.1 L965 1594.1" fill="none" stroke="#000" stroke-width="2.5" stroke-linecap="round"/>
<text x="947" y="1595.4" font-size="20.49" text-anchor="middle" textLength="24" lengthAdjust="spacingAndGlyphs">***</text>
<rect x="995.4" y="1677.5" width="18.9" height="17" fill="#000" stroke="#000" stroke-width="2.4" rx=".8"/>
<text x="1025.9" y="1693.92" font-size="22.88" textLength="40.36" lengthAdjust="spacingAndGlyphs">Con</text>
<rect x="995.4" y="1700.6" width="18.9" height="16.1" fill="#ff0000" stroke="#000" stroke-width="2.4" rx=".8"/>
<text x="1025.9" y="1716.57" font-size="22.88" textLength="56.25" lengthAdjust="spacingAndGlyphs">27HC</text>
<text x="888.3" y="1510.4" font-size="23.3" font-weight="bold" text-anchor="middle" textLength="46.4" lengthAdjust="spacingAndGlyphs">HSC</text>
<text x="784.4" y="1692.7" font-size="26.31" font-weight="bold" transform="rotate(-90 784.4 1692.7)" textLength="133.5" lengthAdjust="spacingAndGlyphs">Percent BM</text>
<text x="790.4" y="1752.9" font-size="23.71" font-weight="bold" textLength="53" lengthAdjust="spacingAndGlyphs">NAC:</text>
<text x="860.6" y="1752.1" font-size="22.05" font-weight="bold" text-anchor="middle" textLength="7.06" lengthAdjust="spacingAndGlyphs">-</text>
<text x="894.7" y="1752.1" font-size="22.05" font-weight="bold" text-anchor="middle" textLength="12.38" lengthAdjust="spacingAndGlyphs">+</text>
<text x="930.5" y="1752.1" font-size="22.05" font-weight="bold" text-anchor="middle" textLength="7.06" lengthAdjust="spacingAndGlyphs">-</text>
<text x="965.2" y="1752.1" font-size="22.05" font-weight="bold" text-anchor="middle" textLength="12.38" lengthAdjust="spacingAndGlyphs">+</text>
<text x="0.4" y="1795.2" font-size="56.16" font-weight="bold" textLength="42" lengthAdjust="spacingAndGlyphs">G</text>
<path d="M200.1 1841.8 L200.1 2017.8" fill="none" stroke="#000" stroke-width="2.8" />
<path d="M198.7 2016.4 L313.7 2016.4" fill="none" stroke="#000" stroke-width="2.8" />
<path d="M193.6 2016.4 L200.1 2016.4" fill="none" stroke="#000" stroke-width="2.8" />
<text x="192.1" y="2024.86" font-size="23.5" font-weight="bold" text-anchor="end" textLength="13.73" lengthAdjust="spacingAndGlyphs">0</text>
<path d="M193.6 1973.1 L200.1 1973.1" fill="none" stroke="#000" stroke-width="2.8" />
<text x="192.1" y="1981.56" font-size="23.5" font-weight="bold" text-anchor="end" textLength="41.18" lengthAdjust="spacingAndGlyphs">100</text>
<path d="M193.6 1929.8 L200.1 1929.8" fill="none" stroke="#000" stroke-width="2.8" />
<text x="192.1" y="1938.26" font-size="23.5" font-weight="bold" text-anchor="end" textLength="41.18" lengthAdjust="spacingAndGlyphs">200</text>
<path d="M193.6 1886.5 L200.1 1886.5" fill="none" stroke="#000" stroke-width="2.8" />
<text x="192.1" y="1894.96" font-size="23.5" font-weight="bold" text-anchor="end" textLength="41.18" lengthAdjust="spacingAndGlyphs">300</text>
<path d="M193.6 1843.2 L200.1 1843.2" fill="none" stroke="#000" stroke-width="2.8" />
<text x="192.1" y="1851.66" font-size="23.5" font-weight="bold" text-anchor="end" textLength="41.18" lengthAdjust="spacingAndGlyphs">400</text>
<path d="M214.3 2016.4 L214.3 2022.2" fill="none" stroke="#000" stroke-width="2.8" />
<text font-size="22.5" font-weight="bold" stroke="#000" stroke-width=".7" text-anchor="end" textLength="36" lengthAdjust="spacingAndGlyphs" transform="translate(219.9 2045.6) rotate(-38.4)">LKS</text>
<path d="M242.3 2016.4 L242.3 2022.2" fill="none" stroke="#000" stroke-width="2.8" />
<text font-size="22.5" font-weight="bold" stroke="#000" stroke-width=".7" text-anchor="end" textLength="38.01" lengthAdjust="spacingAndGlyphs" transform="translate(247.9 2045.6) rotate(-38.4)">HPC</text>
<path d="M270.9 2016.4 L270.9 2022.2" fill="none" stroke="#000" stroke-width="2.8" />
<text font-size="22.5" font-weight="bold" stroke="#000" stroke-width=".7" text-anchor="end" textLength="36" lengthAdjust="spacingAndGlyphs" transform="translate(276.5 2045.6) rotate(-38.4)">LKS</text>
<path d="M300 2016.4 L300 2022.2" fill="none" stroke="#000" stroke-width="2.8" />
<text font-size="22.5" font-weight="bold" stroke="#000" stroke-width=".7" text-anchor="end" textLength="38.01" lengthAdjust="spacingAndGlyphs" transform="translate(305.6 2045.6) rotate(-38.4)">HPC</text>
<path d="M271.7 1872.2 L271.7 1865.6" fill="none" stroke="#000" stroke-width="2.4" />
<path d="M265.82 1865.6 L277.58 1865.6" fill="none" stroke="#000" stroke-width="2.4" stroke-linecap="round"/>
<rect x="263" y="1872.3" width="17.4" height="144.1" fill="#ff0000" stroke="#000" stroke-width="2.2"/>
<path d="M300.05 1918.5 L300.05 1912.4" fill="none" stroke="#000" stroke-width="2.4" />
<path d="M294.02 1912.4 L306.08 1912.4" fill="none" stroke="#000" stroke-width="2.4" stroke-linecap="round"/>
<rect x="291.1" y="1918.6" width="17.9" height="97.8" fill="#ff0000" stroke="#000" stroke-width="2.2"/>
<text x="272.3" y="1863.8" font-size="17.68" text-anchor="middle" textLength="13" lengthAdjust="spacingAndGlyphs">**</text>
<text x="300.9" y="1912.5" font-size="17.68" text-anchor="middle" textLength="13" lengthAdjust="spacingAndGlyphs">**</text>
<rect x="324.4" y="1975.1" width="21.6" height="16.1" fill="#000" stroke="#000" stroke-width="2.4" rx=".8"/>
<text x="358" y="1991.43" font-size="23.92" textLength="45.5" lengthAdjust="spacingAndGlyphs">Con</text>
<rect x="324.4" y="1998.2" width="21.6" height="16.1" fill="#ff0000" stroke="#000" stroke-width="2.4" rx=".8"/>
<text x="358" y="2014.53" font-size="23.92" textLength="61" lengthAdjust="spacingAndGlyphs">27HC</text>
<text x="82.2" y="1924" font-size="22.36" font-weight="bold" text-anchor="middle" transform="rotate(-90 82.2 1924)" textLength="242.51" lengthAdjust="spacingAndGlyphs">Normalized fold change</text>
<text x="110.3" y="1925" font-size="22.36" font-weight="bold" text-anchor="middle" transform="rotate(-90 110.3 1925)" textLength="180.4" lengthAdjust="spacingAndGlyphs">relative to control</text>
<text x="138.6" y="1924.5" font-size="21.5" font-weight="bold" text-anchor="middle" transform="rotate(-90 138.6 1924.5)">(<tspan font-style="italic">Chop</tspan> mRNA level)</text>
<path d="M585.2 1841.2 L585.2 2015.6" fill="none" stroke="#000" stroke-width="2.8" />
<path d="M583.8 2014.2 L699.6 2014.2" fill="none" stroke="#000" stroke-width="2.8" />
<path d="M578.7 2014.2 L585.2 2014.2" fill="none" stroke="#000" stroke-width="2.8" />
<text x="577.2" y="2022.66" font-size="23.5" font-weight="bold" text-anchor="end" textLength="13.73" lengthAdjust="spacingAndGlyphs">0</text>
<path d="M578.7 1943.1 L585.2 1943.1" fill="none" stroke="#000" stroke-width="2.8" />
<text x="577.2" y="1951.56" font-size="23.5" font-weight="bold" text-anchor="end" textLength="27.45" lengthAdjust="spacingAndGlyphs">50</text>
<path d="M578.7 1872 L585.2 1872" fill="none" stroke="#000" stroke-width="2.8" />
<text x="577.2" y="1880.46" font-size="23.5" font-weight="bold" text-anchor="end" textLength="41.18" lengthAdjust="spacingAndGlyphs">100</text>
<path d="M598.8 2014.2 L598.8 2020" fill="none" stroke="#000" stroke-width="2.8" />
<text font-size="22.5" font-weight="bold" stroke="#000" stroke-width=".7" text-anchor="end" textLength="36" lengthAdjust="spacingAndGlyphs" transform="translate(604.4 2043.4) rotate(-38.4)">LKS</text>
<path d="M627.4 2014.2 L627.4 2020" fill="none" stroke="#000" stroke-width="2.8" />
<text font-size="22.5" font-weight="bold" stroke="#000" stroke-width=".7" text-anchor="end" textLength="38.01" lengthAdjust="spacingAndGlyphs" transform="translate(633 2043.4) rotate(-38.4)">HPC</text>
<path d="M655.5 2014.2 L655.5 2020" fill="none" stroke="#000" stroke-width="2.8" />
<text font-size="22.5" font-weight="bold" stroke="#000" stroke-width=".7" text-anchor="end" textLength="36" lengthAdjust="spacingAndGlyphs" transform="translate(661.1 2043.4) rotate(-38.4)">LKS</text>
<path d="M683.8 2014.2 L683.8 2020" fill="none" stroke="#000" stroke-width="2.8" />
<text font-size="22.5" font-weight="bold" stroke="#000" stroke-width=".7" text-anchor="end" textLength="38.01" lengthAdjust="spacingAndGlyphs" transform="translate(689.4 2043.4) rotate(-38.4)">HPC</text>
<rect x="587.9" y="2011.8" width="21.8" height="2.4" fill="#000"/>
<rect x="616.5" y="2011.8" width="21" height="2.4" fill="#000"/>
<path d="M655.6 1900 L655.6 1874.6" fill="none" stroke="#000" stroke-width="2.4" />
<path d="M649.66 1874.6 L661.54 1874.6" fill="none" stroke="#000" stroke-width="2.4" stroke-linecap="round"/>
<rect x="646.8" y="1900.1" width="17.6" height="114.1" fill="#ff0000" stroke="#000" stroke-width="2.2"/>
<path d="M683.65 1947.1 L683.65 1935.9" fill="none" stroke="#000" stroke-width="2.4" />
<path d="M677.68 1935.9 L689.62 1935.9" fill="none" stroke="#000" stroke-width="2.4" stroke-linecap="round"/>
<rect x="674.8" y="1947.2" width="17.7" height="67" fill="#ff0000" stroke="#000" stroke-width="2.2"/>
<text x="655.6" y="1872" font-size="17.68" text-anchor="middle" textLength="13" lengthAdjust="spacingAndGlyphs">**</text>
<text x="684.6" y="1931.1" font-size="17.68" text-anchor="middle" textLength="13" lengthAdjust="spacingAndGlyphs">**</text>
<rect x="713" y="1972.9" width="22.1" height="16.1" fill="#000" stroke="#000" stroke-width="2.4" rx=".8"/>
<text x="747.2" y="1989.23" font-size="23.92" textLength="45.5" lengthAdjust="spacingAndGlyphs">Con</text>
<rect x="713" y="1996" width="22.1" height="16.1" fill="#ff0000" stroke="#000" stroke-width="2.4" rx=".8"/>
<text x="747.2" y="2012.33" font-size="23.92" textLength="61" lengthAdjust="spacingAndGlyphs">27HC</text>
<text x="466.8" y="1924" font-size="22.36" font-weight="bold" text-anchor="middle" transform="rotate(-90 466.8 1924)" textLength="242.51" lengthAdjust="spacingAndGlyphs">Normalized fold change</text>
<text x="494.8" y="1925" font-size="22.36" font-weight="bold" text-anchor="middle" transform="rotate(-90 494.8 1925)" textLength="180.4" lengthAdjust="spacingAndGlyphs">relative to control</text>
<text x="522.6" y="1924.5" font-size="21.5" font-weight="bold" text-anchor="middle" transform="rotate(-90 522.6 1924.5)">(<tspan font-style="italic">Ire1α</tspan> mRNA level)</text>
</svg></body></html>
